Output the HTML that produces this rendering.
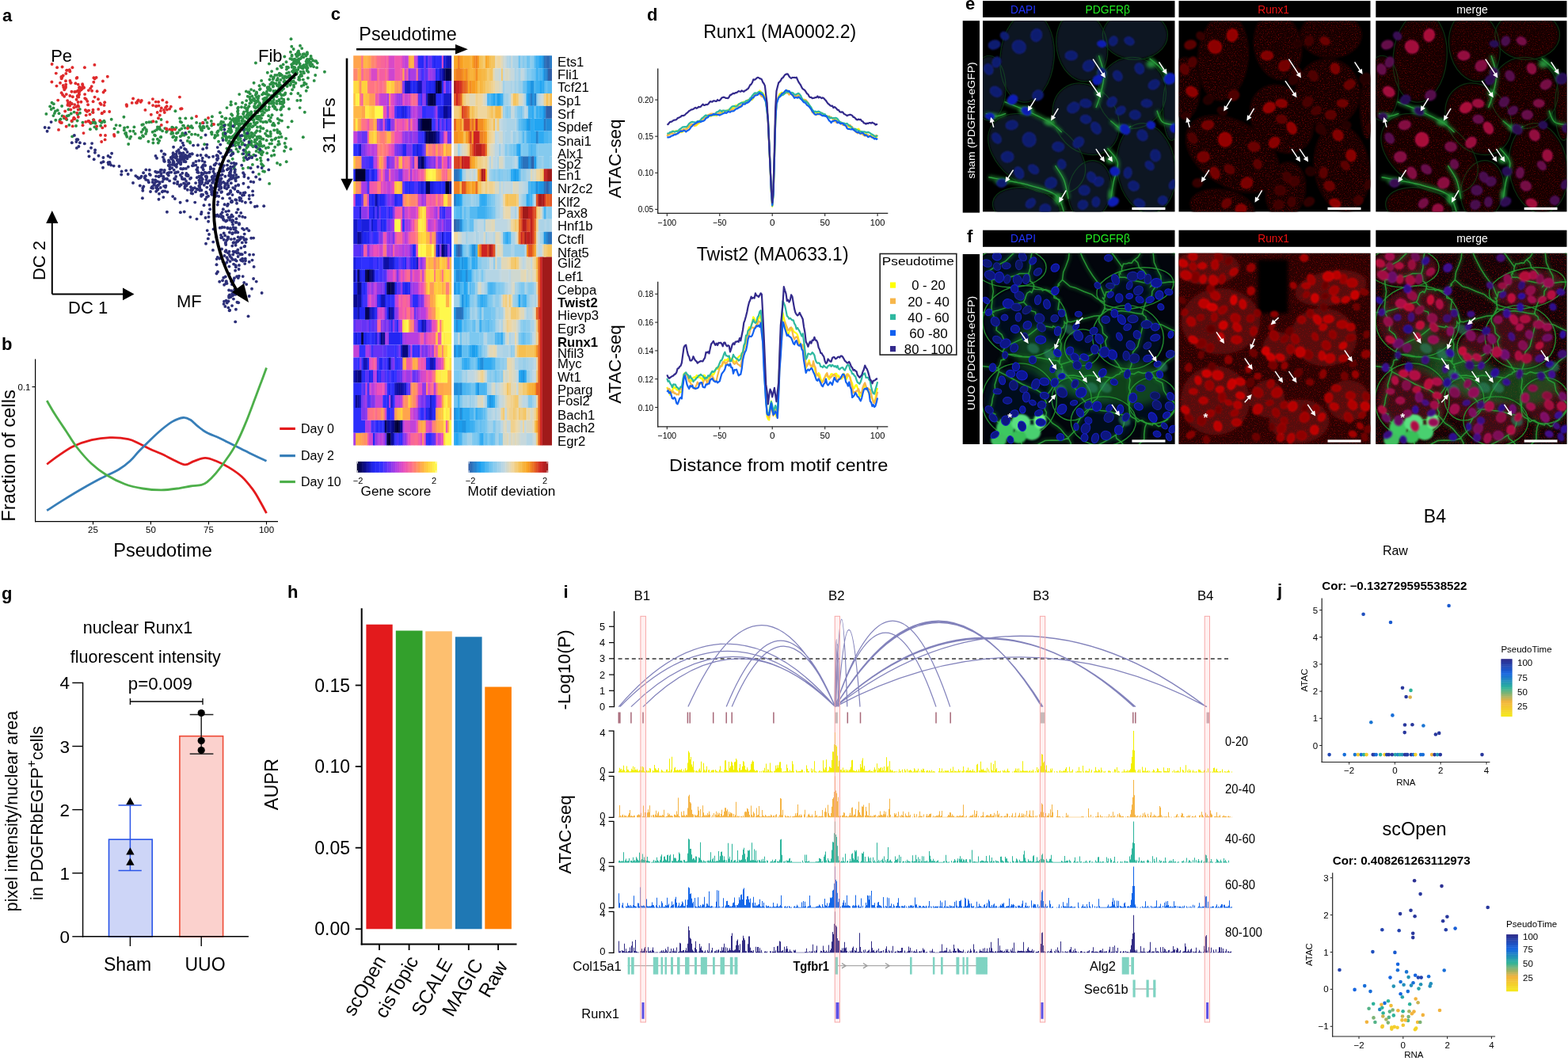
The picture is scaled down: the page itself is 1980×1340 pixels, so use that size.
<!DOCTYPE html>
<html><head><meta charset="utf-8"><title>Figure</title>
<style>html,body{margin:0;padding:0;background:#fff;overflow:hidden;}svg{display:block;font-family:"Liberation Sans",Arial,Helvetica,sans-serif;}</style>
</head><body>
<svg width="1980" height="1340" viewBox="0 0 1980 1340">
<rect width="1980" height="1340" fill="#fff"/>
<g fill="#2b8f45"><circle cx="328" cy="174.6" r="1.95"/><circle cx="332.1" cy="132" r="1.95"/><circle cx="284.9" cy="172.3" r="1.95"/><circle cx="313.2" cy="142.4" r="1.95"/><circle cx="333.9" cy="142.1" r="1.95"/><circle cx="281.8" cy="170" r="1.95"/><circle cx="369.1" cy="113.3" r="1.95"/><circle cx="339.8" cy="110" r="1.95"/><circle cx="324.1" cy="149.3" r="1.95"/><circle cx="315.3" cy="122.8" r="1.95"/><circle cx="371.1" cy="109.9" r="1.95"/><circle cx="392.6" cy="70.9" r="1.95"/><circle cx="320.3" cy="124.5" r="1.95"/><circle cx="302.8" cy="156.2" r="1.95"/><circle cx="304.5" cy="161.6" r="1.95"/><circle cx="297.7" cy="150.3" r="1.95"/><circle cx="370.9" cy="107.7" r="1.95"/><circle cx="296.4" cy="157.4" r="1.95"/><circle cx="306.4" cy="180.7" r="1.95"/><circle cx="345.6" cy="98.2" r="1.95"/><circle cx="301.2" cy="150.7" r="1.95"/><circle cx="370.5" cy="91.6" r="1.95"/><circle cx="386.7" cy="114.8" r="1.95"/><circle cx="331.2" cy="139.7" r="1.95"/><circle cx="378.5" cy="100.8" r="1.95"/><circle cx="364.6" cy="97.4" r="1.95"/><circle cx="357.9" cy="134.6" r="1.95"/><circle cx="377.5" cy="74.4" r="1.95"/><circle cx="380.8" cy="108.8" r="1.95"/><circle cx="315.8" cy="118.6" r="1.95"/><circle cx="346.9" cy="137" r="1.95"/><circle cx="345.7" cy="126.1" r="1.95"/><circle cx="374.4" cy="93.7" r="1.95"/><circle cx="375.1" cy="91.9" r="1.95"/><circle cx="339.3" cy="138.6" r="1.95"/><circle cx="353.7" cy="118.2" r="1.95"/><circle cx="387.8" cy="75.3" r="1.95"/><circle cx="288.1" cy="180.5" r="1.95"/><circle cx="321.4" cy="135.5" r="1.95"/><circle cx="301.4" cy="148.7" r="1.95"/><circle cx="345.5" cy="97.8" r="1.95"/><circle cx="334.2" cy="123.9" r="1.95"/><circle cx="285.7" cy="176.7" r="1.95"/><circle cx="310.3" cy="174.4" r="1.95"/><circle cx="363.1" cy="97.3" r="1.95"/><circle cx="327.1" cy="172.4" r="1.95"/><circle cx="300.6" cy="143.7" r="1.95"/><circle cx="298" cy="152.1" r="1.95"/><circle cx="389.4" cy="75.6" r="1.95"/><circle cx="369" cy="90.2" r="1.95"/><circle cx="383.3" cy="72.3" r="1.95"/><circle cx="325.9" cy="123.8" r="1.95"/><circle cx="297.5" cy="179.1" r="1.95"/><circle cx="284.1" cy="157.8" r="1.95"/><circle cx="345" cy="108.4" r="1.95"/><circle cx="372.8" cy="76.7" r="1.95"/><circle cx="333.3" cy="132.6" r="1.95"/><circle cx="311.2" cy="127.1" r="1.95"/><circle cx="353.4" cy="115.9" r="1.95"/><circle cx="332.1" cy="106.6" r="1.95"/><circle cx="267.2" cy="158.6" r="1.95"/><circle cx="361.9" cy="87.6" r="1.95"/><circle cx="352.8" cy="106.5" r="1.95"/><circle cx="282" cy="154.2" r="1.95"/><circle cx="396.1" cy="84.2" r="1.95"/><circle cx="310.9" cy="158" r="1.95"/><circle cx="298.5" cy="188.2" r="1.95"/><circle cx="377.3" cy="67.3" r="1.95"/><circle cx="280.2" cy="160.3" r="1.95"/><circle cx="323" cy="146.5" r="1.95"/><circle cx="300" cy="141.1" r="1.95"/><circle cx="383.7" cy="84.3" r="1.95"/><circle cx="372.8" cy="77.6" r="1.95"/><circle cx="337.4" cy="118.9" r="1.95"/><circle cx="371.2" cy="80" r="1.95"/><circle cx="306" cy="129.8" r="1.95"/><circle cx="370.1" cy="90" r="1.95"/><circle cx="382.7" cy="68.5" r="1.95"/><circle cx="294.7" cy="173.5" r="1.95"/><circle cx="295.7" cy="160.1" r="1.95"/><circle cx="347.2" cy="121.3" r="1.95"/><circle cx="366.9" cy="65.8" r="1.95"/><circle cx="331.9" cy="144.9" r="1.95"/><circle cx="352.1" cy="127.3" r="1.95"/><circle cx="327.5" cy="108.3" r="1.95"/><circle cx="321" cy="134.1" r="1.95"/><circle cx="381.2" cy="71.5" r="1.95"/><circle cx="320.1" cy="151.5" r="1.95"/><circle cx="300.4" cy="165.6" r="1.95"/><circle cx="367.7" cy="102.9" r="1.95"/><circle cx="360.4" cy="96.7" r="1.95"/><circle cx="304.8" cy="163.3" r="1.95"/><circle cx="335" cy="118.6" r="1.95"/><circle cx="354.5" cy="100.9" r="1.95"/><circle cx="289.7" cy="178.1" r="1.95"/><circle cx="375.9" cy="66.2" r="1.95"/><circle cx="377.2" cy="100.5" r="1.95"/><circle cx="342.4" cy="123" r="1.95"/><circle cx="364" cy="85.4" r="1.95"/><circle cx="322.9" cy="79.5" r="1.95"/><circle cx="294.7" cy="171.6" r="1.95"/><circle cx="386" cy="84.9" r="1.95"/><circle cx="368.3" cy="58.8" r="1.95"/><circle cx="320.7" cy="154.8" r="1.95"/><circle cx="367.5" cy="49.2" r="1.95"/><circle cx="308.2" cy="159.7" r="1.95"/><circle cx="387.9" cy="66.3" r="1.95"/><circle cx="308.3" cy="165.2" r="1.95"/><circle cx="346.3" cy="117.9" r="1.95"/><circle cx="292.2" cy="166.3" r="1.95"/><circle cx="366.4" cy="74.1" r="1.95"/><circle cx="371" cy="87.7" r="1.95"/><circle cx="384.3" cy="104.5" r="1.95"/><circle cx="373.6" cy="68.7" r="1.95"/><circle cx="332.9" cy="117.5" r="1.95"/><circle cx="359.5" cy="96.4" r="1.95"/><circle cx="305" cy="135.3" r="1.95"/><circle cx="310.1" cy="162.6" r="1.95"/><circle cx="387.8" cy="79.9" r="1.95"/><circle cx="325" cy="160.5" r="1.95"/><circle cx="378.6" cy="68.6" r="1.95"/><circle cx="313.6" cy="165.8" r="1.95"/><circle cx="285.4" cy="149.4" r="1.95"/><circle cx="320.6" cy="104.8" r="1.95"/><circle cx="339.2" cy="119.7" r="1.95"/><circle cx="299.3" cy="164.7" r="1.95"/><circle cx="297.6" cy="154.4" r="1.95"/><circle cx="348.5" cy="105.4" r="1.95"/><circle cx="321.3" cy="127.3" r="1.95"/><circle cx="400.7" cy="79.6" r="1.95"/><circle cx="338" cy="126.8" r="1.95"/><circle cx="382.5" cy="86.5" r="1.95"/><circle cx="314.7" cy="178.6" r="1.95"/><circle cx="359.7" cy="106.7" r="1.95"/><circle cx="319.7" cy="159.2" r="1.95"/><circle cx="370.7" cy="62" r="1.95"/><circle cx="354.2" cy="138.5" r="1.95"/><circle cx="347.5" cy="135.7" r="1.95"/><circle cx="391.8" cy="74.2" r="1.95"/><circle cx="287.6" cy="173.6" r="1.95"/><circle cx="375.7" cy="75.8" r="1.95"/><circle cx="364.3" cy="96.2" r="1.95"/><circle cx="383.6" cy="82.3" r="1.95"/><circle cx="316.7" cy="144.9" r="1.95"/><circle cx="326.3" cy="133.2" r="1.95"/><circle cx="343.5" cy="145.3" r="1.95"/><circle cx="382.9" cy="83" r="1.95"/><circle cx="299.5" cy="164.4" r="1.95"/><circle cx="381.4" cy="85.8" r="1.95"/><circle cx="346.1" cy="130.1" r="1.95"/><circle cx="379" cy="83.2" r="1.95"/><circle cx="341.2" cy="106.4" r="1.95"/><circle cx="291.2" cy="154.4" r="1.95"/><circle cx="388.9" cy="98.5" r="1.95"/><circle cx="380.7" cy="93.9" r="1.95"/><circle cx="295.8" cy="151.5" r="1.95"/><circle cx="350.2" cy="118.6" r="1.95"/><circle cx="310.6" cy="169.1" r="1.95"/><circle cx="292.7" cy="173" r="1.95"/><circle cx="312.2" cy="157.2" r="1.95"/><circle cx="350.8" cy="100.9" r="1.95"/><circle cx="330.1" cy="101.9" r="1.95"/><circle cx="296.1" cy="170.4" r="1.95"/><circle cx="303.2" cy="156.4" r="1.95"/><circle cx="339" cy="128.2" r="1.95"/><circle cx="283.6" cy="167.6" r="1.95"/><circle cx="349.4" cy="118.2" r="1.95"/><circle cx="331.2" cy="145.2" r="1.95"/><circle cx="376.7" cy="69.7" r="1.95"/><circle cx="347.4" cy="118.5" r="1.95"/><circle cx="377.1" cy="85.1" r="1.95"/><circle cx="284.9" cy="171.4" r="1.95"/><circle cx="344" cy="158" r="1.95"/><circle cx="292.2" cy="144.3" r="1.95"/><circle cx="400.1" cy="85.4" r="1.95"/><circle cx="324.6" cy="140.5" r="1.95"/><circle cx="350" cy="86.9" r="1.95"/><circle cx="323.4" cy="118.1" r="1.95"/><circle cx="370.6" cy="102.4" r="1.95"/><circle cx="355.5" cy="145.2" r="1.95"/><circle cx="352.8" cy="92.7" r="1.95"/><circle cx="361.9" cy="105.6" r="1.95"/><circle cx="331.9" cy="137.6" r="1.95"/><circle cx="296.4" cy="179.9" r="1.95"/><circle cx="342.7" cy="121" r="1.95"/><circle cx="332.3" cy="125.1" r="1.95"/><circle cx="374.4" cy="80.7" r="1.95"/><circle cx="366.4" cy="107.5" r="1.95"/><circle cx="362.1" cy="92.4" r="1.95"/><circle cx="398.2" cy="95" r="1.95"/><circle cx="331.4" cy="140.5" r="1.95"/><circle cx="334.3" cy="134.9" r="1.95"/><circle cx="320.6" cy="151.3" r="1.95"/><circle cx="353.9" cy="130.9" r="1.95"/><circle cx="345.3" cy="124.1" r="1.95"/><circle cx="358.5" cy="103.2" r="1.95"/><circle cx="331.1" cy="119.4" r="1.95"/><circle cx="352.1" cy="112.5" r="1.95"/><circle cx="354.9" cy="108.8" r="1.95"/><circle cx="299" cy="162.3" r="1.95"/><circle cx="328.6" cy="112.3" r="1.95"/><circle cx="354.4" cy="93.7" r="1.95"/><circle cx="309.9" cy="153.9" r="1.95"/><circle cx="359.3" cy="71.5" r="1.95"/><circle cx="337.9" cy="110.5" r="1.95"/><circle cx="392.4" cy="83.6" r="1.95"/><circle cx="307.4" cy="143.5" r="1.95"/><circle cx="377" cy="78.5" r="1.95"/><circle cx="291.7" cy="128.7" r="1.95"/><circle cx="379.6" cy="90.8" r="1.95"/><circle cx="312.9" cy="136.2" r="1.95"/><circle cx="316.8" cy="127.3" r="1.95"/><circle cx="349.4" cy="138.6" r="1.95"/><circle cx="313.6" cy="150.4" r="1.95"/><circle cx="355.5" cy="135.6" r="1.95"/><circle cx="312.9" cy="159.6" r="1.95"/><circle cx="396.7" cy="101.9" r="1.95"/><circle cx="284.3" cy="149.7" r="1.95"/><circle cx="328.9" cy="132.9" r="1.95"/><circle cx="327.9" cy="113.1" r="1.95"/><circle cx="349.9" cy="117.7" r="1.95"/><circle cx="300" cy="146.6" r="1.95"/><circle cx="359.7" cy="119.3" r="1.95"/><circle cx="356.8" cy="131.9" r="1.95"/><circle cx="357.1" cy="98.1" r="1.95"/><circle cx="358.1" cy="120" r="1.95"/><circle cx="360.4" cy="107.6" r="1.95"/><circle cx="301.9" cy="149.2" r="1.95"/><circle cx="352.6" cy="126" r="1.95"/><circle cx="373.9" cy="91.5" r="1.95"/><circle cx="325.9" cy="127.7" r="1.95"/><circle cx="313.5" cy="116.6" r="1.95"/><circle cx="347.3" cy="95" r="1.95"/><circle cx="290.4" cy="149.9" r="1.95"/><circle cx="388.4" cy="110.2" r="1.95"/><circle cx="345.3" cy="115" r="1.95"/><circle cx="387.6" cy="75.8" r="1.95"/><circle cx="350.7" cy="150" r="1.95"/><circle cx="308.9" cy="153.2" r="1.95"/><circle cx="324.1" cy="118" r="1.95"/><circle cx="336.8" cy="126" r="1.95"/><circle cx="324.8" cy="150.1" r="1.95"/><circle cx="323.2" cy="129.1" r="1.95"/><circle cx="342.3" cy="95.9" r="1.95"/><circle cx="339.9" cy="130.8" r="1.95"/><circle cx="387.5" cy="86.7" r="1.95"/><circle cx="325.8" cy="124.6" r="1.95"/><circle cx="314.5" cy="116.1" r="1.95"/><circle cx="355" cy="137.5" r="1.95"/><circle cx="365" cy="137.5" r="1.95"/><circle cx="375.3" cy="126.9" r="1.95"/><circle cx="333.2" cy="125.2" r="1.95"/><circle cx="362.7" cy="109.1" r="1.95"/><circle cx="282.6" cy="171" r="1.95"/><circle cx="389.3" cy="90.9" r="1.95"/><circle cx="302.1" cy="172.4" r="1.95"/><circle cx="300.7" cy="191.5" r="1.95"/><circle cx="301.3" cy="170.2" r="1.95"/><circle cx="358.6" cy="99" r="1.95"/><circle cx="342.8" cy="130.7" r="1.95"/><circle cx="372.7" cy="89.9" r="1.95"/><circle cx="330.9" cy="144.3" r="1.95"/><circle cx="290.5" cy="182.1" r="1.95"/><circle cx="315.4" cy="130.4" r="1.95"/><circle cx="305.4" cy="152.8" r="1.95"/><circle cx="359.5" cy="103.4" r="1.95"/><circle cx="360.1" cy="103.6" r="1.95"/><circle cx="312.7" cy="171.7" r="1.95"/><circle cx="377.5" cy="97.7" r="1.95"/><circle cx="345.1" cy="130" r="1.95"/><circle cx="325" cy="142" r="1.95"/><circle cx="324" cy="116.4" r="1.95"/><circle cx="348.2" cy="114.6" r="1.95"/><circle cx="371" cy="75.2" r="1.95"/><circle cx="368.6" cy="69.6" r="1.95"/><circle cx="376.3" cy="75.9" r="1.95"/><circle cx="294.8" cy="149.9" r="1.95"/><circle cx="325.3" cy="135.2" r="1.95"/><circle cx="393.5" cy="74.2" r="1.95"/><circle cx="315.5" cy="159.1" r="1.95"/><circle cx="342" cy="96.2" r="1.95"/><circle cx="374.3" cy="88.7" r="1.95"/><circle cx="291.4" cy="163.8" r="1.95"/><circle cx="335.1" cy="138.3" r="1.95"/><circle cx="343.2" cy="104.1" r="1.95"/><circle cx="377.4" cy="67.3" r="1.95"/><circle cx="296.5" cy="180.7" r="1.95"/><circle cx="349.7" cy="122.1" r="1.95"/><circle cx="391.7" cy="79.1" r="1.95"/><circle cx="287.9" cy="166" r="1.95"/><circle cx="301.7" cy="172.9" r="1.95"/><circle cx="308.5" cy="161.9" r="1.95"/><circle cx="278.3" cy="162.9" r="1.95"/><circle cx="332.9" cy="117.5" r="1.95"/><circle cx="352.3" cy="114.1" r="1.95"/><circle cx="313.8" cy="146.3" r="1.95"/><circle cx="291.1" cy="157.4" r="1.95"/><circle cx="338.5" cy="120.6" r="1.95"/><circle cx="379.6" cy="94.8" r="1.95"/><circle cx="344.8" cy="100" r="1.95"/><circle cx="339.9" cy="80.6" r="1.95"/><circle cx="324" cy="122.8" r="1.95"/><circle cx="343.8" cy="104.8" r="1.95"/><circle cx="344.8" cy="109.6" r="1.95"/><circle cx="301.9" cy="157.5" r="1.95"/><circle cx="354.2" cy="107.8" r="1.95"/><circle cx="356.1" cy="95.1" r="1.95"/><circle cx="354.3" cy="83.4" r="1.95"/><circle cx="352.7" cy="104.2" r="1.95"/><circle cx="376.3" cy="87.9" r="1.95"/><circle cx="366.8" cy="102.7" r="1.95"/><circle cx="296.2" cy="153.8" r="1.95"/><circle cx="295.9" cy="153.7" r="1.95"/><circle cx="301.6" cy="152.7" r="1.95"/><circle cx="308" cy="141.4" r="1.95"/><circle cx="346" cy="105.1" r="1.95"/><circle cx="291.8" cy="174.2" r="1.95"/><circle cx="336.7" cy="123.2" r="1.95"/><circle cx="368.7" cy="75" r="1.95"/><circle cx="317.6" cy="147.5" r="1.95"/><circle cx="310.9" cy="115.4" r="1.95"/><circle cx="352.3" cy="109.5" r="1.95"/><circle cx="357.6" cy="81.4" r="1.95"/><circle cx="291.3" cy="157" r="1.95"/><circle cx="326.8" cy="121.5" r="1.95"/><circle cx="361.9" cy="98.1" r="1.95"/><circle cx="330" cy="149.3" r="1.95"/><circle cx="334.4" cy="134.4" r="1.95"/><circle cx="374.9" cy="71.5" r="1.95"/><circle cx="368.6" cy="84.7" r="1.95"/><circle cx="327.1" cy="147.6" r="1.95"/><circle cx="387.8" cy="89.2" r="1.95"/><circle cx="341.5" cy="127.1" r="1.95"/><circle cx="353.5" cy="95.4" r="1.95"/><circle cx="364.8" cy="91.5" r="1.95"/><circle cx="379.9" cy="85.1" r="1.95"/><circle cx="355.6" cy="120.3" r="1.95"/><circle cx="292" cy="165.4" r="1.95"/><circle cx="317.3" cy="180.3" r="1.95"/><circle cx="378.2" cy="84.6" r="1.95"/><circle cx="317.2" cy="141.4" r="1.95"/><circle cx="326.2" cy="146.9" r="1.95"/><circle cx="314.4" cy="134.2" r="1.95"/><circle cx="317" cy="145.4" r="1.95"/><circle cx="337.8" cy="91.7" r="1.95"/><circle cx="323" cy="136.2" r="1.95"/><circle cx="290.5" cy="164.8" r="1.95"/><circle cx="314" cy="149.8" r="1.95"/><circle cx="390.1" cy="76.7" r="1.95"/><circle cx="372.3" cy="85.2" r="1.95"/><circle cx="344.4" cy="104.3" r="1.95"/><circle cx="392.3" cy="78.7" r="1.95"/><circle cx="361.5" cy="78.2" r="1.95"/><circle cx="314.4" cy="172.8" r="1.95"/><circle cx="370.5" cy="103.2" r="1.95"/><circle cx="348.6" cy="120.1" r="1.95"/><circle cx="399.1" cy="77.3" r="1.95"/><circle cx="301.6" cy="159" r="1.95"/><circle cx="394.3" cy="81.5" r="1.95"/><circle cx="302.7" cy="164.3" r="1.95"/><circle cx="367.5" cy="98" r="1.95"/><circle cx="378.6" cy="80.5" r="1.95"/><circle cx="299.8" cy="174.4" r="1.95"/><circle cx="300.5" cy="139.8" r="1.95"/><circle cx="343.1" cy="105.8" r="1.95"/><circle cx="308.7" cy="147.5" r="1.95"/><circle cx="388.5" cy="85.8" r="1.95"/><circle cx="308.2" cy="189.5" r="1.95"/><circle cx="309" cy="135.7" r="1.95"/><circle cx="307.2" cy="144" r="1.95"/><circle cx="354.1" cy="129.3" r="1.95"/><circle cx="389.1" cy="78.7" r="1.95"/><circle cx="345.8" cy="133.7" r="1.95"/><circle cx="282.6" cy="160.3" r="1.95"/><circle cx="376.9" cy="64.4" r="1.95"/><circle cx="314.5" cy="143.6" r="1.95"/><circle cx="339.8" cy="135.2" r="1.95"/><circle cx="295.2" cy="181.6" r="1.95"/><circle cx="373.4" cy="105" r="1.95"/><circle cx="391.1" cy="81.9" r="1.95"/><circle cx="363.6" cy="85" r="1.95"/><circle cx="350" cy="94.9" r="1.95"/><circle cx="310.2" cy="132.4" r="1.95"/><circle cx="366" cy="95.2" r="1.95"/><circle cx="334.1" cy="107.9" r="1.95"/><circle cx="296.1" cy="175.3" r="1.95"/><circle cx="291.6" cy="159.8" r="1.95"/><circle cx="383.9" cy="92.3" r="1.95"/><circle cx="307.7" cy="161" r="1.95"/><circle cx="333" cy="128.9" r="1.95"/><circle cx="325.9" cy="147.1" r="1.95"/><circle cx="342" cy="148.6" r="1.95"/><circle cx="299.6" cy="156.3" r="1.95"/><circle cx="381.7" cy="84.3" r="1.95"/><circle cx="362.1" cy="84.6" r="1.95"/><circle cx="386.6" cy="77.6" r="1.95"/><circle cx="311.4" cy="140.3" r="1.95"/><circle cx="338.3" cy="112.7" r="1.95"/><circle cx="336.9" cy="115.7" r="1.95"/><circle cx="351.5" cy="107.6" r="1.95"/><circle cx="388" cy="68.3" r="1.95"/><circle cx="285.8" cy="177.1" r="1.95"/><circle cx="318.8" cy="151" r="1.95"/><circle cx="290.9" cy="179.6" r="1.95"/><circle cx="341.3" cy="124.4" r="1.95"/><circle cx="341.6" cy="113" r="1.95"/><circle cx="381.2" cy="61.1" r="1.95"/><circle cx="301" cy="176.6" r="1.95"/><circle cx="301.4" cy="180.4" r="1.95"/><circle cx="322.2" cy="140.5" r="1.95"/><circle cx="370.8" cy="78.6" r="1.95"/><circle cx="386.5" cy="70.5" r="1.95"/><circle cx="376.4" cy="118" r="1.95"/><circle cx="382.8" cy="100.6" r="1.95"/><circle cx="305.4" cy="182.5" r="1.95"/><circle cx="370.5" cy="84.8" r="1.95"/><circle cx="328.3" cy="165.7" r="1.95"/><circle cx="350.7" cy="99" r="1.95"/><circle cx="343.1" cy="90.1" r="1.95"/><circle cx="360.3" cy="117.5" r="1.95"/><circle cx="305.6" cy="162.4" r="1.95"/><circle cx="355.7" cy="85.3" r="1.95"/><circle cx="322" cy="135" r="1.95"/><circle cx="309.4" cy="163.6" r="1.95"/><circle cx="308.7" cy="189.7" r="1.95"/><circle cx="344.1" cy="128.3" r="1.95"/><circle cx="359.9" cy="102.3" r="1.95"/><circle cx="318.4" cy="121.5" r="1.95"/><circle cx="368.2" cy="81.4" r="1.95"/><circle cx="341" cy="114.3" r="1.95"/><circle cx="388.4" cy="75" r="1.95"/><circle cx="340" cy="112.5" r="1.95"/><circle cx="379" cy="57.7" r="1.95"/><circle cx="292.8" cy="151.7" r="1.95"/><circle cx="358.3" cy="127.7" r="1.95"/><circle cx="367.1" cy="105.9" r="1.95"/><circle cx="355.6" cy="124.1" r="1.95"/><circle cx="367.5" cy="118.2" r="1.95"/><circle cx="298.9" cy="154.5" r="1.95"/><circle cx="291.6" cy="164" r="1.95"/><circle cx="338.5" cy="111.8" r="1.95"/><circle cx="335" cy="134.1" r="1.95"/><circle cx="378.3" cy="74.6" r="1.95"/><circle cx="379.4" cy="126.8" r="1.95"/><circle cx="289.2" cy="162.6" r="1.95"/><circle cx="277.9" cy="142.2" r="1.95"/><circle cx="329.2" cy="140.4" r="1.95"/><circle cx="293.3" cy="145.8" r="1.95"/><circle cx="322.1" cy="131.1" r="1.95"/><circle cx="379.2" cy="120.9" r="1.95"/><circle cx="349.7" cy="130.9" r="1.95"/><circle cx="325.1" cy="142.3" r="1.95"/><circle cx="289.8" cy="158.2" r="1.95"/><circle cx="384.2" cy="68.2" r="1.95"/><circle cx="332.2" cy="106.5" r="1.95"/><circle cx="387.3" cy="83.5" r="1.95"/><circle cx="336.8" cy="139.6" r="1.95"/><circle cx="358.2" cy="125.7" r="1.95"/><circle cx="351.7" cy="114.8" r="1.95"/><circle cx="372.2" cy="74.8" r="1.95"/><circle cx="317.1" cy="113.1" r="1.95"/><circle cx="375.8" cy="77.9" r="1.95"/><circle cx="386.8" cy="85.2" r="1.95"/><circle cx="335.3" cy="127.4" r="1.95"/><circle cx="322.8" cy="120" r="1.95"/><circle cx="371.5" cy="98.2" r="1.95"/><circle cx="338.9" cy="127.2" r="1.95"/><circle cx="321.4" cy="126" r="1.95"/><circle cx="379.9" cy="73.8" r="1.95"/><circle cx="337.9" cy="110.5" r="1.95"/><circle cx="323.7" cy="155.3" r="1.95"/><circle cx="291.4" cy="132.3" r="1.95"/><circle cx="297.6" cy="130.9" r="1.95"/><circle cx="377" cy="77" r="1.95"/><circle cx="381.1" cy="95.9" r="1.95"/><circle cx="302.9" cy="187.1" r="1.95"/><circle cx="383" cy="90.4" r="1.95"/><circle cx="303.1" cy="148" r="1.95"/><circle cx="349.9" cy="108" r="1.95"/><circle cx="395.3" cy="76.5" r="1.95"/><circle cx="363.2" cy="105.7" r="1.95"/><circle cx="332.3" cy="162.2" r="1.95"/><circle cx="317.5" cy="129.1" r="1.95"/><circle cx="316.3" cy="181.6" r="1.95"/><circle cx="306.2" cy="171.3" r="1.95"/><circle cx="374.2" cy="88.4" r="1.95"/><circle cx="318.1" cy="160.2" r="1.95"/><circle cx="317.2" cy="141.5" r="1.95"/><circle cx="356" cy="114.1" r="1.95"/><circle cx="300.2" cy="136.8" r="1.95"/><circle cx="391.7" cy="79" r="1.95"/><circle cx="318.7" cy="126.6" r="1.95"/><circle cx="299.8" cy="150.5" r="1.95"/><circle cx="368.5" cy="70.9" r="1.95"/><circle cx="370.5" cy="103.2" r="1.95"/><circle cx="386.7" cy="106.1" r="1.95"/><circle cx="324.5" cy="127.5" r="1.95"/><circle cx="375.8" cy="78.2" r="1.95"/><circle cx="305.8" cy="155.9" r="1.95"/><circle cx="378.8" cy="96.6" r="1.95"/><circle cx="320.8" cy="146.6" r="1.95"/><circle cx="340.5" cy="100.5" r="1.95"/><circle cx="320.7" cy="114.6" r="1.95"/><circle cx="310.8" cy="137.1" r="1.95"/><circle cx="409.9" cy="90.7" r="1.95"/><circle cx="349.5" cy="101.2" r="1.95"/><circle cx="290.4" cy="156.2" r="1.95"/><circle cx="301.1" cy="151.2" r="1.95"/><circle cx="303.2" cy="157.2" r="1.95"/><circle cx="326.9" cy="150.9" r="1.95"/><circle cx="369" cy="81.1" r="1.95"/><circle cx="315.2" cy="174.7" r="1.95"/><circle cx="315.9" cy="125.3" r="1.95"/><circle cx="386.7" cy="81" r="1.95"/><circle cx="291.1" cy="161.4" r="1.95"/><circle cx="323.9" cy="128.7" r="1.95"/><circle cx="352" cy="107.6" r="1.95"/><circle cx="349.4" cy="127.9" r="1.95"/><circle cx="358.1" cy="112.1" r="1.95"/><circle cx="398.1" cy="77.3" r="1.95"/><circle cx="324.5" cy="201.4" r="1.95"/><circle cx="327.2" cy="183.3" r="1.95"/><circle cx="329.7" cy="194.4" r="1.95"/><circle cx="341.5" cy="166.4" r="1.95"/><circle cx="328.7" cy="159.9" r="1.95"/><circle cx="312" cy="162.7" r="1.95"/><circle cx="340.1" cy="231.9" r="1.95"/><circle cx="318.9" cy="207.9" r="1.95"/><circle cx="329.1" cy="181.4" r="1.95"/><circle cx="289.1" cy="203.5" r="1.95"/><circle cx="292.1" cy="184.2" r="1.95"/><circle cx="306.5" cy="181.6" r="1.95"/><circle cx="367.1" cy="188.2" r="1.95"/><circle cx="289.5" cy="191.4" r="1.95"/><circle cx="309.8" cy="189.9" r="1.95"/><circle cx="280.9" cy="174.2" r="1.95"/><circle cx="313.9" cy="169.2" r="1.95"/><circle cx="337.1" cy="165.2" r="1.95"/><circle cx="321.3" cy="170.9" r="1.95"/><circle cx="345.4" cy="190.3" r="1.95"/><circle cx="316" cy="173" r="1.95"/><circle cx="332.4" cy="175.8" r="1.95"/><circle cx="338.7" cy="172" r="1.95"/><circle cx="330.4" cy="190.9" r="1.95"/><circle cx="297.2" cy="168.9" r="1.95"/><circle cx="327.8" cy="172.6" r="1.95"/><circle cx="338.9" cy="186.3" r="1.95"/><circle cx="322.7" cy="167.5" r="1.95"/><circle cx="327.9" cy="130.2" r="1.95"/><circle cx="298.2" cy="168.5" r="1.95"/><circle cx="351.7" cy="155.5" r="1.95"/><circle cx="323.6" cy="190.9" r="1.95"/><circle cx="351" cy="182.7" r="1.95"/><circle cx="322.2" cy="183.3" r="1.95"/><circle cx="306.2" cy="194.4" r="1.95"/><circle cx="298" cy="149.5" r="1.95"/><circle cx="324.5" cy="176" r="1.95"/><circle cx="340.5" cy="181.6" r="1.95"/><circle cx="321.9" cy="176.4" r="1.95"/><circle cx="350.7" cy="167.6" r="1.95"/><circle cx="342.9" cy="176.6" r="1.95"/><circle cx="352.9" cy="181.9" r="1.95"/><circle cx="307.9" cy="199.2" r="1.95"/><circle cx="360.5" cy="185.2" r="1.95"/><circle cx="331" cy="208" r="1.95"/><circle cx="342.9" cy="181.4" r="1.95"/><circle cx="314.6" cy="193" r="1.95"/><circle cx="312.6" cy="144.1" r="1.95"/><circle cx="300.9" cy="162.2" r="1.95"/><circle cx="293.7" cy="200.7" r="1.95"/><circle cx="336.9" cy="171.3" r="1.95"/><circle cx="285.7" cy="175" r="1.95"/><circle cx="335" cy="168.7" r="1.95"/><circle cx="324.7" cy="173" r="1.95"/><circle cx="319" cy="168.6" r="1.95"/><circle cx="298.7" cy="165.4" r="1.95"/><circle cx="322.4" cy="178.8" r="1.95"/><circle cx="361.7" cy="204.2" r="1.95"/><circle cx="300.9" cy="135.6" r="1.95"/><circle cx="313.5" cy="211.8" r="1.95"/><circle cx="328.9" cy="173" r="1.95"/><circle cx="311.1" cy="196.4" r="1.95"/><circle cx="337.2" cy="193.4" r="1.95"/><circle cx="359" cy="190.8" r="1.95"/><circle cx="329.1" cy="153" r="1.95"/><circle cx="322.3" cy="157.4" r="1.95"/><circle cx="303.7" cy="175.1" r="1.95"/><circle cx="295.2" cy="178.9" r="1.95"/><circle cx="346.2" cy="164.4" r="1.95"/><circle cx="350.6" cy="166.5" r="1.95"/><circle cx="286.5" cy="187.5" r="1.95"/><circle cx="359.6" cy="180.9" r="1.95"/><circle cx="317.4" cy="178.2" r="1.95"/><circle cx="347.2" cy="175.7" r="1.95"/><circle cx="328.9" cy="199.6" r="1.95"/><circle cx="314.4" cy="164.3" r="1.95"/><circle cx="279.6" cy="163.7" r="1.95"/><circle cx="363.8" cy="160.6" r="1.95"/><circle cx="352.7" cy="166.5" r="1.95"/><circle cx="326.3" cy="182.4" r="1.95"/><circle cx="315.1" cy="157.5" r="1.95"/><circle cx="330.6" cy="195.5" r="1.95"/><circle cx="355.9" cy="152.6" r="1.95"/><circle cx="335.8" cy="187" r="1.95"/><circle cx="352.2" cy="173.5" r="1.95"/><circle cx="332.5" cy="209.4" r="1.95"/><circle cx="328.6" cy="178.9" r="1.95"/><circle cx="358.4" cy="129.5" r="1.95"/><circle cx="313.1" cy="164.3" r="1.95"/><circle cx="340.1" cy="151.7" r="1.95"/><circle cx="329.3" cy="183.9" r="1.95"/><circle cx="316.9" cy="182.1" r="1.95"/><circle cx="310.1" cy="174" r="1.95"/><circle cx="310.2" cy="191.6" r="1.95"/><circle cx="308.9" cy="167.9" r="1.95"/><circle cx="334" cy="216.8" r="1.95"/><circle cx="297.2" cy="184" r="1.95"/><circle cx="313.1" cy="185" r="1.95"/><circle cx="329.5" cy="161.9" r="1.95"/><circle cx="331.5" cy="184.7" r="1.95"/><circle cx="345.2" cy="155.7" r="1.95"/><circle cx="316.9" cy="197.5" r="1.95"/><circle cx="316.8" cy="172" r="1.95"/><circle cx="329.6" cy="203" r="1.95"/><circle cx="293.9" cy="192.5" r="1.95"/><circle cx="354" cy="169" r="1.95"/><circle cx="304.3" cy="178.5" r="1.95"/><circle cx="343.5" cy="177.1" r="1.95"/><circle cx="310.5" cy="175.1" r="1.95"/><circle cx="289.4" cy="172.7" r="1.95"/><circle cx="333.2" cy="184.1" r="1.95"/><circle cx="320.4" cy="195.6" r="1.95"/><circle cx="314.4" cy="192.1" r="1.95"/><circle cx="295.5" cy="212.5" r="1.95"/><circle cx="361.1" cy="174.9" r="1.95"/><circle cx="325.9" cy="187.8" r="1.95"/><circle cx="324.5" cy="181.4" r="1.95"/><circle cx="326" cy="187.8" r="1.95"/><circle cx="316.4" cy="182.4" r="1.95"/><circle cx="320.8" cy="196.1" r="1.95"/><circle cx="351.8" cy="178.8" r="1.95"/><circle cx="342.9" cy="196.7" r="1.95"/><circle cx="327" cy="219.9" r="1.95"/><circle cx="295.8" cy="210" r="1.95"/><circle cx="328.2" cy="184.7" r="1.95"/><circle cx="306.8" cy="212.7" r="1.95"/><circle cx="327.9" cy="179.1" r="1.95"/><circle cx="341.7" cy="171.9" r="1.95"/><circle cx="332" cy="192.3" r="1.95"/><circle cx="324.4" cy="186.2" r="1.95"/><circle cx="311.1" cy="175.1" r="1.95"/><circle cx="317.7" cy="170.8" r="1.95"/><circle cx="324.7" cy="173.8" r="1.95"/><circle cx="312.2" cy="183.8" r="1.95"/><circle cx="308" cy="202.8" r="1.95"/><circle cx="312.3" cy="139" r="1.95"/><circle cx="319.2" cy="173.1" r="1.95"/><circle cx="350" cy="206" r="1.95"/><circle cx="313.9" cy="182.8" r="1.95"/><circle cx="311.4" cy="193.3" r="1.95"/><circle cx="336.6" cy="177.2" r="1.95"/><circle cx="315" cy="162.8" r="1.95"/><circle cx="313" cy="166.7" r="1.95"/><circle cx="330" cy="207" r="1.95"/><circle cx="317.3" cy="167.8" r="1.95"/><circle cx="291.1" cy="167.5" r="1.95"/><circle cx="332.2" cy="216.2" r="1.95"/><circle cx="316.3" cy="179.1" r="1.95"/><circle cx="301" cy="183.1" r="1.95"/><circle cx="347.2" cy="185.7" r="1.95"/><circle cx="312.1" cy="169.6" r="1.95"/><circle cx="353.8" cy="208" r="1.95"/><circle cx="382.8" cy="173.3" r="1.95"/><circle cx="329" cy="190.2" r="1.95"/><circle cx="309.4" cy="171.8" r="1.95"/><circle cx="311.5" cy="186.8" r="1.95"/><circle cx="346.4" cy="195.7" r="1.95"/><circle cx="348.4" cy="174.4" r="1.95"/><circle cx="298.2" cy="224.2" r="1.95"/><circle cx="324.3" cy="165.2" r="1.95"/><circle cx="336.8" cy="154.2" r="1.95"/><circle cx="317.8" cy="183.3" r="1.95"/><circle cx="321.4" cy="179.3" r="1.95"/><circle cx="276" cy="178.8" r="1.95"/><circle cx="327.1" cy="192.2" r="1.95"/><circle cx="311.4" cy="162.6" r="1.95"/><circle cx="291" cy="174.2" r="1.95"/><circle cx="332.2" cy="154.2" r="1.95"/><circle cx="324.9" cy="154.6" r="1.95"/><circle cx="299.5" cy="180.2" r="1.95"/><circle cx="238.2" cy="173.8" r="1.95"/><circle cx="200.3" cy="161.5" r="1.95"/><circle cx="279.2" cy="156.7" r="1.95"/><circle cx="229.3" cy="162.5" r="1.95"/><circle cx="229.1" cy="154.6" r="1.95"/><circle cx="201.2" cy="177.7" r="1.95"/><circle cx="236.8" cy="178" r="1.95"/><circle cx="234.3" cy="149.4" r="1.95"/><circle cx="202.3" cy="163.6" r="1.95"/><circle cx="195.1" cy="170.5" r="1.95"/><circle cx="248.1" cy="154.9" r="1.95"/><circle cx="271" cy="174" r="1.95"/><circle cx="179.3" cy="157.7" r="1.95"/><circle cx="219.4" cy="172.2" r="1.95"/><circle cx="188.3" cy="154.2" r="1.95"/><circle cx="192.7" cy="166.7" r="1.95"/><circle cx="216.3" cy="168.9" r="1.95"/><circle cx="266.8" cy="152.9" r="1.95"/><circle cx="185" cy="166.1" r="1.95"/><circle cx="221.3" cy="177.1" r="1.95"/><circle cx="226.7" cy="164.2" r="1.95"/><circle cx="230.3" cy="168.2" r="1.95"/><circle cx="191.3" cy="154" r="1.95"/><circle cx="252.8" cy="156.1" r="1.95"/><circle cx="202.8" cy="173.3" r="1.95"/><circle cx="217.3" cy="160.8" r="1.95"/><circle cx="177.5" cy="174.5" r="1.95"/><circle cx="197.9" cy="163.9" r="1.95"/><circle cx="195.4" cy="165.4" r="1.95"/><circle cx="257.5" cy="161.2" r="1.95"/><circle cx="203.3" cy="173" r="1.95"/><circle cx="271.6" cy="170.9" r="1.95"/><circle cx="274.2" cy="167.3" r="1.95"/><circle cx="197.3" cy="153.9" r="1.95"/><circle cx="246.5" cy="169.6" r="1.95"/><circle cx="218.3" cy="173.3" r="1.95"/><circle cx="217.4" cy="167.4" r="1.95"/><circle cx="256.8" cy="160" r="1.95"/><circle cx="250.1" cy="170.7" r="1.95"/><circle cx="267.9" cy="156.8" r="1.95"/><circle cx="242" cy="169.7" r="1.95"/><circle cx="281.9" cy="168.2" r="1.95"/><circle cx="258.2" cy="182.2" r="1.95"/><circle cx="217.6" cy="161.4" r="1.95"/><circle cx="182.7" cy="161.3" r="1.95"/><circle cx="261.5" cy="154.9" r="1.95"/><circle cx="232.6" cy="170.7" r="1.95"/><circle cx="278.7" cy="160.9" r="1.95"/><circle cx="243" cy="161.4" r="1.95"/><circle cx="227.2" cy="149.5" r="1.95"/><circle cx="223" cy="168.3" r="1.95"/><circle cx="229.9" cy="170.8" r="1.95"/><circle cx="231.1" cy="158.6" r="1.95"/><circle cx="234.2" cy="169.3" r="1.95"/><circle cx="259.4" cy="151.5" r="1.95"/><circle cx="222" cy="176.4" r="1.95"/><circle cx="238.9" cy="166.6" r="1.95"/><circle cx="263.5" cy="162.3" r="1.95"/><circle cx="200.1" cy="162.3" r="1.95"/><circle cx="184" cy="168.9" r="1.95"/><circle cx="184.9" cy="163.9" r="1.95"/><circle cx="261.5" cy="159.5" r="1.95"/><circle cx="253.2" cy="161.5" r="1.95"/><circle cx="256.6" cy="159.6" r="1.95"/><circle cx="254.5" cy="162.8" r="1.95"/><circle cx="221.4" cy="140.2" r="1.95"/><circle cx="267.9" cy="147.2" r="1.95"/><circle cx="275.6" cy="165.4" r="1.95"/><circle cx="235" cy="169.6" r="1.95"/><circle cx="176.1" cy="174.3" r="1.95"/><circle cx="205.1" cy="165.4" r="1.95"/><circle cx="211" cy="165" r="1.95"/><circle cx="240" cy="179.3" r="1.95"/><circle cx="233.6" cy="161.6" r="1.95"/><circle cx="210.1" cy="166.8" r="1.95"/><circle cx="275" cy="166.1" r="1.95"/><circle cx="203.5" cy="151" r="1.95"/><circle cx="198.9" cy="175.8" r="1.95"/><circle cx="218.2" cy="168.2" r="1.95"/><circle cx="227.7" cy="153.7" r="1.95"/><circle cx="217.1" cy="165.8" r="1.95"/><circle cx="267.5" cy="167.1" r="1.95"/><circle cx="240.1" cy="180.6" r="1.95"/><circle cx="180.6" cy="163.7" r="1.95"/><circle cx="222.7" cy="173.8" r="1.95"/><circle cx="239.8" cy="160.6" r="1.95"/><circle cx="266.9" cy="167.3" r="1.95"/><circle cx="208.3" cy="162.1" r="1.95"/><circle cx="242.1" cy="149.3" r="1.95"/><circle cx="227.8" cy="172.3" r="1.95"/><circle cx="275.7" cy="157.5" r="1.95"/><circle cx="180.9" cy="157.1" r="1.95"/><circle cx="181" cy="172.2" r="1.95"/><circle cx="274.9" cy="170.8" r="1.95"/><circle cx="196" cy="171.3" r="1.95"/><circle cx="280.2" cy="147.3" r="1.95"/><circle cx="231.9" cy="158.6" r="1.95"/><circle cx="252.3" cy="159.6" r="1.95"/><circle cx="198.9" cy="160.4" r="1.95"/><circle cx="272.2" cy="172.2" r="1.95"/><circle cx="199.8" cy="180.5" r="1.95"/><circle cx="187.4" cy="178.7" r="1.95"/><circle cx="284.9" cy="168.3" r="1.95"/><circle cx="222.5" cy="161.3" r="1.95"/><circle cx="278.8" cy="155.6" r="1.95"/><circle cx="254" cy="164" r="1.95"/><circle cx="255.2" cy="164.7" r="1.95"/><circle cx="180" cy="171.1" r="1.95"/><circle cx="201.4" cy="160.4" r="1.95"/><circle cx="241.6" cy="159.1" r="1.95"/><circle cx="193.4" cy="176.1" r="1.95"/><circle cx="279.4" cy="153.8" r="1.95"/><circle cx="193.4" cy="180.5" r="1.95"/><circle cx="267.5" cy="169.5" r="1.95"/><circle cx="178.7" cy="166.7" r="1.95"/><circle cx="218.4" cy="161.4" r="1.95"/><circle cx="237.5" cy="159.2" r="1.95"/><circle cx="184.9" cy="154.7" r="1.95"/><circle cx="224.6" cy="167.4" r="1.95"/><circle cx="253.9" cy="173.8" r="1.95"/><circle cx="70.3" cy="151.8" r="1.95"/><circle cx="162.2" cy="182" r="1.95"/><circle cx="119.7" cy="154.3" r="1.95"/><circle cx="93.6" cy="141.6" r="1.95"/><circle cx="113.9" cy="163.2" r="1.95"/><circle cx="165.2" cy="172.6" r="1.95"/><circle cx="158.1" cy="168.5" r="1.95"/><circle cx="128.6" cy="153.9" r="1.95"/><circle cx="74.5" cy="143.2" r="1.95"/><circle cx="87.3" cy="157.9" r="1.95"/><circle cx="86.5" cy="138.2" r="1.95"/><circle cx="164" cy="174.9" r="1.95"/><circle cx="170.7" cy="168.9" r="1.95"/><circle cx="96" cy="159" r="1.95"/><circle cx="64.7" cy="138" r="1.95"/><circle cx="98.1" cy="144.5" r="1.95"/><circle cx="144.5" cy="162.4" r="1.95"/><circle cx="78.6" cy="146.4" r="1.95"/><circle cx="67.5" cy="136.4" r="1.95"/><circle cx="121.7" cy="162.8" r="1.95"/><circle cx="149" cy="166.9" r="1.95"/><circle cx="128.1" cy="154.9" r="1.95"/><circle cx="118" cy="154.8" r="1.95"/><circle cx="69.9" cy="140.5" r="1.95"/><circle cx="126.3" cy="153.3" r="1.95"/><circle cx="101" cy="142.8" r="1.95"/><circle cx="75.5" cy="151.7" r="1.95"/><circle cx="76.5" cy="150.5" r="1.95"/><circle cx="157.1" cy="161.4" r="1.95"/><circle cx="161.1" cy="160.6" r="1.95"/><circle cx="68.9" cy="143.1" r="1.95"/><circle cx="159.4" cy="170.5" r="1.95"/><circle cx="119.4" cy="160.4" r="1.95"/><circle cx="72.7" cy="139.3" r="1.95"/><circle cx="120.5" cy="155.8" r="1.95"/><circle cx="118" cy="151.2" r="1.95"/><circle cx="104.4" cy="154.7" r="1.95"/><circle cx="81" cy="149.2" r="1.95"/><circle cx="159.1" cy="168" r="1.95"/><circle cx="116.5" cy="155" r="1.95"/><circle cx="168.5" cy="165.7" r="1.95"/><circle cx="114.6" cy="155.9" r="1.95"/><circle cx="140.7" cy="150.7" r="1.95"/><circle cx="84.8" cy="146.4" r="1.95"/><circle cx="89.8" cy="143.5" r="1.95"/><circle cx="63.2" cy="134.4" r="1.95"/><circle cx="90.9" cy="153.3" r="1.95"/><circle cx="160.3" cy="172.7" r="1.95"/><circle cx="84.3" cy="151.1" r="1.95"/><circle cx="127.1" cy="158.9" r="1.95"/><circle cx="67.8" cy="131.3" r="1.95"/><circle cx="90.5" cy="131.1" r="1.95"/><circle cx="65.5" cy="129.8" r="1.95"/><circle cx="131.4" cy="152.8" r="1.95"/><circle cx="100.8" cy="137.9" r="1.95"/><circle cx="156.4" cy="147.8" r="1.95"/><circle cx="58.4" cy="143.9" r="1.95"/><circle cx="169.4" cy="160.4" r="1.95"/><circle cx="67.4" cy="146.1" r="1.95"/><circle cx="86.9" cy="145.8" r="1.95"/><circle cx="78.1" cy="134" r="1.95"/><circle cx="97.6" cy="152.5" r="1.95"/><circle cx="82.9" cy="149.6" r="1.95"/><circle cx="91.2" cy="172.4" r="1.95"/><circle cx="151.5" cy="158.6" r="1.95"/><circle cx="117" cy="141.6" r="1.95"/><circle cx="164.2" cy="165.6" r="1.95"/><circle cx="146.6" cy="158.1" r="1.95"/><circle cx="132" cy="154.1" r="1.95"/><circle cx="156.8" cy="164.4" r="1.95"/><circle cx="320.6" cy="146.6" r="1.95"/><circle cx="310" cy="174.5" r="1.95"/><circle cx="378.7" cy="136.1" r="1.95"/><circle cx="297.8" cy="172.4" r="1.95"/><circle cx="361" cy="186" r="1.95"/><circle cx="311.6" cy="148.9" r="1.95"/><circle cx="288.4" cy="157.7" r="1.95"/><circle cx="302.2" cy="119.1" r="1.95"/><circle cx="346.2" cy="157.8" r="1.95"/><circle cx="286.5" cy="136.1" r="1.95"/><circle cx="383.4" cy="107.4" r="1.95"/><circle cx="319.5" cy="185.3" r="1.95"/><circle cx="368.5" cy="153.2" r="1.95"/><circle cx="313.7" cy="156.9" r="1.95"/><circle cx="316.4" cy="156.4" r="1.95"/><circle cx="353.1" cy="151.8" r="1.95"/><circle cx="355.5" cy="172.9" r="1.95"/><circle cx="311.7" cy="145.6" r="1.95"/><circle cx="308.7" cy="156.7" r="1.95"/><circle cx="291.8" cy="132.4" r="1.95"/><circle cx="282.1" cy="158.4" r="1.95"/><circle cx="310" cy="172.3" r="1.95"/><circle cx="346.6" cy="158.5" r="1.95"/><circle cx="312.8" cy="121.7" r="1.95"/><circle cx="306.5" cy="150.5" r="1.95"/><circle cx="328" cy="146.7" r="1.95"/><circle cx="330.3" cy="175.3" r="1.95"/><circle cx="355.8" cy="128.6" r="1.95"/><circle cx="344.7" cy="134.3" r="1.95"/><circle cx="335.2" cy="153.8" r="1.95"/><circle cx="350" cy="164" r="1.95"/><circle cx="304.7" cy="148" r="1.95"/><circle cx="339.1" cy="146.3" r="1.95"/><circle cx="363.9" cy="125.3" r="1.95"/><circle cx="341.5" cy="153.2" r="1.95"/><circle cx="319.6" cy="147.9" r="1.95"/><circle cx="324.2" cy="155.1" r="1.95"/><circle cx="317.4" cy="143.9" r="1.95"/><circle cx="384.8" cy="141.7" r="1.95"/><circle cx="341.9" cy="169" r="1.95"/></g><g fill="#2c2f78"><circle cx="223.9" cy="202.7" r="1.95"/><circle cx="222.4" cy="197.9" r="1.95"/><circle cx="216.7" cy="200.7" r="1.95"/><circle cx="235.3" cy="198" r="1.95"/><circle cx="234.3" cy="197.2" r="1.95"/><circle cx="228.7" cy="198.8" r="1.95"/><circle cx="212.7" cy="209" r="1.95"/><circle cx="230.3" cy="200.3" r="1.95"/><circle cx="207.1" cy="194.4" r="1.95"/><circle cx="216.5" cy="199.1" r="1.95"/><circle cx="227.5" cy="197.8" r="1.95"/><circle cx="228.1" cy="193.8" r="1.95"/><circle cx="228.4" cy="200.3" r="1.95"/><circle cx="222.9" cy="210.7" r="1.95"/><circle cx="232.2" cy="204" r="1.95"/><circle cx="218.2" cy="196.7" r="1.95"/><circle cx="221.9" cy="199.5" r="1.95"/><circle cx="230.9" cy="198.5" r="1.95"/><circle cx="219.3" cy="195" r="1.95"/><circle cx="223.1" cy="207.5" r="1.95"/><circle cx="218.7" cy="202.9" r="1.95"/><circle cx="225.6" cy="189.3" r="1.95"/><circle cx="228.1" cy="206.2" r="1.95"/><circle cx="207.3" cy="203.4" r="1.95"/><circle cx="222.4" cy="194.7" r="1.95"/><circle cx="229.1" cy="197.1" r="1.95"/><circle cx="214.3" cy="208.2" r="1.95"/><circle cx="232.6" cy="202.3" r="1.95"/><circle cx="237.9" cy="196.6" r="1.95"/><circle cx="223.3" cy="191.3" r="1.95"/><circle cx="228.9" cy="193.7" r="1.95"/><circle cx="218.6" cy="193.3" r="1.95"/><circle cx="215.7" cy="199" r="1.95"/><circle cx="231.7" cy="183.6" r="1.95"/><circle cx="213.2" cy="204.8" r="1.95"/><circle cx="238.4" cy="197.8" r="1.95"/><circle cx="203.8" cy="190.7" r="1.95"/><circle cx="226.5" cy="193.7" r="1.95"/><circle cx="217.5" cy="208" r="1.95"/><circle cx="234.6" cy="196.5" r="1.95"/><circle cx="228" cy="200.7" r="1.95"/><circle cx="239.8" cy="197.6" r="1.95"/><circle cx="230.5" cy="200.5" r="1.95"/><circle cx="214.4" cy="211.1" r="1.95"/><circle cx="234.2" cy="199" r="1.95"/><circle cx="207" cy="201.5" r="1.95"/><circle cx="228.4" cy="186.2" r="1.95"/><circle cx="225.5" cy="205.3" r="1.95"/><circle cx="217.2" cy="212.1" r="1.95"/><circle cx="229.4" cy="196.5" r="1.95"/><circle cx="229.1" cy="201.7" r="1.95"/><circle cx="228.4" cy="205.1" r="1.95"/><circle cx="218.6" cy="198.7" r="1.95"/><circle cx="233.9" cy="195.9" r="1.95"/><circle cx="219.5" cy="207" r="1.95"/><circle cx="236.5" cy="192" r="1.95"/><circle cx="213.1" cy="202.5" r="1.95"/><circle cx="223.1" cy="197.8" r="1.95"/><circle cx="234.8" cy="188.9" r="1.95"/><circle cx="233.1" cy="188" r="1.95"/><circle cx="219.6" cy="205" r="1.95"/><circle cx="236.3" cy="200.4" r="1.95"/><circle cx="228.2" cy="198.7" r="1.95"/><circle cx="227.5" cy="201.8" r="1.95"/><circle cx="224.1" cy="201.1" r="1.95"/><circle cx="229.8" cy="197.2" r="1.95"/><circle cx="232.6" cy="199.8" r="1.95"/><circle cx="242.7" cy="194.6" r="1.95"/><circle cx="220.6" cy="198.2" r="1.95"/><circle cx="226.8" cy="204.2" r="1.95"/><circle cx="195" cy="231.5" r="1.95"/><circle cx="214.5" cy="204.9" r="1.95"/><circle cx="187.9" cy="230.2" r="1.95"/><circle cx="201.6" cy="230.1" r="1.95"/><circle cx="194.1" cy="233.9" r="1.95"/><circle cx="200.5" cy="223.3" r="1.95"/><circle cx="219.9" cy="231.2" r="1.95"/><circle cx="193" cy="227.1" r="1.95"/><circle cx="196" cy="227.4" r="1.95"/><circle cx="173.4" cy="223.6" r="1.95"/><circle cx="207.1" cy="217.5" r="1.95"/><circle cx="197.4" cy="236.6" r="1.95"/><circle cx="205.7" cy="241.4" r="1.95"/><circle cx="182.7" cy="224.8" r="1.95"/><circle cx="194.9" cy="233.6" r="1.95"/><circle cx="207.8" cy="203.9" r="1.95"/><circle cx="207.8" cy="215" r="1.95"/><circle cx="204.1" cy="214.6" r="1.95"/><circle cx="199.6" cy="238.8" r="1.95"/><circle cx="196.7" cy="229.7" r="1.95"/><circle cx="205.2" cy="229.3" r="1.95"/><circle cx="197.2" cy="241.8" r="1.95"/><circle cx="207.4" cy="225.4" r="1.95"/><circle cx="222.7" cy="217.7" r="1.95"/><circle cx="206.2" cy="225.6" r="1.95"/><circle cx="199.2" cy="234.3" r="1.95"/><circle cx="200" cy="233.7" r="1.95"/><circle cx="184.3" cy="214.4" r="1.95"/><circle cx="203.5" cy="219.3" r="1.95"/><circle cx="188.8" cy="214.8" r="1.95"/><circle cx="209.4" cy="234.7" r="1.95"/><circle cx="211.3" cy="219.6" r="1.95"/><circle cx="198" cy="217.7" r="1.95"/><circle cx="204.9" cy="242.3" r="1.95"/><circle cx="190" cy="242" r="1.95"/><circle cx="206.9" cy="226.4" r="1.95"/><circle cx="180.3" cy="240.7" r="1.95"/><circle cx="197.1" cy="222.6" r="1.95"/><circle cx="201.6" cy="231.7" r="1.95"/><circle cx="211.5" cy="218.8" r="1.95"/><circle cx="208.2" cy="241.4" r="1.95"/><circle cx="211.1" cy="226.4" r="1.95"/><circle cx="191.3" cy="237.2" r="1.95"/><circle cx="199" cy="229.1" r="1.95"/><circle cx="210.8" cy="225.6" r="1.95"/><circle cx="177.3" cy="224.5" r="1.95"/><circle cx="181.3" cy="235.4" r="1.95"/><circle cx="200.9" cy="222.5" r="1.95"/><circle cx="197.9" cy="235.5" r="1.95"/><circle cx="198.7" cy="239.9" r="1.95"/><circle cx="197.4" cy="237.4" r="1.95"/><circle cx="211.4" cy="242.5" r="1.95"/><circle cx="192" cy="235.9" r="1.95"/><circle cx="181.1" cy="218.2" r="1.95"/><circle cx="180.3" cy="237.6" r="1.95"/><circle cx="186.9" cy="227.9" r="1.95"/><circle cx="196.3" cy="227.7" r="1.95"/><circle cx="192.7" cy="230.1" r="1.95"/><circle cx="214.1" cy="228.4" r="1.95"/><circle cx="202.8" cy="237" r="1.95"/><circle cx="196.2" cy="216.7" r="1.95"/><circle cx="193" cy="237.7" r="1.95"/><circle cx="183.2" cy="222.6" r="1.95"/><circle cx="207.1" cy="235.1" r="1.95"/><circle cx="198.1" cy="235.2" r="1.95"/><circle cx="199.5" cy="217.4" r="1.95"/><circle cx="183.9" cy="222.2" r="1.95"/><circle cx="206.3" cy="222.9" r="1.95"/><circle cx="189.9" cy="221.1" r="1.95"/><circle cx="184.2" cy="226.9" r="1.95"/><circle cx="221.2" cy="226.4" r="1.95"/><circle cx="188.8" cy="220" r="1.95"/><circle cx="244.1" cy="183.6" r="1.95"/><circle cx="275.9" cy="223.1" r="1.95"/><circle cx="196.5" cy="196.9" r="1.95"/><circle cx="264.6" cy="217.4" r="1.95"/><circle cx="273.9" cy="243.5" r="1.95"/><circle cx="272.2" cy="234.7" r="1.95"/><circle cx="289.5" cy="244.5" r="1.95"/><circle cx="274.7" cy="186.1" r="1.95"/><circle cx="275.2" cy="255.1" r="1.95"/><circle cx="248.4" cy="214.3" r="1.95"/><circle cx="314.6" cy="199.8" r="1.95"/><circle cx="259.5" cy="275" r="1.95"/><circle cx="227" cy="234.1" r="1.95"/><circle cx="307.4" cy="231.8" r="1.95"/><circle cx="267.3" cy="245.5" r="1.95"/><circle cx="230.3" cy="218.8" r="1.95"/><circle cx="260.2" cy="242.7" r="1.95"/><circle cx="254.7" cy="221" r="1.95"/><circle cx="228.2" cy="213" r="1.95"/><circle cx="279.2" cy="231.3" r="1.95"/><circle cx="234.4" cy="204.3" r="1.95"/><circle cx="324.6" cy="260.4" r="1.95"/><circle cx="281.6" cy="177" r="1.95"/><circle cx="270.5" cy="237.5" r="1.95"/><circle cx="300" cy="241.6" r="1.95"/><circle cx="251.3" cy="235" r="1.95"/><circle cx="197.8" cy="235.9" r="1.95"/><circle cx="266.4" cy="212.8" r="1.95"/><circle cx="285.3" cy="267.1" r="1.95"/><circle cx="218.6" cy="205.1" r="1.95"/><circle cx="262.4" cy="230" r="1.95"/><circle cx="247.4" cy="203.9" r="1.95"/><circle cx="309.9" cy="255.7" r="1.95"/><circle cx="226.7" cy="192.7" r="1.95"/><circle cx="298.5" cy="252.8" r="1.95"/><circle cx="302.4" cy="249.8" r="1.95"/><circle cx="230" cy="225.9" r="1.95"/><circle cx="198" cy="199.8" r="1.95"/><circle cx="251.6" cy="235" r="1.95"/><circle cx="235.4" cy="219" r="1.95"/><circle cx="266.3" cy="234.6" r="1.95"/><circle cx="271.9" cy="232.2" r="1.95"/><circle cx="243.3" cy="239" r="1.95"/><circle cx="259.2" cy="209" r="1.95"/><circle cx="237.7" cy="221.9" r="1.95"/><circle cx="251.4" cy="227.6" r="1.95"/><circle cx="254.4" cy="228.5" r="1.95"/><circle cx="255.7" cy="199.6" r="1.95"/><circle cx="263" cy="247.8" r="1.95"/><circle cx="267.6" cy="223.4" r="1.95"/><circle cx="270.7" cy="208.2" r="1.95"/><circle cx="202.5" cy="217" r="1.95"/><circle cx="226.8" cy="235" r="1.95"/><circle cx="234.2" cy="168" r="1.95"/><circle cx="220.9" cy="251" r="1.95"/><circle cx="249.2" cy="196.2" r="1.95"/><circle cx="232.1" cy="231.5" r="1.95"/><circle cx="268.1" cy="230.9" r="1.95"/><circle cx="293.5" cy="246.1" r="1.95"/><circle cx="252.3" cy="236.7" r="1.95"/><circle cx="297.3" cy="252.2" r="1.95"/><circle cx="287" cy="208.6" r="1.95"/><circle cx="248.4" cy="238.7" r="1.95"/><circle cx="243.1" cy="244.6" r="1.95"/><circle cx="268.3" cy="245.8" r="1.95"/><circle cx="240.3" cy="274.1" r="1.95"/><circle cx="289.9" cy="226.8" r="1.95"/><circle cx="248.5" cy="276.6" r="1.95"/><circle cx="242.5" cy="240.5" r="1.95"/><circle cx="282" cy="229.9" r="1.95"/><circle cx="222.2" cy="223" r="1.95"/><circle cx="261" cy="249" r="1.95"/><circle cx="276.5" cy="229.3" r="1.95"/><circle cx="276.7" cy="239.8" r="1.95"/><circle cx="260.5" cy="227.1" r="1.95"/><circle cx="245.9" cy="237.3" r="1.95"/><circle cx="228.1" cy="207.5" r="1.95"/><circle cx="260.2" cy="196.2" r="1.95"/><circle cx="250" cy="183.3" r="1.95"/><circle cx="234.2" cy="232.9" r="1.95"/><circle cx="270.8" cy="226.7" r="1.95"/><circle cx="253.5" cy="196" r="1.95"/><circle cx="303.6" cy="244" r="1.95"/><circle cx="288.2" cy="212.9" r="1.95"/><circle cx="256.2" cy="188.3" r="1.95"/><circle cx="273.3" cy="247.2" r="1.95"/><circle cx="202.9" cy="214.7" r="1.95"/><circle cx="278.5" cy="193.4" r="1.95"/><circle cx="208.4" cy="195.1" r="1.95"/><circle cx="242.5" cy="194.3" r="1.95"/><circle cx="255" cy="230.1" r="1.95"/><circle cx="270" cy="241.9" r="1.95"/><circle cx="292.4" cy="255.2" r="1.95"/><circle cx="220.6" cy="208.7" r="1.95"/><circle cx="229.5" cy="198.6" r="1.95"/><circle cx="252.7" cy="224.7" r="1.95"/><circle cx="274" cy="196.1" r="1.95"/><circle cx="221" cy="218.5" r="1.95"/><circle cx="250.6" cy="217.9" r="1.95"/><circle cx="255.9" cy="209.7" r="1.95"/><circle cx="273.1" cy="235.4" r="1.95"/><circle cx="254.9" cy="211.3" r="1.95"/><circle cx="259.6" cy="170.5" r="1.95"/><circle cx="227.8" cy="221" r="1.95"/><circle cx="212.8" cy="221.6" r="1.95"/><circle cx="263.8" cy="198.6" r="1.95"/><circle cx="249.2" cy="217.6" r="1.95"/><circle cx="265.6" cy="239.3" r="1.95"/><circle cx="257" cy="208.1" r="1.95"/><circle cx="251.2" cy="223" r="1.95"/><circle cx="274.2" cy="234.4" r="1.95"/><circle cx="239.8" cy="194.8" r="1.95"/><circle cx="247.3" cy="208.6" r="1.95"/><circle cx="224.7" cy="217.3" r="1.95"/><circle cx="241.1" cy="224.7" r="1.95"/><circle cx="270.9" cy="219.4" r="1.95"/><circle cx="320.2" cy="230" r="1.95"/><circle cx="285" cy="232.8" r="1.95"/><circle cx="294" cy="183.6" r="1.95"/><circle cx="233.4" cy="226.2" r="1.95"/><circle cx="263.5" cy="273.9" r="1.95"/><circle cx="259.4" cy="251.8" r="1.95"/><circle cx="272.8" cy="247.4" r="1.95"/><circle cx="269.6" cy="224.4" r="1.95"/><circle cx="272.8" cy="206.2" r="1.95"/><circle cx="291.1" cy="210.7" r="1.95"/><circle cx="254.5" cy="268" r="1.95"/><circle cx="248.8" cy="224.3" r="1.95"/><circle cx="287" cy="231.2" r="1.95"/><circle cx="231.8" cy="226.2" r="1.95"/><circle cx="268.6" cy="241.8" r="1.95"/><circle cx="227.6" cy="255.8" r="1.95"/><circle cx="300.9" cy="233.5" r="1.95"/><circle cx="263.9" cy="217.9" r="1.95"/><circle cx="296.4" cy="218" r="1.95"/><circle cx="275.3" cy="218.8" r="1.95"/><circle cx="233.4" cy="235.8" r="1.95"/><circle cx="291.8" cy="231.3" r="1.95"/><circle cx="233.5" cy="237.7" r="1.95"/><circle cx="252.6" cy="230.9" r="1.95"/><circle cx="293.1" cy="254.7" r="1.95"/><circle cx="232.7" cy="267.5" r="1.95"/><circle cx="252.4" cy="240.5" r="1.95"/><circle cx="237.3" cy="221" r="1.95"/><circle cx="200.5" cy="251.7" r="1.95"/><circle cx="296.9" cy="207.7" r="1.95"/><circle cx="219.1" cy="185.8" r="1.95"/><circle cx="289" cy="221.7" r="1.95"/><circle cx="254.4" cy="218.5" r="1.95"/><circle cx="255.4" cy="203" r="1.95"/><circle cx="260.7" cy="196.8" r="1.95"/><circle cx="252" cy="230.7" r="1.95"/><circle cx="268.7" cy="222.7" r="1.95"/><circle cx="229.5" cy="223.7" r="1.95"/><circle cx="236.2" cy="253.5" r="1.95"/><circle cx="276.6" cy="226.5" r="1.95"/><circle cx="244.4" cy="208.9" r="1.95"/><circle cx="230.4" cy="213.5" r="1.95"/><circle cx="261.3" cy="236.6" r="1.95"/><circle cx="263.4" cy="269.1" r="1.95"/><circle cx="235.5" cy="221.8" r="1.95"/><circle cx="338.5" cy="201.8" r="1.95"/><circle cx="240" cy="225.8" r="1.95"/><circle cx="257.8" cy="233.8" r="1.95"/><circle cx="247.1" cy="231.1" r="1.95"/><circle cx="253.8" cy="240.4" r="1.95"/><circle cx="205.9" cy="198.4" r="1.95"/><circle cx="258.5" cy="204.7" r="1.95"/><circle cx="224" cy="232.3" r="1.95"/><circle cx="234.9" cy="234.3" r="1.95"/><circle cx="274.5" cy="234.7" r="1.95"/><circle cx="269.4" cy="225.4" r="1.95"/><circle cx="216.2" cy="217.6" r="1.95"/><circle cx="269.4" cy="216.8" r="1.95"/><circle cx="249.7" cy="239.3" r="1.95"/><circle cx="228.6" cy="233.3" r="1.95"/><circle cx="308.3" cy="223.1" r="1.95"/><circle cx="259.6" cy="222.7" r="1.95"/><circle cx="296.4" cy="238.7" r="1.95"/><circle cx="282.2" cy="215.8" r="1.95"/><circle cx="254.6" cy="224.7" r="1.95"/><circle cx="201" cy="244.7" r="1.95"/><circle cx="285.9" cy="194.9" r="1.95"/><circle cx="276" cy="226" r="1.95"/><circle cx="266.1" cy="234.4" r="1.95"/><circle cx="214.4" cy="213.5" r="1.95"/><circle cx="298.2" cy="220.9" r="1.95"/><circle cx="231.5" cy="193.2" r="1.95"/><circle cx="220.2" cy="225.7" r="1.95"/><circle cx="300.2" cy="241.7" r="1.95"/><circle cx="254" cy="270.2" r="1.95"/><circle cx="243" cy="209.2" r="1.95"/><circle cx="267.7" cy="238.4" r="1.95"/><circle cx="231.1" cy="197" r="1.95"/><circle cx="262.2" cy="231.3" r="1.95"/><circle cx="219.7" cy="214.7" r="1.95"/><circle cx="238.4" cy="231.4" r="1.95"/><circle cx="252.1" cy="222.7" r="1.95"/><circle cx="241.6" cy="244" r="1.95"/><circle cx="294.6" cy="224.5" r="1.95"/><circle cx="281" cy="214.2" r="1.95"/><circle cx="254.4" cy="240.1" r="1.95"/><circle cx="298.1" cy="224.8" r="1.95"/><circle cx="252.3" cy="228.5" r="1.95"/><circle cx="213.6" cy="218" r="1.95"/><circle cx="235.1" cy="229" r="1.95"/><circle cx="230.7" cy="180.6" r="1.95"/><circle cx="255.2" cy="230.3" r="1.95"/><circle cx="236.8" cy="239.8" r="1.95"/><circle cx="249.6" cy="211.7" r="1.95"/><circle cx="273.6" cy="196.4" r="1.95"/><circle cx="236.4" cy="221.3" r="1.95"/><circle cx="279" cy="225.9" r="1.95"/><circle cx="265.8" cy="213.6" r="1.95"/><circle cx="257.5" cy="259.2" r="1.95"/><circle cx="227.9" cy="268.3" r="1.95"/><circle cx="237.2" cy="222.2" r="1.95"/><circle cx="256.2" cy="246" r="1.95"/><circle cx="228.2" cy="177.6" r="1.95"/><circle cx="268.9" cy="243.6" r="1.95"/><circle cx="263.1" cy="279.8" r="1.95"/><circle cx="259.8" cy="231" r="1.95"/><circle cx="279.3" cy="236.8" r="1.95"/><circle cx="305.2" cy="208.7" r="1.95"/><circle cx="256.6" cy="155.3" r="1.95"/><circle cx="278.7" cy="221.6" r="1.95"/><circle cx="273" cy="271.9" r="1.95"/><circle cx="255.7" cy="220" r="1.95"/><circle cx="244.1" cy="206.1" r="1.95"/><circle cx="235.4" cy="234.5" r="1.95"/><circle cx="255.8" cy="226.5" r="1.95"/><circle cx="247" cy="242.2" r="1.95"/><circle cx="269.1" cy="224.6" r="1.95"/><circle cx="273.9" cy="225.2" r="1.95"/><circle cx="218.2" cy="248.1" r="1.95"/><circle cx="271.2" cy="208.4" r="1.95"/><circle cx="283.6" cy="237" r="1.95"/><circle cx="206.3" cy="249.1" r="1.95"/><circle cx="261.1" cy="244.2" r="1.95"/><circle cx="261" cy="223" r="1.95"/><circle cx="208.9" cy="236.6" r="1.95"/><circle cx="256.8" cy="219.5" r="1.95"/><circle cx="264.4" cy="228.2" r="1.95"/><circle cx="274.9" cy="221" r="1.95"/><circle cx="261.4" cy="182.7" r="1.95"/><circle cx="241" cy="236.3" r="1.95"/><circle cx="293.1" cy="224.3" r="1.95"/><circle cx="246.2" cy="255.6" r="1.95"/><circle cx="243.5" cy="237.9" r="1.95"/><circle cx="301.1" cy="233.9" r="1.95"/><circle cx="291.3" cy="217" r="1.95"/><circle cx="261" cy="224.5" r="1.95"/><circle cx="254.2" cy="247.8" r="1.95"/><circle cx="323.2" cy="223.5" r="1.95"/><circle cx="237.4" cy="232" r="1.95"/><circle cx="224.2" cy="229.7" r="1.95"/><circle cx="271.7" cy="222.3" r="1.95"/><circle cx="275" cy="197.1" r="1.95"/><circle cx="281.3" cy="198.3" r="1.95"/><circle cx="237.7" cy="210.7" r="1.95"/><circle cx="241" cy="240" r="1.95"/><circle cx="258.6" cy="217.6" r="1.95"/><circle cx="264.5" cy="258.8" r="1.95"/><circle cx="253.9" cy="232.2" r="1.95"/><circle cx="288.3" cy="236.3" r="1.95"/><circle cx="210.9" cy="267.8" r="1.95"/><circle cx="322.8" cy="196.6" r="1.95"/><circle cx="252.5" cy="233" r="1.95"/><circle cx="279.3" cy="242.9" r="1.95"/><circle cx="251.2" cy="202.9" r="1.95"/><circle cx="254.2" cy="245.9" r="1.95"/><circle cx="228.5" cy="199.5" r="1.95"/><circle cx="261" cy="186.7" r="1.95"/><circle cx="249.3" cy="215.1" r="1.95"/><circle cx="269.9" cy="213.4" r="1.95"/><circle cx="232" cy="212.9" r="1.95"/><circle cx="255.9" cy="211.7" r="1.95"/><circle cx="252.7" cy="239.8" r="1.95"/><circle cx="281.8" cy="264.3" r="1.95"/><circle cx="234.9" cy="212.9" r="1.95"/><circle cx="179.9" cy="250.3" r="1.95"/><circle cx="235.1" cy="220.8" r="1.95"/><circle cx="274.1" cy="200.8" r="1.95"/><circle cx="267.9" cy="226.7" r="1.95"/><circle cx="203.6" cy="221.9" r="1.95"/><circle cx="294.4" cy="194" r="1.95"/><circle cx="276.5" cy="233" r="1.95"/><circle cx="266.6" cy="236" r="1.95"/><circle cx="308.1" cy="290.1" r="1.95"/><circle cx="302" cy="283.5" r="1.95"/><circle cx="298.7" cy="268.4" r="1.95"/><circle cx="296.3" cy="365.7" r="1.95"/><circle cx="297.2" cy="293.5" r="1.95"/><circle cx="274.6" cy="271.4" r="1.95"/><circle cx="297.6" cy="335.3" r="1.95"/><circle cx="299.3" cy="319.4" r="1.95"/><circle cx="295.9" cy="351.2" r="1.95"/><circle cx="285.1" cy="279.6" r="1.95"/><circle cx="303.7" cy="301.4" r="1.95"/><circle cx="286.5" cy="278.5" r="1.95"/><circle cx="290.7" cy="323.9" r="1.95"/><circle cx="292.6" cy="253.8" r="1.95"/><circle cx="298.1" cy="306.3" r="1.95"/><circle cx="281.6" cy="330.4" r="1.95"/><circle cx="287.3" cy="287.6" r="1.95"/><circle cx="306.7" cy="349.1" r="1.95"/><circle cx="284.5" cy="317.4" r="1.95"/><circle cx="288.3" cy="388.6" r="1.95"/><circle cx="289.6" cy="345.8" r="1.95"/><circle cx="286.3" cy="331.4" r="1.95"/><circle cx="312.3" cy="201.3" r="1.95"/><circle cx="288" cy="319.4" r="1.95"/><circle cx="288.6" cy="274.8" r="1.95"/><circle cx="320.1" cy="300.6" r="1.95"/><circle cx="273.5" cy="334.2" r="1.95"/><circle cx="273.5" cy="345.5" r="1.95"/><circle cx="285" cy="306.1" r="1.95"/><circle cx="308.7" cy="303" r="1.95"/><circle cx="268.4" cy="237.4" r="1.95"/><circle cx="309.8" cy="326.7" r="1.95"/><circle cx="284.3" cy="333.5" r="1.95"/><circle cx="300.6" cy="324" r="1.95"/><circle cx="261.7" cy="291.1" r="1.95"/><circle cx="306.1" cy="326.7" r="1.95"/><circle cx="295.3" cy="206" r="1.95"/><circle cx="295.8" cy="318.4" r="1.95"/><circle cx="321.9" cy="261" r="1.95"/><circle cx="287.9" cy="301.7" r="1.95"/><circle cx="302" cy="282.2" r="1.95"/><circle cx="304.2" cy="268.9" r="1.95"/><circle cx="293.7" cy="279.7" r="1.95"/><circle cx="291.8" cy="273.7" r="1.95"/><circle cx="274.9" cy="343.2" r="1.95"/><circle cx="294.1" cy="278.5" r="1.95"/><circle cx="297.9" cy="337.3" r="1.95"/><circle cx="279" cy="296.9" r="1.95"/><circle cx="300.7" cy="319.3" r="1.95"/><circle cx="280.7" cy="220.6" r="1.95"/><circle cx="309.2" cy="311" r="1.95"/><circle cx="291.2" cy="289.4" r="1.95"/><circle cx="294" cy="283.6" r="1.95"/><circle cx="276.3" cy="273.2" r="1.95"/><circle cx="282.2" cy="277.5" r="1.95"/><circle cx="279.1" cy="325.4" r="1.95"/><circle cx="277.2" cy="326.5" r="1.95"/><circle cx="280" cy="314.5" r="1.95"/><circle cx="310.5" cy="306.1" r="1.95"/><circle cx="282.7" cy="302.7" r="1.95"/><circle cx="288.2" cy="234.2" r="1.95"/><circle cx="284.7" cy="306.9" r="1.95"/><circle cx="286.2" cy="303.5" r="1.95"/><circle cx="304" cy="328.2" r="1.95"/><circle cx="305.7" cy="321.3" r="1.95"/><circle cx="288.2" cy="299.6" r="1.95"/><circle cx="287.5" cy="288.4" r="1.95"/><circle cx="284" cy="234.9" r="1.95"/><circle cx="287.6" cy="299.5" r="1.95"/><circle cx="279.3" cy="300.2" r="1.95"/><circle cx="298.1" cy="293.2" r="1.95"/><circle cx="310.3" cy="199" r="1.95"/><circle cx="283.3" cy="231.1" r="1.95"/><circle cx="313.5" cy="399.4" r="1.95"/><circle cx="260" cy="307.7" r="1.95"/><circle cx="297.7" cy="288" r="1.95"/><circle cx="291.7" cy="214.5" r="1.95"/><circle cx="304.3" cy="313.1" r="1.95"/><circle cx="290.3" cy="277.7" r="1.95"/><circle cx="298.7" cy="280.9" r="1.95"/><circle cx="293.2" cy="280.4" r="1.95"/><circle cx="262.8" cy="301.4" r="1.95"/><circle cx="297.1" cy="328.3" r="1.95"/><circle cx="280.5" cy="299.7" r="1.95"/><circle cx="300.5" cy="304.8" r="1.95"/><circle cx="314.7" cy="374" r="1.95"/><circle cx="273.9" cy="228.3" r="1.95"/><circle cx="308.2" cy="356.9" r="1.95"/><circle cx="306.6" cy="329.8" r="1.95"/><circle cx="281.6" cy="273.7" r="1.95"/><circle cx="300.5" cy="264.5" r="1.95"/><circle cx="265.2" cy="264.3" r="1.95"/><circle cx="330.6" cy="370" r="1.95"/><circle cx="280.7" cy="273.2" r="1.95"/><circle cx="292.5" cy="271.4" r="1.95"/><circle cx="308.7" cy="295.6" r="1.95"/><circle cx="282.3" cy="350.8" r="1.95"/><circle cx="285.2" cy="309" r="1.95"/><circle cx="290.8" cy="288.1" r="1.95"/><circle cx="293.9" cy="273.4" r="1.95"/><circle cx="260.8" cy="218.5" r="1.95"/><circle cx="273.1" cy="272.7" r="1.95"/><circle cx="291.9" cy="302.1" r="1.95"/><circle cx="299.6" cy="303.9" r="1.95"/><circle cx="279.4" cy="274.1" r="1.95"/><circle cx="264" cy="296" r="1.95"/><circle cx="300" cy="319.5" r="1.95"/><circle cx="289.9" cy="293.5" r="1.95"/><circle cx="304.2" cy="299.5" r="1.95"/><circle cx="303.5" cy="321.2" r="1.95"/><circle cx="299.1" cy="349.2" r="1.95"/><circle cx="283.4" cy="287.1" r="1.95"/><circle cx="278.9" cy="270.7" r="1.95"/><circle cx="318" cy="364.8" r="1.95"/><circle cx="294.2" cy="321.5" r="1.95"/><circle cx="309.9" cy="329.2" r="1.95"/><circle cx="303.4" cy="250.8" r="1.95"/><circle cx="285.2" cy="317.9" r="1.95"/><circle cx="310.9" cy="302.3" r="1.95"/><circle cx="279.7" cy="287.6" r="1.95"/><circle cx="280.6" cy="268.3" r="1.95"/><circle cx="309.4" cy="274.6" r="1.95"/><circle cx="299.4" cy="381.8" r="1.95"/><circle cx="308.5" cy="311.4" r="1.95"/><circle cx="285.4" cy="316.2" r="1.95"/><circle cx="315.1" cy="321.7" r="1.95"/><circle cx="308.7" cy="302.3" r="1.95"/><circle cx="298" cy="291.8" r="1.95"/><circle cx="301.8" cy="348.7" r="1.95"/><circle cx="273.3" cy="299.3" r="1.95"/><circle cx="293.2" cy="278.1" r="1.95"/><circle cx="290.6" cy="330.1" r="1.95"/><circle cx="320" cy="321.6" r="1.95"/><circle cx="291.1" cy="240.9" r="1.95"/><circle cx="317.2" cy="300.7" r="1.95"/><circle cx="287.9" cy="257.7" r="1.95"/><circle cx="287.6" cy="258.6" r="1.95"/><circle cx="294.5" cy="317.6" r="1.95"/><circle cx="293.3" cy="310.6" r="1.95"/><circle cx="285.7" cy="355.1" r="1.95"/><circle cx="277.5" cy="231.9" r="1.95"/><circle cx="287" cy="271.3" r="1.95"/><circle cx="277.7" cy="287.7" r="1.95"/><circle cx="291.9" cy="254.9" r="1.95"/><circle cx="294.9" cy="354.2" r="1.95"/><circle cx="300.3" cy="293.5" r="1.95"/><circle cx="293.3" cy="295.3" r="1.95"/><circle cx="293.8" cy="327.8" r="1.95"/><circle cx="282.8" cy="209.1" r="1.95"/><circle cx="288.8" cy="266.4" r="1.95"/><circle cx="298.4" cy="276.2" r="1.95"/><circle cx="301.1" cy="382.3" r="1.95"/><circle cx="274.7" cy="258.6" r="1.95"/><circle cx="265.8" cy="210.9" r="1.95"/><circle cx="268.9" cy="315.9" r="1.95"/><circle cx="277.5" cy="230" r="1.95"/><circle cx="274.8" cy="325" r="1.95"/><circle cx="280.7" cy="287" r="1.95"/><circle cx="300.8" cy="351" r="1.95"/><circle cx="320.6" cy="336.9" r="1.95"/><circle cx="294.5" cy="306.8" r="1.95"/><circle cx="320.1" cy="352" r="1.95"/><circle cx="289.5" cy="317.7" r="1.95"/><circle cx="295.9" cy="301.7" r="1.95"/><circle cx="281.1" cy="250.4" r="1.95"/><circle cx="280" cy="242.2" r="1.95"/><circle cx="309.6" cy="318.9" r="1.95"/><circle cx="281" cy="354.2" r="1.95"/><circle cx="297.2" cy="226.7" r="1.95"/><circle cx="318.5" cy="328.6" r="1.95"/><circle cx="314.7" cy="251.1" r="1.95"/><circle cx="300.3" cy="315.4" r="1.95"/><circle cx="295.2" cy="306.3" r="1.95"/><circle cx="300.7" cy="242.2" r="1.95"/><circle cx="271.3" cy="248.6" r="1.95"/><circle cx="282.8" cy="277.7" r="1.95"/><circle cx="297.6" cy="309.7" r="1.95"/><circle cx="290.2" cy="274.4" r="1.95"/><circle cx="289.4" cy="336.6" r="1.95"/><circle cx="302.2" cy="303" r="1.95"/><circle cx="293" cy="359.2" r="1.95"/><circle cx="286.5" cy="325.2" r="1.95"/><circle cx="306.1" cy="288.6" r="1.95"/><circle cx="299" cy="256.8" r="1.95"/><circle cx="305.8" cy="306.4" r="1.95"/><circle cx="273.7" cy="327.1" r="1.95"/><circle cx="284.7" cy="349.5" r="1.95"/><circle cx="282.7" cy="294.5" r="1.95"/><circle cx="294.6" cy="287.1" r="1.95"/><circle cx="293.5" cy="278.8" r="1.95"/><circle cx="300.7" cy="299.4" r="1.95"/><circle cx="285.6" cy="195.6" r="1.95"/><circle cx="307.1" cy="299.9" r="1.95"/><circle cx="269.2" cy="305.6" r="1.95"/><circle cx="301.6" cy="340" r="1.95"/><circle cx="283.1" cy="359.8" r="1.95"/><circle cx="297.9" cy="390.8" r="1.95"/><circle cx="292.4" cy="325.9" r="1.95"/><circle cx="283.6" cy="258.2" r="1.95"/><circle cx="309.2" cy="333.1" r="1.95"/><circle cx="314.8" cy="330.7" r="1.95"/><circle cx="279.1" cy="237.7" r="1.95"/><circle cx="281.3" cy="275.2" r="1.95"/><circle cx="283.4" cy="323" r="1.95"/><circle cx="295.4" cy="289.4" r="1.95"/><circle cx="293.8" cy="294.3" r="1.95"/><circle cx="297.2" cy="328.2" r="1.95"/><circle cx="302.2" cy="272.9" r="1.95"/><circle cx="277.2" cy="355.7" r="1.95"/><circle cx="297.1" cy="341.7" r="1.95"/><circle cx="269.6" cy="289.4" r="1.95"/><circle cx="287.6" cy="245.4" r="1.95"/><circle cx="287.7" cy="328" r="1.95"/><circle cx="311.2" cy="359.1" r="1.95"/><circle cx="276.2" cy="247.9" r="1.95"/><circle cx="301.9" cy="335" r="1.95"/><circle cx="290.2" cy="250.5" r="1.95"/><circle cx="304.8" cy="329.1" r="1.95"/><circle cx="297.6" cy="280.9" r="1.95"/><circle cx="298.6" cy="329.6" r="1.95"/><circle cx="278.7" cy="230.8" r="1.95"/><circle cx="297.8" cy="317.8" r="1.95"/><circle cx="295.1" cy="333.6" r="1.95"/><circle cx="284.1" cy="297.5" r="1.95"/><circle cx="289.9" cy="322" r="1.95"/><circle cx="311.8" cy="288.7" r="1.95"/><circle cx="323.7" cy="355.6" r="1.95"/><circle cx="304.2" cy="321.3" r="1.95"/><circle cx="314.3" cy="291.2" r="1.95"/><circle cx="287" cy="259.9" r="1.95"/><circle cx="307.6" cy="243.6" r="1.95"/><circle cx="308.5" cy="220.6" r="1.95"/><circle cx="296.8" cy="214.2" r="1.95"/><circle cx="277.2" cy="236.2" r="1.95"/><circle cx="293.4" cy="182.4" r="1.95"/><circle cx="288" cy="189.4" r="1.95"/><circle cx="313.7" cy="236.5" r="1.95"/><circle cx="278.3" cy="233.2" r="1.95"/><circle cx="314.2" cy="195.5" r="1.95"/><circle cx="276.2" cy="191.4" r="1.95"/><circle cx="289.9" cy="218.6" r="1.95"/><circle cx="294.3" cy="159.3" r="1.95"/><circle cx="303.7" cy="171.6" r="1.95"/><circle cx="314.5" cy="179.8" r="1.95"/><circle cx="288.9" cy="188.6" r="1.95"/><circle cx="291.3" cy="242.5" r="1.95"/><circle cx="313.6" cy="225" r="1.95"/><circle cx="305.1" cy="171.3" r="1.95"/><circle cx="291.7" cy="196.2" r="1.95"/><circle cx="284.4" cy="222.7" r="1.95"/><circle cx="288.1" cy="192.3" r="1.95"/><circle cx="283.3" cy="158.6" r="1.95"/><circle cx="309.5" cy="243.3" r="1.95"/><circle cx="302.8" cy="185.6" r="1.95"/><circle cx="256.7" cy="214.3" r="1.95"/><circle cx="319.5" cy="217.4" r="1.95"/><circle cx="314.8" cy="247" r="1.95"/><circle cx="318" cy="199" r="1.95"/><circle cx="316.8" cy="229.4" r="1.95"/><circle cx="275.4" cy="199.9" r="1.95"/><circle cx="277.2" cy="207.3" r="1.95"/><circle cx="309.3" cy="183.3" r="1.95"/><circle cx="267.1" cy="242.5" r="1.95"/><circle cx="306" cy="246.8" r="1.95"/><circle cx="278.8" cy="236.5" r="1.95"/><circle cx="333.2" cy="260.2" r="1.95"/><circle cx="296.6" cy="216.7" r="1.95"/><circle cx="297.5" cy="235" r="1.95"/><circle cx="316.6" cy="212.2" r="1.95"/><circle cx="278.3" cy="228.5" r="1.95"/><circle cx="292.5" cy="225.7" r="1.95"/><circle cx="304.2" cy="250.6" r="1.95"/><circle cx="318.2" cy="198.7" r="1.95"/><circle cx="305.6" cy="254.1" r="1.95"/><circle cx="291.4" cy="220.8" r="1.95"/><circle cx="319.1" cy="241.4" r="1.95"/><circle cx="308.3" cy="177" r="1.95"/><circle cx="279.8" cy="216.2" r="1.95"/><circle cx="306.2" cy="273.7" r="1.95"/><circle cx="286.2" cy="238.4" r="1.95"/><circle cx="312.3" cy="168.2" r="1.95"/><circle cx="286.9" cy="214.2" r="1.95"/><circle cx="292.1" cy="206.1" r="1.95"/><circle cx="307.5" cy="189.8" r="1.95"/><circle cx="307.5" cy="194.1" r="1.95"/><circle cx="291.3" cy="223.4" r="1.95"/><circle cx="290.8" cy="217.2" r="1.95"/><circle cx="325.6" cy="210.7" r="1.95"/><circle cx="297.7" cy="228.4" r="1.95"/><circle cx="294.2" cy="237.1" r="1.95"/><circle cx="279.5" cy="225.5" r="1.95"/><circle cx="291.8" cy="190" r="1.95"/><circle cx="328.3" cy="188.7" r="1.95"/><circle cx="328.1" cy="226.5" r="1.95"/><circle cx="323.2" cy="185.6" r="1.95"/><circle cx="319.2" cy="246.4" r="1.95"/><circle cx="298.1" cy="206.8" r="1.95"/><circle cx="339.3" cy="214.4" r="1.95"/><circle cx="293.2" cy="194.3" r="1.95"/><circle cx="307.1" cy="218.3" r="1.95"/><circle cx="302.8" cy="253" r="1.95"/><circle cx="294.8" cy="221.8" r="1.95"/><circle cx="323.3" cy="184.9" r="1.95"/><circle cx="316.6" cy="255.8" r="1.95"/><circle cx="278.3" cy="182.6" r="1.95"/><circle cx="283.4" cy="163.8" r="1.95"/><circle cx="307.2" cy="163.6" r="1.95"/><circle cx="308" cy="246.3" r="1.95"/><circle cx="274.2" cy="202.1" r="1.95"/><circle cx="269.3" cy="229.5" r="1.95"/><circle cx="288.2" cy="203.4" r="1.95"/><circle cx="300.9" cy="223.6" r="1.95"/><circle cx="294.5" cy="210.4" r="1.95"/><circle cx="291.3" cy="212.9" r="1.95"/><circle cx="281.2" cy="211.6" r="1.95"/><circle cx="269.1" cy="197.7" r="1.95"/><circle cx="330.6" cy="212" r="1.95"/><circle cx="279.8" cy="216.4" r="1.95"/><circle cx="284.4" cy="168.7" r="1.95"/><circle cx="288.2" cy="228.4" r="1.95"/><circle cx="176.8" cy="234.5" r="1.95"/><circle cx="137.1" cy="207.5" r="1.95"/><circle cx="64.6" cy="154.1" r="1.95"/><circle cx="178.7" cy="222.7" r="1.95"/><circle cx="96.9" cy="186.9" r="1.95"/><circle cx="119.9" cy="192.8" r="1.95"/><circle cx="168" cy="231" r="1.95"/><circle cx="136.6" cy="205.3" r="1.95"/><circle cx="99.4" cy="185" r="1.95"/><circle cx="120.1" cy="189.5" r="1.95"/><circle cx="124.5" cy="196.8" r="1.95"/><circle cx="115" cy="186.7" r="1.95"/><circle cx="116.1" cy="181.1" r="1.95"/><circle cx="96.8" cy="176.3" r="1.95"/><circle cx="165.6" cy="214.9" r="1.95"/><circle cx="90.8" cy="180.3" r="1.95"/><circle cx="118.7" cy="201.2" r="1.95"/><circle cx="159.2" cy="215.4" r="1.95"/><circle cx="100.9" cy="180.3" r="1.95"/><circle cx="130.5" cy="204.3" r="1.95"/><circle cx="138.5" cy="204.9" r="1.95"/><circle cx="150.5" cy="210" r="1.95"/><circle cx="171.3" cy="222.1" r="1.95"/><circle cx="96.4" cy="179.1" r="1.95"/><circle cx="56.7" cy="161" r="1.95"/><circle cx="130" cy="211.7" r="1.95"/><circle cx="140.2" cy="208.6" r="1.95"/><circle cx="141.1" cy="193.7" r="1.95"/><circle cx="139.1" cy="198.6" r="1.95"/><circle cx="136.5" cy="197" r="1.95"/><circle cx="143.6" cy="209.6" r="1.95"/><circle cx="112.5" cy="197.5" r="1.95"/><circle cx="153.6" cy="216.4" r="1.95"/><circle cx="61.7" cy="161.4" r="1.95"/><circle cx="153.2" cy="220.5" r="1.95"/><circle cx="106.8" cy="181.4" r="1.95"/><circle cx="161.7" cy="220" r="1.95"/><circle cx="93.9" cy="171" r="1.95"/><circle cx="98.3" cy="176.3" r="1.95"/><circle cx="111.6" cy="191.1" r="1.95"/><circle cx="138.7" cy="206.5" r="1.95"/><circle cx="130.4" cy="199" r="1.95"/><circle cx="59.6" cy="165.7" r="1.95"/><circle cx="127.9" cy="205.5" r="1.95"/><circle cx="175.1" cy="225.2" r="1.95"/><circle cx="292.3" cy="355.8" r="1.95"/><circle cx="297.2" cy="406.4" r="1.95"/><circle cx="285.6" cy="355.7" r="1.95"/><circle cx="293" cy="386.1" r="1.95"/><circle cx="297.2" cy="371.9" r="1.95"/><circle cx="295.3" cy="371.4" r="1.95"/><circle cx="292.1" cy="367.1" r="1.95"/><circle cx="289.2" cy="375.9" r="1.95"/><circle cx="291.5" cy="375" r="1.95"/><circle cx="289.7" cy="392.2" r="1.95"/><circle cx="293.1" cy="371.1" r="1.95"/><circle cx="301.7" cy="371.7" r="1.95"/><circle cx="293.8" cy="373.3" r="1.95"/><circle cx="282.6" cy="383.9" r="1.95"/><circle cx="284.3" cy="387" r="1.95"/><circle cx="296.3" cy="366.1" r="1.95"/><circle cx="285.6" cy="379.8" r="1.95"/><circle cx="290.1" cy="391.7" r="1.95"/><circle cx="289.9" cy="372.4" r="1.95"/><circle cx="292.1" cy="354.9" r="1.95"/><circle cx="283" cy="380.6" r="1.95"/><circle cx="294.5" cy="368.9" r="1.95"/><circle cx="288.4" cy="380.4" r="1.95"/><circle cx="286.7" cy="382.5" r="1.95"/><circle cx="294.1" cy="356.6" r="1.95"/><circle cx="289.1" cy="366.5" r="1.95"/><circle cx="289" cy="373.9" r="1.95"/><circle cx="286.5" cy="357.9" r="1.95"/><circle cx="285.3" cy="358" r="1.95"/><circle cx="294.9" cy="377.6" r="1.95"/></g><g fill="#df2a2c"><circle cx="86" cy="130" r="1.95"/><circle cx="106.9" cy="85.2" r="1.95"/><circle cx="119.4" cy="81.9" r="1.95"/><circle cx="98.4" cy="133.1" r="1.95"/><circle cx="128.7" cy="143.2" r="1.95"/><circle cx="117.5" cy="138.8" r="1.95"/><circle cx="98.7" cy="138.6" r="1.95"/><circle cx="96.6" cy="125.7" r="1.95"/><circle cx="94.1" cy="116" r="1.95"/><circle cx="119.6" cy="99.6" r="1.95"/><circle cx="98.6" cy="106.6" r="1.95"/><circle cx="92.9" cy="150.4" r="1.95"/><circle cx="90.4" cy="115.8" r="1.95"/><circle cx="102.5" cy="111.1" r="1.95"/><circle cx="87.1" cy="132.5" r="1.95"/><circle cx="103.9" cy="112" r="1.95"/><circle cx="89.3" cy="104.8" r="1.95"/><circle cx="122.6" cy="115.3" r="1.95"/><circle cx="77.7" cy="99.2" r="1.95"/><circle cx="102.4" cy="128.8" r="1.95"/><circle cx="99.2" cy="134.6" r="1.95"/><circle cx="88.4" cy="102" r="1.95"/><circle cx="97.8" cy="122" r="1.95"/><circle cx="71.5" cy="108.6" r="1.95"/><circle cx="73.2" cy="126.6" r="1.95"/><circle cx="98.8" cy="147.8" r="1.95"/><circle cx="131.7" cy="141" r="1.95"/><circle cx="104.1" cy="106.2" r="1.95"/><circle cx="88.1" cy="133.5" r="1.95"/><circle cx="108.7" cy="125.3" r="1.95"/><circle cx="82.8" cy="111.1" r="1.95"/><circle cx="132.2" cy="129.2" r="1.95"/><circle cx="135.8" cy="96.8" r="1.95"/><circle cx="130.6" cy="116.5" r="1.95"/><circle cx="83" cy="109.4" r="1.95"/><circle cx="82.2" cy="140.5" r="1.95"/><circle cx="99.7" cy="117.8" r="1.95"/><circle cx="88.5" cy="129.3" r="1.95"/><circle cx="117.6" cy="142" r="1.95"/><circle cx="80.4" cy="110.4" r="1.95"/><circle cx="121.6" cy="97.9" r="1.95"/><circle cx="96.3" cy="134.9" r="1.95"/><circle cx="124.2" cy="137.9" r="1.95"/><circle cx="112.1" cy="139.6" r="1.95"/><circle cx="118.4" cy="98.3" r="1.95"/><circle cx="128.8" cy="143" r="1.95"/><circle cx="106.1" cy="110.8" r="1.95"/><circle cx="138.2" cy="141" r="1.95"/><circle cx="119.6" cy="122.6" r="1.95"/><circle cx="107.2" cy="124.1" r="1.95"/><circle cx="129.9" cy="102.5" r="1.95"/><circle cx="131.5" cy="132.9" r="1.95"/><circle cx="110" cy="140.9" r="1.95"/><circle cx="90.7" cy="131" r="1.95"/><circle cx="83.8" cy="119.1" r="1.95"/><circle cx="85.4" cy="132.7" r="1.95"/><circle cx="132.4" cy="114.3" r="1.95"/><circle cx="111.9" cy="114.1" r="1.95"/><circle cx="81.3" cy="113.3" r="1.95"/><circle cx="113.5" cy="144.5" r="1.95"/><circle cx="96" cy="115.7" r="1.95"/><circle cx="126.4" cy="130.5" r="1.95"/><circle cx="122.1" cy="159.5" r="1.95"/><circle cx="116.1" cy="114.8" r="1.95"/><circle cx="94.2" cy="132.1" r="1.95"/><circle cx="99.3" cy="122.5" r="1.95"/><circle cx="118.3" cy="103.7" r="1.95"/><circle cx="98.3" cy="114.7" r="1.95"/><circle cx="88.3" cy="121" r="1.95"/><circle cx="99.3" cy="114.3" r="1.95"/><circle cx="118.4" cy="151.4" r="1.95"/><circle cx="102.5" cy="113.6" r="1.95"/><circle cx="87.8" cy="88.2" r="1.95"/><circle cx="127.6" cy="131.9" r="1.95"/><circle cx="96.7" cy="98.8" r="1.95"/><circle cx="124" cy="125.3" r="1.95"/><circle cx="107.9" cy="139" r="1.95"/><circle cx="97.4" cy="98" r="1.95"/><circle cx="98.6" cy="129" r="1.95"/><circle cx="100" cy="119.4" r="1.95"/><circle cx="114.2" cy="111.6" r="1.95"/><circle cx="109.2" cy="140.1" r="1.95"/><circle cx="89.6" cy="104.4" r="1.95"/><circle cx="100" cy="111.1" r="1.95"/><circle cx="93.2" cy="135.9" r="1.95"/><circle cx="79.1" cy="119.8" r="1.95"/><circle cx="100.3" cy="110" r="1.95"/><circle cx="91.4" cy="85.3" r="1.95"/><circle cx="97.1" cy="142.7" r="1.95"/><circle cx="85.2" cy="127.1" r="1.95"/><circle cx="81.2" cy="121.8" r="1.95"/><circle cx="100.4" cy="115.6" r="1.95"/><circle cx="83.2" cy="106.7" r="1.95"/><circle cx="89.3" cy="138.5" r="1.95"/><circle cx="111.1" cy="132.3" r="1.95"/><circle cx="91.8" cy="122.2" r="1.95"/><circle cx="108.7" cy="145.6" r="1.95"/><circle cx="108.2" cy="153.9" r="1.95"/><circle cx="104.5" cy="108.5" r="1.95"/><circle cx="114.3" cy="155.2" r="1.95"/><circle cx="117.6" cy="128.3" r="1.95"/><circle cx="107.1" cy="119.1" r="1.95"/><circle cx="97.9" cy="120.9" r="1.95"/><circle cx="115.7" cy="109.1" r="1.95"/><circle cx="110.3" cy="127.9" r="1.95"/><circle cx="78.4" cy="97.3" r="1.95"/><circle cx="77.4" cy="97.3" r="1.95"/><circle cx="88.3" cy="90.2" r="1.95"/><circle cx="84.5" cy="88.6" r="1.95"/><circle cx="78.2" cy="96.8" r="1.95"/><circle cx="76" cy="104.7" r="1.95"/><circle cx="70.8" cy="92.6" r="1.95"/><circle cx="79.7" cy="95.4" r="1.95"/><circle cx="78.6" cy="84.5" r="1.95"/><circle cx="79.8" cy="108" r="1.95"/><circle cx="83.3" cy="92.9" r="1.95"/><circle cx="72.1" cy="85.3" r="1.95"/><circle cx="84.2" cy="88.9" r="1.95"/><circle cx="77.7" cy="117.2" r="1.95"/><circle cx="65.4" cy="103.5" r="1.95"/><circle cx="65.6" cy="81" r="1.95"/><circle cx="95.4" cy="105.3" r="1.95"/><circle cx="83" cy="102.3" r="1.95"/><circle cx="207" cy="139" r="1.95"/><circle cx="210.5" cy="129.3" r="1.95"/><circle cx="173" cy="129.8" r="1.95"/><circle cx="188.3" cy="130" r="1.95"/><circle cx="210.9" cy="138.6" r="1.95"/><circle cx="196.8" cy="128.6" r="1.95"/><circle cx="209" cy="135.9" r="1.95"/><circle cx="173.9" cy="127.6" r="1.95"/><circle cx="207.8" cy="142" r="1.95"/><circle cx="228.1" cy="137.5" r="1.95"/><circle cx="226.9" cy="122.6" r="1.95"/><circle cx="210.6" cy="134.3" r="1.95"/><circle cx="174.8" cy="126.4" r="1.95"/><circle cx="159.8" cy="132.3" r="1.95"/><circle cx="205.3" cy="126.4" r="1.95"/><circle cx="178.8" cy="127" r="1.95"/><circle cx="203.8" cy="136.4" r="1.95"/><circle cx="229.5" cy="137.3" r="1.95"/><circle cx="172" cy="129.8" r="1.95"/><circle cx="183.4" cy="138.9" r="1.95"/><circle cx="192.9" cy="125.1" r="1.95"/><circle cx="166.7" cy="129.9" r="1.95"/><circle cx="214.1" cy="137.5" r="1.95"/><circle cx="190.8" cy="144.7" r="1.95"/><circle cx="215.8" cy="134.8" r="1.95"/><circle cx="193.1" cy="133.1" r="1.95"/><circle cx="168.1" cy="124.5" r="1.95"/><circle cx="200.1" cy="128.7" r="1.95"/><circle cx="177.7" cy="128.8" r="1.95"/><circle cx="160.1" cy="134.1" r="1.95"/><circle cx="217.6" cy="164" r="1.95"/><circle cx="221" cy="163.5" r="1.95"/><circle cx="200" cy="149.3" r="1.95"/><circle cx="210" cy="162.5" r="1.95"/><circle cx="197.2" cy="134.3" r="1.95"/><circle cx="202.9" cy="139.9" r="1.95"/><circle cx="197.3" cy="134" r="1.95"/><circle cx="210.5" cy="163" r="1.95"/><circle cx="200.5" cy="133.6" r="1.95"/><circle cx="214.4" cy="163.4" r="1.95"/><circle cx="201.8" cy="145.5" r="1.95"/><circle cx="203.8" cy="157.9" r="1.95"/><circle cx="211" cy="154.1" r="1.95"/><circle cx="198.7" cy="142" r="1.95"/><circle cx="193.4" cy="153.3" r="1.95"/><circle cx="83.5" cy="149.8" r="1.95"/><circle cx="90.5" cy="152.8" r="1.95"/><circle cx="111.3" cy="153" r="1.95"/><circle cx="129.3" cy="161.4" r="1.95"/><circle cx="105.5" cy="168.1" r="1.95"/><circle cx="77.9" cy="155" r="1.95"/><circle cx="112.3" cy="153.4" r="1.95"/><circle cx="127" cy="170.8" r="1.95"/><circle cx="94.5" cy="150.1" r="1.95"/><circle cx="112.5" cy="153.2" r="1.95"/><circle cx="83.7" cy="159.7" r="1.95"/><circle cx="80.9" cy="147.2" r="1.95"/><circle cx="91.7" cy="159.4" r="1.95"/><circle cx="104.5" cy="158.3" r="1.95"/><circle cx="133" cy="171" r="1.95"/><circle cx="132.8" cy="159" r="1.95"/><circle cx="74" cy="163.9" r="1.95"/><circle cx="132.6" cy="176.4" r="1.95"/><circle cx="76.7" cy="154.9" r="1.95"/><circle cx="144.4" cy="171.8" r="1.95"/><circle cx="93.3" cy="148.6" r="1.95"/><circle cx="126.3" cy="152.3" r="1.95"/><circle cx="144" cy="170" r="1.95"/><circle cx="75.4" cy="153.7" r="1.95"/><circle cx="128.2" cy="179" r="1.95"/><circle cx="248" cy="147" r="1.95"/><circle cx="256" cy="155" r="1.95"/><circle cx="263" cy="149" r="1.95"/><circle cx="270" cy="157" r="1.95"/><circle cx="237" cy="162" r="1.95"/></g><path d="M374.5 92.4C366.8 100 340.4 124.9 328 137.7C315.6 150.5 307.5 159.1 300 169.4C292.5 179.7 287.6 189.7 283.2 199.3C278.8 209 276 218 273.8 227.3C271.6 236.6 270.4 244.4 270.1 255.3C269.8 266.2 270.2 280.5 272 292.6C273.8 304.7 277.3 317.1 281 328C284.7 338.9 290.3 350.7 294 358C297.7 365.3 301.5 369.7 303 372" fill="none" stroke="#000" stroke-width="3.8"/><path d="M314 382L293 369L308 358Z" fill="#000"/><line x1="65.8" y1="371.4" x2="65.8" y2="280" stroke="#000" stroke-width="2"/><path d="M58.2 282L65.8 266L73.4 282Z" fill="#000"/><line x1="65.8" y1="371.4" x2="156" y2="371.4" stroke="#000" stroke-width="2"/><path d="M155 363.6L169.5 371.4L155 379.2Z" fill="#000"/><text x="64.2" y="78.3" font-size="22">Pe</text><text x="326" y="78.3" font-size="22">Fib</text><text x="223" y="387.6" font-size="22">MF</text><text x="86" y="395.5" font-size="22">DC 1</text><text x="57" y="329" font-size="22" text-anchor="middle" transform="rotate(-90 57 329)">DC 2</text><line x1="44.6" y1="453.5" x2="44.6" y2="659.2" stroke="#000" stroke-width="1.2"/><line x1="44" y1="658.7" x2="351" y2="658.7" stroke="#000" stroke-width="1.2"/><line x1="117.5" y1="658.7" x2="117.5" y2="662.5" stroke="#000" stroke-width="1.1"/><text x="117.5" y="672.8" font-size="11.5" text-anchor="middle">25</text><line x1="190.4" y1="658.7" x2="190.4" y2="662.5" stroke="#000" stroke-width="1.1"/><text x="190.4" y="672.8" font-size="11.5" text-anchor="middle">50</text><line x1="263.5" y1="658.7" x2="263.5" y2="662.5" stroke="#000" stroke-width="1.1"/><text x="263.5" y="672.8" font-size="11.5" text-anchor="middle">75</text><line x1="336.5" y1="658.7" x2="336.5" y2="662.5" stroke="#000" stroke-width="1.1"/><text x="336.5" y="672.8" font-size="11.5" text-anchor="middle">100</text><line x1="40.5" y1="488.6" x2="44.6" y2="488.6" stroke="#000" stroke-width="1.1"/><text x="38.5" y="492.5" font-size="11.5" text-anchor="end">0.1</text><path d="M59.2 586.3C61.7 584.4 68.5 579.1 74 575.4C79.6 571.6 85.6 567.1 92.5 563.8C99.5 560.5 107.9 557.6 115.7 555.7C123.4 553.9 131.1 552.9 138.8 552.7C146.5 552.5 155.7 553.3 161.9 554.6C168.1 555.8 171.2 558.2 175.8 560.3C180.4 562.5 185 565.2 189.7 567.3C194.3 569.4 198.5 570.8 203.5 573.1C208.6 575.4 214.7 578.8 219.7 581.2C224.7 583.5 229.4 586.8 233.6 586.9C237.9 587.1 240.9 583.7 245.2 582.3C249.4 580.9 254.4 578.4 259.1 578.4C263.7 578.4 267.9 580.3 272.9 582.3C277.9 584.3 283.7 587.1 289.1 590.4C294.5 593.7 300.3 597.4 305.3 602C310.3 606.6 315.3 613 319.2 618.2C323 623.4 325.6 628.2 328.4 633.2C331.3 638.2 335.2 645.7 336.5 648.2" fill="none" stroke="#e41a1c" stroke-width="2.8"/><path d="M59.2 644.8C62.8 642.5 73.5 635.5 81 630.9C88.4 626.3 96.4 621.4 104.1 617C111.8 612.6 119.5 608.3 127.2 604.3C134.9 600.2 144.2 596.4 150.3 592.7C156.5 589.1 160 586.2 164.2 582.3C168.5 578.5 171.5 574 175.8 569.6C180 565.2 185 560.2 189.7 555.7C194.3 551.3 198.9 546.9 203.5 543C208.2 539.1 212.8 535.2 217.4 532.6C222 530 227.4 527.9 231.3 527.5C235.2 527.1 237.5 528.5 240.6 530.3C243.6 532.1 246.3 535.7 249.8 538.4C253.3 541.1 256.7 544 261.4 546.5C266 549 271.8 550.7 277.6 553.4C283.3 556.1 289.9 559.6 296.1 562.7C302.2 565.7 307.8 568.6 314.6 571.9C321.3 575.2 332.9 580.6 336.5 582.3" fill="none" stroke="#377eb8" stroke-width="2.8"/><path d="M59.2 506C60.9 508.9 65.4 517 69.4 523.3C73.4 529.7 78.6 537.2 83.3 544.2C87.9 551.1 91.7 558 97.1 565C102.5 571.9 109.5 580 115.7 585.8C121.8 591.6 127.2 595.4 134.2 599.7C141.1 603.9 149.6 608.3 157.3 611.2C165 614.1 172.7 615.7 180.4 617C188.1 618.3 195.8 618.9 203.5 618.9C211.3 618.8 220.5 617.4 226.7 616.6C232.8 615.7 235.9 614.7 240.6 614C245.2 613.3 251 613.2 254.4 612.4C257.9 611.5 258.3 611.4 261.4 608.9C264.5 606.4 268.7 602.4 272.9 597.4C277.2 592.3 282.6 585 286.8 578.8C291.1 572.7 294.5 567.7 298.4 560.3C302.2 553 306.1 544.2 309.9 534.9C313.8 525.7 318.4 512.9 321.5 504.8C324.6 496.7 325.9 493.1 328.4 486.3C331 479.6 335.2 468 336.5 464.4" fill="none" stroke="#4daf4a" stroke-width="2.8"/><line x1="353.2" y1="541.4" x2="372.9" y2="541.4" stroke="#e41a1c" stroke-width="3.2"/><text x="380" y="547.2" font-size="16">Day 0</text><line x1="353.2" y1="575.6" x2="372.9" y2="575.6" stroke="#377eb8" stroke-width="3.2"/><text x="380" y="581.4" font-size="16">Day 2</text><line x1="353.2" y1="608.5" x2="372.9" y2="608.5" stroke="#4daf4a" stroke-width="3.2"/><text x="380" y="614.3" font-size="16">Day 10</text><text x="18.5" y="575.5" font-size="23.8" text-anchor="middle" transform="rotate(-90 18.5 575.5)">Fraction of cells</text><text x="205.5" y="703.3" font-size="23.6" text-anchor="middle">Pseudotime</text><g stroke-width="2.82"><path stroke="#ffa44c" d="M447.64 70.3v15.88M450.11 70.3v15.88M452.58 70.3v15.88M455.05 70.3v15.88M467.41 70.3v15.88M516.85 70.3v15.88M455.05 86.18v15.88M509.44 86.18v15.88M457.52 133.82v15.88M460 133.82v15.88M455.05 149.7v15.88M474.83 149.7v15.88M563.82 181.46v15.88M556.4 213.23v15.88M514.38 244.99v15.88M546.52 292.63v15.88M553.93 324.39v15.88M544.04 372.03v15.88M546.52 372.03v15.88M509.44 451.44v15.88M526.74 451.44v15.88M553.93 483.2v15.88M556.4 483.2v15.88M558.88 483.2v15.88M519.32 499.08v15.88M558.88 499.08v15.88M509.44 514.96v15.88M511.91 514.96v15.88M514.38 514.96v15.88M516.85 514.96v15.88M531.68 530.84v15.88M536.63 530.84v15.88M551.46 530.84v15.88M455.05 546.72v15.88"/><path stroke="#ff7484" d="M457.52 70.3v15.88M477.3 86.18v15.88M467.41 102.06v15.88M469.88 102.06v15.88M472.36 102.06v15.88M477.3 102.06v15.88M484.72 102.06v15.88M457.52 149.7v15.88M460 149.7v15.88M514.38 149.7v15.88M519.32 149.7v15.88M494.6 165.58v15.88M497.08 165.58v15.88M477.3 181.46v15.88M487.19 181.46v15.88M546.52 181.46v15.88M553.93 181.46v15.88M511.91 197.35v15.88M514.38 197.35v15.88M558.88 213.23v15.88M509.44 244.99v15.88M558.88 244.99v15.88M524.27 292.63v15.88M484.72 308.51v15.88M487.19 308.51v15.88M558.88 340.27v15.88M536.63 356.15v15.88M541.57 372.03v15.88M514.38 387.91v15.88M516.85 387.91v15.88M541.57 387.91v15.88M556.4 403.79v15.88M548.99 435.55v15.88M546.52 483.2v15.88M551.46 483.2v15.88M467.41 514.96v15.88M469.88 514.96v15.88"/><path stroke="#ffb646" d="M460 70.3v15.88M462.47 70.3v15.88M519.32 70.3v15.88M521.8 70.3v15.88M447.64 133.82v15.88M450.11 133.82v15.88M452.58 133.82v15.88M455.05 133.82v15.88M489.66 165.58v15.88M492.13 165.58v15.88M506.96 197.35v15.88M551.46 213.23v15.88M539.1 292.63v15.88M541.57 292.63v15.88M544.04 324.39v15.88M546.52 324.39v15.88M563.82 324.39v15.88M568.76 324.39v15.88M539.1 356.15v15.88M548.99 372.03v15.88M563.82 372.03v15.88M516.85 403.79v15.88M553.93 435.55v15.88M561.35 451.44v15.88M502.02 514.96v15.88M553.93 514.96v15.88M556.4 530.84v15.88M558.88 530.84v15.88"/><path stroke="#ffad49" d="M464.94 70.3v15.88M452.58 86.18v15.88M447.64 149.7v15.88M452.58 149.7v15.88M472.36 149.7v15.88M566.29 181.46v15.88M568.76 181.46v15.88M479.77 197.35v15.88M504.49 197.35v15.88M553.93 213.23v15.88M506.96 229.11v15.88M529.21 260.87v15.88M541.57 324.39v15.88M551.46 324.39v15.88M556.4 340.27v15.88M558.88 356.15v15.88M566.29 372.03v15.88M511.91 451.44v15.88M521.8 451.44v15.88M524.27 451.44v15.88M566.29 467.32v15.88M568.76 467.32v15.88M561.35 483.2v15.88M563.82 483.2v15.88M566.29 483.2v15.88M568.76 483.2v15.88M568.76 514.96v15.88M534.16 530.84v15.88M553.93 530.84v15.88M566.29 530.84v15.88M450.11 546.72v15.88M452.58 546.72v15.88"/><path stroke="#ff876e" d="M469.88 70.3v15.88M472.36 70.3v15.88M447.64 86.18v15.88M450.11 86.18v15.88M460 86.18v15.88M487.19 102.06v15.88M492.13 117.94v15.88M467.41 149.7v15.88M469.88 149.7v15.88M479.77 165.58v15.88M482.24 181.46v15.88M544.04 181.46v15.88M558.88 181.46v15.88M536.63 213.23v15.88M460 244.99v15.88M462.47 244.99v15.88M519.32 244.99v15.88M521.8 244.99v15.88M524.27 244.99v15.88M551.46 244.99v15.88M526.74 276.75v15.88M548.99 324.39v15.88M536.63 340.27v15.88M519.32 403.79v15.88M558.88 435.55v15.88M519.32 483.2v15.88M539.1 483.2v15.88M524.27 499.08v15.88M484.72 514.96v15.88M548.99 530.84v15.88M534.16 546.72v15.88"/><path stroke="#ff7e79" d="M474.83 70.3v15.88M462.47 86.18v15.88M464.94 86.18v15.88M464.94 102.06v15.88M474.83 102.06v15.88M506.96 102.06v15.88M455.05 117.94v15.88M482.24 165.58v15.88M484.72 165.58v15.88M479.77 181.46v15.88M484.72 181.46v15.88M541.57 181.46v15.88M556.4 181.46v15.88M482.24 213.23v15.88M455.05 229.11v15.88M477.3 229.11v15.88M479.77 229.11v15.88M526.74 244.99v15.88M524.27 276.75v15.88M526.74 292.63v15.88M531.68 340.27v15.88M548.99 340.27v15.88M563.82 356.15v15.88M566.29 356.15v15.88M544.04 387.91v15.88M521.8 403.79v15.88M548.99 467.32v15.88M526.74 483.2v15.88M509.44 499.08v15.88M472.36 514.96v15.88M477.3 514.96v15.88M479.77 514.96v15.88M546.52 530.84v15.88"/><path stroke="#fb6d8e" d="M477.3 70.3v15.88M479.77 70.3v15.88M487.19 86.18v15.88M526.74 86.18v15.88M479.77 102.06v15.88M482.24 102.06v15.88M521.8 117.94v15.88M524.27 117.94v15.88M462.47 149.7v15.88M499.55 149.7v15.88M489.66 181.46v15.88M548.99 181.46v15.88M484.72 197.35v15.88M499.55 197.35v15.88M524.27 197.35v15.88M558.88 197.35v15.88M561.35 213.23v15.88M556.4 244.99v15.88M539.1 276.75v15.88M519.32 292.63v15.88M521.8 292.63v15.88M544.04 292.63v15.88M514.38 340.27v15.88M516.85 340.27v15.88M551.46 403.79v15.88M519.32 451.44v15.88M546.52 467.32v15.88M474.83 514.96v15.88M524.27 546.72v15.88M526.74 546.72v15.88"/><path stroke="#f76699" d="M482.24 70.3v15.88M484.72 70.3v15.88M489.66 70.3v15.88M457.52 86.18v15.88M467.41 86.18v15.88M519.32 117.94v15.88M477.3 197.35v15.88M516.85 197.35v15.88M492.13 213.23v15.88M516.85 213.23v15.88M563.82 213.23v15.88M539.1 244.99v15.88M541.57 244.99v15.88M502.02 292.63v15.88M504.49 292.63v15.88M506.96 292.63v15.88M566.29 324.39v15.88M504.49 372.03v15.88M509.44 372.03v15.88M511.91 372.03v15.88M539.1 372.03v15.88M509.44 387.91v15.88M477.3 403.79v15.88M479.77 403.79v15.88M546.52 419.67v15.88M548.99 419.67v15.88M472.36 451.44v15.88M544.04 483.2v15.88M464.94 514.96v15.88M519.32 546.72v15.88M521.8 546.72v15.88"/><path stroke="#f45ea3" d="M487.19 70.3v15.88M479.77 86.18v15.88M482.24 86.18v15.88M484.72 86.18v15.88M489.66 86.18v15.88M506.96 86.18v15.88M514.38 86.18v15.88M457.52 117.94v15.88M477.3 117.94v15.88M526.74 117.94v15.88M492.13 133.82v15.88M511.91 149.7v15.88M464.94 165.58v15.88M563.82 165.58v15.88M509.44 197.35v15.88M526.74 197.35v15.88M531.68 213.23v15.88M534.16 213.23v15.88M472.36 229.11v15.88M474.83 229.11v15.88M546.52 244.99v15.88M548.99 244.99v15.88M553.93 244.99v15.88M506.96 260.87v15.88M539.1 260.87v15.88M516.85 292.63v15.88M460 308.51v15.88M462.47 308.51v15.88M497.08 308.51v15.88M511.91 340.27v15.88M514.38 372.03v15.88M531.68 419.67v15.88M534.16 419.67v15.88M544.04 419.67v15.88M556.4 419.67v15.88M551.46 435.55v15.88M514.38 451.44v15.88M516.85 451.44v15.88M529.21 451.44v15.88M539.1 467.32v15.88M526.74 499.08v15.88M529.21 546.72v15.88"/><path stroke="#d749c8" d="M492.13 70.3v15.88M494.6 70.3v15.88M497.08 70.3v15.88M558.88 70.3v15.88M469.88 86.18v15.88M472.36 86.18v15.88M474.83 86.18v15.88M511.91 86.18v15.88M497.08 117.94v15.88M516.85 117.94v15.88M521.8 149.7v15.88M506.96 165.58v15.88M497.08 181.46v15.88M511.91 213.23v15.88M514.38 213.23v15.88M526.74 213.23v15.88M484.72 229.11v15.88M487.19 229.11v15.88M494.6 229.11v15.88M447.64 244.99v15.88M464.94 244.99v15.88M544.04 260.87v15.88M546.52 260.87v15.88M519.32 276.75v15.88M509.44 292.63v15.88M499.55 340.27v15.88M509.44 340.27v15.88M524.27 340.27v15.88M526.74 340.27v15.88M529.21 356.15v15.88M479.77 387.91v15.88M482.24 387.91v15.88M556.4 451.44v15.88M534.16 467.32v15.88M536.63 467.32v15.88M467.41 483.2v15.88M474.83 483.2v15.88M487.19 514.96v15.88M519.32 514.96v15.88M511.91 530.84v15.88M514.38 530.84v15.88M516.85 530.84v15.88M541.57 530.84v15.88M556.4 546.72v15.88"/><path stroke="#f057ae" d="M499.55 70.3v15.88M502.02 70.3v15.88M504.49 70.3v15.88M499.55 86.18v15.88M502.02 86.18v15.88M504.49 86.18v15.88M474.83 117.94v15.88M484.72 133.82v15.88M464.94 149.7v15.88M504.49 149.7v15.88M506.96 149.7v15.88M492.13 181.46v15.88M529.21 213.23v15.88M467.41 229.11v15.88M469.88 229.11v15.88M544.04 244.99v15.88M502.02 260.87v15.88M504.49 260.87v15.88M484.72 292.63v15.88M506.96 340.27v15.88M521.8 340.27v15.88M534.16 356.15v15.88M506.96 372.03v15.88M516.85 372.03v15.88M536.63 372.03v15.88M504.49 387.91v15.88M506.96 387.91v15.88M511.91 387.91v15.88M541.57 419.67v15.88M553.93 419.67v15.88M469.88 451.44v15.88M474.83 451.44v15.88M531.68 451.44v15.88M534.16 451.44v15.88M558.88 451.44v15.88M484.72 483.2v15.88M556.4 499.08v15.88M563.82 530.84v15.88M464.94 546.72v15.88M551.46 546.72v15.88"/><path stroke="#ec50b8" d="M506.96 70.3v15.88M509.44 117.94v15.88M487.19 133.82v15.88M494.6 133.82v15.88M484.72 149.7v15.88M502.02 149.7v15.88M499.55 165.58v15.88M502.02 165.58v15.88M561.35 165.58v15.88M487.19 197.35v15.88M561.35 197.35v15.88M563.82 197.35v15.88M479.77 213.23v15.88M497.08 229.11v15.88M499.55 260.87v15.88M526.74 260.87v15.88M541.57 260.87v15.88M521.8 276.75v15.88M548.99 276.75v15.88M487.19 292.63v15.88M499.55 292.63v15.88M472.36 308.51v15.88M474.83 308.51v15.88M497.08 340.27v15.88M531.68 356.15v15.88M467.41 372.03v15.88M521.8 387.91v15.88M548.99 403.79v15.88M541.57 467.32v15.88M544.04 467.32v15.88M477.3 483.2v15.88M479.77 483.2v15.88M482.24 483.2v15.88M526.74 530.84v15.88M536.63 546.72v15.88M558.88 546.72v15.88"/><path stroke="#cd45d0" d="M509.44 70.3v15.88M524.27 70.3v15.88M492.13 86.18v15.88M494.6 86.18v15.88M497.08 86.18v15.88M479.77 117.94v15.88M511.91 117.94v15.88M514.38 117.94v15.88M524.27 149.7v15.88M568.76 197.35v15.88M509.44 213.23v15.88M524.27 213.23v15.88M529.21 244.99v15.88M511.91 260.87v15.88M514.38 260.87v15.88M519.32 260.87v15.88M521.8 260.87v15.88M524.27 260.87v15.88M546.52 276.75v15.88M514.38 292.63v15.88M469.88 308.51v15.88M479.77 308.51v15.88M482.24 308.51v15.88M499.55 308.51v15.88M502.02 308.51v15.88M504.49 340.27v15.88M534.16 340.27v15.88M502.02 372.03v15.88M484.72 387.91v15.88M529.21 419.67v15.88M553.93 451.44v15.88M531.68 467.32v15.88M462.47 483.2v15.88M521.8 514.96v15.88M544.04 530.84v15.88M467.41 546.72v15.88M469.88 546.72v15.88"/><path stroke="#c242d8" d="M511.91 70.3v15.88M514.38 70.3v15.88M482.24 117.94v15.88M484.72 117.94v15.88M487.19 117.94v15.88M524.27 133.82v15.88M516.85 149.7v15.88M447.64 165.58v15.88M450.11 165.58v15.88M467.41 181.46v15.88M474.83 181.46v15.88M494.6 213.23v15.88M497.08 213.23v15.88M489.66 229.11v15.88M492.13 229.11v15.88M531.68 244.99v15.88M544.04 276.75v15.88M551.46 276.75v15.88M467.41 308.51v15.88M504.49 308.51v15.88M506.96 308.51v15.88M511.91 308.51v15.88M529.21 324.39v15.88M536.63 324.39v15.88M492.13 340.27v15.88M494.6 340.27v15.88M474.83 356.15v15.88M464.94 372.03v15.88M469.88 372.03v15.88M472.36 372.03v15.88M499.55 372.03v15.88M477.3 387.91v15.88M506.96 403.79v15.88M447.64 435.55v15.88M450.11 435.55v15.88M452.58 435.55v15.88M519.32 435.55v15.88M544.04 435.55v15.88M519.32 467.32v15.88M472.36 483.2v15.88M474.83 499.08v15.88M477.3 499.08v15.88M479.77 499.08v15.88M482.24 499.08v15.88M506.96 499.08v15.88M519.32 530.84v15.88M521.8 530.84v15.88M524.27 530.84v15.88M482.24 546.72v15.88M514.38 546.72v15.88M553.93 546.72v15.88"/><path stroke="#b83ee0" d="M526.74 70.3v15.88M499.55 117.94v15.88M521.8 133.82v15.88M526.74 133.82v15.88M526.74 149.7v15.88M464.94 181.46v15.88M469.88 181.46v15.88M472.36 181.46v15.88M474.83 197.35v15.88M519.32 197.35v15.88M477.3 213.23v15.88M464.94 260.87v15.88M548.99 260.87v15.88M541.57 276.75v15.88M511.91 292.63v15.88M492.13 308.51v15.88M514.38 308.51v15.88M489.66 340.27v15.88M519.32 340.27v15.88M467.41 356.15v15.88M472.36 356.15v15.88M531.68 387.91v15.88M534.16 387.91v15.88M536.63 387.91v15.88M514.38 419.67v15.88M516.85 419.67v15.88M519.32 419.67v15.88M521.8 419.67v15.88M524.27 419.67v15.88M526.74 419.67v15.88M536.63 419.67v15.88M474.83 467.32v15.88M511.91 467.32v15.88M469.88 483.2v15.88M548.99 483.2v15.88M492.13 499.08v15.88M502.02 499.08v15.88M551.46 499.08v15.88M524.27 514.96v15.88M467.41 530.84v15.88M509.44 530.84v15.88M479.77 546.72v15.88"/><path stroke="#292bf9" d="M529.21 70.3v15.88M531.68 70.3v15.88M546.52 70.3v15.88M556.4 70.3v15.88M553.93 86.18v15.88M551.46 117.94v15.88M553.93 117.94v15.88M556.4 117.94v15.88M502.02 133.82v15.88M504.49 133.82v15.88M492.13 149.7v15.88M553.93 149.7v15.88M563.82 149.7v15.88M514.38 229.11v15.88M551.46 229.11v15.88M553.93 229.11v15.88M558.88 229.11v15.88M467.41 260.87v15.88M469.88 260.87v15.88M492.13 260.87v15.88M561.35 260.87v15.88M563.82 292.63v15.88M566.29 292.63v15.88M568.76 292.63v15.88M524.27 308.51v15.88M568.76 308.51v15.88M450.11 324.39v15.88M452.58 324.39v15.88M455.05 324.39v15.88M467.41 324.39v15.88M469.88 324.39v15.88M487.19 356.15v15.88M489.66 372.03v15.88M492.13 372.03v15.88M524.27 372.03v15.88M526.74 372.03v15.88M474.83 387.91v15.88M502.02 403.79v15.88M529.21 403.79v15.88M464.94 419.67v15.88M469.88 419.67v15.88M472.36 419.67v15.88M506.96 419.67v15.88M497.08 467.32v15.88M447.64 483.2v15.88M450.11 483.2v15.88M452.58 483.2v15.88M548.99 499.08v15.88M492.13 514.96v15.88"/><path stroke="#2529f6" d="M534.16 70.3v15.88M539.1 70.3v15.88M539.1 102.06v15.88M558.88 102.06v15.88M452.58 181.46v15.88M521.8 181.46v15.88M524.27 181.46v15.88M516.85 229.11v15.88M536.63 229.11v15.88M467.41 244.99v15.88M472.36 244.99v15.88M521.8 308.51v15.88M477.3 324.39v15.88M511.91 324.39v15.88M519.32 324.39v15.88M457.52 356.15v15.88M516.85 356.15v15.88M457.52 372.03v15.88M477.3 372.03v15.88M494.6 403.79v15.88M447.64 419.67v15.88M482.24 451.44v15.88M539.1 451.44v15.88M460 467.32v15.88M492.13 483.2v15.88M447.64 499.08v15.88M489.66 514.96v15.88M477.3 530.84v15.88M484.72 530.84v15.88M541.57 546.72v15.88"/><path stroke="#6633f5" d="M536.63 70.3v15.88M541.57 70.3v15.88M544.04 70.3v15.88M536.63 86.18v15.88M548.99 133.82v15.88M487.19 149.7v15.88M561.35 149.7v15.88M457.52 165.58v15.88M460 165.58v15.88M462.47 165.58v15.88M566.29 165.58v15.88M568.76 165.58v15.88M504.49 181.46v15.88M541.57 197.35v15.88M509.44 229.11v15.88M497.08 244.99v15.88M479.77 260.87v15.88M563.82 276.75v15.88M566.29 276.75v15.88M568.76 276.75v15.88M457.52 308.51v15.88M519.32 308.51v15.88M516.85 324.39v15.88M529.21 372.03v15.88M524.27 387.91v15.88M457.52 403.79v15.88M460 403.79v15.88M462.47 403.79v15.88M474.83 403.79v15.88M539.1 403.79v15.88M472.36 435.55v15.88M474.83 435.55v15.88M477.3 435.55v15.88M479.77 435.55v15.88M482.24 435.55v15.88M477.3 451.44v15.88M494.6 451.44v15.88M482.24 467.32v15.88M484.72 467.32v15.88M506.96 467.32v15.88M521.8 467.32v15.88M524.27 467.32v15.88M457.52 483.2v15.88M516.85 483.2v15.88M529.21 514.96v15.88M536.63 514.96v15.88M487.19 546.72v15.88M548.99 546.72v15.88"/><path stroke="#2226f3" d="M548.99 70.3v15.88M521.8 102.06v15.88M524.27 102.06v15.88M541.57 102.06v15.88M544.04 102.06v15.88M506.96 133.82v15.88M509.44 181.46v15.88M511.91 181.46v15.88M529.21 181.46v15.88M531.68 181.46v15.88M447.64 213.23v15.88M548.99 229.11v15.88M556.4 229.11v15.88M561.35 229.11v15.88M482.24 244.99v15.88M484.72 244.99v15.88M452.58 276.75v15.88M455.05 276.75v15.88M484.72 276.75v15.88M464.94 292.63v15.88M551.46 308.51v15.88M521.8 324.39v15.88M524.27 324.39v15.88M457.52 340.27v15.88M460 356.15v15.88M509.44 356.15v15.88M487.19 372.03v15.88M455.05 387.91v15.88M457.52 387.91v15.88M460 387.91v15.88M531.68 403.79v15.88M455.05 419.67v15.88M492.13 419.67v15.88M494.6 419.67v15.88M497.08 419.67v15.88M499.55 419.67v15.88M502.02 419.67v15.88M504.49 419.67v15.88M464.94 451.44v15.88M479.77 451.44v15.88M489.66 451.44v15.88M457.52 467.32v15.88M469.88 467.32v15.88M477.3 467.32v15.88M489.66 499.08v15.88M546.52 514.96v15.88M472.36 546.72v15.88"/><path stroke="#2c2efc" d="M551.46 70.3v15.88M553.93 70.3v15.88M534.16 133.82v15.88M536.63 133.82v15.88M489.66 149.7v15.88M447.64 181.46v15.88M450.11 181.46v15.88M519.32 229.11v15.88M521.8 229.11v15.88M450.11 244.99v15.88M452.58 244.99v15.88M502.02 244.99v15.88M494.6 260.87v15.88M487.19 276.75v15.88M472.36 292.63v15.88M474.83 292.63v15.88M499.55 324.39v15.88M509.44 324.39v15.88M450.11 340.27v15.88M462.47 356.15v15.88M494.6 372.03v15.88M521.8 372.03v15.88M499.55 435.55v15.88M529.21 435.55v15.88M457.52 451.44v15.88M499.55 451.44v15.88M479.77 467.32v15.88M494.6 467.32v15.88M455.05 483.2v15.88M489.66 483.2v15.88M497.08 483.2v15.88M447.64 514.96v15.88M450.11 514.96v15.88M452.58 514.96v15.88M455.05 514.96v15.88M534.16 514.96v15.88M548.99 514.96v15.88M447.64 530.84v15.88M450.11 530.84v15.88M452.58 530.84v15.88M455.05 530.84v15.88M457.52 530.84v15.88M460 530.84v15.88M474.83 530.84v15.88M479.77 530.84v15.88M482.24 530.84v15.88M504.49 546.72v15.88M539.1 546.72v15.88"/><path stroke="#1a1fdd" d="M561.35 70.3v15.88M526.74 102.06v15.88M548.99 102.06v15.88M509.44 133.82v15.88M556.4 133.82v15.88M558.88 133.82v15.88M526.74 181.46v15.88M462.47 213.23v15.88M464.94 213.23v15.88M531.68 229.11v15.88M534.16 229.11v15.88M544.04 229.11v15.88M546.52 229.11v15.88M477.3 244.99v15.88M472.36 260.87v15.88M477.3 260.87v15.88M457.52 276.75v15.88M460 276.75v15.88M462.47 276.75v15.88M464.94 276.75v15.88M457.52 292.63v15.88M447.64 324.39v15.88M497.08 324.39v15.88M455.05 340.27v15.88M447.64 356.15v15.88M450.11 356.15v15.88M447.64 387.91v15.88M450.11 387.91v15.88M472.36 387.91v15.88M450.11 419.67v15.88M474.83 419.67v15.88M479.77 419.67v15.88M548.99 451.44v15.88M541.57 514.96v15.88"/><path stroke="#161aca" d="M563.82 70.3v15.88M556.4 86.18v15.88M511.91 102.06v15.88M539.1 117.94v15.88M561.35 117.94v15.88M563.82 117.94v15.88M566.29 117.94v15.88M568.76 117.94v15.88M455.05 181.46v15.88M536.63 197.35v15.88M455.05 260.87v15.88M447.64 276.75v15.88M450.11 276.75v15.88M469.88 276.75v15.88M447.64 292.63v15.88M450.11 292.63v15.88M558.88 292.63v15.88M492.13 324.39v15.88M494.6 324.39v15.88M526.74 324.39v15.88M469.88 387.91v15.88M497.08 387.91v15.88M536.63 403.79v15.88M506.96 435.55v15.88M511.91 483.2v15.88M455.05 499.08v15.88M494.6 499.08v15.88M544.04 499.08v15.88M544.04 514.96v15.88"/><path stroke="#1214b6" d="M566.29 70.3v15.88M568.76 70.3v15.88M558.88 86.18v15.88M514.38 102.06v15.88M516.85 102.06v15.88M529.21 102.06v15.88M531.68 102.06v15.88M566.29 133.82v15.88M568.76 133.82v15.88M536.63 165.58v15.88M553.93 165.58v15.88M553.93 308.51v15.88M563.82 308.51v15.88M484.72 324.39v15.88M472.36 340.27v15.88M482.24 372.03v15.88M484.72 372.03v15.88M452.58 387.91v15.88M467.41 387.91v15.88M534.16 403.79v15.88M460 451.44v15.88M462.47 451.44v15.88M544.04 451.44v15.88M546.52 451.44v15.88M447.64 467.32v15.88M499.55 483.2v15.88M509.44 483.2v15.88M497.08 546.72v15.88"/><path stroke="#8f38eb" d="M516.85 86.18v15.88M546.52 86.18v15.88M504.49 117.94v15.88M534.16 117.94v15.88M489.66 133.82v15.88M529.21 133.82v15.88M531.68 133.82v15.88M494.6 149.7v15.88M511.91 165.58v15.88M514.38 165.58v15.88M524.27 165.58v15.88M526.74 165.58v15.88M494.6 197.35v15.88M546.52 197.35v15.88M566.29 197.35v15.88M457.52 260.87v15.88M460 260.87v15.88M462.47 260.87v15.88M494.6 276.75v15.88M553.93 276.75v15.88M492.13 292.63v15.88M469.88 356.15v15.88M477.3 356.15v15.88M479.77 356.15v15.88M506.96 356.15v15.88M519.32 356.15v15.88M526.74 387.91v15.88M482.24 403.79v15.88M497.08 403.79v15.88M526.74 403.79v15.88M544.04 403.79v15.88M467.41 435.55v15.88M534.16 483.2v15.88M536.63 483.2v15.88M460 499.08v15.88M462.47 514.96v15.88M474.83 546.72v15.88M511.91 546.72v15.88"/><path stroke="#aa3ce4" d="M519.32 86.18v15.88M521.8 86.18v15.88M524.27 86.18v15.88M541.57 86.18v15.88M489.66 117.94v15.88M519.32 133.82v15.88M472.36 197.35v15.88M499.55 213.23v15.88M502.02 213.23v15.88M457.52 229.11v15.88M460 229.11v15.88M536.63 244.99v15.88M497.08 276.75v15.88M511.91 276.75v15.88M516.85 276.75v15.88M558.88 276.75v15.88M489.66 308.51v15.88M494.6 308.51v15.88M509.44 308.51v15.88M516.85 308.51v15.88M534.16 324.39v15.88M524.27 356.15v15.88M526.74 356.15v15.88M474.83 372.03v15.88M529.21 387.91v15.88M524.27 403.79v15.88M487.19 419.67v15.88M511.91 419.67v15.88M462.47 435.55v15.88M464.94 435.55v15.88M531.68 435.55v15.88M551.46 451.44v15.88M472.36 467.32v15.88M509.44 467.32v15.88M487.19 483.2v15.88M499.55 499.08v15.88M504.49 499.08v15.88M526.74 514.96v15.88M462.47 530.84v15.88M464.94 530.84v15.88M447.64 546.72v15.88M477.3 546.72v15.88M484.72 546.72v15.88"/><path stroke="#7434f2" d="M529.21 86.18v15.88M482.24 149.7v15.88M556.4 149.7v15.88M558.88 165.58v15.88M457.52 181.46v15.88M502.02 181.46v15.88M514.38 181.46v15.88M516.85 181.46v15.88M519.32 181.46v15.88M536.63 181.46v15.88M504.49 213.23v15.88M506.96 213.23v15.88M457.52 244.99v15.88M489.66 244.99v15.88M494.6 244.99v15.88M563.82 260.87v15.88M566.29 260.87v15.88M568.76 260.87v15.88M489.66 276.75v15.88M492.13 276.75v15.88M561.35 276.75v15.88M497.08 292.63v15.88M551.46 292.63v15.88M566.29 308.51v15.88M514.38 324.39v15.88M484.72 356.15v15.88M519.32 372.03v15.88M531.68 372.03v15.88M487.19 387.91v15.88M450.11 403.79v15.88M452.58 403.79v15.88M455.05 403.79v15.88M464.94 403.79v15.88M487.19 403.79v15.88M541.57 403.79v15.88M504.49 435.55v15.88M534.16 435.55v15.88M539.1 435.55v15.88M526.74 467.32v15.88M457.52 499.08v15.88M534.16 499.08v15.88"/><path stroke="#5932f7" d="M531.68 86.18v15.88M539.1 86.18v15.88M534.16 102.06v15.88M536.63 102.06v15.88M568.76 102.06v15.88M529.21 117.94v15.88M556.4 165.58v15.88M506.96 181.46v15.88M457.52 197.35v15.88M460 197.35v15.88M489.66 197.35v15.88M477.3 276.75v15.88M479.77 276.75v15.88M447.64 308.51v15.88M450.11 308.51v15.88M452.58 308.51v15.88M504.49 324.39v15.88M487.19 340.27v15.88M502.02 356.15v15.88M504.49 356.15v15.88M447.64 403.79v15.88M469.88 403.79v15.88M472.36 403.79v15.88M492.13 403.79v15.88M477.3 419.67v15.88M484.72 435.55v15.88M487.19 435.55v15.88M506.96 451.44v15.88M462.47 467.32v15.88M464.94 467.32v15.88M502.02 467.32v15.88M504.49 467.32v15.88M467.41 499.08v15.88M497.08 514.96v15.88"/><path stroke="#3e31fc" d="M534.16 86.18v15.88M563.82 102.06v15.88M566.29 102.06v15.88M531.68 117.94v15.88M514.38 133.82v15.88M539.1 133.82v15.88M541.57 133.82v15.88M544.04 133.82v15.88M546.52 133.82v15.88M548.99 149.7v15.88M558.88 149.7v15.88M529.21 165.58v15.88M531.68 165.58v15.88M467.41 213.23v15.88M447.64 260.87v15.88M450.11 260.87v15.88M452.58 260.87v15.88M558.88 260.87v15.88M467.41 276.75v15.88M467.41 292.63v15.88M477.3 292.63v15.88M556.4 292.63v15.88M472.36 324.39v15.88M474.83 324.39v15.88M479.77 324.39v15.88M482.24 324.39v15.88M479.77 340.27v15.88M482.24 340.27v15.88M460 372.03v15.88M462.47 372.03v15.88M469.88 435.55v15.88M489.66 435.55v15.88M492.13 435.55v15.88M494.6 435.55v15.88M497.08 435.55v15.88M524.27 435.55v15.88M526.74 435.55v15.88M447.64 451.44v15.88M450.11 451.44v15.88M487.19 451.44v15.88M504.49 451.44v15.88M464.94 483.2v15.88M469.88 530.84v15.88"/><path stroke="#9d3ae7" d="M544.04 86.18v15.88M561.35 102.06v15.88M502.02 117.94v15.88M506.96 117.94v15.88M551.46 133.82v15.88M477.3 149.7v15.88M497.08 149.7v15.88M509.44 165.58v15.88M516.85 165.58v15.88M521.8 165.58v15.88M462.47 181.46v15.88M497.08 197.35v15.88M553.93 197.35v15.88M556.4 197.35v15.88M487.19 213.23v15.88M489.66 213.23v15.88M519.32 213.23v15.88M462.47 229.11v15.88M534.16 244.99v15.88M551.46 260.87v15.88M514.38 276.75v15.88M489.66 292.63v15.88M494.6 292.63v15.88M464.94 356.15v15.88M521.8 356.15v15.88M502.02 387.91v15.88M504.49 403.79v15.88M489.66 419.67v15.88M509.44 419.67v15.88M541.57 435.55v15.88M546.52 435.55v15.88M514.38 467.32v15.88M516.85 467.32v15.88M529.21 467.32v15.88M462.47 499.08v15.88M529.21 499.08v15.88"/><path stroke="#8236ee" d="M548.99 86.18v15.88M509.44 102.06v15.88M536.63 117.94v15.88M479.77 149.7v15.88M551.46 149.7v15.88M452.58 165.58v15.88M455.05 165.58v15.88M519.32 165.58v15.88M460 181.46v15.88M499.55 181.46v15.88M492.13 197.35v15.88M521.8 197.35v15.88M544.04 197.35v15.88M548.99 197.35v15.88M492.13 244.99v15.88M497.08 260.87v15.88M509.44 260.87v15.88M556.4 276.75v15.88M479.77 292.63v15.88M482.24 292.63v15.88M464.94 308.51v15.88M556.4 308.51v15.88M531.68 324.39v15.88M502.02 340.27v15.88M482.24 356.15v15.88M534.16 372.03v15.88M499.55 387.91v15.88M484.72 403.79v15.88M489.66 403.79v15.88M536.63 435.55v15.88M455.05 451.44v15.88M497.08 451.44v15.88M469.88 499.08v15.88M472.36 499.08v15.88M531.68 499.08v15.88M536.63 499.08v15.88M457.52 514.96v15.88M460 514.96v15.88M509.44 546.72v15.88"/><path stroke="#1e24f0" d="M551.46 86.18v15.88M519.32 102.06v15.88M546.52 102.06v15.88M511.91 133.82v15.88M553.93 133.82v15.88M469.88 213.23v15.88M472.36 213.23v15.88M529.21 229.11v15.88M469.88 244.99v15.88M479.77 244.99v15.88M499.55 244.99v15.88M472.36 276.75v15.88M474.83 276.75v15.88M482.24 276.75v15.88M460 292.63v15.88M462.47 292.63v15.88M460 340.27v15.88M499.55 356.15v15.88M511.91 356.15v15.88M514.38 356.15v15.88M479.77 372.03v15.88M489.66 387.91v15.88M452.58 419.67v15.88M460 419.67v15.88M462.47 419.67v15.88M541.57 451.44v15.88M467.41 467.32v15.88M546.52 499.08v15.88M539.1 514.96v15.88"/><path stroke="#08087d" d="M561.35 86.18v15.88M531.68 197.35v15.88M469.88 340.27v15.88M452.58 356.15v15.88M482.24 419.67v15.88M509.44 435.55v15.88M511.91 435.55v15.88M514.38 435.55v15.88M452.58 467.32v15.88M455.05 467.32v15.88M497.08 530.84v15.88"/><path stroke="#020243" d="M563.82 86.18v15.88M566.29 86.18v15.88M568.76 86.18v15.88M544.04 117.94v15.88M546.52 117.94v15.88M544.04 149.7v15.88M541.57 165.58v15.88M492.13 356.15v15.88M457.52 419.67v15.88M499.55 530.84v15.88M489.66 546.72v15.88"/><path stroke="#ffda3f" d="M447.64 102.06v15.88M450.11 102.06v15.88M492.13 102.06v15.88M467.41 133.82v15.88M472.36 165.58v15.88M561.35 244.99v15.88M536.63 260.87v15.88M536.63 276.75v15.88M534.16 292.63v15.88M536.63 292.63v15.88M544.04 340.27v15.88M546.52 340.27v15.88M563.82 340.27v15.88M566.29 340.27v15.88M509.44 403.79v15.88M558.88 403.79v15.88M563.82 435.55v15.88M551.46 467.32v15.88"/><path stroke="#ffd23c" d="M452.58 102.06v15.88M457.52 102.06v15.88M460 102.06v15.88M462.47 102.06v15.88M489.66 102.06v15.88M469.88 133.82v15.88M472.36 133.82v15.88M474.83 165.58v15.88M502.02 229.11v15.88M531.68 260.87v15.88M531.68 292.63v15.88M539.1 308.51v15.88M541.57 308.51v15.88M544.04 308.51v15.88M556.4 324.39v15.88M539.1 340.27v15.88M541.57 340.27v15.88M541.57 356.15v15.88M551.46 356.15v15.88M561.35 435.55v15.88M506.96 514.96v15.88M561.35 546.72v15.88"/><path stroke="#ff9162" d="M455.05 102.06v15.88M502.02 102.06v15.88M477.3 165.58v15.88M487.19 165.58v15.88M455.05 197.35v15.88M450.11 229.11v15.88M452.58 229.11v15.88M511.91 244.99v15.88M548.99 292.63v15.88M546.52 387.91v15.88M524.27 483.2v15.88M511.91 499.08v15.88M514.38 499.08v15.88M521.8 499.08v15.88M529.21 530.84v15.88M460 546.72v15.88M462.47 546.72v15.88"/><path stroke="#ffc93f" d="M494.6 102.06v15.88M497.08 102.06v15.88M460 117.94v15.88M469.88 165.58v15.88M561.35 181.46v15.88M447.64 197.35v15.88M447.64 229.11v15.88M504.49 229.11v15.88M529.21 292.63v15.88M558.88 324.39v15.88M551.46 340.27v15.88M553.93 340.27v15.88M561.35 340.27v15.88M548.99 356.15v15.88M553.93 356.15v15.88M556.4 356.15v15.88M568.76 356.15v15.88M516.85 499.08v15.88M566.29 499.08v15.88M568.76 499.08v15.88M558.88 514.96v15.88"/><path stroke="#ff9a57" d="M499.55 102.06v15.88M504.49 102.06v15.88M467.41 117.94v15.88M469.88 117.94v15.88M472.36 117.94v15.88M539.1 181.46v15.88M551.46 181.46v15.88M450.11 197.35v15.88M452.58 197.35v15.88M482.24 197.35v15.88M566.29 213.23v15.88M568.76 213.23v15.88M516.85 244.99v15.88M566.29 244.99v15.88M568.76 244.99v15.88M548.99 308.51v15.88M544.04 356.15v15.88M546.52 356.15v15.88M548.99 387.91v15.88M521.8 483.2v15.88M482.24 514.96v15.88M499.55 514.96v15.88M551.46 514.96v15.88M457.52 546.72v15.88"/><path stroke="#040456" d="M551.46 102.06v15.88M556.4 102.06v15.88M541.57 117.94v15.88M548.99 117.94v15.88M539.1 165.58v15.88M544.04 165.58v15.88M546.52 165.58v15.88M534.16 197.35v15.88M539.1 229.11v15.88M541.57 229.11v15.88M462.47 340.27v15.88M489.66 356.15v15.88M494.6 356.15v15.88M462.47 387.91v15.88M464.94 387.91v15.88M487.19 530.84v15.88M504.49 530.84v15.88"/><path stroke="#000030" d="M553.93 102.06v15.88M534.16 149.7v15.88M536.63 149.7v15.88M539.1 149.7v15.88M541.57 149.7v15.88M450.11 213.23v15.88M452.58 213.23v15.88M455.05 213.23v15.88M457.52 213.23v15.88M460 213.23v15.88M563.82 229.11v15.88M566.29 229.11v15.88M464.94 340.27v15.88M502.02 530.84v15.88M492.13 546.72v15.88"/><path stroke="#ffc042" d="M447.64 117.94v15.88M462.47 117.94v15.88M464.94 117.94v15.88M467.41 165.58v15.88M499.55 229.11v15.88M539.1 324.39v15.88M561.35 324.39v15.88M568.76 340.27v15.88M561.35 356.15v15.88M551.46 419.67v15.88M556.4 435.55v15.88M504.49 514.96v15.88M556.4 514.96v15.88"/><path stroke="#fff049" d="M450.11 117.94v15.88M452.58 117.94v15.88M541.57 213.23v15.88M546.52 213.23v15.88M548.99 213.23v15.88M499.55 276.75v15.88M531.68 276.75v15.88M531.68 308.51v15.88M568.76 372.03v15.88M511.91 403.79v15.88M563.82 419.67v15.88M566.29 419.67v15.88M568.76 419.67v15.88M563.82 451.44v15.88M558.88 467.32v15.88M561.35 467.32v15.88M563.82 467.32v15.88M563.82 499.08v15.88M566.29 514.96v15.88"/><path stroke="#e24cc0" d="M494.6 117.94v15.88M497.08 133.82v15.88M509.44 149.7v15.88M504.49 165.58v15.88M494.6 181.46v15.88M502.02 197.35v15.88M551.46 197.35v15.88M484.72 213.23v15.88M521.8 213.23v15.88M482.24 229.11v15.88M516.85 260.87v15.88M553.93 260.87v15.88M506.96 276.75v15.88M477.3 308.51v15.88M526.74 308.51v15.88M529.21 340.27v15.88M519.32 387.91v15.88M539.1 387.91v15.88M546.52 403.79v15.88M539.1 419.67v15.88M467.41 451.44v15.88M536.63 451.44v15.88M529.21 483.2v15.88M531.68 483.2v15.88M541.57 483.2v15.88M553.93 499.08v15.88M539.1 530.84v15.88M516.85 546.72v15.88M531.68 546.72v15.88"/><path stroke="#3030ff" d="M558.88 117.94v15.88M546.52 149.7v15.88M534.16 165.58v15.88M467.41 197.35v15.88M469.88 197.35v15.88M474.83 213.23v15.88M511.91 229.11v15.88M455.05 244.99v15.88M504.49 244.99v15.88M506.96 244.99v15.88M482.24 260.87v15.88M484.72 260.87v15.88M487.19 260.87v15.88M509.44 276.75v15.88M561.35 292.63v15.88M457.52 324.39v15.88M460 324.39v15.88M462.47 324.39v15.88M464.94 324.39v15.88M502.02 324.39v15.88M474.83 340.27v15.88M477.3 340.27v15.88M497.08 372.03v15.88M467.41 419.67v15.88M455.05 435.55v15.88M457.52 435.55v15.88M460 435.55v15.88M521.8 435.55v15.88M452.58 451.44v15.88M502.02 451.44v15.88M489.66 467.32v15.88M499.55 467.32v15.88M494.6 483.2v15.88M484.72 499.08v15.88M487.19 499.08v15.88M497.08 499.08v15.88M494.6 514.96v15.88M531.68 514.96v15.88M499.55 546.72v15.88M506.96 546.72v15.88M544.04 546.72v15.88"/><path stroke="#ffe946" d="M462.47 133.82v15.88M464.94 133.82v15.88M450.11 149.7v15.88M534.16 260.87v15.88M529.21 276.75v15.88M534.16 276.75v15.88M551.46 372.03v15.88M553.93 387.91v15.88M561.35 419.67v15.88M553.93 467.32v15.88M556.4 467.32v15.88M563.82 514.96v15.88"/><path stroke="#fff84c" d="M474.83 133.82v15.88M477.3 133.82v15.88M479.77 133.82v15.88M482.24 133.82v15.88M544.04 213.23v15.88M502.02 276.75v15.88M504.49 276.75v15.88M529.21 308.51v15.88M534.16 308.51v15.88M536.63 308.51v15.88M546.52 308.51v15.88M553.93 372.03v15.88M556.4 372.03v15.88M558.88 372.03v15.88M561.35 372.03v15.88M556.4 387.91v15.88M558.88 387.91v15.88M561.35 387.91v15.88M563.82 387.91v15.88M566.29 387.91v15.88M568.76 387.91v15.88M514.38 403.79v15.88M561.35 403.79v15.88M563.82 403.79v15.88M566.29 403.79v15.88M568.76 403.79v15.88M558.88 419.67v15.88M566.29 435.55v15.88M568.76 435.55v15.88M566.29 451.44v15.88M561.35 514.96v15.88M568.76 530.84v15.88M563.82 546.72v15.88M566.29 546.72v15.88M568.76 546.72v15.88"/><path stroke="#4b32fa" d="M499.55 133.82v15.88M516.85 133.82v15.88M566.29 149.7v15.88M568.76 149.7v15.88M534.16 181.46v15.88M462.47 197.35v15.88M464.94 197.35v15.88M539.1 197.35v15.88M464.94 229.11v15.88M524.27 229.11v15.88M526.74 229.11v15.88M487.19 244.99v15.88M474.83 260.87v15.88M489.66 260.87v15.88M556.4 260.87v15.88M469.88 292.63v15.88M553.93 292.63v15.88M455.05 308.51v15.88M506.96 324.39v15.88M484.72 340.27v15.88M467.41 403.79v15.88M499.55 403.79v15.88M502.02 435.55v15.88M516.85 435.55v15.88M484.72 451.44v15.88M487.19 467.32v15.88M492.13 467.32v15.88M460 483.2v15.88M514.38 483.2v15.88M464.94 499.08v15.88M539.1 499.08v15.88M541.57 499.08v15.88M472.36 530.84v15.88M502.02 546.72v15.88M546.52 546.72v15.88"/><path stroke="#0a0a90" d="M561.35 133.82v15.88M563.82 133.82v15.88M529.21 197.35v15.88M568.76 229.11v15.88M452.58 292.63v15.88M455.05 356.15v15.88M447.64 372.03v15.88M450.11 372.03v15.88M492.13 387.91v15.88M484.72 419.67v15.88M450.11 467.32v15.88M504.49 483.2v15.88M450.11 499.08v15.88M489.66 530.84v15.88M494.6 530.84v15.88M506.96 530.84v15.88M494.6 546.72v15.88"/><path stroke="#0e0fa3" d="M529.21 149.7v15.88M551.46 165.58v15.88M474.83 244.99v15.88M455.05 292.63v15.88M561.35 308.51v15.88M487.19 324.39v15.88M489.66 324.39v15.88M447.64 340.27v15.88M452.58 372.03v15.88M455.05 372.03v15.88M494.6 387.91v15.88M492.13 451.44v15.88M502.02 483.2v15.88M506.96 483.2v15.88M452.58 499.08v15.88M492.13 530.84v15.88"/><path stroke="#06066a" d="M531.68 149.7v15.88M548.99 165.58v15.88M558.88 308.51v15.88M452.58 340.27v15.88M467.41 340.27v15.88M497.08 356.15v15.88"/><path stroke="#ffe142" d="M539.1 213.23v15.88M563.82 244.99v15.88M551.46 387.91v15.88M553.93 403.79v15.88M568.76 451.44v15.88M561.35 499.08v15.88M561.35 530.84v15.88"/></g><g stroke-width="2.82"><path stroke="#f9a626" d="M574.53 70.3v15.88M577 70.3v15.88M584.41 70.3v15.88M596.76 70.3v15.88M614.05 70.3v15.88M591.82 102.06v15.88M601.7 102.06v15.88M611.58 149.7v15.88M584.41 165.58v15.88M596.76 197.35v15.88M604.17 213.23v15.88M614.05 213.23v15.88M599.24 229.11v15.88M675.8 308.51v15.88"/><path stroke="#ee7e22" d="M579.48 70.3v15.88M601.7 70.3v15.88M577 86.18v15.88M579.48 86.18v15.88M581.94 86.18v15.88M591.82 133.82v15.88M591.82 165.58v15.88M606.64 165.58v15.88M609.12 165.58v15.88M606.64 213.23v15.88M574.53 229.11v15.88M577 229.11v15.88M579.48 229.11v15.88M656.04 260.87v15.88M675.8 292.63v15.88M673.33 308.51v15.88"/><path stroke="#f79c21" d="M581.94 70.3v15.88M604.17 70.3v15.88M586.88 86.18v15.88M596.76 102.06v15.88M599.24 102.06v15.88M577 149.7v15.88M579.48 149.7v15.88M599.24 149.7v15.88M579.48 165.58v15.88M581.94 165.58v15.88M589.36 165.58v15.88M596.76 165.58v15.88M614.05 165.58v15.88M591.82 229.11v15.88M596.76 229.11v15.88M675.8 483.2v15.88M678.27 530.84v15.88"/><path stroke="#f8ac31" d="M586.88 70.3v15.88M589.36 70.3v15.88M591.82 70.3v15.88M616.52 70.3v15.88M591.82 86.18v15.88M599.24 86.18v15.88M599.24 197.35v15.88M594.29 229.11v15.88M604.17 308.51v15.88M673.33 483.2v15.88"/><path stroke="#f8b33c" d="M594.29 70.3v15.88M594.29 86.18v15.88M596.76 86.18v15.88M604.17 86.18v15.88M606.64 86.18v15.88M606.64 102.06v15.88M614.05 149.7v15.88M678.27 324.39v15.88M668.39 483.2v15.88M670.87 483.2v15.88"/><path stroke="#f38d21" d="M599.24 70.3v15.88M574.53 86.18v15.88M584.41 86.18v15.88M589.36 86.18v15.88M601.7 86.18v15.88M594.29 102.06v15.88M581.94 149.7v15.88M594.29 149.7v15.88M604.17 149.7v15.88M606.64 149.7v15.88M609.12 149.7v15.88M574.53 165.58v15.88M577 165.58v15.88M611.58 165.58v15.88M594.29 197.35v15.88M589.36 229.11v15.88M665.92 308.51v15.88M678.27 435.55v15.88"/><path stroke="#f6bf51" d="M606.64 70.3v15.88M619 70.3v15.88M614.05 86.18v15.88M604.17 102.06v15.88M611.58 102.06v15.88M584.41 117.94v15.88M690.62 117.94v15.88M596.76 133.82v15.88M621.47 133.82v15.88M623.93 149.7v15.88M586.88 165.58v15.88M601.7 197.35v15.88M604.17 229.11v15.88M641.23 244.99v15.88M678.27 340.27v15.88M656.04 435.55v15.88M658.51 435.55v15.88M660.99 435.55v15.88M663.45 435.55v15.88M665.92 483.2v15.88M675.8 530.84v15.88"/><path stroke="#f5c45e" d="M609.12 70.3v15.88M621.47 70.3v15.88M623.93 70.3v15.88M619 86.18v15.88M621.47 86.18v15.88M648.63 117.94v15.88M651.11 117.94v15.88M594.29 133.82v15.88M616.52 149.7v15.88M685.68 213.23v15.88M606.64 229.11v15.88M638.75 244.99v15.88M643.69 244.99v15.88M646.16 244.99v15.88M648.63 244.99v15.88M651.11 244.99v15.88M693.09 308.51v15.88M695.56 308.51v15.88M651.11 324.39v15.88M665.92 435.55v15.88M668.39 435.55v15.88M670.87 435.55v15.88M673.33 435.55v15.88M641.23 483.2v15.88M663.45 514.96v15.88"/><path stroke="#f4c96e" d="M611.58 70.3v15.88M616.52 86.18v15.88M633.81 86.18v15.88M614.05 102.06v15.88M616.52 102.06v15.88M653.57 117.94v15.88M579.48 133.82v15.88M599.24 133.82v15.88M619 133.82v15.88M616.52 165.58v15.88M678.27 260.87v15.88M651.11 276.75v15.88M690.62 308.51v15.88M646.16 324.39v15.88M648.63 324.39v15.88M643.69 372.03v15.88M646.16 387.91v15.88M648.63 387.91v15.88M651.11 387.91v15.88M678.27 403.79v15.88M653.57 435.55v15.88M678.27 467.32v15.88M660.99 483.2v15.88M663.45 483.2v15.88M651.11 499.08v15.88M653.57 499.08v15.88M636.28 514.96v15.88M648.63 514.96v15.88M656.04 514.96v15.88M660.99 514.96v15.88M678.27 546.72v15.88"/><path stroke="#ead8ac" d="M626.4 70.3v15.88M609.12 117.94v15.88M646.16 117.94v15.88M623.93 165.58v15.88M589.36 181.46v15.88M638.75 260.87v15.88M641.23 260.87v15.88M643.69 260.87v15.88M653.57 292.63v15.88M628.88 308.51v15.88M641.23 324.39v15.88M673.33 324.39v15.88M663.45 340.27v15.88M675.8 340.27v15.88M641.23 372.03v15.88M646.16 372.03v15.88M643.69 387.91v15.88M675.8 387.91v15.88M646.16 403.79v15.88M651.11 419.67v15.88M623.93 435.55v15.88M641.23 451.44v15.88M643.69 451.44v15.88M643.69 467.32v15.88M636.28 483.2v15.88M651.11 483.2v15.88M665.92 514.96v15.88M653.57 530.84v15.88M673.33 530.84v15.88"/><path stroke="#efd69e" d="M628.88 70.3v15.88M631.34 70.3v15.88M623.93 102.06v15.88M589.36 117.94v15.88M591.82 117.94v15.88M604.17 117.94v15.88M606.64 117.94v15.88M604.17 133.82v15.88M606.64 133.82v15.88M609.12 133.82v15.88M611.58 133.82v15.88M614.05 133.82v15.88M633.81 133.82v15.88M621.47 165.58v15.88M611.58 197.35v15.88M678.27 213.23v15.88M680.75 213.23v15.88M611.58 229.11v15.88M616.52 229.11v15.88M623.93 229.11v15.88M636.28 244.99v15.88M646.16 276.75v15.88M574.53 292.63v15.88M577 292.63v15.88M643.69 324.39v15.88M678.27 356.15v15.88M638.75 387.91v15.88M641.23 387.91v15.88M656.04 387.91v15.88M643.69 403.79v15.88M678.27 451.44v15.88M606.64 467.32v15.88M638.75 483.2v15.88M641.23 499.08v15.88M643.69 499.08v15.88M678.27 499.08v15.88M641.23 514.96v15.88M653.57 514.96v15.88M668.39 514.96v15.88M651.11 530.84v15.88M660.99 530.84v15.88"/><path stroke="#e1d8b8" d="M633.81 70.3v15.88M623.93 86.18v15.88M626.4 102.06v15.88M628.88 102.06v15.88M594.29 117.94v15.88M596.76 117.94v15.88M599.24 117.94v15.88M656.04 117.94v15.88M586.88 181.46v15.88M619 181.46v15.88M670.87 213.23v15.88M648.63 229.11v15.88M636.28 260.87v15.88M621.47 276.75v15.88M623.93 276.75v15.88M626.4 292.63v15.88M628.88 292.63v15.88M678.27 292.63v15.88M631.34 308.51v15.88M685.68 308.51v15.88M626.4 324.39v15.88M633.81 324.39v15.88M636.28 324.39v15.88M638.75 324.39v15.88M656.04 324.39v15.88M658.51 340.27v15.88M660.99 340.27v15.88M673.33 340.27v15.88M658.51 387.91v15.88M660.99 387.91v15.88M638.75 403.79v15.88M648.63 403.79v15.88M651.11 403.79v15.88M619 435.55v15.88M621.47 435.55v15.88M626.4 435.55v15.88M651.11 435.55v15.88M646.16 451.44v15.88M604.17 467.32v15.88M611.58 467.32v15.88M636.28 467.32v15.88M646.16 467.32v15.88M646.16 483.2v15.88M648.63 483.2v15.88M609.12 499.08v15.88M638.75 499.08v15.88M673.33 514.96v15.88M638.75 530.84v15.88M656.04 530.84v15.88M641.23 546.72v15.88M646.16 546.72v15.88M651.11 546.72v15.88"/><path stroke="#cfd8d0" d="M636.28 70.3v15.88M626.4 86.18v15.88M628.88 86.18v15.88M643.69 86.18v15.88M633.81 102.06v15.88M685.68 117.94v15.88M631.34 165.58v15.88M633.81 165.58v15.88M623.93 181.46v15.88M589.36 213.23v15.88M591.82 213.23v15.88M596.76 213.23v15.88M673.33 213.23v15.88M633.81 229.11v15.88M653.57 260.87v15.88M643.69 276.75v15.88M581.94 292.63v15.88M626.4 308.51v15.88M658.51 324.39v15.88M646.16 340.27v15.88M648.63 340.27v15.88M651.11 340.27v15.88M653.57 340.27v15.88M656.04 340.27v15.88M665.92 340.27v15.88M670.87 340.27v15.88M604.17 356.15v15.88M646.16 356.15v15.88M633.81 372.03v15.88M678.27 372.03v15.88M673.33 387.91v15.88M653.57 403.79v15.88M675.8 403.79v15.88M653.57 419.67v15.88M675.8 419.67v15.88M616.52 435.55v15.88M601.7 467.32v15.88M638.75 467.32v15.88M651.11 467.32v15.88M621.47 483.2v15.88M631.34 483.2v15.88M636.28 499.08v15.88M658.51 499.08v15.88M658.51 530.84v15.88M643.69 546.72v15.88M656.04 546.72v15.88M675.8 546.72v15.88"/><path stroke="#c6d8dc" d="M638.75 70.3v15.88M646.16 70.3v15.88M631.34 86.18v15.88M636.28 86.18v15.88M646.16 86.18v15.88M648.63 86.18v15.88M658.51 86.18v15.88M614.05 117.94v15.88M660.99 117.94v15.88M683.22 117.94v15.88M646.16 133.82v15.88M648.63 133.82v15.88M631.34 149.7v15.88M628.88 165.58v15.88M581.94 181.46v15.88M636.28 197.35v15.88M594.29 213.23v15.88M638.75 229.11v15.88M641.23 229.11v15.88M643.69 229.11v15.88M656.04 229.11v15.88M658.51 229.11v15.88M633.81 244.99v15.88M641.23 276.75v15.88M619 292.63v15.88M621.47 292.63v15.88M651.11 292.63v15.88M619 324.39v15.88M663.45 324.39v15.88M670.87 324.39v15.88M633.81 340.27v15.88M636.28 340.27v15.88M638.75 340.27v15.88M641.23 340.27v15.88M636.28 387.91v15.88M663.45 387.91v15.88M579.48 419.67v15.88M638.75 419.67v15.88M599.24 467.32v15.88M614.05 467.32v15.88M675.8 467.32v15.88M628.88 483.2v15.88M653.57 483.2v15.88M611.58 499.08v15.88M633.81 499.08v15.88M631.34 514.96v15.88M638.75 514.96v15.88M641.23 530.84v15.88M643.69 530.84v15.88M663.45 530.84v15.88M658.51 546.72v15.88M660.99 546.72v15.88M663.45 546.72v15.88M673.33 546.72v15.88"/><path stroke="#b4d5e5" d="M641.23 70.3v15.88M653.57 86.18v15.88M638.75 102.06v15.88M641.23 102.06v15.88M643.69 102.06v15.88M648.63 102.06v15.88M643.69 117.94v15.88M680.75 117.94v15.88M636.28 149.7v15.88M638.75 149.7v15.88M651.11 149.7v15.88M636.28 165.58v15.88M636.28 181.46v15.88M619 197.35v15.88M631.34 229.11v15.88M663.45 229.11v15.88M631.34 244.99v15.88M631.34 260.87v15.88M680.75 276.75v15.88M688.15 276.75v15.88M695.56 276.75v15.88M591.82 292.63v15.88M594.29 292.63v15.88M596.76 292.63v15.88M604.17 292.63v15.88M623.93 292.63v15.88M663.45 308.51v15.88M614.05 340.27v15.88M616.52 340.27v15.88M619 340.27v15.88M621.47 340.27v15.88M623.93 340.27v15.88M626.4 340.27v15.88M628.88 340.27v15.88M611.58 356.15v15.88M641.23 356.15v15.88M673.33 372.03v15.88M668.39 387.91v15.88M670.87 387.91v15.88M656.04 403.79v15.88M611.58 419.67v15.88M614.05 419.67v15.88M628.88 435.55v15.88M631.34 435.55v15.88M633.81 435.55v15.88M643.69 435.55v15.88M651.11 451.44v15.88M653.57 451.44v15.88M673.33 451.44v15.88M626.4 483.2v15.88M601.7 499.08v15.88M665.92 499.08v15.88M675.8 499.08v15.88M621.47 514.96v15.88M665.92 546.72v15.88M668.39 546.72v15.88M670.87 546.72v15.88"/><path stroke="#abd3e7" d="M643.69 70.3v15.88M648.63 70.3v15.88M651.11 70.3v15.88M653.57 70.3v15.88M651.11 86.18v15.88M646.16 102.06v15.88M653.57 102.06v15.88M663.45 117.94v15.88M665.92 133.82v15.88M641.23 149.7v15.88M643.69 149.7v15.88M646.16 149.7v15.88M648.63 149.7v15.88M638.75 165.58v15.88M641.23 165.58v15.88M643.69 165.58v15.88M653.57 165.58v15.88M628.88 197.35v15.88M648.63 197.35v15.88M586.88 213.23v15.88M665.92 213.23v15.88M668.39 213.23v15.88M665.92 229.11v15.88M628.88 244.99v15.88M658.51 244.99v15.88M628.88 260.87v15.88M651.11 260.87v15.88M599.24 276.75v15.88M601.7 276.75v15.88M683.22 276.75v15.88M685.68 276.75v15.88M690.62 276.75v15.88M693.09 276.75v15.88M601.7 292.63v15.88M614.05 292.63v15.88M648.63 292.63v15.88M646.16 308.51v15.88M648.63 308.51v15.88M628.88 324.39v15.88M631.34 324.39v15.88M638.75 356.15v15.88M651.11 356.15v15.88M663.45 356.15v15.88M675.8 356.15v15.88M670.87 372.03v15.88M675.8 372.03v15.88M601.7 387.91v15.88M665.92 387.91v15.88M628.88 403.79v15.88M633.81 403.79v15.88M670.87 403.79v15.88M673.33 403.79v15.88M643.69 419.67v15.88M636.28 435.55v15.88M638.75 435.55v15.88M641.23 435.55v15.88M668.39 451.44v15.88M670.87 451.44v15.88M586.88 467.32v15.88M670.87 467.32v15.88M619 483.2v15.88M591.82 499.08v15.88M599.24 499.08v15.88M614.05 499.08v15.88M616.52 514.96v15.88M619 514.96v15.88M626.4 514.96v15.88"/><path stroke="#6fc3f0" d="M656.04 70.3v15.88M665.92 70.3v15.88M668.39 70.3v15.88M673.33 86.18v15.88M660.99 102.06v15.88M658.51 133.82v15.88M648.63 181.46v15.88M651.11 181.46v15.88M584.41 244.99v15.88M619 244.99v15.88M621.47 260.87v15.88M589.36 276.75v15.88M594.29 324.39v15.88M596.76 340.27v15.88M599.24 356.15v15.88M626.4 356.15v15.88M616.52 372.03v15.88M611.58 387.91v15.88M614.05 387.91v15.88M616.52 387.91v15.88M619 387.91v15.88M591.82 403.79v15.88M596.76 403.79v15.88M609.12 403.79v15.88M611.58 403.79v15.88M619 403.79v15.88M621.47 403.79v15.88M581.94 419.67v15.88M658.51 419.67v15.88M663.45 419.67v15.88M596.76 451.44v15.88M626.4 467.32v15.88M596.76 483.2v15.88M599.24 483.2v15.88M574.53 499.08v15.88M577 499.08v15.88M599.24 514.96v15.88M604.17 530.84v15.88M609.12 530.84v15.88M611.58 530.84v15.88M604.17 546.72v15.88M611.58 546.72v15.88M619 546.72v15.88M623.93 546.72v15.88"/><path stroke="#98ceea" d="M658.51 70.3v15.88M656.04 102.06v15.88M658.51 102.06v15.88M660.99 133.82v15.88M648.63 165.58v15.88M631.34 181.46v15.88M641.23 181.46v15.88M685.68 197.35v15.88M584.41 213.23v15.88M658.51 213.23v15.88M663.45 213.23v15.88M594.29 244.99v15.88M599.24 244.99v15.88M660.99 244.99v15.88M685.68 260.87v15.88M636.28 308.51v15.88M638.75 308.51v15.88M641.23 308.51v15.88M643.69 308.51v15.88M609.12 324.39v15.88M611.58 324.39v15.88M614.05 324.39v15.88M604.17 340.27v15.88M601.7 356.15v15.88M665.92 356.15v15.88M579.48 372.03v15.88M599.24 372.03v15.88M651.11 372.03v15.88M668.39 372.03v15.88M596.76 387.91v15.88M626.4 387.91v15.88M631.34 387.91v15.88M601.7 403.79v15.88M589.36 419.67v15.88M670.87 419.67v15.88M648.63 435.55v15.88M638.75 451.44v15.88M660.99 451.44v15.88M663.45 451.44v15.88M668.39 467.32v15.88M584.41 499.08v15.88M594.29 499.08v15.88M616.52 530.84v15.88M626.4 530.84v15.88M626.4 546.72v15.88"/><path stroke="#85caee" d="M660.99 70.3v15.88M673.33 70.3v15.88M665.92 86.18v15.88M668.39 86.18v15.88M641.23 133.82v15.88M653.57 133.82v15.88M658.51 165.58v15.88M638.75 181.46v15.88M643.69 181.46v15.88M658.51 181.46v15.88M680.75 181.46v15.88M683.22 181.46v15.88M685.68 181.46v15.88M688.15 181.46v15.88M690.62 181.46v15.88M693.09 181.46v15.88M695.56 181.46v15.88M688.15 197.35v15.88M690.62 197.35v15.88M693.09 197.35v15.88M623.93 213.23v15.88M628.88 213.23v15.88M633.81 213.23v15.88M641.23 213.23v15.88M586.88 244.99v15.88M623.93 244.99v15.88M584.41 260.87v15.88M693.09 260.87v15.88M695.56 260.87v15.88M591.82 308.51v15.88M604.17 324.39v15.88M606.64 324.39v15.88M601.7 340.27v15.88M591.82 356.15v15.88M633.81 356.15v15.88M668.39 356.15v15.88M670.87 356.15v15.88M596.76 372.03v15.88M621.47 372.03v15.88M653.57 372.03v15.88M665.92 372.03v15.88M604.17 387.91v15.88M660.99 403.79v15.88M663.45 403.79v15.88M574.53 419.67v15.88M606.64 419.67v15.88M609.12 419.67v15.88M621.47 419.67v15.88M656.04 419.67v15.88M609.12 435.55v15.88M574.53 451.44v15.88M577 451.44v15.88M579.48 451.44v15.88M631.34 451.44v15.88M581.94 467.32v15.88M619 467.32v15.88M623.93 467.32v15.88M628.88 467.32v15.88M633.81 467.32v15.88M668.39 499.08v15.88M670.87 499.08v15.88M586.88 546.72v15.88M596.76 546.72v15.88M633.81 546.72v15.88"/><path stroke="#8fccec" d="M663.45 70.3v15.88M670.87 70.3v15.88M636.28 117.94v15.88M678.27 117.94v15.88M638.75 133.82v15.88M643.69 133.82v15.88M653.57 149.7v15.88M656.04 165.58v15.88M680.75 197.35v15.88M683.22 197.35v15.88M695.56 197.35v15.88M621.47 213.23v15.88M626.4 213.23v15.88M636.28 213.23v15.88M638.75 213.23v15.88M660.99 213.23v15.88M589.36 244.99v15.88M591.82 244.99v15.88M601.7 244.99v15.88M604.17 244.99v15.88M663.45 244.99v15.88M673.33 244.99v15.88M690.62 260.87v15.88M685.68 292.63v15.88M589.36 308.51v15.88M651.11 308.51v15.88M653.57 308.51v15.88M656.04 308.51v15.88M658.51 308.51v15.88M660.99 308.51v15.88M623.93 324.39v15.88M599.24 340.27v15.88M636.28 356.15v15.88M656.04 356.15v15.88M673.33 356.15v15.88M601.7 372.03v15.88M626.4 372.03v15.88M628.88 372.03v15.88M604.17 403.79v15.88M658.51 403.79v15.88M665.92 403.79v15.88M668.39 403.79v15.88M577 419.67v15.88M616.52 419.67v15.88M619 419.67v15.88M623.93 419.67v15.88M611.58 435.55v15.88M646.16 435.55v15.88M633.81 451.44v15.88M636.28 451.44v15.88M616.52 467.32v15.88M621.47 467.32v15.88M631.34 467.32v15.88M665.92 467.32v15.88M589.36 546.72v15.88"/><path stroke="#55b9f1" d="M675.8 70.3v15.88M680.75 86.18v15.88M688.15 102.06v15.88M693.09 102.06v15.88M695.56 102.06v15.88M619 117.94v15.88M658.51 149.7v15.88M660.99 165.58v15.88M693.09 165.58v15.88M695.56 165.58v15.88M668.39 181.46v15.88M673.33 181.46v15.88M675.8 181.46v15.88M656.04 213.23v15.88M577 260.87v15.88M579.48 260.87v15.88M594.29 260.87v15.88M596.76 260.87v15.88M599.24 260.87v15.88M601.7 260.87v15.88M616.52 260.87v15.88M636.28 292.63v15.88M584.41 308.51v15.88M594.29 308.51v15.88M591.82 324.39v15.88M584.41 356.15v15.88M594.29 356.15v15.88M616.52 356.15v15.88M623.93 356.15v15.88M581.94 372.03v15.88M604.17 372.03v15.88M589.36 387.91v15.88M586.88 403.79v15.88M616.52 403.79v15.88M626.4 419.67v15.88M631.34 419.67v15.88M591.82 435.55v15.88M604.17 435.55v15.88M589.36 483.2v15.88M591.82 483.2v15.88M614.05 483.2v15.88M609.12 514.96v15.88"/><path stroke="#3baff1" d="M678.27 70.3v15.88M678.27 86.18v15.88M665.92 102.06v15.88M678.27 102.06v15.88M680.75 102.06v15.88M621.47 117.94v15.88M633.81 117.94v15.88M668.39 133.82v15.88M670.87 133.82v15.88M680.75 133.82v15.88M663.45 149.7v15.88M668.39 165.58v15.88M670.87 229.11v15.88M673.33 229.11v15.88M606.64 244.99v15.88M614.05 244.99v15.88M668.39 244.99v15.88M604.17 260.87v15.88M606.64 260.87v15.88M609.12 260.87v15.88M611.58 260.87v15.88M638.75 292.63v15.88M601.7 308.51v15.88M601.7 324.39v15.88M574.53 340.27v15.88M586.88 372.03v15.88M591.82 372.03v15.88M606.64 372.03v15.88M611.58 372.03v15.88M663.45 372.03v15.88M606.64 403.79v15.88M584.41 451.44v15.88M591.82 451.44v15.88M621.47 451.44v15.88M579.48 499.08v15.88M594.29 530.84v15.88M596.76 530.84v15.88M579.48 546.72v15.88M606.64 546.72v15.88"/><path stroke="#2eaaf2" d="M680.75 70.3v15.88M685.68 86.18v15.88M668.39 102.06v15.88M685.68 102.06v15.88M673.33 133.82v15.88M678.27 133.82v15.88M683.22 133.82v15.88M670.87 149.7v15.88M673.33 149.7v15.88M670.87 165.58v15.88M673.33 165.58v15.88M675.8 165.58v15.88M680.75 165.58v15.88M683.22 165.58v15.88M685.68 165.58v15.88M653.57 181.46v15.88M646.16 213.23v15.88M675.8 229.11v15.88M609.12 244.99v15.88M611.58 244.99v15.88M665.92 244.99v15.88M641.23 292.63v15.88M581.94 324.39v15.88M596.76 324.39v15.88M599.24 324.39v15.88M591.82 340.27v15.88M594.29 340.27v15.88M577 356.15v15.88M589.36 356.15v15.88M609.12 372.03v15.88M574.53 403.79v15.88M633.81 419.67v15.88M594.29 435.55v15.88M586.88 451.44v15.88M589.36 451.44v15.88M611.58 451.44v15.88M614.05 451.44v15.88M616.52 451.44v15.88M619 451.44v15.88M656.04 467.32v15.88M663.45 467.32v15.88M601.7 483.2v15.88M616.52 499.08v15.88M623.93 499.08v15.88M586.88 514.96v15.88M589.36 514.96v15.88M591.82 514.96v15.88M601.7 514.96v15.88M589.36 530.84v15.88M591.82 530.84v15.88M574.53 546.72v15.88M609.12 546.72v15.88"/><path stroke="#21a5f2" d="M683.22 70.3v15.88M683.22 102.06v15.88M623.93 117.94v15.88M631.34 117.94v15.88M665.92 117.94v15.88M685.68 133.82v15.88M675.8 149.7v15.88M678.27 149.7v15.88M680.75 149.7v15.88M683.22 149.7v15.88M685.68 149.7v15.88M656.04 181.46v15.88M648.63 213.23v15.88M653.57 213.23v15.88M581.94 244.99v15.88M574.53 308.51v15.88M584.41 340.27v15.88M586.88 340.27v15.88M586.88 356.15v15.88M589.36 372.03v15.88M656.04 372.03v15.88M581.94 403.79v15.88M577 435.55v15.88M601.7 435.55v15.88M604.17 451.44v15.88M579.48 514.96v15.88M584.41 514.96v15.88M577 546.72v15.88"/><path stroke="#1e95e3" d="M685.68 70.3v15.88M670.87 102.06v15.88M673.33 102.06v15.88M668.39 117.94v15.88M673.33 117.94v15.88M668.39 149.7v15.88M683.22 229.11v15.88M685.68 229.11v15.88M577 244.99v15.88M579.48 244.99v15.88M688.15 292.63v15.88M596.76 308.51v15.88M574.53 324.39v15.88M577 324.39v15.88M579.48 324.39v15.88M584.41 324.39v15.88M581.94 340.27v15.88M574.53 356.15v15.88M584.41 372.03v15.88M574.53 387.91v15.88M579.48 435.55v15.88M581.94 435.55v15.88M606.64 451.44v15.88M660.99 467.32v15.88M579.48 483.2v15.88M604.17 483.2v15.88M619 499.08v15.88M574.53 530.84v15.88M577 530.84v15.88M584.41 530.84v15.88M586.88 530.84v15.88"/><path stroke="#2a72bc" d="M688.15 70.3v15.88M660.99 197.35v15.88M663.45 197.35v15.88M665.92 197.35v15.88M670.87 197.35v15.88M574.53 213.23v15.88M577 213.23v15.88M688.15 229.11v15.88M693.09 229.11v15.88M577 276.75v15.88M579.48 276.75v15.88M693.09 292.63v15.88M695.56 292.63v15.88M577 308.51v15.88M577 387.91v15.88M579.48 387.91v15.88M581.94 387.91v15.88"/><path stroke="#2d69b2" d="M690.62 70.3v15.88M693.09 70.3v15.88"/><path stroke="#277ac6" d="M695.56 70.3v15.88M670.87 117.94v15.88M688.15 149.7v15.88M579.48 213.23v15.88M574.53 244.99v15.88M581.94 308.51v15.88M584.41 387.91v15.88"/><path stroke="#f7b946" d="M609.12 86.18v15.88M611.58 86.18v15.88M609.12 102.06v15.88M695.56 117.94v15.88M581.94 133.82v15.88M626.4 133.82v15.88M628.88 133.82v15.88M631.34 133.82v15.88M584.41 149.7v15.88M581.94 229.11v15.88M675.8 435.55v15.88M678.27 514.96v15.88"/><path stroke="#d8d8c4" d="M638.75 86.18v15.88M641.23 86.18v15.88M631.34 102.06v15.88M611.58 117.94v15.88M658.51 117.94v15.88M626.4 149.7v15.88M574.53 181.46v15.88M577 181.46v15.88M584.41 181.46v15.88M621.47 181.46v15.88M616.52 197.35v15.88M621.47 197.35v15.88M631.34 197.35v15.88M633.81 197.35v15.88M601.7 213.23v15.88M616.52 213.23v15.88M675.8 213.23v15.88M626.4 229.11v15.88M628.88 229.11v15.88M651.11 229.11v15.88M653.57 229.11v15.88M683.22 260.87v15.88M614.05 276.75v15.88M616.52 276.75v15.88M619 276.75v15.88M579.48 292.63v15.88M611.58 292.63v15.88M631.34 292.63v15.88M633.81 308.51v15.88M678.27 308.51v15.88M665.92 324.39v15.88M668.39 324.39v15.88M668.39 340.27v15.88M606.64 356.15v15.88M648.63 356.15v15.88M636.28 403.79v15.88M641.23 419.67v15.88M648.63 451.44v15.88M641.23 467.32v15.88M648.63 467.32v15.88M623.93 483.2v15.88M633.81 483.2v15.88M604.17 499.08v15.88M606.64 499.08v15.88M656.04 499.08v15.88M670.87 514.96v15.88M636.28 530.84v15.88M665.92 530.84v15.88M668.39 530.84v15.88M670.87 530.84v15.88M636.28 546.72v15.88M638.75 546.72v15.88M648.63 546.72v15.88M653.57 546.72v15.88"/><path stroke="#a1d1e9" d="M656.04 86.18v15.88M663.45 86.18v15.88M636.28 102.06v15.88M651.11 102.06v15.88M638.75 117.94v15.88M641.23 117.94v15.88M636.28 133.82v15.88M651.11 133.82v15.88M651.11 165.58v15.88M579.48 181.46v15.88M638.75 197.35v15.88M641.23 197.35v15.88M643.69 197.35v15.88M646.16 197.35v15.88M653.57 197.35v15.88M619 213.23v15.88M596.76 244.99v15.88M626.4 244.99v15.88M626.4 260.87v15.88M611.58 276.75v15.88M589.36 292.63v15.88M646.16 292.63v15.88M683.22 292.63v15.88M616.52 324.39v15.88M606.64 340.27v15.88M611.58 340.27v15.88M614.05 356.15v15.88M653.57 356.15v15.88M574.53 372.03v15.88M577 372.03v15.88M623.93 372.03v15.88M631.34 372.03v15.88M648.63 372.03v15.88M594.29 387.91v15.88M599.24 387.91v15.88M609.12 387.91v15.88M628.88 387.91v15.88M633.81 387.91v15.88M626.4 403.79v15.88M584.41 419.67v15.88M586.88 419.67v15.88M591.82 419.67v15.88M614.05 435.55v15.88M656.04 451.44v15.88M658.51 451.44v15.88M665.92 451.44v15.88M584.41 467.32v15.88M589.36 467.32v15.88M616.52 483.2v15.88M586.88 499.08v15.88M589.36 499.08v15.88M596.76 499.08v15.88M628.88 499.08v15.88M673.33 499.08v15.88M619 530.84v15.88M621.47 530.84v15.88M628.88 530.84v15.88M631.34 530.84v15.88M591.82 546.72v15.88M594.29 546.72v15.88M628.88 546.72v15.88"/><path stroke="#bdd7e3" d="M660.99 86.18v15.88M663.45 133.82v15.88M633.81 149.7v15.88M626.4 165.58v15.88M646.16 165.58v15.88M626.4 181.46v15.88M628.88 181.46v15.88M633.81 181.46v15.88M623.93 197.35v15.88M626.4 197.35v15.88M651.11 197.35v15.88M599.24 213.23v15.88M636.28 229.11v15.88M646.16 229.11v15.88M660.99 229.11v15.88M656.04 244.99v15.88M675.8 244.99v15.88M633.81 260.87v15.88M646.16 260.87v15.88M648.63 260.87v15.88M604.17 276.75v15.88M606.64 276.75v15.88M609.12 276.75v15.88M626.4 276.75v15.88M628.88 276.75v15.88M631.34 276.75v15.88M633.81 276.75v15.88M636.28 276.75v15.88M638.75 276.75v15.88M584.41 292.63v15.88M586.88 292.63v15.88M599.24 292.63v15.88M606.64 292.63v15.88M609.12 292.63v15.88M616.52 292.63v15.88M633.81 292.63v15.88M680.75 292.63v15.88M680.75 308.51v15.88M683.22 308.51v15.88M621.47 324.39v15.88M660.99 324.39v15.88M631.34 340.27v15.88M643.69 340.27v15.88M609.12 356.15v15.88M643.69 356.15v15.88M631.34 403.79v15.88M646.16 419.67v15.88M648.63 419.67v15.88M673.33 419.67v15.88M675.8 451.44v15.88M591.82 467.32v15.88M594.29 467.32v15.88M596.76 467.32v15.88M653.57 467.32v15.88M673.33 467.32v15.88M631.34 499.08v15.88M660.99 499.08v15.88M663.45 499.08v15.88M623.93 514.96v15.88M628.88 514.96v15.88M633.81 530.84v15.88"/><path stroke="#7cc8f0" d="M670.87 86.18v15.88M656.04 133.82v15.88M663.45 165.58v15.88M646.16 181.46v15.88M660.99 181.46v15.88M663.45 181.46v15.88M665.92 181.46v15.88M678.27 181.46v15.88M678.27 197.35v15.88M631.34 213.23v15.88M643.69 213.23v15.88M621.47 244.99v15.88M589.36 260.87v15.88M591.82 260.87v15.88M623.93 260.87v15.88M591.82 276.75v15.88M586.88 308.51v15.88M609.12 340.27v15.88M628.88 356.15v15.88M631.34 356.15v15.88M658.51 356.15v15.88M660.99 356.15v15.88M594.29 372.03v15.88M619 372.03v15.88M621.47 387.91v15.88M623.93 387.91v15.88M594.29 403.79v15.88M623.93 403.79v15.88M594.29 419.67v15.88M596.76 419.67v15.88M599.24 419.67v15.88M601.7 419.67v15.88M604.17 419.67v15.88M636.28 419.67v15.88M665.92 419.67v15.88M668.39 419.67v15.88M581.94 451.44v15.88M599.24 451.44v15.88M626.4 451.44v15.88M628.88 451.44v15.88M574.53 467.32v15.88M577 467.32v15.88M579.48 467.32v15.88M581.94 499.08v15.88M626.4 499.08v15.88M614.05 514.96v15.88M614.05 530.84v15.88M623.93 530.84v15.88M584.41 546.72v15.88M599.24 546.72v15.88M601.7 546.72v15.88M616.52 546.72v15.88M631.34 546.72v15.88"/><path stroke="#62bef1" d="M675.8 86.18v15.88M663.45 102.06v15.88M690.62 102.06v15.88M675.8 133.82v15.88M656.04 149.7v15.88M616.52 244.99v15.88M574.53 260.87v15.88M586.88 260.87v15.88M619 260.87v15.88M586.88 276.75v15.88M594.29 276.75v15.88M596.76 276.75v15.88M596.76 356.15v15.88M658.51 372.03v15.88M591.82 387.91v15.88M606.64 387.91v15.88M584.41 403.79v15.88M589.36 403.79v15.88M599.24 403.79v15.88M614.05 403.79v15.88M660.99 419.67v15.88M584.41 435.55v15.88M586.88 435.55v15.88M589.36 435.55v15.88M606.64 435.55v15.88M594.29 451.44v15.88M601.7 451.44v15.88M594.29 483.2v15.88M611.58 514.96v15.88M601.7 530.84v15.88M606.64 530.84v15.88M614.05 546.72v15.88M621.47 546.72v15.88"/><path stroke="#48b4f1" d="M683.22 86.18v15.88M675.8 102.06v15.88M616.52 117.94v15.88M626.4 117.94v15.88M660.99 149.7v15.88M665.92 165.58v15.88M688.15 165.58v15.88M690.62 165.58v15.88M670.87 181.46v15.88M668.39 229.11v15.88M670.87 244.99v15.88M581.94 260.87v15.88M614.05 260.87v15.88M688.15 260.87v15.88M584.41 276.75v15.88M643.69 292.63v15.88M581.94 356.15v15.88M619 356.15v15.88M621.47 356.15v15.88M614.05 372.03v15.88M660.99 372.03v15.88M586.88 387.91v15.88M628.88 419.67v15.88M623.93 451.44v15.88M584.41 483.2v15.88M586.88 483.2v15.88M606.64 483.2v15.88M609.12 483.2v15.88M611.58 483.2v15.88M594.29 514.96v15.88M596.76 514.96v15.88M604.17 514.96v15.88M606.64 514.96v15.88M599.24 530.84v15.88M581.94 546.72v15.88"/><path stroke="#218cd9" d="M688.15 86.18v15.88M688.15 133.82v15.88M690.62 149.7v15.88M693.09 149.7v15.88M695.56 149.7v15.88M668.39 197.35v15.88M678.27 229.11v15.88M581.94 276.75v15.88M599.24 308.51v15.88M577 340.27v15.88M579.48 340.27v15.88M589.36 340.27v15.88M577 403.79v15.88M574.53 435.55v15.88M609.12 451.44v15.88M574.53 483.2v15.88M577 483.2v15.88M581.94 483.2v15.88M574.53 514.96v15.88M581.94 514.96v15.88"/><path stroke="#2483cf" d="M690.62 86.18v15.88M675.8 117.94v15.88M678.27 165.58v15.88M658.51 197.35v15.88M695.56 229.11v15.88M690.62 292.63v15.88"/><path stroke="#3060a8" d="M693.09 86.18v15.88M695.56 86.18v15.88M690.62 133.82v15.88M693.09 133.82v15.88M695.56 133.82v15.88M673.33 197.35v15.88M690.62 229.11v15.88M574.53 276.75v15.88M579.48 308.51v15.88"/><path stroke="#a01a1a" d="M574.53 102.06v15.88M693.09 213.23v15.88M695.56 213.23v15.88M683.22 244.99v15.88M660.99 260.87v15.88M663.45 260.87v15.88M665.92 260.87v15.88M663.45 292.63v15.88M685.68 324.39v15.88M688.15 324.39v15.88M690.62 324.39v15.88M693.09 324.39v15.88M695.56 324.39v15.88M685.68 340.27v15.88M688.15 340.27v15.88M690.62 340.27v15.88M693.09 340.27v15.88M695.56 340.27v15.88M685.68 356.15v15.88M688.15 356.15v15.88M690.62 356.15v15.88M693.09 356.15v15.88M695.56 356.15v15.88M685.68 372.03v15.88M688.15 372.03v15.88M690.62 372.03v15.88M693.09 372.03v15.88M695.56 372.03v15.88M685.68 387.91v15.88M688.15 387.91v15.88M690.62 387.91v15.88M693.09 387.91v15.88M695.56 387.91v15.88M685.68 403.79v15.88M688.15 403.79v15.88M690.62 403.79v15.88M693.09 403.79v15.88M695.56 403.79v15.88M685.68 419.67v15.88M688.15 419.67v15.88M690.62 419.67v15.88M693.09 419.67v15.88M695.56 419.67v15.88M685.68 435.55v15.88M688.15 435.55v15.88M690.62 435.55v15.88M693.09 435.55v15.88M695.56 435.55v15.88M685.68 451.44v15.88M688.15 451.44v15.88M690.62 451.44v15.88M693.09 451.44v15.88M695.56 451.44v15.88M685.68 467.32v15.88M688.15 467.32v15.88M690.62 467.32v15.88M693.09 467.32v15.88M695.56 467.32v15.88M685.68 483.2v15.88M688.15 483.2v15.88M690.62 483.2v15.88M693.09 483.2v15.88M695.56 483.2v15.88M685.68 499.08v15.88M688.15 499.08v15.88M690.62 499.08v15.88M693.09 499.08v15.88M695.56 499.08v15.88M685.68 514.96v15.88M688.15 514.96v15.88M690.62 514.96v15.88M693.09 514.96v15.88M695.56 514.96v15.88M685.68 530.84v15.88M688.15 530.84v15.88M690.62 530.84v15.88M693.09 530.84v15.88M695.56 530.84v15.88M685.68 546.72v15.88M688.15 546.72v15.88M690.62 546.72v15.88M693.09 546.72v15.88M695.56 546.72v15.88"/><path stroke="#cc2222" d="M577 102.06v15.88M579.48 102.06v15.88M577 117.94v15.88M599.24 165.58v15.88M601.7 165.58v15.88M604.17 165.58v15.88M599.24 181.46v15.88M586.88 197.35v15.88M589.36 197.35v15.88M591.82 197.35v15.88M658.51 292.63v15.88M609.12 308.51v15.88M611.58 308.51v15.88M614.05 308.51v15.88M621.47 308.51v15.88M683.22 324.39v15.88M683.22 340.27v15.88M683.22 356.15v15.88M683.22 372.03v15.88M683.22 387.91v15.88M683.22 403.79v15.88M683.22 419.67v15.88M683.22 435.55v15.88M683.22 451.44v15.88M683.22 467.32v15.88M683.22 483.2v15.88M683.22 499.08v15.88M683.22 514.96v15.88M683.22 530.84v15.88M683.22 546.72v15.88"/><path stroke="#d33222" d="M581.94 102.06v15.88M601.7 149.7v15.88M609.12 181.46v15.88M611.58 181.46v15.88M579.48 197.35v15.88M688.15 244.99v15.88M680.75 387.91v15.88"/><path stroke="#e15222" d="M584.41 102.06v15.88M574.53 117.94v15.88M586.88 133.82v15.88M596.76 181.46v15.88M584.41 229.11v15.88M586.88 229.11v15.88M678.27 244.99v15.88M695.56 244.99v15.88M675.8 260.87v15.88M658.51 276.75v15.88M668.39 276.75v15.88M623.93 308.51v15.88M668.39 308.51v15.88M670.87 308.51v15.88"/><path stroke="#e66122" d="M586.88 102.06v15.88M581.94 117.94v15.88M589.36 133.82v15.88M574.53 149.7v15.88M581.94 197.35v15.88M690.62 244.99v15.88M693.09 244.99v15.88M680.75 324.39v15.88M680.75 340.27v15.88M680.75 356.15v15.88M680.75 372.03v15.88M678.27 387.91v15.88M680.75 403.79v15.88M680.75 419.67v15.88M680.75 435.55v15.88M680.75 451.44v15.88M680.75 467.32v15.88M678.27 483.2v15.88M680.75 483.2v15.88M680.75 499.08v15.88M680.75 514.96v15.88M680.75 530.84v15.88M680.75 546.72v15.88"/><path stroke="#ea7022" d="M589.36 102.06v15.88M596.76 149.7v15.88M594.29 181.46v15.88M614.05 181.46v15.88M601.7 229.11v15.88M656.04 276.75v15.88M675.8 276.75v15.88M656.04 292.63v15.88M606.64 308.51v15.88"/><path stroke="#f2cd7e" d="M619 102.06v15.88M586.88 117.94v15.88M693.09 117.94v15.88M574.53 133.82v15.88M577 133.82v15.88M601.7 133.82v15.88M616.52 133.82v15.88M623.93 133.82v15.88M619 149.7v15.88M628.88 149.7v15.88M591.82 181.46v15.88M604.17 197.35v15.88M606.64 197.35v15.88M683.22 213.23v15.88M614.05 229.11v15.88M653.57 244.99v15.88M653.57 276.75v15.88M688.15 308.51v15.88M653.57 324.39v15.88M638.75 372.03v15.88M653.57 387.91v15.88M643.69 483.2v15.88M648.63 499.08v15.88M651.11 514.96v15.88M658.51 514.96v15.88"/><path stroke="#f0d18e" d="M621.47 102.06v15.88M601.7 117.94v15.88M688.15 117.94v15.88M621.47 149.7v15.88M619 165.58v15.88M616.52 181.46v15.88M609.12 197.35v15.88M614.05 197.35v15.88M609.12 229.11v15.88M619 229.11v15.88M621.47 229.11v15.88M680.75 260.87v15.88M648.63 276.75v15.88M678.27 276.75v15.88M675.8 324.39v15.88M636.28 372.03v15.88M641.23 403.79v15.88M678.27 419.67v15.88M609.12 467.32v15.88M656.04 483.2v15.88M658.51 483.2v15.88M646.16 499.08v15.88M633.81 514.96v15.88M643.69 514.96v15.88M646.16 514.96v15.88M675.8 514.96v15.88M646.16 530.84v15.88M648.63 530.84v15.88"/><path stroke="#da4222" d="M579.48 117.94v15.88M584.41 133.82v15.88M586.88 149.7v15.88M589.36 149.7v15.88M591.82 149.7v15.88M594.29 165.58v15.88M574.53 197.35v15.88M577 197.35v15.88M658.51 260.87v15.88M673.33 260.87v15.88M665.92 276.75v15.88M673.33 276.75v15.88M660.99 292.63v15.88M673.33 292.63v15.88M616.52 308.51v15.88"/><path stroke="#1b9eed" d="M628.88 117.94v15.88M665.92 149.7v15.88M656.04 197.35v15.88M675.8 197.35v15.88M581.94 213.23v15.88M651.11 213.23v15.88M680.75 229.11v15.88M586.88 324.39v15.88M589.36 324.39v15.88M579.48 356.15v15.88M579.48 403.79v15.88M596.76 435.55v15.88M599.24 435.55v15.88M658.51 467.32v15.88M621.47 499.08v15.88M577 514.96v15.88M579.48 530.84v15.88M581.94 530.84v15.88"/><path stroke="#b61e1e" d="M601.7 181.46v15.88M604.17 181.46v15.88M606.64 181.46v15.88M690.62 213.23v15.88M660.99 276.75v15.88M663.45 276.75v15.88M668.39 292.63v15.88"/><path stroke="#c12020" d="M584.41 197.35v15.88M611.58 213.23v15.88M688.15 213.23v15.88M668.39 260.87v15.88M670.87 260.87v15.88M670.87 276.75v15.88M665.92 292.63v15.88M670.87 292.63v15.88"/><path stroke="#ab1c1c" d="M609.12 213.23v15.88M680.75 244.99v15.88M685.68 244.99v15.88M619 308.51v15.88"/></g><text x="704" y="83.7" font-size="16.7">Ets1</text><text x="704" y="99.7" font-size="16.7">Fli1</text><text x="704" y="116.2" font-size="16.7">Tcf21</text><text x="704" y="133.2" font-size="16.7">Sp1</text><text x="704" y="149.7" font-size="16.7">Srf</text><text x="704" y="166.2" font-size="16.7">Spdef</text><text x="704" y="183.9" font-size="16.7">Snai1</text><text x="704" y="200.4" font-size="16.7">Alx1</text><text x="704" y="213.1" font-size="16.7">Sp2</text><text x="704" y="226.6" font-size="16.7">En1</text><text x="704" y="244" font-size="16.7">Nr2c2</text><text x="704" y="261.3" font-size="16.7">Klf2</text><text x="704" y="274.5" font-size="16.7">Pax8</text><text x="704" y="290.5" font-size="16.7">Hnf1b</text><text x="704" y="307.5" font-size="16.7">Ctcfl</text><text x="704" y="324.7" font-size="16.7">Nfat5</text><text x="704" y="338" font-size="16.7">Gli2</text><text x="704" y="354.5" font-size="16.7">Lef1</text><text x="704" y="371.5" font-size="16.7">Cebpa</text><text x="704" y="387.5" font-size="16.7" font-weight="bold">Twist2</text><text x="704" y="404" font-size="16.7">Hievp3</text><text x="704" y="421.3" font-size="16.7">Egr3</text><text x="704" y="438.3" font-size="16.7" font-weight="bold">Runx1</text><text x="704" y="451.5" font-size="16.7">Nfil3</text><text x="704" y="465.4" font-size="16.7">Myc</text><text x="704" y="481.9" font-size="16.7">Wt1</text><text x="704" y="497.9" font-size="16.7">Pparg</text><text x="704" y="511.8" font-size="16.7">Fosl2</text><text x="704" y="529.6" font-size="16.7">Bach1</text><text x="704" y="546.1" font-size="16.7">Bach2</text><text x="704" y="562.6" font-size="16.7">Egr2</text><line x1="450" y1="62.2" x2="577" y2="62.2" stroke="#000" stroke-width="2.6"/><path d="M575 55.9L590.8 62.2L575 68.5Z" fill="#000"/><line x1="438" y1="73.6" x2="438" y2="227" stroke="#000" stroke-width="2.6"/><path d="M430.4 225.8L438 241L445.6 225.8Z" fill="#000"/><text x="453.3" y="50.7" font-size="23.4" textLength="123.5" lengthAdjust="spacingAndGlyphs">Pseudotime</text><text x="423.3" y="158.5" font-size="22.8" text-anchor="middle" transform="rotate(-90 423.3 158.5)">31 TFs</text><rect x="450.7" y="582.9" width="2.08" height="13.9" fill="#000030"/><rect x="452.38" y="582.9" width="2.08" height="13.9" fill="#020240"/><rect x="454.06" y="582.9" width="2.08" height="13.9" fill="#030351"/><rect x="455.74" y="582.9" width="2.08" height="13.9" fill="#050561"/><rect x="457.42" y="582.9" width="2.08" height="13.9" fill="#070771"/><rect x="459.1" y="582.9" width="2.08" height="13.9" fill="#080881"/><rect x="460.78" y="582.9" width="2.08" height="13.9" fill="#0a0a92"/><rect x="462.46" y="582.9" width="2.08" height="13.9" fill="#0e0fa2"/><rect x="464.14" y="582.9" width="2.08" height="13.9" fill="#1113b2"/><rect x="465.82" y="582.9" width="2.08" height="13.9" fill="#1518c2"/><rect x="467.5" y="582.9" width="2.08" height="13.9" fill="#181cd3"/><rect x="469.18" y="582.9" width="2.08" height="13.9" fill="#1b20e3"/><rect x="470.86" y="582.9" width="2.08" height="13.9" fill="#1f24f1"/><rect x="472.54" y="582.9" width="2.08" height="13.9" fill="#2226f3"/><rect x="474.22" y="582.9" width="2.08" height="13.9" fill="#2528f6"/><rect x="475.9" y="582.9" width="2.08" height="13.9" fill="#282bf8"/><rect x="477.58" y="582.9" width="2.08" height="13.9" fill="#2b2dfb"/><rect x="479.26" y="582.9" width="2.08" height="13.9" fill="#2e2ffd"/><rect x="480.94" y="582.9" width="2.08" height="13.9" fill="#3330fe"/><rect x="482.62" y="582.9" width="2.08" height="13.9" fill="#3f31fc"/><rect x="484.3" y="582.9" width="2.08" height="13.9" fill="#4b32fa"/><rect x="485.98" y="582.9" width="2.08" height="13.9" fill="#5632f8"/><rect x="487.66" y="582.9" width="2.08" height="13.9" fill="#6233f6"/><rect x="489.34" y="582.9" width="2.08" height="13.9" fill="#6d34f3"/><rect x="491.02" y="582.9" width="2.08" height="13.9" fill="#7935f1"/><rect x="492.7" y="582.9" width="2.08" height="13.9" fill="#8436ee"/><rect x="494.38" y="582.9" width="2.08" height="13.9" fill="#9038eb"/><rect x="496.06" y="582.9" width="2.08" height="13.9" fill="#9b3ae8"/><rect x="497.74" y="582.9" width="2.08" height="13.9" fill="#a73be5"/><rect x="499.42" y="582.9" width="2.08" height="13.9" fill="#b23de2"/><rect x="501.1" y="582.9" width="2.08" height="13.9" fill="#bc40dd"/><rect x="502.78" y="582.9" width="2.08" height="13.9" fill="#c543d6"/><rect x="504.46" y="582.9" width="2.08" height="13.9" fill="#ce46cf"/><rect x="506.14" y="582.9" width="2.08" height="13.9" fill="#d749c8"/><rect x="507.82" y="582.9" width="2.08" height="13.9" fill="#e04cc1"/><rect x="509.5" y="582.9" width="2.08" height="13.9" fill="#e84fbb"/><rect x="511.18" y="582.9" width="2.08" height="13.9" fill="#ee54b3"/><rect x="512.86" y="582.9" width="2.08" height="13.9" fill="#f15aaa"/><rect x="514.54" y="582.9" width="2.08" height="13.9" fill="#f460a1"/><rect x="516.22" y="582.9" width="2.08" height="13.9" fill="#f86698"/><rect x="517.9" y="582.9" width="2.08" height="13.9" fill="#fb6c8f"/><rect x="519.58" y="582.9" width="2.08" height="13.9" fill="#fe7287"/><rect x="521.26" y="582.9" width="2.08" height="13.9" fill="#ff7a7d"/><rect x="522.94" y="582.9" width="2.08" height="13.9" fill="#ff8274"/><rect x="524.62" y="582.9" width="2.08" height="13.9" fill="#ff8a6a"/><rect x="526.3" y="582.9" width="2.08" height="13.9" fill="#ff9261"/><rect x="527.98" y="582.9" width="2.08" height="13.9" fill="#ff9a57"/><rect x="529.66" y="582.9" width="2.08" height="13.9" fill="#ffa24e"/><rect x="531.34" y="582.9" width="2.08" height="13.9" fill="#ffaa4a"/><rect x="533.02" y="582.9" width="2.08" height="13.9" fill="#ffb247"/><rect x="534.7" y="582.9" width="2.08" height="13.9" fill="#ffba44"/><rect x="536.38" y="582.9" width="2.08" height="13.9" fill="#ffc242"/><rect x="538.06" y="582.9" width="2.08" height="13.9" fill="#ffc93f"/><rect x="539.74" y="582.9" width="2.08" height="13.9" fill="#ffd13c"/><rect x="541.42" y="582.9" width="2.08" height="13.9" fill="#ffd83e"/><rect x="543.1" y="582.9" width="2.08" height="13.9" fill="#ffde41"/><rect x="544.78" y="582.9" width="2.08" height="13.9" fill="#ffe544"/><rect x="546.46" y="582.9" width="2.08" height="13.9" fill="#ffeb47"/><rect x="548.14" y="582.9" width="2.08" height="13.9" fill="#fff249"/><rect x="549.82" y="582.9" width="2.08" height="13.9" fill="#fff84c"/><rect x="591.5" y="582.9" width="2.07" height="13.9" fill="#3060a8"/><rect x="593.17" y="582.9" width="2.07" height="13.9" fill="#2e67b0"/><rect x="594.84" y="582.9" width="2.07" height="13.9" fill="#2b6fb9"/><rect x="596.51" y="582.9" width="2.07" height="13.9" fill="#2976c1"/><rect x="598.19" y="582.9" width="2.07" height="13.9" fill="#267ec9"/><rect x="599.86" y="582.9" width="2.07" height="13.9" fill="#2485d2"/><rect x="601.53" y="582.9" width="2.07" height="13.9" fill="#218dda"/><rect x="603.2" y="582.9" width="2.07" height="13.9" fill="#1f94e3"/><rect x="604.87" y="582.9" width="2.07" height="13.9" fill="#1c9ceb"/><rect x="606.54" y="582.9" width="2.07" height="13.9" fill="#1ca3f2"/><rect x="608.22" y="582.9" width="2.07" height="13.9" fill="#27a7f2"/><rect x="609.89" y="582.9" width="2.07" height="13.9" fill="#32abf2"/><rect x="611.56" y="582.9" width="2.07" height="13.9" fill="#3db0f1"/><rect x="613.23" y="582.9" width="2.07" height="13.9" fill="#48b4f1"/><rect x="614.9" y="582.9" width="2.07" height="13.9" fill="#53b8f1"/><rect x="616.58" y="582.9" width="2.07" height="13.9" fill="#5ebcf1"/><rect x="618.25" y="582.9" width="2.07" height="13.9" fill="#69c1f0"/><rect x="619.92" y="582.9" width="2.07" height="13.9" fill="#74c5f0"/><rect x="621.59" y="582.9" width="2.07" height="13.9" fill="#7ec9f0"/><rect x="623.26" y="582.9" width="2.07" height="13.9" fill="#86caee"/><rect x="624.93" y="582.9" width="2.07" height="13.9" fill="#8eccec"/><rect x="626.61" y="582.9" width="2.07" height="13.9" fill="#96ceeb"/><rect x="628.28" y="582.9" width="2.07" height="13.9" fill="#9ed0e9"/><rect x="629.95" y="582.9" width="2.07" height="13.9" fill="#a6d2e8"/><rect x="631.62" y="582.9" width="2.07" height="13.9" fill="#aed3e6"/><rect x="633.29" y="582.9" width="2.07" height="13.9" fill="#b6d5e4"/><rect x="634.96" y="582.9" width="2.07" height="13.9" fill="#bed7e3"/><rect x="636.63" y="582.9" width="2.07" height="13.9" fill="#c5d8dd"/><rect x="638.31" y="582.9" width="2.07" height="13.9" fill="#cdd8d3"/><rect x="639.98" y="582.9" width="2.07" height="13.9" fill="#d4d8c9"/><rect x="641.65" y="582.9" width="2.07" height="13.9" fill="#dcd8bf"/><rect x="643.32" y="582.9" width="2.07" height="13.9" fill="#e3d8b5"/><rect x="644.99" y="582.9" width="2.07" height="13.9" fill="#ebd8ab"/><rect x="646.66" y="582.9" width="2.07" height="13.9" fill="#efd69f"/><rect x="648.34" y="582.9" width="2.07" height="13.9" fill="#f0d291"/><rect x="650.01" y="582.9" width="2.07" height="13.9" fill="#f1ce83"/><rect x="651.68" y="582.9" width="2.07" height="13.9" fill="#f3cb76"/><rect x="653.35" y="582.9" width="2.07" height="13.9" fill="#f4c768"/><rect x="655.02" y="582.9" width="2.07" height="13.9" fill="#f6c35b"/><rect x="656.69" y="582.9" width="2.07" height="13.9" fill="#f6bf50"/><rect x="658.37" y="582.9" width="2.07" height="13.9" fill="#f7b947"/><rect x="660.04" y="582.9" width="2.07" height="13.9" fill="#f7b43e"/><rect x="661.71" y="582.9" width="2.07" height="13.9" fill="#f8af35"/><rect x="663.38" y="582.9" width="2.07" height="13.9" fill="#f8aa2c"/><rect x="665.05" y="582.9" width="2.07" height="13.9" fill="#f9a423"/><rect x="666.72" y="582.9" width="2.07" height="13.9" fill="#f69a21"/><rect x="668.4" y="582.9" width="2.07" height="13.9" fill="#f38d21"/><rect x="670.07" y="582.9" width="2.07" height="13.9" fill="#ef8121"/><rect x="671.74" y="582.9" width="2.07" height="13.9" fill="#ec7522"/><rect x="673.41" y="582.9" width="2.07" height="13.9" fill="#e86822"/><rect x="675.08" y="582.9" width="2.07" height="13.9" fill="#e55c22"/><rect x="676.75" y="582.9" width="2.07" height="13.9" fill="#df4e22"/><rect x="678.43" y="582.9" width="2.07" height="13.9" fill="#d94122"/><rect x="680.1" y="582.9" width="2.07" height="13.9" fill="#d33322"/><rect x="681.77" y="582.9" width="2.07" height="13.9" fill="#ce2622"/><rect x="683.44" y="582.9" width="2.07" height="13.9" fill="#c52121"/><rect x="685.11" y="582.9" width="2.07" height="13.9" fill="#bc1f1f"/><rect x="686.78" y="582.9" width="2.07" height="13.9" fill="#b31d1d"/><rect x="688.46" y="582.9" width="2.07" height="13.9" fill="#a91c1c"/><rect x="690.13" y="582.9" width="2.07" height="13.9" fill="#a01a1a"/><line x1="451.5" y1="582.9" x2="451.5" y2="585.5" stroke="#fff" stroke-width="0.8"/><line x1="451.5" y1="594.2" x2="451.5" y2="596.8" stroke="#fff" stroke-width="0.8"/><line x1="550.7" y1="582.9" x2="550.7" y2="585.5" stroke="#fff" stroke-width="0.8"/><line x1="550.7" y1="594.2" x2="550.7" y2="596.8" stroke="#fff" stroke-width="0.8"/><line x1="592.3" y1="582.9" x2="592.3" y2="585.5" stroke="#fff" stroke-width="0.8"/><line x1="592.3" y1="594.2" x2="592.3" y2="596.8" stroke="#fff" stroke-width="0.8"/><line x1="691" y1="582.9" x2="691" y2="585.5" stroke="#fff" stroke-width="0.8"/><line x1="691" y1="594.2" x2="691" y2="596.8" stroke="#fff" stroke-width="0.8"/><text x="452" y="611" font-size="11" text-anchor="middle">−2</text><text x="548" y="611" font-size="11" text-anchor="middle">2</text><text x="594" y="611" font-size="11" text-anchor="middle">−2</text><text x="688" y="611" font-size="11" text-anchor="middle">2</text><text x="500" y="625.5" font-size="17.2" text-anchor="middle">Gene score</text><text x="646" y="625.5" font-size="17.2" text-anchor="middle">Motif deviation</text><text x="984.7" y="47.8" font-size="23" text-anchor="middle">Runx1 (MA0002.2)</text><line x1="830.7" y1="86.4" x2="830.7" y2="270" stroke="#222" stroke-width="1.3"/><line x1="830.1" y1="269.4" x2="1121.3" y2="269.4" stroke="#222" stroke-width="1.3"/><line x1="827.2" y1="264.4" x2="830.7" y2="264.4" stroke="#222" stroke-width="1.1"/><text x="825.2" y="268.4" font-size="11.5" text-anchor="end" textLength="19.5" lengthAdjust="spacingAndGlyphs">0.05</text><line x1="827.2" y1="218.3" x2="830.7" y2="218.3" stroke="#222" stroke-width="1.1"/><text x="825.2" y="222.3" font-size="11.5" text-anchor="end" textLength="19.5" lengthAdjust="spacingAndGlyphs">0.10</text><line x1="827.2" y1="172.2" x2="830.7" y2="172.2" stroke="#222" stroke-width="1.1"/><text x="825.2" y="176.2" font-size="11.5" text-anchor="end" textLength="19.5" lengthAdjust="spacingAndGlyphs">0.15</text><line x1="827.2" y1="126.1" x2="830.7" y2="126.1" stroke="#222" stroke-width="1.1"/><text x="825.2" y="130.1" font-size="11.5" text-anchor="end" textLength="19.5" lengthAdjust="spacingAndGlyphs">0.20</text><line x1="842.3" y1="269.4" x2="842.3" y2="272.9" stroke="#222" stroke-width="1.1"/><text x="842.3" y="285.4" font-size="11.5" text-anchor="middle" textLength="23.5" lengthAdjust="spacingAndGlyphs">−100</text><line x1="908.8" y1="269.4" x2="908.8" y2="272.9" stroke="#222" stroke-width="1.1"/><text x="908.8" y="285.4" font-size="11.5" text-anchor="middle" textLength="17" lengthAdjust="spacingAndGlyphs">−50</text><line x1="975.2" y1="269.4" x2="975.2" y2="272.9" stroke="#222" stroke-width="1.1"/><text x="975.2" y="285.4" font-size="11.5" text-anchor="middle" textLength="6.5" lengthAdjust="spacingAndGlyphs">0</text><line x1="1041.7" y1="269.4" x2="1041.7" y2="272.9" stroke="#222" stroke-width="1.1"/><text x="1041.7" y="285.4" font-size="11.5" text-anchor="middle" textLength="12.5" lengthAdjust="spacingAndGlyphs">50</text><line x1="1108.1" y1="269.4" x2="1108.1" y2="272.9" stroke="#222" stroke-width="1.1"/><text x="1108.1" y="285.4" font-size="11.5" text-anchor="middle" textLength="18.5" lengthAdjust="spacingAndGlyphs">100</text><polyline fill="none" stroke="#ffff00" stroke-width="2.2" points="842.3,170.6 843.6,170.2 845,169.3 846.3,168.1 847.6,168.1 848.9,167 850.3,165.6 851.6,166.2 852.9,165.4 854.3,165.4 855.6,165.5 856.9,165.9 858.2,166.2 859.6,166.9 860.9,166.8 862.2,166.2 863.6,165.4 864.9,164.3 866.2,162.7 867.6,162 868.9,161.4 870.2,160.4 871.5,159 872.9,158.8 874.2,157.5 875.5,157.9 876.9,157.7 878.2,158.7 879.5,158.4 880.8,156.7 882.2,156.1 883.5,154.5 884.8,152.2 886.2,150.8 887.5,150.5 888.8,148 890.1,147.1 891.5,146.8 892.8,146.2 894.1,146.1 895.5,146.3 896.8,146.6 898.1,146.6 899.4,145.2 900.8,145.6 902.1,145.3 903.4,145.5 904.8,145.9 906.1,145.1 907.4,145 908.8,144.1 910.1,143.5 911.4,140.8 912.7,142.9 914.1,140.3 915.4,140.2 916.7,139.7 918.1,140.7 919.4,138.7 920.7,139.7 922,139 923.4,138 924.7,135.7 926,136.9 927.4,134.6 928.7,133.3 930,133.1 931.3,133.4 932.7,131.5 934,130.8 935.3,130.6 936.7,129.7 938,129.4 939.3,128.5 940.6,129 942,129 943.3,126.7 944.6,126.8 946,128 947.3,127 948.6,125.6 949.9,125.8 951.3,123.8 952.6,120.7 953.9,119.5 955.3,117.9 956.6,117.5 957.9,116.7 959.3,114.5 960.6,115.6 961.9,118 963.2,117.5 964.6,119.6 965.9,123.9 967.2,128.6 968.6,139.9 969.9,152.4 971.2,181.5 972.5,210.3 973.9,242.4 975.2,260.6 976.5,246.6 977.9,200.7 979.2,152.1 980.5,130.7 981.8,126.7 983.2,121.6 984.5,118.6 985.8,117.9 987.2,116.8 988.5,117.4 989.8,117.2 991.1,115.7 992.5,114.9 993.8,114.5 995.1,114.5 996.5,115.9 997.8,117.7 999.1,118.6 1000.5,119.5 1001.8,120.1 1003.1,121.1 1004.4,120.9 1005.8,121.1 1007.1,121.8 1008.4,123.4 1009.8,123.4 1011.1,123.8 1012.4,125.2 1013.7,125.8 1015.1,125.6 1016.4,126.1 1017.7,128.3 1019.1,129.2 1020.4,131.1 1021.7,132.2 1023,134.6 1024.4,136.1 1025.7,139.7 1027,140.4 1028.4,141.7 1029.7,141.9 1031,142.1 1032.3,142.2 1033.7,142 1035,141.8 1036.3,142.8 1037.7,143.8 1039,144.1 1040.3,144.4 1041.7,145.2 1043,146.3 1044.3,146.3 1045.6,146.9 1047,148.4 1048.3,148.6 1049.6,148 1051,149.3 1052.3,149.5 1053.6,149.3 1054.9,151 1056.3,152.2 1057.6,152.1 1058.9,153.9 1060.3,154.7 1061.6,154.6 1062.9,154.9 1064.2,156.8 1065.6,156.2 1066.9,157.6 1068.2,158.4 1069.6,159 1070.9,158.8 1072.2,160.1 1073.5,160.7 1074.9,161.2 1076.2,162.8 1077.5,163.3 1078.9,163.2 1080.2,163.7 1081.5,163.4 1082.8,163.3 1084.2,162.7 1085.5,164.6 1086.8,166.3 1088.2,167.6 1089.5,167.6 1090.8,169.6 1092.2,168.8 1093.5,169 1094.8,170.4 1096.1,171.8 1097.5,172.2 1098.8,172 1100.1,171.2 1101.5,171 1102.8,171.2 1104.1,171.8 1105.4,172.7 1106.8,173.3 1108.1,173.1" stroke-linejoin="round"/><polyline fill="none" stroke="#f7b64a" stroke-width="2.2" points="842.3,172 843.6,169.9 845,170.4 846.3,169 847.6,168.7 848.9,168 850.3,169.1 851.6,169.9 852.9,168.8 854.3,169.2 855.6,168.6 856.9,167.4 858.2,164.4 859.6,165.7 860.9,164.5 862.2,163.9 863.6,162.9 864.9,164.7 866.2,163.4 867.6,162.4 868.9,160.7 870.2,159.3 871.5,158 872.9,156.9 874.2,156.8 875.5,157.9 876.9,159 878.2,157.3 879.5,156.4 880.8,155.7 882.2,153.4 883.5,152.4 884.8,151.8 886.2,151.2 887.5,150.4 888.8,150.1 890.1,148.6 891.5,148.1 892.8,147.2 894.1,145.2 895.5,144.9 896.8,144.1 898.1,143.5 899.4,143.5 900.8,143.8 902.1,143.8 903.4,143.3 904.8,143.8 906.1,143.6 907.4,143.5 908.8,142.1 910.1,141.9 911.4,140.4 912.7,139.9 914.1,140.3 915.4,140.1 916.7,140.1 918.1,140.9 919.4,139.8 920.7,138.7 922,139.3 923.4,138.5 924.7,138.1 926,138.5 927.4,137.7 928.7,137.4 930,137 931.3,136.3 932.7,134.7 934,134.7 935.3,132.9 936.7,133.2 938,131.9 939.3,131.1 940.6,129.7 942,130.3 943.3,127.9 944.6,126.2 946,126.1 947.3,124.5 948.6,123.1 949.9,122.8 951.3,121.8 952.6,119.8 953.9,119 955.3,118.1 956.6,118.2 957.9,117.7 959.3,118.5 960.6,120.6 961.9,122 963.2,121.4 964.6,123.9 965.9,125.5 967.2,128.2 968.6,139.6 969.9,151.6 971.2,180.3 972.5,209 973.9,241.1 975.2,259.7 976.5,245.2 977.9,199.1 979.2,150.8 980.5,129.3 981.8,125.3 983.2,122.1 984.5,120.3 985.8,120.2 987.2,119.7 988.5,118.8 989.8,117.1 991.1,118.1 992.5,117.3 993.8,117.1 995.1,117.5 996.5,119.5 997.8,118.8 999.1,119 1000.5,120.3 1001.8,121.2 1003.1,120.3 1004.4,120.9 1005.8,121.6 1007.1,120.2 1008.4,120.2 1009.8,121.8 1011.1,123.5 1012.4,124 1013.7,126.1 1015.1,126.5 1016.4,126.2 1017.7,126.3 1019.1,128.2 1020.4,129.9 1021.7,132.4 1023,135.4 1024.4,138.2 1025.7,141.8 1027,142.5 1028.4,143.7 1029.7,144.8 1031,144.8 1032.3,144.1 1033.7,144.5 1035,143.6 1036.3,142.6 1037.7,142.6 1039,143.8 1040.3,145.1 1041.7,146.1 1043,147.1 1044.3,147.8 1045.6,147.7 1047,146.6 1048.3,147.7 1049.6,148 1051,149.5 1052.3,151.8 1053.6,153.4 1054.9,152.8 1056.3,155 1057.6,154.5 1058.9,154.2 1060.3,154.8 1061.6,156.4 1062.9,155.9 1064.2,157.9 1065.6,158.1 1066.9,158.2 1068.2,158.4 1069.6,159.7 1070.9,158.9 1072.2,158.4 1073.5,157.9 1074.9,160 1076.2,160.1 1077.5,162.9 1078.9,164.5 1080.2,166.3 1081.5,166.9 1082.8,168.4 1084.2,167.6 1085.5,167.8 1086.8,169.1 1088.2,168.9 1089.5,169.9 1090.8,170.9 1092.2,171.6 1093.5,171.5 1094.8,170.7 1096.1,170.3 1097.5,171.7 1098.8,171.9 1100.1,172.8 1101.5,174 1102.8,173.2 1104.1,171.9 1105.4,171.7 1106.8,170.9 1108.1,172.5" stroke-linejoin="round"/><polyline fill="none" stroke="#2eb8a0" stroke-width="2.2" points="842.3,168.8 843.6,168.5 845,168.2 846.3,166.8 847.6,167 848.9,165.8 850.3,165.8 851.6,166.7 852.9,166.2 854.3,165.5 855.6,166.2 856.9,164.5 858.2,163.3 859.6,162.5 860.9,161.4 862.2,160.4 863.6,160.4 864.9,160.1 866.2,160.5 867.6,159.6 868.9,157.9 870.2,156.1 871.5,155 872.9,154.3 874.2,153.9 875.5,154.3 876.9,154.3 878.2,154.8 879.5,154.2 880.8,153.1 882.2,152.8 883.5,153.1 884.8,151.5 886.2,149.4 887.5,148.7 888.8,147.5 890.1,146.2 891.5,145.4 892.8,146.3 894.1,146.4 895.5,145.6 896.8,145.9 898.1,145.8 899.4,145 900.8,145.2 902.1,145.4 903.4,143.5 904.8,141.6 906.1,141.3 907.4,140.6 908.8,139.2 910.1,139.6 911.4,140.9 912.7,139.5 914.1,139.5 915.4,139.9 916.7,139.8 918.1,139.5 919.4,140.1 920.7,138.7 922,137 923.4,135.5 924.7,134.3 926,134.2 927.4,133.9 928.7,134.7 930,134.5 931.3,133.3 932.7,131.7 934,131.1 935.3,130.3 936.7,129.6 938,129.5 939.3,129.5 940.6,129 942,127.3 943.3,127.4 944.6,126.8 946,126 947.3,123.9 948.6,123.1 949.9,120.8 951.3,119.4 952.6,117.6 953.9,117.4 955.3,117.9 956.6,117.1 957.9,116.1 959.3,116.2 960.6,117.1 961.9,116.9 963.2,119.3 964.6,122.7 965.9,124.8 967.2,130.2 968.6,141.1 969.9,152.6 971.2,181.1 972.5,209.5 973.9,241.4 975.2,259.9 976.5,245.8 977.9,199.4 979.2,152.2 980.5,130.9 981.8,126.8 983.2,123.6 984.5,121.2 985.8,119.9 987.2,120.5 988.5,120 989.8,119.1 991.1,117.8 992.5,116.7 993.8,115.7 995.1,116.6 996.5,115.5 997.8,116.5 999.1,116.8 1000.5,117.1 1001.8,117.7 1003.1,119.4 1004.4,119.6 1005.8,119.1 1007.1,118.2 1008.4,117.9 1009.8,119.1 1011.1,120.8 1012.4,123.9 1013.7,126.2 1015.1,127 1016.4,127.7 1017.7,127.9 1019.1,129.3 1020.4,130.1 1021.7,132.2 1023,133.9 1024.4,135.9 1025.7,138.5 1027,139.9 1028.4,141.2 1029.7,140.6 1031,141.5 1032.3,141 1033.7,140.6 1035,141.3 1036.3,142.1 1037.7,142.9 1039,143.2 1040.3,144.8 1041.7,144.2 1043,147 1044.3,146.7 1045.6,147.7 1047,147.6 1048.3,149.4 1049.6,148.5 1051,149.3 1052.3,149 1053.6,149.4 1054.9,148.9 1056.3,149.1 1057.6,150.1 1058.9,151.9 1060.3,153.6 1061.6,154.3 1062.9,155.8 1064.2,155.6 1065.6,155.5 1066.9,156.1 1068.2,156.6 1069.6,155.9 1070.9,157.3 1072.2,158.6 1073.5,159.2 1074.9,159.9 1076.2,162.2 1077.5,163 1078.9,162.7 1080.2,162.8 1081.5,164 1082.8,164.4 1084.2,165 1085.5,165.7 1086.8,166 1088.2,166.1 1089.5,166.5 1090.8,166.3 1092.2,166.6 1093.5,167 1094.8,167.4 1096.1,166.9 1097.5,167.4 1098.8,168.1 1100.1,169.2 1101.5,169.7 1102.8,170.8 1104.1,171.6 1105.4,172.5 1106.8,172 1108.1,171" stroke-linejoin="round"/><polyline fill="none" stroke="#1060f0" stroke-width="2.2" points="842.3,173.3 843.6,173.4 845,173.3 846.3,172.9 847.6,171.8 848.9,171.4 850.3,170.9 851.6,169.8 852.9,170.1 854.3,169.2 855.6,168.8 856.9,167.7 858.2,166.9 859.6,165.3 860.9,166 862.2,165.4 863.6,164.6 864.9,165.2 866.2,166.5 867.6,165.2 868.9,164.5 870.2,163.7 871.5,162.3 872.9,160 874.2,159.1 875.5,157.4 876.9,156.7 878.2,155.6 879.5,155.2 880.8,153.9 882.2,154.2 883.5,153.3 884.8,154.2 886.2,153 887.5,153.1 888.8,152.5 890.1,151.4 891.5,149.1 892.8,148.6 894.1,148.2 895.5,146 896.8,145.9 898.1,145.4 899.4,145.4 900.8,143.9 902.1,144.4 903.4,144.6 904.8,144.7 906.1,144.9 907.4,144.9 908.8,145.6 910.1,144.5 911.4,144.4 912.7,143.4 914.1,143.2 915.4,142 916.7,142.9 918.1,142.3 919.4,141.1 920.7,141.2 922,141.7 923.4,140.5 924.7,140.4 926,140.4 927.4,139.6 928.7,138.1 930,137.4 931.3,137.2 932.7,135.9 934,135.4 935.3,134.9 936.7,134 938,131.2 939.3,131.5 940.6,131.7 942,130.3 943.3,129.9 944.6,129.4 946,128.3 947.3,126.7 948.6,125.7 949.9,123.7 951.3,123.4 952.6,121.5 953.9,120.4 955.3,120.3 956.6,120 957.9,118.6 959.3,117.5 960.6,118.7 961.9,119.4 963.2,120 964.6,122.8 965.9,126.1 967.2,127.6 968.6,139.7 969.9,150.7 971.2,179.6 972.5,207.7 973.9,240.5 975.2,258.7 976.5,246.1 977.9,200.4 979.2,153.1 980.5,131.5 981.8,127.5 983.2,123.2 984.5,122.6 985.8,121.2 987.2,118.3 988.5,117.6 989.8,116.9 991.1,115.2 992.5,113.8 993.8,114.5 995.1,115 996.5,114.8 997.8,117.2 999.1,118.9 1000.5,119.7 1001.8,121.6 1003.1,123.8 1004.4,122.9 1005.8,123.1 1007.1,123.6 1008.4,122.4 1009.8,123.6 1011.1,125 1012.4,126 1013.7,127.7 1015.1,129.3 1016.4,129.5 1017.7,130.8 1019.1,132.8 1020.4,133.6 1021.7,134.7 1023,136.3 1024.4,138.1 1025.7,140.4 1027,142 1028.4,143.9 1029.7,144.7 1031,144.6 1032.3,143.9 1033.7,144 1035,144.1 1036.3,144.6 1037.7,145.7 1039,146.4 1040.3,146 1041.7,146.7 1043,146.1 1044.3,148 1045.6,150 1047,152.4 1048.3,153.2 1049.6,155.2 1051,153.2 1052.3,153.1 1053.6,152 1054.9,152.2 1056.3,152.6 1057.6,155.2 1058.9,154.1 1060.3,155.5 1061.6,156.3 1062.9,155.7 1064.2,155.6 1065.6,157.5 1066.9,158.2 1068.2,159.1 1069.6,162 1070.9,162.9 1072.2,162.9 1073.5,163.2 1074.9,163.5 1076.2,162.7 1077.5,163.8 1078.9,164.7 1080.2,165.6 1081.5,166.7 1082.8,167.4 1084.2,166.9 1085.5,168.4 1086.8,168.6 1088.2,168 1089.5,167.9 1090.8,169.2 1092.2,171 1093.5,170.3 1094.8,171.5 1096.1,173 1097.5,172.6 1098.8,171.7 1100.1,172.7 1101.5,173.7 1102.8,174 1104.1,175.5 1105.4,174.7 1106.8,175.9 1108.1,174.9" stroke-linejoin="round"/><polyline fill="none" stroke="#332a8c" stroke-width="2.2" points="842.3,157 843.6,157.2 845,155.2 846.3,153.8 847.6,153.8 848.9,153.2 850.3,152 851.6,151.6 852.9,151.4 854.3,151 855.6,149.1 856.9,148.9 858.2,148.1 859.6,147.5 860.9,146 862.2,146.2 863.6,145.9 864.9,145.1 866.2,143.6 867.6,142.6 868.9,141.5 870.2,140 871.5,139.5 872.9,138.4 874.2,138.3 875.5,137.8 876.9,136.7 878.2,135.8 879.5,136.8 880.8,136.3 882.2,134.9 883.5,135.3 884.8,134.8 886.2,133.1 887.5,131.6 888.8,132.9 890.1,132.8 891.5,132.1 892.8,132.2 894.1,131.6 895.5,129.8 896.8,128.1 898.1,128.4 899.4,128.6 900.8,127.4 902.1,127.4 903.4,127.8 904.8,127.8 906.1,126 907.4,127 908.8,126.8 910.1,125.3 911.4,123.5 912.7,123 914.1,122.6 915.4,123.3 916.7,123.9 918.1,123.9 919.4,124.2 920.7,122.5 922,120.1 923.4,119.6 924.7,118.6 926,117.8 927.4,118.1 928.7,117.2 930,117.1 931.3,116.3 932.7,115 934,115.5 935.3,115.8 936.7,114.4 938,115.3 939.3,115.8 940.6,114.5 942,113.9 943.3,112.8 944.6,112.1 946,109.7 947.3,107.3 948.6,106.5 949.9,104.3 951.3,100.4 952.6,100.8 953.9,100.2 955.3,98.8 956.6,97.8 957.9,98 959.3,99.1 960.6,99.3 961.9,100.4 963.2,103.7 964.6,105.5 965.9,108.4 967.2,119.6 968.6,129.9 969.9,155.5 971.2,181.4 972.5,209.7 973.9,237.3 975.2,255.8 976.5,240 977.9,189.4 979.2,135.8 980.5,115.1 981.8,109.8 983.2,104.4 984.5,103.3 985.8,101.7 987.2,98.9 988.5,98.3 989.8,96.5 991.1,94.6 992.5,93.7 993.8,93.4 995.1,93.9 996.5,96.6 997.8,98 999.1,99 1000.5,97.9 1001.8,98 1003.1,97.9 1004.4,98.2 1005.8,97.7 1007.1,100.8 1008.4,103.6 1009.8,105.7 1011.1,107.5 1012.4,110.4 1013.7,112.3 1015.1,113.1 1016.4,114.1 1017.7,116.1 1019.1,118.3 1020.4,119.1 1021.7,121.7 1023,123 1024.4,122.9 1025.7,124.2 1027,123.8 1028.4,123.7 1029.7,123.1 1031,123.1 1032.3,121.5 1033.7,123.4 1035,122.3 1036.3,123.2 1037.7,124.1 1039,123.3 1040.3,124.2 1041.7,125.8 1043,127.1 1044.3,129.1 1045.6,130.8 1047,131.9 1048.3,133.2 1049.6,133.9 1051,133.6 1052.3,136.1 1053.6,135.1 1054.9,135.7 1056.3,137.2 1057.6,138.8 1058.9,138.8 1060.3,141.1 1061.6,141.7 1062.9,141.4 1064.2,141.6 1065.6,143.7 1066.9,144.4 1068.2,145.1 1069.6,146.2 1070.9,145.4 1072.2,145.1 1073.5,144.7 1074.9,145.2 1076.2,145.9 1077.5,147.9 1078.9,148.2 1080.2,149.6 1081.5,150.9 1082.8,151.4 1084.2,150.5 1085.5,151.2 1086.8,150.8 1088.2,153 1089.5,153.3 1090.8,155.4 1092.2,155.7 1093.5,156.6 1094.8,155.6 1096.1,156 1097.5,155.2 1098.8,155.1 1100.1,155.6 1101.5,154.7 1102.8,155.4 1104.1,156 1105.4,157.6 1106.8,157.1 1108.1,156.8" stroke-linejoin="round"/><text x="975.7" y="329.4" font-size="23" text-anchor="middle">Twist2 (MA0633.1)</text><line x1="830.7" y1="355.7" x2="830.7" y2="539.4" stroke="#222" stroke-width="1.3"/><line x1="830.1" y1="538.8" x2="1121.3" y2="538.8" stroke="#222" stroke-width="1.3"/><line x1="827.2" y1="514.5" x2="830.7" y2="514.5" stroke="#222" stroke-width="1.1"/><text x="825.2" y="518.5" font-size="11.5" text-anchor="end" textLength="19.5" lengthAdjust="spacingAndGlyphs">0.10</text><line x1="827.2" y1="478.7" x2="830.7" y2="478.7" stroke="#222" stroke-width="1.1"/><text x="825.2" y="482.7" font-size="11.5" text-anchor="end" textLength="19.5" lengthAdjust="spacingAndGlyphs">0.12</text><line x1="827.2" y1="442.9" x2="830.7" y2="442.9" stroke="#222" stroke-width="1.1"/><text x="825.2" y="446.9" font-size="11.5" text-anchor="end" textLength="19.5" lengthAdjust="spacingAndGlyphs">0.14</text><line x1="827.2" y1="407.1" x2="830.7" y2="407.1" stroke="#222" stroke-width="1.1"/><text x="825.2" y="411.1" font-size="11.5" text-anchor="end" textLength="19.5" lengthAdjust="spacingAndGlyphs">0.16</text><line x1="827.2" y1="371.3" x2="830.7" y2="371.3" stroke="#222" stroke-width="1.1"/><text x="825.2" y="375.3" font-size="11.5" text-anchor="end" textLength="19.5" lengthAdjust="spacingAndGlyphs">0.18</text><line x1="842.3" y1="538.8" x2="842.3" y2="542.3" stroke="#222" stroke-width="1.1"/><text x="842.3" y="553.9" font-size="11.5" text-anchor="middle" textLength="23.5" lengthAdjust="spacingAndGlyphs">−100</text><line x1="908.8" y1="538.8" x2="908.8" y2="542.3" stroke="#222" stroke-width="1.1"/><text x="908.8" y="553.9" font-size="11.5" text-anchor="middle" textLength="17" lengthAdjust="spacingAndGlyphs">−50</text><line x1="975.2" y1="538.8" x2="975.2" y2="542.3" stroke="#222" stroke-width="1.1"/><text x="975.2" y="553.9" font-size="11.5" text-anchor="middle" textLength="6.5" lengthAdjust="spacingAndGlyphs">0</text><line x1="1041.7" y1="538.8" x2="1041.7" y2="542.3" stroke="#222" stroke-width="1.1"/><text x="1041.7" y="553.9" font-size="11.5" text-anchor="middle" textLength="12.5" lengthAdjust="spacingAndGlyphs">50</text><line x1="1108.1" y1="538.8" x2="1108.1" y2="542.3" stroke="#222" stroke-width="1.1"/><text x="1108.1" y="553.9" font-size="11.5" text-anchor="middle" textLength="18.5" lengthAdjust="spacingAndGlyphs">100</text><polyline fill="none" stroke="#ffff00" stroke-width="2.2" points="842.3,488.9 843.6,492.4 845,492 846.3,498.9 847.6,494 848.9,494.8 850.3,487.7 851.6,490.3 852.9,489.6 854.3,492.3 855.6,492.4 856.9,493.3 858.2,495.6 859.6,495.3 860.9,494.7 862.2,482.4 863.6,472.7 864.9,470.8 866.2,471.7 867.6,472.9 868.9,477.6 870.2,479.4 871.5,479.7 872.9,481.4 874.2,477.4 875.5,477.3 876.9,476 878.2,478.2 879.5,474.1 880.8,474.5 882.2,476.5 883.5,475.7 884.8,478 886.2,477.5 887.5,480.9 888.8,473.9 890.1,474.3 891.5,479.3 892.8,481.6 894.1,480.1 895.5,475.6 896.8,475.6 898.1,473.9 899.4,472.2 900.8,473.5 902.1,471.2 903.4,467.1 904.8,464.5 906.1,465.9 907.4,465.6 908.8,463 910.1,462.3 911.4,462.7 912.7,459.8 914.1,456.3 915.4,454.3 916.7,455.1 918.1,454.3 919.4,453 920.7,456.2 922,452.2 923.4,453.2 924.7,452.7 926,455.6 927.4,456.8 928.7,456.6 930,456.1 931.3,452.1 932.7,450.8 934,449.4 935.3,449.2 936.7,446.2 938,444.1 939.3,440.7 940.6,437.6 942,432.6 943.3,427.2 944.6,417.6 946,413.1 947.3,416.2 948.6,410.9 949.9,408.1 951.3,400.3 952.6,402.4 953.9,405.3 955.3,408 956.6,409.9 957.9,402.5 959.3,400.8 960.6,398.4 961.9,414.9 963.2,424.9 964.6,450.3 965.9,476.2 967.2,499.3 968.6,525.8 969.9,529.5 971.2,530.3 972.5,514.1 973.9,506.5 975.2,515.3 976.5,524 977.9,523.1 979.2,520.4 980.5,526.6 981.8,526.7 983.2,489.6 984.5,455 985.8,432.5 987.2,415 988.5,395.1 989.8,401.6 991.1,406.2 992.5,414.8 993.8,419.8 995.1,423.4 996.5,419.1 997.8,417.4 999.1,414.7 1000.5,414.7 1001.8,417.9 1003.1,419.4 1004.4,420 1005.8,421.2 1007.1,422.9 1008.4,428.7 1009.8,432.6 1011.1,435.2 1012.4,437.4 1013.7,435.1 1015.1,445.1 1016.4,451.9 1017.7,465 1019.1,460.3 1020.4,458.4 1021.7,455 1023,460.6 1024.4,463.1 1025.7,463 1027,462.3 1028.4,463.4 1029.7,470.1 1031,474.8 1032.3,474.1 1033.7,471.1 1035,472.9 1036.3,478 1037.7,482.3 1039,481.7 1040.3,478.2 1041.7,476.3 1043,472.7 1044.3,474.9 1045.6,476.6 1047,479.2 1048.3,474.5 1049.6,472.4 1051,472.4 1052.3,474.8 1053.6,473.5 1054.9,471.9 1056.3,471.8 1057.6,475.7 1058.9,474.2 1060.3,478.2 1061.6,476.8 1062.9,478.5 1064.2,473.6 1065.6,471.9 1066.9,474.5 1068.2,479.5 1069.6,477.1 1070.9,472.4 1072.2,475 1073.5,476 1074.9,481.3 1076.2,484.2 1077.5,490.9 1078.9,490.2 1080.2,486.6 1081.5,486.2 1082.8,489.7 1084.2,494.7 1085.5,500.4 1086.8,500.6 1088.2,497.1 1089.5,490.2 1090.8,488.9 1092.2,485.2 1093.5,489.1 1094.8,490.8 1096.1,493.9 1097.5,497.7 1098.8,501.3 1100.1,501.5 1101.5,502.9 1102.8,505.9 1104.1,508.7 1105.4,503.6 1106.8,493.5 1108.1,490.1" stroke-linejoin="round"/><polyline fill="none" stroke="#f7b64a" stroke-width="2.2" points="842.3,490.9 843.6,491 845,490.8 846.3,492.9 847.6,494.2 848.9,495.8 850.3,494.5 851.6,497 852.9,496.4 854.3,498.4 855.6,497.9 856.9,498.5 858.2,493 859.6,489.9 860.9,490.7 862.2,485.2 863.6,475.4 864.9,473.6 866.2,471.9 867.6,475 868.9,478.2 870.2,481.8 871.5,482.7 872.9,485.4 874.2,486 875.5,490.3 876.9,490.6 878.2,488.9 879.5,486.2 880.8,482.6 882.2,485.5 883.5,484.4 884.8,484.7 886.2,484.2 887.5,484.9 888.8,480.9 890.1,479.5 891.5,478.8 892.8,483.9 894.1,481.8 895.5,479.8 896.8,476.5 898.1,474.7 899.4,475 900.8,477.2 902.1,481 903.4,481.3 904.8,480.3 906.1,474.4 907.4,469.5 908.8,464.8 910.1,462.6 911.4,461.4 912.7,457.1 914.1,458.1 915.4,457.2 916.7,461.3 918.1,457.4 919.4,455.8 920.7,455.6 922,456.3 923.4,455.3 924.7,455.5 926,458.3 927.4,459.8 928.7,459.1 930,456.5 931.3,459.7 932.7,460.6 934,461.4 935.3,463 936.7,455.3 938,449.8 939.3,441.1 940.6,434.6 942,430 943.3,426.3 944.6,426.2 946,422.6 947.3,416.8 948.6,413.9 949.9,413.7 951.3,413.8 952.6,413.9 953.9,412.9 955.3,410.2 956.6,408.3 957.9,405.6 959.3,406.5 960.6,406.6 961.9,419.6 963.2,431.2 964.6,454.3 965.9,480 967.2,498.6 968.6,520.6 969.9,524.9 971.2,527.5 972.5,519 973.9,512.5 975.2,519.3 976.5,525.1 977.9,519 979.2,513.3 980.5,518.4 981.8,522.7 983.2,493.5 984.5,463.1 985.8,443.9 987.2,428.1 988.5,406.1 989.8,408.5 991.1,406.8 992.5,410.1 993.8,413.3 995.1,417.3 996.5,416.5 997.8,414 999.1,413.4 1000.5,418.8 1001.8,425.2 1003.1,428.7 1004.4,426.2 1005.8,425.3 1007.1,426.9 1008.4,434.2 1009.8,435.6 1011.1,437.6 1012.4,436.2 1013.7,436 1015.1,441.2 1016.4,449.9 1017.7,460.9 1019.1,462.5 1020.4,459.4 1021.7,458 1023,461.1 1024.4,461.6 1025.7,463.6 1027,456.2 1028.4,461.8 1029.7,464.2 1031,473.2 1032.3,472.6 1033.7,474.6 1035,477.9 1036.3,483.4 1037.7,483.6 1039,482.1 1040.3,479.9 1041.7,476 1043,473.9 1044.3,471.1 1045.6,475.4 1047,475.6 1048.3,477.3 1049.6,476.1 1051,474.5 1052.3,473.3 1053.6,472.7 1054.9,474.2 1056.3,478.4 1057.6,480.8 1058.9,479.6 1060.3,476.8 1061.6,476.2 1062.9,475.5 1064.2,475.9 1065.6,476.4 1066.9,476.1 1068.2,475.8 1069.6,472.5 1070.9,473.9 1072.2,474.4 1073.5,477.6 1074.9,485.4 1076.2,489.7 1077.5,496.1 1078.9,494.7 1080.2,496.5 1081.5,493.5 1082.8,493.6 1084.2,491.2 1085.5,495.5 1086.8,496.4 1088.2,495.7 1089.5,489.4 1090.8,485.8 1092.2,483.5 1093.5,487.7 1094.8,492.1 1096.1,490.3 1097.5,491.9 1098.8,492 1100.1,497.4 1101.5,503.6 1102.8,507.8 1104.1,509.5 1105.4,505.1 1106.8,501 1108.1,494.8" stroke-linejoin="round"/><polyline fill="none" stroke="#2eb8a0" stroke-width="2.2" points="842.3,477.8 843.6,481.8 845,481.1 846.3,484.4 847.6,486 848.9,489.2 850.3,485.3 851.6,485.6 852.9,485.7 854.3,489 855.6,489.4 856.9,491.5 858.2,490.8 859.6,488.4 860.9,488.9 862.2,480.4 863.6,472.9 864.9,471.9 866.2,470.3 867.6,472.8 868.9,473.7 870.2,477.6 871.5,474.6 872.9,477.8 874.2,478.7 875.5,482.1 876.9,480 878.2,479.5 879.5,477.4 880.8,476.7 882.2,474.3 883.5,474.2 884.8,472.8 886.2,474.3 887.5,474.8 888.8,476.5 890.1,478.3 891.5,476.9 892.8,477.5 894.1,474.3 895.5,475.2 896.8,473.2 898.1,470.9 899.4,468.8 900.8,469.9 902.1,468.8 903.4,467.2 904.8,464.8 906.1,464.4 907.4,461.9 908.8,458.5 910.1,455.4 911.4,454.9 912.7,451.8 914.1,447.2 915.4,444.7 916.7,449.1 918.1,449.3 919.4,450.5 920.7,449.4 922,456.3 923.4,455.9 924.7,452.7 926,447.9 927.4,450.8 928.7,451.6 930,453.2 931.3,453.3 932.7,455.5 934,454.6 935.3,453 936.7,446.4 938,444.9 939.3,436.2 940.6,433.5 942,423.7 943.3,423.6 944.6,417.8 946,416.5 947.3,415.1 948.6,411.8 949.9,407.4 951.3,403.7 952.6,407 953.9,408 955.3,406.2 956.6,400.7 957.9,398.9 959.3,393.8 960.6,392.2 961.9,405.2 963.2,420.4 964.6,453.8 965.9,484.4 967.2,506.1 968.6,520.6 969.9,521.9 971.2,523.4 972.5,513.4 973.9,507.2 975.2,511.5 976.5,520.6 977.9,515.8 979.2,512.2 980.5,516 981.8,519.2 983.2,488.6 984.5,454.8 985.8,425.8 987.2,404.2 988.5,380.4 989.8,382.6 991.1,385.8 992.5,392.2 993.8,398.9 995.1,400.3 996.5,402.7 997.8,401.8 999.1,403.1 1000.5,404.4 1001.8,404.3 1003.1,408.6 1004.4,410.6 1005.8,415.7 1007.1,414 1008.4,416.3 1009.8,418.6 1011.1,421.6 1012.4,424.6 1013.7,421.3 1015.1,431 1016.4,442.2 1017.7,453.7 1019.1,451.2 1020.4,446.5 1021.7,446.9 1023,447.6 1024.4,447.2 1025.7,445.1 1027,446.4 1028.4,448.6 1029.7,454.5 1031,457.5 1032.3,458.7 1033.7,458.3 1035,459.1 1036.3,462.9 1037.7,463 1039,464.1 1040.3,461.6 1041.7,463.2 1043,464.1 1044.3,464.6 1045.6,462.3 1047,461.6 1048.3,460.8 1049.6,462.9 1051,460.8 1052.3,461.8 1053.6,463.1 1054.9,462.1 1056.3,464.1 1057.6,461.9 1058.9,465.8 1060.3,466.6 1061.6,464.9 1062.9,464.3 1064.2,464.2 1065.6,466.6 1066.9,467.5 1068.2,464.8 1069.6,461.7 1070.9,460.3 1072.2,462 1073.5,467 1074.9,468.5 1076.2,472.1 1077.5,472.1 1078.9,474.5 1080.2,475.4 1081.5,479.8 1082.8,482.9 1084.2,483.8 1085.5,484.8 1086.8,482.2 1088.2,477.9 1089.5,471.5 1090.8,472.7 1092.2,471.4 1093.5,476.9 1094.8,476.8 1096.1,476.8 1097.5,479.7 1098.8,481.4 1100.1,488.8 1101.5,494 1102.8,497 1104.1,497.5 1105.4,492.1 1106.8,487.4 1108.1,482.3" stroke-linejoin="round"/><polyline fill="none" stroke="#1060f0" stroke-width="2.2" points="842.3,494.9 843.6,493.2 845,496.6 846.3,495 847.6,498.7 848.9,503.1 850.3,503.7 851.6,501.8 852.9,503.9 854.3,509.2 855.6,510.3 856.9,507.2 858.2,503.3 859.6,502 860.9,503.5 862.2,488.3 863.6,477.5 864.9,474.3 866.2,479.5 867.6,485.9 868.9,488.7 870.2,491 871.5,487.1 872.9,488.4 874.2,486.9 875.5,490 876.9,490.1 878.2,491 879.5,490.4 880.8,490.2 882.2,488.7 883.5,483.8 884.8,483.4 886.2,483 887.5,488.6 888.8,489.1 890.1,489.3 891.5,485.4 892.8,485.7 894.1,484.5 895.5,484.6 896.8,479.9 898.1,479 899.4,477.9 900.8,480.6 902.1,481.5 903.4,482.3 904.8,481.3 906.1,483.4 907.4,482.4 908.8,481.4 910.1,476.5 911.4,472.1 912.7,470.4 914.1,468.6 915.4,466.3 916.7,461.4 918.1,460.7 919.4,460.3 920.7,462 922,459.4 923.4,464.1 924.7,464.4 926,471.8 927.4,467.2 928.7,467.4 930,466.6 931.3,470.4 932.7,474.3 934,473.3 935.3,472.8 936.7,465.8 938,454.7 939.3,449 940.6,444.9 942,442.5 943.3,436.3 944.6,428.3 946,424.4 947.3,425 948.6,425.1 949.9,423.5 951.3,419.5 952.6,415.3 953.9,414.2 955.3,411.5 956.6,412.2 957.9,410.9 959.3,412.9 960.6,407.8 961.9,421.4 963.2,432.5 964.6,466.5 965.9,486.2 967.2,507.1 968.6,522.9 969.9,524.2 971.2,524.1 972.5,517.4 973.9,509.3 975.2,517.3 976.5,523.8 977.9,522.4 979.2,519.4 980.5,522.1 981.8,528 983.2,499.1 984.5,466.3 985.8,449.6 987.2,426.1 988.5,406.8 989.8,409.9 991.1,415 992.5,419.5 993.8,424 995.1,422.6 996.5,424.8 997.8,425.4 999.1,426.8 1000.5,430.1 1001.8,433.7 1003.1,435.1 1004.4,431.3 1005.8,430.2 1007.1,434.6 1008.4,436.5 1009.8,436.6 1011.1,434.3 1012.4,440.8 1013.7,442.9 1015.1,455.6 1016.4,463.2 1017.7,470.9 1019.1,467.7 1020.4,466.5 1021.7,468 1023,466.8 1024.4,464.8 1025.7,466.3 1027,469.7 1028.4,472.5 1029.7,476.4 1031,480 1032.3,480.8 1033.7,478.4 1035,480.8 1036.3,483.8 1037.7,487.1 1039,488 1040.3,484.9 1041.7,483.4 1043,478.6 1044.3,484.9 1045.6,486.5 1047,484.9 1048.3,482.7 1049.6,483.9 1051,486.1 1052.3,481 1053.6,476.8 1054.9,479.4 1056.3,481.6 1057.6,482.4 1058.9,479.4 1060.3,479 1061.6,477.5 1062.9,475.1 1064.2,472.6 1065.6,472.9 1066.9,476 1068.2,482.6 1069.6,484.3 1070.9,487.5 1072.2,482.6 1073.5,488.4 1074.9,491.7 1076.2,502 1077.5,500.9 1078.9,498.8 1080.2,496 1081.5,498 1082.8,500.9 1084.2,501.5 1085.5,504.2 1086.8,506.4 1088.2,502.6 1089.5,496.8 1090.8,492.2 1092.2,490.7 1093.5,491.6 1094.8,490 1096.1,493.3 1097.5,496.7 1098.8,506.7 1100.1,508.2 1101.5,513.1 1102.8,511.2 1104.1,513.9 1105.4,512.8 1106.8,508 1108.1,502.5" stroke-linejoin="round"/><polyline fill="none" stroke="#332a8c" stroke-width="2.2" points="842.3,473.4 843.6,476.2 845,477.9 846.3,476.9 847.6,475.9 848.9,475.1 850.3,474.5 851.6,472.9 852.9,472.4 854.3,470.3 855.6,465.5 856.9,465.1 858.2,463.1 859.6,462 860.9,458.1 862.2,448.3 863.6,438.6 864.9,436.4 866.2,435.6 867.6,442.9 868.9,448.4 870.2,450.7 871.5,455.5 872.9,455.4 874.2,454 875.5,450.2 876.9,453.3 878.2,455.3 879.5,456.4 880.8,458.6 882.2,457.4 883.5,456.7 884.8,456 886.2,456.2 887.5,456.3 888.8,453.8 890.1,451.9 891.5,444.9 892.8,445.4 894.1,444.2 895.5,446.4 896.8,440.1 898.1,434.5 899.4,433 900.8,430.8 902.1,433.9 903.4,435.9 904.8,433.6 906.1,436.1 907.4,432.9 908.8,433.1 910.1,432.7 911.4,434.3 912.7,437.3 914.1,432.9 915.4,432.5 916.7,435.7 918.1,437.3 919.4,436.2 920.7,437 922,444.3 923.4,440.3 924.7,435.4 926,433.3 927.4,435.1 928.7,431.5 930,431.7 931.3,430.9 932.7,431.8 934,427.1 935.3,430.4 936.7,423.3 938,417 939.3,407.6 940.6,404.3 942,399.2 943.3,394 944.6,387.2 946,381.8 947.3,379 948.6,374.7 949.9,376.9 951.3,375.8 952.6,376.7 953.9,370.4 955.3,373.5 956.6,373.5 957.9,375.1 959.3,372.9 960.6,370.3 961.9,371.7 963.2,396.4 964.6,424 965.9,453.9 967.2,485.4 968.6,494.7 969.9,510.4 971.2,498.8 972.5,491.7 973.9,494.7 975.2,501.3 976.5,495.9 977.9,489.9 979.2,499.4 980.5,507.2 981.8,495.1 983.2,482.7 984.5,444.2 985.8,411.2 987.2,397.2 988.5,383.7 989.8,362.2 991.1,366.6 992.5,370.9 993.8,380 995.1,378.6 996.5,381.6 997.8,378.9 999.1,372.4 1000.5,374.8 1001.8,382.4 1003.1,389.9 1004.4,394.8 1005.8,397.2 1007.1,398.5 1008.4,397.4 1009.8,394.9 1011.1,397.9 1012.4,400.2 1013.7,403 1015.1,413 1016.4,419.8 1017.7,431.4 1019.1,434.3 1020.4,437.8 1021.7,433.8 1023,431.3 1024.4,433.6 1025.7,429.7 1027,430 1028.4,425.8 1029.7,429.6 1031,429.9 1032.3,432.5 1033.7,439.1 1035,441.5 1036.3,445.9 1037.7,446.2 1039,448.7 1040.3,450.4 1041.7,456.3 1043,459.1 1044.3,457.7 1045.6,453.4 1047,455 1048.3,456.4 1049.6,456.8 1051,452.1 1052.3,451.1 1053.6,451 1054.9,453.2 1056.3,452.7 1057.6,451.2 1058.9,450.6 1060.3,451.6 1061.6,449.5 1062.9,449.6 1064.2,450.9 1065.6,453.2 1066.9,455.8 1068.2,456.7 1069.6,458.4 1070.9,458.2 1072.2,456.9 1073.5,459.3 1074.9,462.9 1076.2,464.5 1077.5,467.7 1078.9,467 1080.2,468.5 1081.5,469 1082.8,473.6 1084.2,475.3 1085.5,476.9 1086.8,475.3 1088.2,473.8 1089.5,469.5 1090.8,466.8 1092.2,461.6 1093.5,464.3 1094.8,466.1 1096.1,469.6 1097.5,474.6 1098.8,479.5 1100.1,480.6 1101.5,484.3 1102.8,480.9 1104.1,480.7 1105.4,479.8 1106.8,478.4 1108.1,478.6" stroke-linejoin="round"/><rect x="1111.2" y="320.5" width="96.6" height="127.6" fill="#fff" stroke="#222" stroke-width="1.6"/><text x="1113.8" y="335.4" font-size="15.5" textLength="91" lengthAdjust="spacingAndGlyphs">Pseudotime</text><rect x="1124" y="356.5" width="7" height="7.2" fill="#ffff00"/><text x="1172.5" y="366.4" font-size="16.5" text-anchor="middle" textLength="42.6" lengthAdjust="spacingAndGlyphs">0 - 20</text><rect x="1124" y="376.62" width="7" height="7.2" fill="#f7b64a"/><text x="1172.5" y="386.5" font-size="16.5" text-anchor="middle" textLength="52.7" lengthAdjust="spacingAndGlyphs">20 - 40</text><rect x="1124" y="396.74" width="7" height="7.2" fill="#2eb8a0"/><text x="1172.5" y="406.6" font-size="16.5" text-anchor="middle" textLength="52.4" lengthAdjust="spacingAndGlyphs">40 - 60</text><rect x="1124" y="416.86" width="7" height="7.2" fill="#1060f0"/><text x="1172.5" y="426.8" font-size="16.5" text-anchor="middle" textLength="48.5" lengthAdjust="spacingAndGlyphs">60 -80</text><rect x="1124" y="436.98" width="7" height="7.2" fill="#332a8c"/><text x="1172.5" y="446.9" font-size="16.5" text-anchor="middle" textLength="61.3" lengthAdjust="spacingAndGlyphs">80 - 100</text><text x="775.8" y="200.4" font-size="22.3" text-anchor="middle" transform="rotate(-90 775.8 200.4)" dy="8">ATAC-seq</text><text x="775.8" y="460" font-size="22.3" text-anchor="middle" transform="rotate(-90 775.8 460)" dy="8">ATAC-seq</text><text x="983.2" y="594.5" font-size="22.5" text-anchor="middle" textLength="276.3" lengthAdjust="spacingAndGlyphs">Distance from motif centre</text><defs><filter id="bl1" x="-30%" y="-30%" width="160%" height="160%"><feGaussianBlur stdDeviation="1.1"/></filter><filter id="bl2" x="-20%" y="-20%" width="140%" height="140%"><feGaussianBlur stdDeviation="2.2"/></filter><filter id="bl3" x="-30%" y="-30%" width="160%" height="160%"><feGaussianBlur stdDeviation="5"/></filter><filter id="bl0"><feGaussianBlur stdDeviation="0.5"/></filter><filter id="spk" x="0" y="0" width="100%" height="100%" color-interpolation-filters="sRGB"><feTurbulence type="fractalNoise" baseFrequency="0.7" numOctaves="2" seed="7" result="n"/><feColorMatrix in="n" type="matrix" values="0 0 0 0 0.6  0 0 0 0 0.02  0 0 0 0 0.02  3.5 0 0 0 -1.85" result="r"/><feComposite in="r" in2="SourceAlpha" operator="in"/></filter></defs><rect x="1241" y="1.1" width="242.5" height="20.8" fill="#000"/><rect x="1241" y="26.2" width="242.5" height="241.2" fill="#000"/><svg x="1241" y="26.2" width="242.5" height="241.2" viewBox="0 0 242 241" preserveAspectRatio="none" overflow="hidden"><g filter="url(#bl1)"><ellipse cx="56" cy="46" rx="33" ry="56" transform="rotate(5 56 46)" fill="#0a1721"/><ellipse cx="125" cy="32" rx="31" ry="44" transform="rotate(-10 125 32)" fill="#0a1721"/><ellipse cx="192" cy="18" rx="40" ry="30" transform="rotate(0 192 18)" fill="#0a1721"/><ellipse cx="188" cy="91" rx="42" ry="44" transform="rotate(0 188 91)" fill="#0a1721"/><ellipse cx="130" cy="124" rx="38" ry="47" transform="rotate(-35 130 124)" fill="#0a1721"/><ellipse cx="68" cy="168" rx="66" ry="42" transform="rotate(32 68 168)" fill="#0a1721"/><ellipse cx="8" cy="85" rx="20" ry="40" transform="rotate(0 8 85)" fill="#0a1721"/><ellipse cx="206" cy="186" rx="36" ry="56" transform="rotate(-8 206 186)" fill="#0a1721"/><ellipse cx="135" cy="214" rx="26" ry="37" transform="rotate(10 135 214)" fill="#0a1721"/><ellipse cx="55" cy="236" rx="42" ry="24" transform="rotate(10 55 236)" fill="#0a1721"/><ellipse cx="238" cy="110" rx="10" ry="40" transform="rotate(0 238 110)" fill="#0a1721"/></g><path d="M27.4 102.4C32 104.2 45.4 109.1 54.8 113.3C64.3 117.6 76.6 123.4 84.1 128C91.6 132.5 97 138.6 99.6 140.8M146.2 43.9C147.3 48.1 152.5 60.6 152.6 69.5C152.8 78.3 148.8 90.2 147.2 96.9C145.5 103.6 143.3 107.5 142.6 109.7M157.2 160.9C159.3 163.9 168.8 171.8 170 179.1C171.2 186.5 166 196.5 164.5 204.7C163 213 161.5 224.5 160.9 228.5M7.3 197.4C15.2 198.9 40.8 202.9 54.8 206.6C68.9 210.2 83.5 213.6 91.4 219.4C99.3 225.1 100.5 237.6 102.4 241.3M160.9 126.1C163.3 128 171.2 135.9 175.5 137.1C179.8 138.3 184.6 134.1 186.5 133.4M210.2 47.5C212.7 49.7 220.3 55.4 224.8 60.3C229.4 65.2 235.5 74 237.6 76.8M3.7 117C5.8 117.6 12.2 120.6 16.5 120.6C20.7 120.6 27.1 117.6 29.2 117M91.4 182.8C93.2 185.8 99.6 194.1 102.4 201.1C105.1 208.1 106.9 220.9 107.9 224.8M219.4 113.3C220.6 115.8 222.7 124.9 226.7 128C230.6 131 240.4 131 243.1 131.6" fill="none" stroke="#249034" stroke-width="5" opacity="0.7" filter="url(#bl2)"/><path d="M27.4 102.4C32 104.2 45.4 109.1 54.8 113.3C64.3 117.6 76.6 123.4 84.1 128C91.6 132.5 97 138.6 99.6 140.8M146.2 43.9C147.3 48.1 152.5 60.6 152.6 69.5C152.8 78.3 148.8 90.2 147.2 96.9C145.5 103.6 143.3 107.5 142.6 109.7M157.2 160.9C159.3 163.9 168.8 171.8 170 179.1C171.2 186.5 166 196.5 164.5 204.7C163 213 161.5 224.5 160.9 228.5M7.3 197.4C15.2 198.9 40.8 202.9 54.8 206.6C68.9 210.2 83.5 213.6 91.4 219.4C99.3 225.1 100.5 237.6 102.4 241.3M160.9 126.1C163.3 128 171.2 135.9 175.5 137.1C179.8 138.3 184.6 134.1 186.5 133.4M210.2 47.5C212.7 49.7 220.3 55.4 224.8 60.3C229.4 65.2 235.5 74 237.6 76.8M3.7 117C5.8 117.6 12.2 120.6 16.5 120.6C20.7 120.6 27.1 117.6 29.2 117M91.4 182.8C93.2 185.8 99.6 194.1 102.4 201.1C105.1 208.1 106.9 220.9 107.9 224.8M219.4 113.3C220.6 115.8 222.7 124.9 226.7 128C230.6 131 240.4 131 243.1 131.6" fill="none" stroke="#34b848" stroke-width="1.3" opacity="0.8" filter="url(#bl0)"/><g fill="none" stroke="#1c7a2a" stroke-width="1.2" opacity="0.4" filter="url(#bl0)"><ellipse cx="56" cy="46" rx="34" ry="57" transform="rotate(5 56 46)" fill="none"/><ellipse cx="125" cy="32" rx="32" ry="45" transform="rotate(-10 125 32)" fill="none"/><ellipse cx="192" cy="18" rx="41" ry="31" transform="rotate(0 192 18)" fill="none"/><ellipse cx="188" cy="91" rx="43" ry="45" transform="rotate(0 188 91)" fill="none"/><ellipse cx="130" cy="124" rx="39" ry="48" transform="rotate(-35 130 124)" fill="none"/><ellipse cx="68" cy="168" rx="67" ry="43" transform="rotate(32 68 168)" fill="none"/><ellipse cx="8" cy="85" rx="21" ry="41" transform="rotate(0 8 85)" fill="none"/><ellipse cx="206" cy="186" rx="37" ry="57" transform="rotate(-8 206 186)" fill="none"/><ellipse cx="135" cy="214" rx="27" ry="38" transform="rotate(10 135 214)" fill="none"/><ellipse cx="55" cy="236" rx="43" ry="25" transform="rotate(10 55 236)" fill="none"/><ellipse cx="238" cy="110" rx="11" ry="41" transform="rotate(0 238 110)" fill="none"/></g><g filter="url(#bl2)" opacity="0.9"><ellipse cx="54.8" cy="113.3" rx="9.5" ry="5.2" transform="rotate(0 54.8 113.3)" fill="#2c9c40"/><ellipse cx="84.1" cy="128" rx="7.1" ry="4.3" transform="rotate(0 84.1 128)" fill="#2c9c40"/><ellipse cx="149.9" cy="65.8" rx="5.2" ry="3.3" transform="rotate(0 149.9 65.8)" fill="#2c9c40"/><ellipse cx="146.2" cy="91.4" rx="4.8" ry="3.8" transform="rotate(0 146.2 91.4)" fill="#2c9c40"/><ellipse cx="173.7" cy="135.3" rx="5.9" ry="3.8" transform="rotate(0 173.7 135.3)" fill="#2c9c40"/><ellipse cx="160.9" cy="175.5" rx="5.9" ry="4.8" transform="rotate(0 160.9 175.5)" fill="#2c9c40"/><ellipse cx="95.1" cy="224.8" rx="5.2" ry="7.1" transform="rotate(0 95.1 224.8)" fill="#2c9c40"/><ellipse cx="23.8" cy="202.9" rx="9.5" ry="2.9" transform="rotate(0 23.8 202.9)" fill="#2c9c40"/><ellipse cx="12.8" cy="120.6" rx="4.8" ry="3.3" transform="rotate(0 12.8 120.6)" fill="#2c9c40"/><ellipse cx="232.2" cy="73.1" rx="4.3" ry="3.3" transform="rotate(0 232.2 73.1)" fill="#2c9c40"/><ellipse cx="160.9" cy="219.4" rx="2.4" ry="7.1" transform="rotate(0 160.9 219.4)" fill="#2c9c40"/><ellipse cx="212" cy="54.8" rx="5.9" ry="4.8" transform="rotate(0 212 54.8)" fill="#2c9c40"/></g><g filter="url(#bl1)" stroke-width="1.1"><ellipse cx="14.6" cy="30.2" rx="7.27" ry="5.29" transform="rotate(165 14.6 30.2)" fill="#101a6e" stroke="#182496"/><ellipse cx="45.7" cy="32.9" rx="8.62" ry="7.85" transform="rotate(36 45.7 32.9)" fill="#101a6e" stroke="#182496"/><ellipse cx="67.6" cy="18.3" rx="7.67" ry="6.62" transform="rotate(106 67.6 18.3)" fill="#101a6e" stroke="#182496"/><ellipse cx="27.4" cy="19.2" rx="5.38" ry="4.36" transform="rotate(45 27.4 19.2)" fill="#101a6e" stroke="#182496"/><ellipse cx="17.4" cy="52.1" rx="6.46" ry="5.04" transform="rotate(109 17.4 52.1)" fill="#101a6e" stroke="#182496"/><ellipse cx="7.3" cy="61.2" rx="6.73" ry="5.21" transform="rotate(68 7.3 61.2)" fill="#101a6e" stroke="#182496"/><ellipse cx="16.5" cy="89.6" rx="7.54" ry="5.71" transform="rotate(31 16.5 89.6)" fill="#101a6e" stroke="#182496"/><ellipse cx="36.6" cy="131.6" rx="7.41" ry="5.47" transform="rotate(168 36.6 131.6)" fill="#101a6e" stroke="#182496"/><ellipse cx="58.5" cy="149.9" rx="9.03" ry="8.25" transform="rotate(88 58.5 149.9)" fill="#101a6e" stroke="#182496"/><ellipse cx="17.4" cy="148.1" rx="7" ry="4.83" transform="rotate(56 17.4 148.1)" fill="#101a6e" stroke="#182496"/><ellipse cx="31.1" cy="171.8" rx="7.54" ry="6.59" transform="rotate(178 31.1 171.8)" fill="#101a6e" stroke="#182496"/><ellipse cx="45.7" cy="191.9" rx="7.54" ry="5.29" transform="rotate(63 45.7 191.9)" fill="#101a6e" stroke="#182496"/><ellipse cx="64" cy="187.4" rx="7" ry="4.8" transform="rotate(38 64 187.4)" fill="#101a6e" stroke="#182496"/><ellipse cx="85.9" cy="204.7" rx="7.41" ry="6.44" transform="rotate(153 85.9 204.7)" fill="#101a6e" stroke="#182496"/><ellipse cx="95.1" cy="159" rx="7.27" ry="5.79" transform="rotate(5 95.1 159)" fill="#101a6e" stroke="#182496"/><ellipse cx="69.5" cy="94.1" rx="6.73" ry="6.03" transform="rotate(149 69.5 94.1)" fill="#101a6e" stroke="#182496"/><ellipse cx="37.5" cy="99.6" rx="6.46" ry="5.35" transform="rotate(145 37.5 99.6)" fill="#101ab4" stroke="#1824d2"/><ellipse cx="9.1" cy="120.6" rx="5.38" ry="3.83" transform="rotate(6 9.1 120.6)" fill="#101ab4" stroke="#1824d2"/><ellipse cx="54.8" cy="114.2" rx="6.33" ry="4.42" transform="rotate(31 54.8 114.2)" fill="#101ab4" stroke="#1824d2"/><ellipse cx="111.5" cy="43.9" rx="7.41" ry="5.46" transform="rotate(0 111.5 43.9)" fill="#101a6e" stroke="#182496"/><ellipse cx="133.4" cy="56.7" rx="7.41" ry="6.36" transform="rotate(146 133.4 56.7)" fill="#101a6e" stroke="#182496"/><ellipse cx="149.9" cy="65.8" rx="6.33" ry="4.98" transform="rotate(75 149.9 65.8)" fill="#101a6e" stroke="#182496"/><ellipse cx="144.4" cy="74.9" rx="5.92" ry="5.25" transform="rotate(129 144.4 74.9)" fill="#101ab4" stroke="#1824d2"/><ellipse cx="149.9" cy="29.2" rx="5.38" ry="3.92" transform="rotate(7 149.9 29.2)" fill="#101ab4" stroke="#1824d2"/><ellipse cx="114.2" cy="109.7" rx="7.81" ry="6.13" transform="rotate(151 114.2 109.7)" fill="#101a6e" stroke="#182496"/><ellipse cx="129.8" cy="104.2" rx="7" ry="5" transform="rotate(8 129.8 104.2)" fill="#101a6e" stroke="#182496"/><ellipse cx="129.8" cy="124.3" rx="6.46" ry="5.09" transform="rotate(9 129.8 124.3)" fill="#101a6e" stroke="#182496"/><ellipse cx="142.6" cy="135.3" rx="7.81" ry="5.4" transform="rotate(61 142.6 135.3)" fill="#101a6e" stroke="#182496"/><ellipse cx="120.6" cy="153.6" rx="7.41" ry="5.66" transform="rotate(135 120.6 153.6)" fill="#101a6e" stroke="#182496"/><ellipse cx="170" cy="69.5" rx="6.73" ry="5.07" transform="rotate(57 170 69.5)" fill="#101a6e" stroke="#182496"/><ellipse cx="197.4" cy="60.3" rx="6.73" ry="5.41" transform="rotate(70 197.4 60.3)" fill="#101a6e" stroke="#182496"/><ellipse cx="215.7" cy="80.4" rx="7.27" ry="5.3" transform="rotate(148 215.7 80.4)" fill="#101a6e" stroke="#182496"/><ellipse cx="206.6" cy="104.2" rx="6.73" ry="4.78" transform="rotate(3 206.6 104.2)" fill="#101a6e" stroke="#182496"/><ellipse cx="191.9" cy="118.8" rx="6.73" ry="5.47" transform="rotate(2 191.9 118.8)" fill="#101a6e" stroke="#182496"/><ellipse cx="162.7" cy="102.4" rx="6.73" ry="5.17" transform="rotate(134 162.7 102.4)" fill="#101a6e" stroke="#182496"/><ellipse cx="173.7" cy="113.3" rx="6.46" ry="4.56" transform="rotate(144 173.7 113.3)" fill="#101a6e" stroke="#182496"/><ellipse cx="235.8" cy="73.1" rx="7.27" ry="6.41" transform="rotate(149 235.8 73.1)" fill="#101ab4" stroke="#1824d2"/><ellipse cx="179.1" cy="137.1" rx="6.73" ry="5.41" transform="rotate(44 179.1 137.1)" fill="#101ab4" stroke="#1824d2"/><ellipse cx="201.1" cy="144.4" rx="7" ry="5.94" transform="rotate(53 201.1 144.4)" fill="#101a6e" stroke="#182496"/><ellipse cx="217.5" cy="170" rx="7.41" ry="5.99" transform="rotate(82 217.5 170)" fill="#101a6e" stroke="#182496"/><ellipse cx="182.8" cy="191.9" rx="6.73" ry="4.67" transform="rotate(96 182.8 191.9)" fill="#101a6e" stroke="#182496"/><ellipse cx="190.1" cy="208.4" rx="6.73" ry="5.77" transform="rotate(22 190.1 208.4)" fill="#101a6e" stroke="#182496"/><ellipse cx="197.4" cy="230.3" rx="7" ry="4.96" transform="rotate(23 197.4 230.3)" fill="#101a6e" stroke="#182496"/><ellipse cx="137.1" cy="197.4" rx="6.73" ry="5.1" transform="rotate(60 137.1 197.4)" fill="#101a6e" stroke="#182496"/><ellipse cx="146.2" cy="202.9" rx="6.19" ry="5.39" transform="rotate(147 146.2 202.9)" fill="#101a6e" stroke="#182496"/><ellipse cx="128" cy="213.9" rx="6.73" ry="5.97" transform="rotate(0 128 213.9)" fill="#101a6e" stroke="#182496"/><ellipse cx="166.3" cy="190.1" rx="5.92" ry="5.26" transform="rotate(12 166.3 190.1)" fill="#101ab4" stroke="#1824d2"/><ellipse cx="164.5" cy="228.5" rx="6.73" ry="5.07" transform="rotate(151 164.5 228.5)" fill="#101ab4" stroke="#1824d2"/><ellipse cx="142.6" cy="228.5" rx="6.19" ry="4.56" transform="rotate(95 142.6 228.5)" fill="#101a6e" stroke="#182496"/><ellipse cx="126.1" cy="232.2" rx="6.19" ry="5.37" transform="rotate(152 126.1 232.2)" fill="#101a6e" stroke="#182496"/><ellipse cx="60.3" cy="230.3" rx="6.73" ry="4.78" transform="rotate(136 60.3 230.3)" fill="#101a6e" stroke="#182496"/><ellipse cx="78.6" cy="237.6" rx="6.73" ry="6.08" transform="rotate(158 78.6 237.6)" fill="#101a6e" stroke="#182496"/><ellipse cx="23.8" cy="204.7" rx="6.19" ry="5.09" transform="rotate(170 23.8 204.7)" fill="#101a6e" stroke="#182496"/><ellipse cx="239.5" cy="206.6" rx="5.92" ry="3.95" transform="rotate(118 239.5 206.6)" fill="#101a6e" stroke="#182496"/><ellipse cx="241.3" cy="135.3" rx="5.38" ry="4.73" transform="rotate(101 241.3 135.3)" fill="#101ab4" stroke="#1824d2"/><ellipse cx="212" cy="131.6" rx="5.11" ry="4.59" transform="rotate(14 212 131.6)" fill="#101ab4" stroke="#1824d2"/><ellipse cx="164.5" cy="25.6" rx="5.92" ry="4.82" transform="rotate(117 164.5 25.6)" fill="#101a6e" stroke="#182496"/><ellipse cx="184.6" cy="25.6" rx="6.19" ry="4.55" transform="rotate(28 184.6 25.6)" fill="#101a6e" stroke="#182496"/><ellipse cx="226.7" cy="226.7" rx="5.65" ry="5.19" transform="rotate(166 226.7 226.7)" fill="#101a6e" stroke="#182496"/><ellipse cx="99.6" cy="181" rx="5.92" ry="4.8" transform="rotate(68 99.6 181)" fill="#101a6e" stroke="#182496"/><ellipse cx="210.2" cy="182.8" rx="6.19" ry="4.33" transform="rotate(45 210.2 182.8)" fill="#101a6e" stroke="#182496"/></g><line x1="138.9" y1="48.4" x2="151.5" y2="67.6" stroke="#fff" stroke-width="1.5"/><path d="M154.5 72.2L148.2 68.5L153.6 65Z" fill="#fff"/><line x1="134.4" y1="75.9" x2="145.8" y2="92.4" stroke="#fff" stroke-width="1.5"/><path d="M149 96.9L142.6 93.4L147.9 89.7Z" fill="#fff"/><line x1="222.1" y1="52.1" x2="229.2" y2="63" stroke="#fff" stroke-width="1.5"/><path d="M232.2 67.6L225.9 63.9L231.3 60.4Z" fill="#fff"/><line x1="66.7" y1="97.8" x2="59.5" y2="109.6" stroke="#fff" stroke-width="1.5"/><path d="M56.7 114.2L57.3 107L62.8 110.4Z" fill="#fff"/><line x1="95.1" y1="110.6" x2="88.7" y2="121.4" stroke="#fff" stroke-width="1.5"/><path d="M85.9 126.1L86.5 118.9L92 122.2Z" fill="#fff"/><line x1="13.7" y1="134.4" x2="11.6" y2="126.9" stroke="#fff" stroke-width="1.5"/><path d="M10.1 121.6L14.9 126.9L8.8 128.7Z" fill="#fff"/><line x1="142.6" y1="161.8" x2="150.5" y2="173.7" stroke="#fff" stroke-width="1.5"/><path d="M153.6 178.2L147.3 174.6L152.6 171Z" fill="#fff"/><line x1="152.6" y1="161.8" x2="160.6" y2="173.7" stroke="#fff" stroke-width="1.5"/><path d="M163.6 178.2L157.3 174.6L162.7 171Z" fill="#fff"/><line x1="38.4" y1="188.3" x2="31.3" y2="199.2" stroke="#fff" stroke-width="1.5"/><path d="M28.3 203.8L29.2 196.6L34.6 200.1Z" fill="#fff"/><line x1="105.1" y1="213.9" x2="98.8" y2="224.7" stroke="#fff" stroke-width="1.5"/><path d="M96 229.4L96.5 222.2L102 225.4Z" fill="#fff"/><rect x="188" y="235.5" width="42" height="3.2" fill="#fff"/></svg><rect x="1488.5" y="1.1" width="242" height="20.8" fill="#000"/><rect x="1488.5" y="26.2" width="242" height="241.2" fill="#000"/><svg x="1488.5" y="26.2" width="242" height="241.2" viewBox="0 0 242 241" preserveAspectRatio="none" overflow="hidden"><g filter="url(#bl1)"><ellipse cx="56" cy="46" rx="33" ry="56" transform="rotate(5 56 46)" fill="#140202"/><ellipse cx="125" cy="32" rx="31" ry="44" transform="rotate(-10 125 32)" fill="#140202"/><ellipse cx="192" cy="18" rx="40" ry="30" transform="rotate(0 192 18)" fill="#140202"/><ellipse cx="188" cy="91" rx="42" ry="44" transform="rotate(0 188 91)" fill="#140202"/><ellipse cx="130" cy="124" rx="38" ry="47" transform="rotate(-35 130 124)" fill="#140202"/><ellipse cx="68" cy="168" rx="66" ry="42" transform="rotate(32 68 168)" fill="#140202"/><ellipse cx="8" cy="85" rx="20" ry="40" transform="rotate(0 8 85)" fill="#140202"/><ellipse cx="206" cy="186" rx="36" ry="56" transform="rotate(-8 206 186)" fill="#140202"/><ellipse cx="135" cy="214" rx="26" ry="37" transform="rotate(10 135 214)" fill="#140202"/><ellipse cx="55" cy="236" rx="42" ry="24" transform="rotate(10 55 236)" fill="#140202"/><ellipse cx="238" cy="110" rx="10" ry="40" transform="rotate(0 238 110)" fill="#140202"/></g><g filter="url(#spk)" opacity="0.7"><ellipse cx="56" cy="46" rx="31" ry="54" transform="rotate(5 56 46)" fill="#000"/><ellipse cx="125" cy="32" rx="29" ry="42" transform="rotate(-10 125 32)" fill="#000"/><ellipse cx="192" cy="18" rx="38" ry="28" transform="rotate(0 192 18)" fill="#000"/><ellipse cx="188" cy="91" rx="40" ry="42" transform="rotate(0 188 91)" fill="#000"/><ellipse cx="130" cy="124" rx="36" ry="45" transform="rotate(-35 130 124)" fill="#000"/><ellipse cx="68" cy="168" rx="64" ry="40" transform="rotate(32 68 168)" fill="#000"/><ellipse cx="8" cy="85" rx="18" ry="38" transform="rotate(0 8 85)" fill="#000"/><ellipse cx="206" cy="186" rx="34" ry="54" transform="rotate(-8 206 186)" fill="#000"/><ellipse cx="135" cy="214" rx="24" ry="35" transform="rotate(10 135 214)" fill="#000"/><ellipse cx="55" cy="236" rx="40" ry="22" transform="rotate(10 55 236)" fill="#000"/><ellipse cx="238" cy="110" rx="8" ry="38" transform="rotate(0 238 110)" fill="#000"/></g><g filter="url(#bl1)" stroke-width="1.1"><ellipse cx="14.6" cy="30.2" rx="7.27" ry="5.29" transform="rotate(165 14.6 30.2)" fill="#5a0404" stroke="#780606"/><ellipse cx="45.7" cy="32.9" rx="8.62" ry="7.85" transform="rotate(36 45.7 32.9)" fill="#8c0404" stroke="#b80606"/><ellipse cx="67.6" cy="18.3" rx="7.67" ry="6.62" transform="rotate(106 67.6 18.3)" fill="#920404" stroke="#c00606"/><ellipse cx="27.4" cy="19.2" rx="5.38" ry="4.36" transform="rotate(45 27.4 19.2)" fill="#350404" stroke="#480606"/><ellipse cx="17.4" cy="52.1" rx="6.46" ry="5.04" transform="rotate(109 17.4 52.1)" fill="#4e0404" stroke="#680606"/><ellipse cx="7.3" cy="61.2" rx="6.73" ry="5.21" transform="rotate(68 7.3 61.2)" fill="#5a0404" stroke="#780606"/><ellipse cx="16.5" cy="89.6" rx="7.54" ry="5.71" transform="rotate(31 16.5 89.6)" fill="#8c0404" stroke="#b80606"/><ellipse cx="36.6" cy="131.6" rx="7.41" ry="5.47" transform="rotate(168 36.6 131.6)" fill="#730404" stroke="#980606"/><ellipse cx="58.5" cy="149.9" rx="9.03" ry="8.25" transform="rotate(88 58.5 149.9)" fill="#920404" stroke="#c00606"/><ellipse cx="17.4" cy="148.1" rx="7" ry="4.83" transform="rotate(56 17.4 148.1)" fill="#4e0404" stroke="#680606"/><ellipse cx="31.1" cy="171.8" rx="7.54" ry="6.59" transform="rotate(178 31.1 171.8)" fill="#730404" stroke="#980606"/><ellipse cx="45.7" cy="191.9" rx="7.54" ry="5.29" transform="rotate(63 45.7 191.9)" fill="#730404" stroke="#980606"/><ellipse cx="64" cy="187.4" rx="7" ry="4.8" transform="rotate(38 64 187.4)" fill="#5a0404" stroke="#780606"/><ellipse cx="85.9" cy="204.7" rx="7.41" ry="6.44" transform="rotate(153 85.9 204.7)" fill="#790404" stroke="#a00606"/><ellipse cx="95.1" cy="159" rx="7.27" ry="5.79" transform="rotate(5 95.1 159)" fill="#670404" stroke="#880606"/><ellipse cx="69.5" cy="94.1" rx="6.73" ry="6.03" transform="rotate(149 69.5 94.1)" fill="#4e0404" stroke="#680606"/><ellipse cx="37.5" cy="99.6" rx="6.46" ry="5.35" transform="rotate(145 37.5 99.6)" fill="#240303" stroke="#380606"/><ellipse cx="9.1" cy="120.6" rx="5.38" ry="3.83" transform="rotate(6 9.1 120.6)" fill="#2e0404" stroke="#400606"/><ellipse cx="54.8" cy="114.2" rx="6.33" ry="4.42" transform="rotate(31 54.8 114.2)" fill="#240303" stroke="#380606"/><ellipse cx="111.5" cy="43.9" rx="7.41" ry="5.46" transform="rotate(0 111.5 43.9)" fill="#800404" stroke="#a80606"/><ellipse cx="133.4" cy="56.7" rx="7.41" ry="6.36" transform="rotate(146 133.4 56.7)" fill="#730404" stroke="#980606"/><ellipse cx="149.9" cy="65.8" rx="6.33" ry="4.98" transform="rotate(75 149.9 65.8)" fill="#350404" stroke="#480606"/><ellipse cx="144.4" cy="74.9" rx="5.92" ry="5.25" transform="rotate(129 144.4 74.9)" fill="#2e0404" stroke="#400606"/><ellipse cx="149.9" cy="29.2" rx="5.38" ry="3.92" transform="rotate(7 149.9 29.2)" fill="#240303" stroke="#380606"/><ellipse cx="114.2" cy="109.7" rx="7.81" ry="6.13" transform="rotate(151 114.2 109.7)" fill="#920404" stroke="#c00606"/><ellipse cx="129.8" cy="104.2" rx="7" ry="5" transform="rotate(8 129.8 104.2)" fill="#860404" stroke="#b00606"/><ellipse cx="129.8" cy="124.3" rx="6.46" ry="5.09" transform="rotate(9 129.8 124.3)" fill="#5a0404" stroke="#780606"/><ellipse cx="142.6" cy="135.3" rx="7.81" ry="5.4" transform="rotate(61 142.6 135.3)" fill="#8c0404" stroke="#b80606"/><ellipse cx="120.6" cy="153.6" rx="7.41" ry="5.66" transform="rotate(135 120.6 153.6)" fill="#860404" stroke="#b00606"/><ellipse cx="170" cy="69.5" rx="6.73" ry="5.07" transform="rotate(57 170 69.5)" fill="#4e0404" stroke="#680606"/><ellipse cx="197.4" cy="60.3" rx="6.73" ry="5.41" transform="rotate(70 197.4 60.3)" fill="#790404" stroke="#a00606"/><ellipse cx="215.7" cy="80.4" rx="7.27" ry="5.3" transform="rotate(148 215.7 80.4)" fill="#670404" stroke="#880606"/><ellipse cx="206.6" cy="104.2" rx="6.73" ry="4.78" transform="rotate(3 206.6 104.2)" fill="#6d0404" stroke="#900606"/><ellipse cx="191.9" cy="118.8" rx="6.73" ry="5.47" transform="rotate(2 191.9 118.8)" fill="#5a0404" stroke="#780606"/><ellipse cx="162.7" cy="102.4" rx="6.73" ry="5.17" transform="rotate(134 162.7 102.4)" fill="#470404" stroke="#600606"/><ellipse cx="173.7" cy="113.3" rx="6.46" ry="4.56" transform="rotate(144 173.7 113.3)" fill="#470404" stroke="#600606"/><ellipse cx="235.8" cy="73.1" rx="7.27" ry="6.41" transform="rotate(149 235.8 73.1)" fill="#240303" stroke="#380606"/><ellipse cx="179.1" cy="137.1" rx="6.73" ry="5.41" transform="rotate(44 179.1 137.1)" fill="#2e0404" stroke="#400606"/><ellipse cx="201.1" cy="144.4" rx="7" ry="5.94" transform="rotate(53 201.1 144.4)" fill="#800404" stroke="#a80606"/><ellipse cx="217.5" cy="170" rx="7.41" ry="5.99" transform="rotate(82 217.5 170)" fill="#860404" stroke="#b00606"/><ellipse cx="182.8" cy="191.9" rx="6.73" ry="4.67" transform="rotate(96 182.8 191.9)" fill="#5a0404" stroke="#780606"/><ellipse cx="190.1" cy="208.4" rx="6.73" ry="5.77" transform="rotate(22 190.1 208.4)" fill="#670404" stroke="#880606"/><ellipse cx="197.4" cy="230.3" rx="7" ry="4.96" transform="rotate(23 197.4 230.3)" fill="#8c0404" stroke="#b80606"/><ellipse cx="137.1" cy="197.4" rx="6.73" ry="5.1" transform="rotate(60 137.1 197.4)" fill="#410404" stroke="#580606"/><ellipse cx="146.2" cy="202.9" rx="6.19" ry="5.39" transform="rotate(147 146.2 202.9)" fill="#410404" stroke="#580606"/><ellipse cx="128" cy="213.9" rx="6.73" ry="5.97" transform="rotate(0 128 213.9)" fill="#410404" stroke="#580606"/><ellipse cx="166.3" cy="190.1" rx="5.92" ry="5.26" transform="rotate(12 166.3 190.1)" fill="#240303" stroke="#380606"/><ellipse cx="164.5" cy="228.5" rx="6.73" ry="5.07" transform="rotate(151 164.5 228.5)" fill="#2e0404" stroke="#400606"/><ellipse cx="142.6" cy="228.5" rx="6.19" ry="4.56" transform="rotate(95 142.6 228.5)" fill="#410404" stroke="#580606"/><ellipse cx="126.1" cy="232.2" rx="6.19" ry="5.37" transform="rotate(152 126.1 232.2)" fill="#410404" stroke="#580606"/><ellipse cx="60.3" cy="230.3" rx="6.73" ry="4.78" transform="rotate(136 60.3 230.3)" fill="#670404" stroke="#880606"/><ellipse cx="78.6" cy="237.6" rx="6.73" ry="6.08" transform="rotate(158 78.6 237.6)" fill="#800404" stroke="#a80606"/><ellipse cx="23.8" cy="204.7" rx="6.19" ry="5.09" transform="rotate(170 23.8 204.7)" fill="#350404" stroke="#480606"/><ellipse cx="239.5" cy="206.6" rx="5.92" ry="3.95" transform="rotate(118 239.5 206.6)" fill="#350404" stroke="#480606"/><ellipse cx="241.3" cy="135.3" rx="5.38" ry="4.73" transform="rotate(101 241.3 135.3)" fill="#2e0404" stroke="#400606"/><ellipse cx="212" cy="131.6" rx="5.11" ry="4.59" transform="rotate(14 212 131.6)" fill="#240303" stroke="#380606"/><ellipse cx="164.5" cy="25.6" rx="5.92" ry="4.82" transform="rotate(117 164.5 25.6)" fill="#410404" stroke="#580606"/><ellipse cx="184.6" cy="25.6" rx="6.19" ry="4.55" transform="rotate(28 184.6 25.6)" fill="#670404" stroke="#880606"/><ellipse cx="226.7" cy="226.7" rx="5.65" ry="5.19" transform="rotate(166 226.7 226.7)" fill="#410404" stroke="#580606"/><ellipse cx="99.6" cy="181" rx="5.92" ry="4.8" transform="rotate(68 99.6 181)" fill="#5a0404" stroke="#780606"/><ellipse cx="210.2" cy="182.8" rx="6.19" ry="4.33" transform="rotate(45 210.2 182.8)" fill="#5a0404" stroke="#780606"/></g><line x1="138.9" y1="48.4" x2="151.5" y2="67.6" stroke="#fff" stroke-width="1.5"/><path d="M154.5 72.2L148.2 68.5L153.6 65Z" fill="#fff"/><line x1="134.4" y1="75.9" x2="145.8" y2="92.4" stroke="#fff" stroke-width="1.5"/><path d="M149 96.9L142.6 93.4L147.9 89.7Z" fill="#fff"/><line x1="222.1" y1="52.1" x2="229.2" y2="63" stroke="#fff" stroke-width="1.5"/><path d="M232.2 67.6L225.9 63.9L231.3 60.4Z" fill="#fff"/><line x1="66.7" y1="97.8" x2="59.5" y2="109.6" stroke="#fff" stroke-width="1.5"/><path d="M56.7 114.2L57.3 107L62.8 110.4Z" fill="#fff"/><line x1="95.1" y1="110.6" x2="88.7" y2="121.4" stroke="#fff" stroke-width="1.5"/><path d="M85.9 126.1L86.5 118.9L92 122.2Z" fill="#fff"/><line x1="13.7" y1="134.4" x2="11.6" y2="126.9" stroke="#fff" stroke-width="1.5"/><path d="M10.1 121.6L14.9 126.9L8.8 128.7Z" fill="#fff"/><line x1="142.6" y1="161.8" x2="150.5" y2="173.7" stroke="#fff" stroke-width="1.5"/><path d="M153.6 178.2L147.3 174.6L152.6 171Z" fill="#fff"/><line x1="152.6" y1="161.8" x2="160.6" y2="173.7" stroke="#fff" stroke-width="1.5"/><path d="M163.6 178.2L157.3 174.6L162.7 171Z" fill="#fff"/><line x1="38.4" y1="188.3" x2="31.3" y2="199.2" stroke="#fff" stroke-width="1.5"/><path d="M28.3 203.8L29.2 196.6L34.6 200.1Z" fill="#fff"/><line x1="105.1" y1="213.9" x2="98.8" y2="224.7" stroke="#fff" stroke-width="1.5"/><path d="M96 229.4L96.5 222.2L102 225.4Z" fill="#fff"/><rect x="188" y="235.5" width="42" height="3.2" fill="#fff"/></svg><rect x="1737.3" y="1.1" width="241.2" height="20.8" fill="#000"/><rect x="1737.3" y="26.2" width="241.2" height="241.2" fill="#000"/><svg x="1737.3" y="26.2" width="241.2" height="241.2" viewBox="0 0 242 241" preserveAspectRatio="none" overflow="hidden"><g filter="url(#bl1)"><ellipse cx="56" cy="46" rx="33" ry="56" transform="rotate(5 56 46)" fill="#160406"/><ellipse cx="125" cy="32" rx="31" ry="44" transform="rotate(-10 125 32)" fill="#160406"/><ellipse cx="192" cy="18" rx="40" ry="30" transform="rotate(0 192 18)" fill="#160406"/><ellipse cx="188" cy="91" rx="42" ry="44" transform="rotate(0 188 91)" fill="#160406"/><ellipse cx="130" cy="124" rx="38" ry="47" transform="rotate(-35 130 124)" fill="#160406"/><ellipse cx="68" cy="168" rx="66" ry="42" transform="rotate(32 68 168)" fill="#160406"/><ellipse cx="8" cy="85" rx="20" ry="40" transform="rotate(0 8 85)" fill="#160406"/><ellipse cx="206" cy="186" rx="36" ry="56" transform="rotate(-8 206 186)" fill="#160406"/><ellipse cx="135" cy="214" rx="26" ry="37" transform="rotate(10 135 214)" fill="#160406"/><ellipse cx="55" cy="236" rx="42" ry="24" transform="rotate(10 55 236)" fill="#160406"/><ellipse cx="238" cy="110" rx="10" ry="40" transform="rotate(0 238 110)" fill="#160406"/></g><g filter="url(#spk)" opacity="0.6"><ellipse cx="56" cy="46" rx="31" ry="54" transform="rotate(5 56 46)" fill="#000"/><ellipse cx="125" cy="32" rx="29" ry="42" transform="rotate(-10 125 32)" fill="#000"/><ellipse cx="192" cy="18" rx="38" ry="28" transform="rotate(0 192 18)" fill="#000"/><ellipse cx="188" cy="91" rx="40" ry="42" transform="rotate(0 188 91)" fill="#000"/><ellipse cx="130" cy="124" rx="36" ry="45" transform="rotate(-35 130 124)" fill="#000"/><ellipse cx="68" cy="168" rx="64" ry="40" transform="rotate(32 68 168)" fill="#000"/><ellipse cx="8" cy="85" rx="18" ry="38" transform="rotate(0 8 85)" fill="#000"/><ellipse cx="206" cy="186" rx="34" ry="54" transform="rotate(-8 206 186)" fill="#000"/><ellipse cx="135" cy="214" rx="24" ry="35" transform="rotate(10 135 214)" fill="#000"/><ellipse cx="55" cy="236" rx="40" ry="22" transform="rotate(10 55 236)" fill="#000"/><ellipse cx="238" cy="110" rx="8" ry="38" transform="rotate(0 238 110)" fill="#000"/></g><path d="M27.4 102.4C32 104.2 45.4 109.1 54.8 113.3C64.3 117.6 76.6 123.4 84.1 128C91.6 132.5 97 138.6 99.6 140.8M146.2 43.9C147.3 48.1 152.5 60.6 152.6 69.5C152.8 78.3 148.8 90.2 147.2 96.9C145.5 103.6 143.3 107.5 142.6 109.7M157.2 160.9C159.3 163.9 168.8 171.8 170 179.1C171.2 186.5 166 196.5 164.5 204.7C163 213 161.5 224.5 160.9 228.5M7.3 197.4C15.2 198.9 40.8 202.9 54.8 206.6C68.9 210.2 83.5 213.6 91.4 219.4C99.3 225.1 100.5 237.6 102.4 241.3M160.9 126.1C163.3 128 171.2 135.9 175.5 137.1C179.8 138.3 184.6 134.1 186.5 133.4M210.2 47.5C212.7 49.7 220.3 55.4 224.8 60.3C229.4 65.2 235.5 74 237.6 76.8M3.7 117C5.8 117.6 12.2 120.6 16.5 120.6C20.7 120.6 27.1 117.6 29.2 117M91.4 182.8C93.2 185.8 99.6 194.1 102.4 201.1C105.1 208.1 106.9 220.9 107.9 224.8M219.4 113.3C220.6 115.8 222.7 124.9 226.7 128C230.6 131 240.4 131 243.1 131.6" fill="none" stroke="#249034" stroke-width="5" opacity="0.7" filter="url(#bl2)"/><path d="M27.4 102.4C32 104.2 45.4 109.1 54.8 113.3C64.3 117.6 76.6 123.4 84.1 128C91.6 132.5 97 138.6 99.6 140.8M146.2 43.9C147.3 48.1 152.5 60.6 152.6 69.5C152.8 78.3 148.8 90.2 147.2 96.9C145.5 103.6 143.3 107.5 142.6 109.7M157.2 160.9C159.3 163.9 168.8 171.8 170 179.1C171.2 186.5 166 196.5 164.5 204.7C163 213 161.5 224.5 160.9 228.5M7.3 197.4C15.2 198.9 40.8 202.9 54.8 206.6C68.9 210.2 83.5 213.6 91.4 219.4C99.3 225.1 100.5 237.6 102.4 241.3M160.9 126.1C163.3 128 171.2 135.9 175.5 137.1C179.8 138.3 184.6 134.1 186.5 133.4M210.2 47.5C212.7 49.7 220.3 55.4 224.8 60.3C229.4 65.2 235.5 74 237.6 76.8M3.7 117C5.8 117.6 12.2 120.6 16.5 120.6C20.7 120.6 27.1 117.6 29.2 117M91.4 182.8C93.2 185.8 99.6 194.1 102.4 201.1C105.1 208.1 106.9 220.9 107.9 224.8M219.4 113.3C220.6 115.8 222.7 124.9 226.7 128C230.6 131 240.4 131 243.1 131.6" fill="none" stroke="#34b848" stroke-width="1.3" opacity="0.8" filter="url(#bl0)"/><g fill="none" stroke="#1c7a2a" stroke-width="1.2" opacity="0.4" filter="url(#bl0)"><ellipse cx="56" cy="46" rx="34" ry="57" transform="rotate(5 56 46)" fill="none"/><ellipse cx="125" cy="32" rx="32" ry="45" transform="rotate(-10 125 32)" fill="none"/><ellipse cx="192" cy="18" rx="41" ry="31" transform="rotate(0 192 18)" fill="none"/><ellipse cx="188" cy="91" rx="43" ry="45" transform="rotate(0 188 91)" fill="none"/><ellipse cx="130" cy="124" rx="39" ry="48" transform="rotate(-35 130 124)" fill="none"/><ellipse cx="68" cy="168" rx="67" ry="43" transform="rotate(32 68 168)" fill="none"/><ellipse cx="8" cy="85" rx="21" ry="41" transform="rotate(0 8 85)" fill="none"/><ellipse cx="206" cy="186" rx="37" ry="57" transform="rotate(-8 206 186)" fill="none"/><ellipse cx="135" cy="214" rx="27" ry="38" transform="rotate(10 135 214)" fill="none"/><ellipse cx="55" cy="236" rx="43" ry="25" transform="rotate(10 55 236)" fill="none"/><ellipse cx="238" cy="110" rx="11" ry="41" transform="rotate(0 238 110)" fill="none"/></g><g filter="url(#bl2)" opacity="0.9"><ellipse cx="54.8" cy="113.3" rx="9.5" ry="5.2" transform="rotate(0 54.8 113.3)" fill="#2c9c40"/><ellipse cx="84.1" cy="128" rx="7.1" ry="4.3" transform="rotate(0 84.1 128)" fill="#2c9c40"/><ellipse cx="149.9" cy="65.8" rx="5.2" ry="3.3" transform="rotate(0 149.9 65.8)" fill="#2c9c40"/><ellipse cx="146.2" cy="91.4" rx="4.8" ry="3.8" transform="rotate(0 146.2 91.4)" fill="#2c9c40"/><ellipse cx="173.7" cy="135.3" rx="5.9" ry="3.8" transform="rotate(0 173.7 135.3)" fill="#2c9c40"/><ellipse cx="160.9" cy="175.5" rx="5.9" ry="4.8" transform="rotate(0 160.9 175.5)" fill="#2c9c40"/><ellipse cx="95.1" cy="224.8" rx="5.2" ry="7.1" transform="rotate(0 95.1 224.8)" fill="#2c9c40"/><ellipse cx="23.8" cy="202.9" rx="9.5" ry="2.9" transform="rotate(0 23.8 202.9)" fill="#2c9c40"/><ellipse cx="12.8" cy="120.6" rx="4.8" ry="3.3" transform="rotate(0 12.8 120.6)" fill="#2c9c40"/><ellipse cx="232.2" cy="73.1" rx="4.3" ry="3.3" transform="rotate(0 232.2 73.1)" fill="#2c9c40"/><ellipse cx="160.9" cy="219.4" rx="2.4" ry="7.1" transform="rotate(0 160.9 219.4)" fill="#2c9c40"/><ellipse cx="212" cy="54.8" rx="5.9" ry="4.8" transform="rotate(0 212 54.8)" fill="#2c9c40"/></g><g filter="url(#bl1)" stroke-width="1.1"><ellipse cx="14.6" cy="30.2" rx="7.27" ry="5.29" transform="rotate(165 14.6 30.2)" fill="#640846" stroke="#7d0c64"/><ellipse cx="45.7" cy="32.9" rx="8.62" ry="7.85" transform="rotate(36 45.7 32.9)" fill="#a0083a" stroke="#c50c54"/><ellipse cx="67.6" cy="18.3" rx="7.67" ry="6.62" transform="rotate(106 67.6 18.3)" fill="#a70838" stroke="#ce0c52"/><ellipse cx="27.4" cy="19.2" rx="5.38" ry="4.36" transform="rotate(45 27.4 19.2)" fill="#37084f" stroke="#470c70"/><ellipse cx="17.4" cy="52.1" rx="6.46" ry="5.04" transform="rotate(109 17.4 52.1)" fill="#550849" stroke="#6b0c68"/><ellipse cx="7.3" cy="61.2" rx="6.73" ry="5.21" transform="rotate(68 7.3 61.2)" fill="#640846" stroke="#7d0c64"/><ellipse cx="16.5" cy="89.6" rx="7.54" ry="5.71" transform="rotate(31 16.5 89.6)" fill="#a0083a" stroke="#c50c54"/><ellipse cx="36.6" cy="131.6" rx="7.41" ry="5.47" transform="rotate(168 36.6 131.6)" fill="#820840" stroke="#a10c5c"/><ellipse cx="58.5" cy="149.9" rx="9.03" ry="8.25" transform="rotate(88 58.5 149.9)" fill="#a70838" stroke="#ce0c52"/><ellipse cx="17.4" cy="148.1" rx="7" ry="4.83" transform="rotate(56 17.4 148.1)" fill="#550849" stroke="#6b0c68"/><ellipse cx="31.1" cy="171.8" rx="7.54" ry="6.59" transform="rotate(178 31.1 171.8)" fill="#820840" stroke="#a10c5c"/><ellipse cx="45.7" cy="191.9" rx="7.54" ry="5.29" transform="rotate(63 45.7 191.9)" fill="#820840" stroke="#a10c5c"/><ellipse cx="64" cy="187.4" rx="7" ry="4.8" transform="rotate(38 64 187.4)" fill="#640846" stroke="#7d0c64"/><ellipse cx="85.9" cy="204.7" rx="7.41" ry="6.44" transform="rotate(153 85.9 204.7)" fill="#89083e" stroke="#aa0c5a"/><ellipse cx="95.1" cy="159" rx="7.27" ry="5.79" transform="rotate(5 95.1 159)" fill="#730843" stroke="#8f0c60"/><ellipse cx="69.5" cy="94.1" rx="6.73" ry="6.03" transform="rotate(149 69.5 94.1)" fill="#550849" stroke="#6b0c68"/><ellipse cx="37.5" cy="99.6" rx="6.46" ry="5.35" transform="rotate(145 37.5 99.6)" fill="#280852" stroke="#350c74"/><ellipse cx="9.1" cy="120.6" rx="5.38" ry="3.83" transform="rotate(6 9.1 120.6)" fill="#2f0850" stroke="#3e0c72"/><ellipse cx="54.8" cy="114.2" rx="6.33" ry="4.42" transform="rotate(31 54.8 114.2)" fill="#280852" stroke="#350c74"/><ellipse cx="111.5" cy="43.9" rx="7.41" ry="5.46" transform="rotate(0 111.5 43.9)" fill="#91083d" stroke="#b30c58"/><ellipse cx="133.4" cy="56.7" rx="7.41" ry="6.36" transform="rotate(146 133.4 56.7)" fill="#820840" stroke="#a10c5c"/><ellipse cx="149.9" cy="65.8" rx="6.33" ry="4.98" transform="rotate(75 149.9 65.8)" fill="#37084f" stroke="#470c70"/><ellipse cx="144.4" cy="74.9" rx="5.92" ry="5.25" transform="rotate(129 144.4 74.9)" fill="#2f0850" stroke="#3e0c72"/><ellipse cx="149.9" cy="29.2" rx="5.38" ry="3.92" transform="rotate(7 149.9 29.2)" fill="#280852" stroke="#350c74"/><ellipse cx="114.2" cy="109.7" rx="7.81" ry="6.13" transform="rotate(151 114.2 109.7)" fill="#a70838" stroke="#ce0c52"/><ellipse cx="129.8" cy="104.2" rx="7" ry="5" transform="rotate(8 129.8 104.2)" fill="#98083b" stroke="#bc0c56"/><ellipse cx="129.8" cy="124.3" rx="6.46" ry="5.09" transform="rotate(9 129.8 124.3)" fill="#640846" stroke="#7d0c64"/><ellipse cx="142.6" cy="135.3" rx="7.81" ry="5.4" transform="rotate(61 142.6 135.3)" fill="#a0083a" stroke="#c50c54"/><ellipse cx="120.6" cy="153.6" rx="7.41" ry="5.66" transform="rotate(135 120.6 153.6)" fill="#98083b" stroke="#bc0c56"/><ellipse cx="170" cy="69.5" rx="6.73" ry="5.07" transform="rotate(57 170 69.5)" fill="#550849" stroke="#6b0c68"/><ellipse cx="197.4" cy="60.3" rx="6.73" ry="5.41" transform="rotate(70 197.4 60.3)" fill="#89083e" stroke="#aa0c5a"/><ellipse cx="215.7" cy="80.4" rx="7.27" ry="5.3" transform="rotate(148 215.7 80.4)" fill="#730843" stroke="#8f0c60"/><ellipse cx="206.6" cy="104.2" rx="6.73" ry="4.78" transform="rotate(3 206.6 104.2)" fill="#7a0841" stroke="#980c5e"/><ellipse cx="191.9" cy="118.8" rx="6.73" ry="5.47" transform="rotate(2 191.9 118.8)" fill="#640846" stroke="#7d0c64"/><ellipse cx="162.7" cy="102.4" rx="6.73" ry="5.17" transform="rotate(134 162.7 102.4)" fill="#4d084a" stroke="#620c6a"/><ellipse cx="173.7" cy="113.3" rx="6.46" ry="4.56" transform="rotate(144 173.7 113.3)" fill="#4d084a" stroke="#620c6a"/><ellipse cx="235.8" cy="73.1" rx="7.27" ry="6.41" transform="rotate(149 235.8 73.1)" fill="#280852" stroke="#350c74"/><ellipse cx="179.1" cy="137.1" rx="6.73" ry="5.41" transform="rotate(44 179.1 137.1)" fill="#2f0850" stroke="#3e0c72"/><ellipse cx="201.1" cy="144.4" rx="7" ry="5.94" transform="rotate(53 201.1 144.4)" fill="#91083d" stroke="#b30c58"/><ellipse cx="217.5" cy="170" rx="7.41" ry="5.99" transform="rotate(82 217.5 170)" fill="#98083b" stroke="#bc0c56"/><ellipse cx="182.8" cy="191.9" rx="6.73" ry="4.67" transform="rotate(96 182.8 191.9)" fill="#640846" stroke="#7d0c64"/><ellipse cx="190.1" cy="208.4" rx="6.73" ry="5.77" transform="rotate(22 190.1 208.4)" fill="#730843" stroke="#8f0c60"/><ellipse cx="197.4" cy="230.3" rx="7" ry="4.96" transform="rotate(23 197.4 230.3)" fill="#a0083a" stroke="#c50c54"/><ellipse cx="137.1" cy="197.4" rx="6.73" ry="5.1" transform="rotate(60 137.1 197.4)" fill="#46084c" stroke="#590c6c"/><ellipse cx="146.2" cy="202.9" rx="6.19" ry="5.39" transform="rotate(147 146.2 202.9)" fill="#46084c" stroke="#590c6c"/><ellipse cx="128" cy="213.9" rx="6.73" ry="5.97" transform="rotate(0 128 213.9)" fill="#46084c" stroke="#590c6c"/><ellipse cx="166.3" cy="190.1" rx="5.92" ry="5.26" transform="rotate(12 166.3 190.1)" fill="#280852" stroke="#350c74"/><ellipse cx="164.5" cy="228.5" rx="6.73" ry="5.07" transform="rotate(151 164.5 228.5)" fill="#2f0850" stroke="#3e0c72"/><ellipse cx="142.6" cy="228.5" rx="6.19" ry="4.56" transform="rotate(95 142.6 228.5)" fill="#46084c" stroke="#590c6c"/><ellipse cx="126.1" cy="232.2" rx="6.19" ry="5.37" transform="rotate(152 126.1 232.2)" fill="#46084c" stroke="#590c6c"/><ellipse cx="60.3" cy="230.3" rx="6.73" ry="4.78" transform="rotate(136 60.3 230.3)" fill="#730843" stroke="#8f0c60"/><ellipse cx="78.6" cy="237.6" rx="6.73" ry="6.08" transform="rotate(158 78.6 237.6)" fill="#91083d" stroke="#b30c58"/><ellipse cx="23.8" cy="204.7" rx="6.19" ry="5.09" transform="rotate(170 23.8 204.7)" fill="#37084f" stroke="#470c70"/><ellipse cx="239.5" cy="206.6" rx="5.92" ry="3.95" transform="rotate(118 239.5 206.6)" fill="#37084f" stroke="#470c70"/><ellipse cx="241.3" cy="135.3" rx="5.38" ry="4.73" transform="rotate(101 241.3 135.3)" fill="#2f0850" stroke="#3e0c72"/><ellipse cx="212" cy="131.6" rx="5.11" ry="4.59" transform="rotate(14 212 131.6)" fill="#280852" stroke="#350c74"/><ellipse cx="164.5" cy="25.6" rx="5.92" ry="4.82" transform="rotate(117 164.5 25.6)" fill="#46084c" stroke="#590c6c"/><ellipse cx="184.6" cy="25.6" rx="6.19" ry="4.55" transform="rotate(28 184.6 25.6)" fill="#730843" stroke="#8f0c60"/><ellipse cx="226.7" cy="226.7" rx="5.65" ry="5.19" transform="rotate(166 226.7 226.7)" fill="#46084c" stroke="#590c6c"/><ellipse cx="99.6" cy="181" rx="5.92" ry="4.8" transform="rotate(68 99.6 181)" fill="#640846" stroke="#7d0c64"/><ellipse cx="210.2" cy="182.8" rx="6.19" ry="4.33" transform="rotate(45 210.2 182.8)" fill="#640846" stroke="#7d0c64"/></g><line x1="138.9" y1="48.4" x2="151.5" y2="67.6" stroke="#fff" stroke-width="1.5"/><path d="M154.5 72.2L148.2 68.5L153.6 65Z" fill="#fff"/><line x1="134.4" y1="75.9" x2="145.8" y2="92.4" stroke="#fff" stroke-width="1.5"/><path d="M149 96.9L142.6 93.4L147.9 89.7Z" fill="#fff"/><line x1="222.1" y1="52.1" x2="229.2" y2="63" stroke="#fff" stroke-width="1.5"/><path d="M232.2 67.6L225.9 63.9L231.3 60.4Z" fill="#fff"/><line x1="66.7" y1="97.8" x2="59.5" y2="109.6" stroke="#fff" stroke-width="1.5"/><path d="M56.7 114.2L57.3 107L62.8 110.4Z" fill="#fff"/><line x1="95.1" y1="110.6" x2="88.7" y2="121.4" stroke="#fff" stroke-width="1.5"/><path d="M85.9 126.1L86.5 118.9L92 122.2Z" fill="#fff"/><line x1="13.7" y1="134.4" x2="11.6" y2="126.9" stroke="#fff" stroke-width="1.5"/><path d="M10.1 121.6L14.9 126.9L8.8 128.7Z" fill="#fff"/><line x1="142.6" y1="161.8" x2="150.5" y2="173.7" stroke="#fff" stroke-width="1.5"/><path d="M153.6 178.2L147.3 174.6L152.6 171Z" fill="#fff"/><line x1="152.6" y1="161.8" x2="160.6" y2="173.7" stroke="#fff" stroke-width="1.5"/><path d="M163.6 178.2L157.3 174.6L162.7 171Z" fill="#fff"/><line x1="38.4" y1="188.3" x2="31.3" y2="199.2" stroke="#fff" stroke-width="1.5"/><path d="M28.3 203.8L29.2 196.6L34.6 200.1Z" fill="#fff"/><line x1="105.1" y1="213.9" x2="98.8" y2="224.7" stroke="#fff" stroke-width="1.5"/><path d="M96 229.4L96.5 222.2L102 225.4Z" fill="#fff"/><rect x="188" y="235.5" width="42" height="3.2" fill="#fff"/></svg><text x="1276" y="16.8" font-size="14" fill="#2233ff" textLength="32" lengthAdjust="spacingAndGlyphs">DAPI</text><text x="1370.5" y="16.8" font-size="14" fill="#22ee22" textLength="56.5" lengthAdjust="spacingAndGlyphs">PDGFRβ</text><text x="1588.3" y="16.8" font-size="14" fill="#ee1111" textLength="39.7" lengthAdjust="spacingAndGlyphs">Runx1</text><text x="1859" y="16.8" font-size="14" text-anchor="middle" fill="#fff">merge</text><rect x="1215.7" y="26.2" width="21.3" height="242.4" fill="#000"/><text x="1231" y="152" font-size="13" text-anchor="middle" fill="#fff" transform="rotate(-90 1231 152)" textLength="147.7" lengthAdjust="spacingAndGlyphs">sham (PDGFRß-eGFP)</text><rect x="1241" y="290.7" width="242.5" height="21.1" fill="#000"/><rect x="1241" y="319.8" width="242.5" height="241.1" fill="#000"/><svg x="1241" y="319.8" width="242.5" height="241.1" viewBox="0 0 242 241" preserveAspectRatio="none" overflow="hidden"><rect x="0" y="0" width="242" height="241" fill="#02050c"/><g filter="url(#bl2)"><ellipse cx="53" cy="86" rx="50" ry="42" transform="rotate(0 53 86)" fill="#060c1c"/><ellipse cx="126" cy="119" rx="20" ry="20" transform="rotate(0 126 119)" fill="#060c1c"/><ellipse cx="183" cy="106" rx="42" ry="37" transform="rotate(10 183 106)" fill="#060c1c"/><ellipse cx="192" cy="44" rx="46" ry="22" transform="rotate(-10 192 44)" fill="#060c1c"/><ellipse cx="46" cy="186" rx="44" ry="44" transform="rotate(0 46 186)" fill="#060c1c"/><ellipse cx="35" cy="18" rx="42" ry="22" transform="rotate(0 35 18)" fill="#060c1c"/><ellipse cx="152" cy="212" rx="38" ry="28" transform="rotate(0 152 212)" fill="#060c1c"/><ellipse cx="214" cy="186" rx="28" ry="26" transform="rotate(0 214 186)" fill="#060c1c"/><ellipse cx="112" cy="184" rx="22" ry="24" transform="rotate(0 112 184)" fill="#060c1c"/></g><g filter="url(#bl3)" opacity="0.6"><ellipse cx="110" cy="150" rx="70" ry="26" transform="rotate(28 110 150)" fill="#1e7a30"/><ellipse cx="190" cy="165" rx="40" ry="28" transform="rotate(0 190 165)" fill="#1a6a28"/><ellipse cx="60" cy="120" rx="20" ry="30" transform="rotate(0 60 120)" fill="#145a20"/></g><path d="M268.4 109L259 113.4L252 123.1L239.3 131L231.6 136.7L223.2 146.6L212.6 150.5M212.6 150.5L218.7 160L226.3 164L228.2 173.7L232.1 179.7L241.5 188.8L245.3 194.9M268.4 109L258.7 102.2L250.6 101.1L238.1 96.7L224.5 89.8L214.7 89.9L205.9 83.1M205.9 83.1L201.1 94.2L198.1 106.7L195.3 117.8L189.3 124.8L187.4 140.7L183.4 151.8M212.6 150.5L209.3 150.6L202.1 151.5L196 149.8L191.8 151.8L191 152.6L183.4 151.8M50 246.1L61.1 244.3L69.6 241.3L78.5 236.6L86.9 236L99.2 236.4L107.8 233.4M107.8 233.4L111 239.5L110.8 242.9L115.5 245.6L116.1 249.5L114.3 253.9L118.1 257.8M245.3 194.9L240.7 198.8L237.7 203L232 209.1L233 209.8L226.6 214.1L224.3 217.9M294.4 40.3L283.7 40.4L271.8 36.8L258.2 40.7L248.4 36.5L235.3 36.1L224.9 37.6M294.4 40.3L279.8 30.9L267.6 19.8L254.8 5.4L240.5 -0.5L227 -15.9L214.8 -25.4M224.9 37.6L224.3 28.9L220.5 21.9L216 11.7L214.8 0.4L213 -5L211.9 -15.3M214.8 -25.4L214.1 -26.2L212.3 -20L214.7 -21.8L216.1 -19.2L210.8 -17.2L211.9 -15.3M205.9 83.1L206.2 84.2L205.5 80.4L202.5 78.1L202.3 78.2L201.8 76.2L200.6 76.9M200.6 76.9L202.8 69.8L204.9 63.6L208 57.7L213.1 53.5L213.5 48.2L218.2 41.6M218.2 41.6L219.7 42.9L220.2 40L220.6 39.8L223.3 39.2L223.4 39L224.9 37.6M133.1 193.6L128.8 187.5L123.1 180.9L118.6 173.1L115.8 170.5L112.6 161.2L106.9 154.7M133.1 193.6L137.5 188.8L144.2 183.1L146.7 175.6L151.2 168.9L155.1 162.9L160.9 157.1M160.9 157.1L149 155.1L143.4 155.1L134.6 154.2L124.4 156.1L114.5 154.2L106.9 154.7M156.5 121.3L163.2 125.1L162.3 130L166.6 135.4L171.2 141.3L172.8 144.4L176.6 149.6M156.5 121.3L145 122.5L136.2 128.6L127.7 131.9L119.1 133.8L111 136.5L98.6 140.4M176.6 149.6L173.2 150.3L172.9 152L167.8 154L167.6 154.5L163.2 157.3L160.9 157.1M98.6 140.4L100.1 143.5L98 144.4L99.7 143.4L101 147.8L99.2 152.4L99.9 151.2M99.9 151.2L101.2 150.9L102.1 153.2L104.4 152.9L103.4 152.7L104.6 152.8L106.9 154.7M11.3 74.2L-51.4 77.6L-114 81.2L-177.9 86.1L-239.9 91.8L-303.4 94.6L-364.9 98.3M11.3 74.2L14.1 79.9L18 89.2L17 97.2L23.9 102.7L27.7 111.4L28.3 118.6M28.3 118.6L26.7 120.8L27.7 119.8L25.2 123.5L27 125.5L28.4 125.5L27.8 127.7M27.8 127.7L25.7 132.9L27.2 134.4L23 135L21.6 141.3L21.2 141.6L19.2 144.9M19.2 144.9L-46.5 137.3L-110 129.4L-171.9 123L-236.7 113.4L-300.6 108.5L-364.9 98.3M206.3 214.9L204.3 220L203.3 229L203.4 234.9L196.2 242L194.3 248.5L191.3 256.1M206.3 214.9L200.9 210.8L199.2 211L195.2 212.8L193.5 209.8L188.4 207.1L185.6 205.1M185.6 205.1L185.3 204.8L186.5 205.9L185.9 205.3L183.6 204.1L186 204.6L185.5 205.1M185.5 205.1L181.5 209.7L178.3 212.4L177.6 216.8L175.4 222L171.5 226.9L167.5 229.5M167.5 229.5L168.6 233.8L173.7 237.7L179.3 244.4L183.3 249.4L186.7 251.6L191.3 256.1M224.3 217.9L221.4 218.7L218.2 216.1L214.8 214.6L213.9 216.9L209.8 215.8L206.3 214.9M183.4 151.8L182.6 151.3L184.5 150.8L182.4 153.9L185.4 152.2L184.1 152.1L183.3 151.9M183.3 151.9L185.6 160.2L184.2 170.2L186.4 178.1L185.1 186.7L184.3 195.4L185.6 205.1M183.3 151.9L182.3 152.7L180.2 150.3L179.5 151.2L179.8 148.7L178.2 148.7L176.6 149.6M132.7 196.9L142.5 197.1L148.9 198.7L159 199.7L168.2 202.6L176.8 204.1L185.5 205.1M132.7 196.9L133.9 195.4L132.9 195.8L130.2 195.8L132 193.8L132.4 194.3L133.1 193.6M107.8 233.4L108.2 234L106.8 234.1L108.2 232.6L107.6 234.1L108.2 233.8L107.6 232.8M107.6 232.8L111.9 228.3L118.9 221.5L118.1 217.1L123.6 207.1L125.5 203.5L132.7 196.9M118.1 257.8L127.7 254.4L134 250.3L142.7 242.9L151.1 239.2L159.3 234.7L167.5 229.5M66 -18.6L61.8 -9.2L62.5 -3.1L60.9 3.7L60.3 8.7L59.7 19L57.8 25.5M66 -18.6L54.6 -14.4L45.3 -5.8L36.4 2.3L28.5 10.2L16.2 16.5L6.6 23.3M57.8 25.5L46.3 25.7L41.1 28.2L35 30L28.1 30.2L19.5 32.3L11.3 33.9M6.6 23.3L7.4 25.5L7.8 27.1L8.9 29.9L9.6 30.8L13.9 33L11.3 33.9M98.7 -88.7L93.9 -75.7L86.5 -64.5L83.3 -53.1L78.1 -41L73 -31.2L66 -18.6M11.3 74.2L11.9 73.5L13 74.3L9.8 74.2L10.2 75.2L11.1 71.1L11.6 73.8M11.6 73.8L11 68.5L11.9 59.7L12.3 54.6L13.3 48.4L11.9 39.5L11.3 33.9M11.6 73.8L18.6 72.2L24.9 70.3L30 68.5L38.2 66.1L44.7 63.3L51.5 61.6M57.8 25.5L59.2 29.7L59.5 32.3L59.9 35.6L62 36.5L64.5 40.2L64 44.5M51.5 61.6L53.7 57.1L53.4 56.8L55.9 50.4L59.6 48.2L61.7 49.7L64 44.5M28.3 118.6L35.9 114.6L45.3 110L52.5 107.1L60.7 101.2L69.1 94.6L77.1 91.8M51.5 61.6L56.2 66.7L60.8 72.6L66.3 74.3L67.8 81.1L71.7 87.3L77.1 91.8M96.3 135.8L84.8 134.7L71.4 131.9L62 131.2L49.9 130.3L38.9 127.7L27.8 127.7M96.3 135.8L98.9 128.1L98 122.9L98.9 114.5L96.8 108.9L98.9 98.5L99 94.6M99 94.6L92 93.5L91.2 93.3L88.6 92L87.8 93.9L82.4 92.6L77.1 91.8M210.9 37.9L201.9 36.9L197.5 35.9L191.7 34.9L184.4 32.2L179.2 30.4L172.8 30.1M210.9 37.9L207.1 33.7L206.8 27.7L202.1 21.5L197.2 18.5L195.3 11.8L191.2 8.1M191.2 8.1L189.4 9.8L187.7 12.4L184.1 12.2L181.2 13.2L177.2 13.5L175.7 17.4M172.8 30.1L171.6 26.3L173.7 26L172.5 23.6L175.2 22.8L175.1 19.8L175.7 17.4M218.2 41.6L216.5 42.2L213.8 40.7L211.6 42L214.5 36.4L211.5 36.7L210.9 37.9M211.9 -15.3L206.2 -12L203.9 -6.2L200.9 -5L198 0.8L195.7 4.8L191.2 8.1M98.7 -88.7L97.6 -87.2L100.1 -84.6L102.1 -81.4L101.9 -78.8L102.8 -77.6L103.6 -73.1M103.6 -73.1L118.3 -58.7L126.7 -45.2L139.5 -29.6L152 -11.2L164.4 1.7L175.7 17.4M111.9 -19L120.5 -6.9L125.8 5.8L132.3 18.6L138.4 28.2L148.5 41.8L154 55.2M111.9 -19L110 -27.6L108.5 -38.6L107.5 -47.3L107 -55.6L104.6 -63.1L103.6 -73.1M154 55.2L155.2 49.1L161.2 48.4L163.5 41.7L168.1 39.1L171 31.9L172.8 30.1M20.3 149.5L18.2 156.2L15.1 166.3L15.5 173.1L12.3 183.5L11.5 189.7L8.8 197.9M20.3 149.5L30.7 154.7L38.2 158.9L49.9 165.4L57.8 168.7L68.3 172.9L78.8 179.9M39.7 214.9L37.3 214.9L33.8 211L27.3 215.6L22.7 210.4L21 214.2L17 211.7M39.7 214.9L47.2 212L53.7 212.1L60 210.4L67.3 209.8L74.7 208L79.6 205M17 211.7L15.4 207L14.9 205.2L15.8 203.3L9.1 200.1L10.6 200.6L8.8 197.9M79.6 205L80.3 201.1L78.3 197.6L78.3 190.5L80.2 188.9L77.8 183.7L78.8 179.9M19.2 144.9L20.7 146.8L18.2 147.8L16.4 147.3L20.4 147.8L20.3 146.6L20.3 149.5M98.6 140.4L98 140.2L96.6 139L97.2 135.2L96.2 138.1L94.7 136.6L96.3 135.8M99.9 151.2L96.8 154.4L92.5 161.9L90.3 164.3L87.1 170.8L82.5 177L78.8 179.9M50 246.1L49.2 241.3L47.8 236.5L46.5 230.3L40.8 227.3L42.5 220.8L39.7 214.9M107.6 232.8L103 228.1L98.4 222.3L94.6 219L87.7 214.6L83.8 209.6L79.6 205M100.3 33.6L109.8 41.8L116.6 43.6L127.6 48.4L137.5 52.1L143.9 57.4L153.2 62.2M100.3 33.6L96.7 37.5L95 39.3L96.3 40L92.6 43.3L93.2 46.4L89.2 48.6M89.2 48.6L89.9 56.3L96.6 58.6L94.8 70.9L101.4 71.1L105.7 82L107.4 86.5M107.4 86.5L110.9 86.8L121.4 83.8L126.2 83.1L132.6 81.5L139.9 79.4L146.8 78.7M146.8 78.7L148.6 78.5L150.2 76.4L152.4 72.8L151.5 73.2L154.1 68.6L153.7 70.1M153.7 70.1L153 68.4L153.8 70.4L153.7 66L153.9 66.1L153 65.6L153.2 62.2M111.9 -19L108.4 -8.6L108.9 -0.2L108.1 7L104.7 16.4L101.5 23.8L100.3 33.6M154 55.2L152.9 57.4L150.8 55.8L153.7 60.3L153.3 61.5L153.2 60.3L153.2 62.2M64 44.5L66.2 45.4L74.6 46L75.2 47.3L79 45.7L86.4 48.4L89.2 48.6M99 94.6L101.7 93.6L101.7 92.1L102.8 91.9L102.9 86.7L104.9 89L107.4 86.5M156.5 121.3L154.2 111.2L156.9 105.9L151.4 100.7L150.5 92.7L146.4 86.5L146.8 78.7M200.6 76.9L191.5 75.5L185.9 74.1L174.8 72.7L170.1 73.3L159.8 71.3L153.7 70.1" fill="none" stroke="#1e7a2c" stroke-width="4.5" opacity="0.45" filter="url(#bl2)"/><path d="M268.4 109L259 113.4L252 123.1L239.3 131L231.6 136.7L223.2 146.6L212.6 150.5M212.6 150.5L218.7 160L226.3 164L228.2 173.7L232.1 179.7L241.5 188.8L245.3 194.9M268.4 109L258.7 102.2L250.6 101.1L238.1 96.7L224.5 89.8L214.7 89.9L205.9 83.1M205.9 83.1L201.1 94.2L198.1 106.7L195.3 117.8L189.3 124.8L187.4 140.7L183.4 151.8M212.6 150.5L209.3 150.6L202.1 151.5L196 149.8L191.8 151.8L191 152.6L183.4 151.8M50 246.1L61.1 244.3L69.6 241.3L78.5 236.6L86.9 236L99.2 236.4L107.8 233.4M107.8 233.4L111 239.5L110.8 242.9L115.5 245.6L116.1 249.5L114.3 253.9L118.1 257.8M245.3 194.9L240.7 198.8L237.7 203L232 209.1L233 209.8L226.6 214.1L224.3 217.9M294.4 40.3L283.7 40.4L271.8 36.8L258.2 40.7L248.4 36.5L235.3 36.1L224.9 37.6M294.4 40.3L279.8 30.9L267.6 19.8L254.8 5.4L240.5 -0.5L227 -15.9L214.8 -25.4M224.9 37.6L224.3 28.9L220.5 21.9L216 11.7L214.8 0.4L213 -5L211.9 -15.3M214.8 -25.4L214.1 -26.2L212.3 -20L214.7 -21.8L216.1 -19.2L210.8 -17.2L211.9 -15.3M205.9 83.1L206.2 84.2L205.5 80.4L202.5 78.1L202.3 78.2L201.8 76.2L200.6 76.9M200.6 76.9L202.8 69.8L204.9 63.6L208 57.7L213.1 53.5L213.5 48.2L218.2 41.6M218.2 41.6L219.7 42.9L220.2 40L220.6 39.8L223.3 39.2L223.4 39L224.9 37.6M133.1 193.6L128.8 187.5L123.1 180.9L118.6 173.1L115.8 170.5L112.6 161.2L106.9 154.7M133.1 193.6L137.5 188.8L144.2 183.1L146.7 175.6L151.2 168.9L155.1 162.9L160.9 157.1M160.9 157.1L149 155.1L143.4 155.1L134.6 154.2L124.4 156.1L114.5 154.2L106.9 154.7M156.5 121.3L163.2 125.1L162.3 130L166.6 135.4L171.2 141.3L172.8 144.4L176.6 149.6M156.5 121.3L145 122.5L136.2 128.6L127.7 131.9L119.1 133.8L111 136.5L98.6 140.4M176.6 149.6L173.2 150.3L172.9 152L167.8 154L167.6 154.5L163.2 157.3L160.9 157.1M98.6 140.4L100.1 143.5L98 144.4L99.7 143.4L101 147.8L99.2 152.4L99.9 151.2M99.9 151.2L101.2 150.9L102.1 153.2L104.4 152.9L103.4 152.7L104.6 152.8L106.9 154.7M11.3 74.2L-51.4 77.6L-114 81.2L-177.9 86.1L-239.9 91.8L-303.4 94.6L-364.9 98.3M11.3 74.2L14.1 79.9L18 89.2L17 97.2L23.9 102.7L27.7 111.4L28.3 118.6M28.3 118.6L26.7 120.8L27.7 119.8L25.2 123.5L27 125.5L28.4 125.5L27.8 127.7M27.8 127.7L25.7 132.9L27.2 134.4L23 135L21.6 141.3L21.2 141.6L19.2 144.9M19.2 144.9L-46.5 137.3L-110 129.4L-171.9 123L-236.7 113.4L-300.6 108.5L-364.9 98.3M206.3 214.9L204.3 220L203.3 229L203.4 234.9L196.2 242L194.3 248.5L191.3 256.1M206.3 214.9L200.9 210.8L199.2 211L195.2 212.8L193.5 209.8L188.4 207.1L185.6 205.1M185.6 205.1L185.3 204.8L186.5 205.9L185.9 205.3L183.6 204.1L186 204.6L185.5 205.1M185.5 205.1L181.5 209.7L178.3 212.4L177.6 216.8L175.4 222L171.5 226.9L167.5 229.5M167.5 229.5L168.6 233.8L173.7 237.7L179.3 244.4L183.3 249.4L186.7 251.6L191.3 256.1M224.3 217.9L221.4 218.7L218.2 216.1L214.8 214.6L213.9 216.9L209.8 215.8L206.3 214.9M183.4 151.8L182.6 151.3L184.5 150.8L182.4 153.9L185.4 152.2L184.1 152.1L183.3 151.9M183.3 151.9L185.6 160.2L184.2 170.2L186.4 178.1L185.1 186.7L184.3 195.4L185.6 205.1M183.3 151.9L182.3 152.7L180.2 150.3L179.5 151.2L179.8 148.7L178.2 148.7L176.6 149.6M132.7 196.9L142.5 197.1L148.9 198.7L159 199.7L168.2 202.6L176.8 204.1L185.5 205.1M132.7 196.9L133.9 195.4L132.9 195.8L130.2 195.8L132 193.8L132.4 194.3L133.1 193.6M107.8 233.4L108.2 234L106.8 234.1L108.2 232.6L107.6 234.1L108.2 233.8L107.6 232.8M107.6 232.8L111.9 228.3L118.9 221.5L118.1 217.1L123.6 207.1L125.5 203.5L132.7 196.9M118.1 257.8L127.7 254.4L134 250.3L142.7 242.9L151.1 239.2L159.3 234.7L167.5 229.5M66 -18.6L61.8 -9.2L62.5 -3.1L60.9 3.7L60.3 8.7L59.7 19L57.8 25.5M66 -18.6L54.6 -14.4L45.3 -5.8L36.4 2.3L28.5 10.2L16.2 16.5L6.6 23.3M57.8 25.5L46.3 25.7L41.1 28.2L35 30L28.1 30.2L19.5 32.3L11.3 33.9M6.6 23.3L7.4 25.5L7.8 27.1L8.9 29.9L9.6 30.8L13.9 33L11.3 33.9M98.7 -88.7L93.9 -75.7L86.5 -64.5L83.3 -53.1L78.1 -41L73 -31.2L66 -18.6M11.3 74.2L11.9 73.5L13 74.3L9.8 74.2L10.2 75.2L11.1 71.1L11.6 73.8M11.6 73.8L11 68.5L11.9 59.7L12.3 54.6L13.3 48.4L11.9 39.5L11.3 33.9M11.6 73.8L18.6 72.2L24.9 70.3L30 68.5L38.2 66.1L44.7 63.3L51.5 61.6M57.8 25.5L59.2 29.7L59.5 32.3L59.9 35.6L62 36.5L64.5 40.2L64 44.5M51.5 61.6L53.7 57.1L53.4 56.8L55.9 50.4L59.6 48.2L61.7 49.7L64 44.5M28.3 118.6L35.9 114.6L45.3 110L52.5 107.1L60.7 101.2L69.1 94.6L77.1 91.8M51.5 61.6L56.2 66.7L60.8 72.6L66.3 74.3L67.8 81.1L71.7 87.3L77.1 91.8M96.3 135.8L84.8 134.7L71.4 131.9L62 131.2L49.9 130.3L38.9 127.7L27.8 127.7M96.3 135.8L98.9 128.1L98 122.9L98.9 114.5L96.8 108.9L98.9 98.5L99 94.6M99 94.6L92 93.5L91.2 93.3L88.6 92L87.8 93.9L82.4 92.6L77.1 91.8M210.9 37.9L201.9 36.9L197.5 35.9L191.7 34.9L184.4 32.2L179.2 30.4L172.8 30.1M210.9 37.9L207.1 33.7L206.8 27.7L202.1 21.5L197.2 18.5L195.3 11.8L191.2 8.1M191.2 8.1L189.4 9.8L187.7 12.4L184.1 12.2L181.2 13.2L177.2 13.5L175.7 17.4M172.8 30.1L171.6 26.3L173.7 26L172.5 23.6L175.2 22.8L175.1 19.8L175.7 17.4M218.2 41.6L216.5 42.2L213.8 40.7L211.6 42L214.5 36.4L211.5 36.7L210.9 37.9M211.9 -15.3L206.2 -12L203.9 -6.2L200.9 -5L198 0.8L195.7 4.8L191.2 8.1M98.7 -88.7L97.6 -87.2L100.1 -84.6L102.1 -81.4L101.9 -78.8L102.8 -77.6L103.6 -73.1M103.6 -73.1L118.3 -58.7L126.7 -45.2L139.5 -29.6L152 -11.2L164.4 1.7L175.7 17.4M111.9 -19L120.5 -6.9L125.8 5.8L132.3 18.6L138.4 28.2L148.5 41.8L154 55.2M111.9 -19L110 -27.6L108.5 -38.6L107.5 -47.3L107 -55.6L104.6 -63.1L103.6 -73.1M154 55.2L155.2 49.1L161.2 48.4L163.5 41.7L168.1 39.1L171 31.9L172.8 30.1M20.3 149.5L18.2 156.2L15.1 166.3L15.5 173.1L12.3 183.5L11.5 189.7L8.8 197.9M20.3 149.5L30.7 154.7L38.2 158.9L49.9 165.4L57.8 168.7L68.3 172.9L78.8 179.9M39.7 214.9L37.3 214.9L33.8 211L27.3 215.6L22.7 210.4L21 214.2L17 211.7M39.7 214.9L47.2 212L53.7 212.1L60 210.4L67.3 209.8L74.7 208L79.6 205M17 211.7L15.4 207L14.9 205.2L15.8 203.3L9.1 200.1L10.6 200.6L8.8 197.9M79.6 205L80.3 201.1L78.3 197.6L78.3 190.5L80.2 188.9L77.8 183.7L78.8 179.9M19.2 144.9L20.7 146.8L18.2 147.8L16.4 147.3L20.4 147.8L20.3 146.6L20.3 149.5M98.6 140.4L98 140.2L96.6 139L97.2 135.2L96.2 138.1L94.7 136.6L96.3 135.8M99.9 151.2L96.8 154.4L92.5 161.9L90.3 164.3L87.1 170.8L82.5 177L78.8 179.9M50 246.1L49.2 241.3L47.8 236.5L46.5 230.3L40.8 227.3L42.5 220.8L39.7 214.9M107.6 232.8L103 228.1L98.4 222.3L94.6 219L87.7 214.6L83.8 209.6L79.6 205M100.3 33.6L109.8 41.8L116.6 43.6L127.6 48.4L137.5 52.1L143.9 57.4L153.2 62.2M100.3 33.6L96.7 37.5L95 39.3L96.3 40L92.6 43.3L93.2 46.4L89.2 48.6M89.2 48.6L89.9 56.3L96.6 58.6L94.8 70.9L101.4 71.1L105.7 82L107.4 86.5M107.4 86.5L110.9 86.8L121.4 83.8L126.2 83.1L132.6 81.5L139.9 79.4L146.8 78.7M146.8 78.7L148.6 78.5L150.2 76.4L152.4 72.8L151.5 73.2L154.1 68.6L153.7 70.1M153.7 70.1L153 68.4L153.8 70.4L153.7 66L153.9 66.1L153 65.6L153.2 62.2M111.9 -19L108.4 -8.6L108.9 -0.2L108.1 7L104.7 16.4L101.5 23.8L100.3 33.6M154 55.2L152.9 57.4L150.8 55.8L153.7 60.3L153.3 61.5L153.2 60.3L153.2 62.2M64 44.5L66.2 45.4L74.6 46L75.2 47.3L79 45.7L86.4 48.4L89.2 48.6M99 94.6L101.7 93.6L101.7 92.1L102.8 91.9L102.9 86.7L104.9 89L107.4 86.5M156.5 121.3L154.2 111.2L156.9 105.9L151.4 100.7L150.5 92.7L146.4 86.5L146.8 78.7M200.6 76.9L191.5 75.5L185.9 74.1L174.8 72.7L170.1 73.3L159.8 71.3L153.7 70.1" fill="none" stroke="#2aa038" stroke-width="1.5" opacity="0.9" filter="url(#bl0)"/><g fill="none" stroke="#28a036" stroke-width="1.4" opacity="0.85" filter="url(#bl0)"><ellipse cx="53" cy="86" rx="53" ry="45" transform="rotate(0 53 86)" fill="none"/><ellipse cx="126" cy="119" rx="23" ry="23" transform="rotate(0 126 119)" fill="none"/><ellipse cx="183" cy="106" rx="45" ry="40" transform="rotate(10 183 106)" fill="none"/><ellipse cx="192" cy="44" rx="49" ry="25" transform="rotate(-10 192 44)" fill="none"/><ellipse cx="46" cy="186" rx="47" ry="47" transform="rotate(0 46 186)" fill="none"/><ellipse cx="35" cy="18" rx="45" ry="25" transform="rotate(0 35 18)" fill="none"/><ellipse cx="152" cy="212" rx="41" ry="31" transform="rotate(0 152 212)" fill="none"/><ellipse cx="214" cy="186" rx="31" ry="29" transform="rotate(0 214 186)" fill="none"/><ellipse cx="112" cy="184" rx="25" ry="27" transform="rotate(0 112 184)" fill="none"/></g><g filter="url(#bl1)"><ellipse cx="28" cy="222" rx="11" ry="13" transform="rotate(0 28 222)" fill="#3cc860"/><ellipse cx="48" cy="214" rx="12" ry="11" transform="rotate(0 48 214)" fill="#5ae080"/><ellipse cx="62" cy="226" rx="11" ry="10" transform="rotate(0 62 226)" fill="#48d070"/><ellipse cx="20" cy="236" rx="10" ry="9" transform="rotate(0 20 236)" fill="#40c060"/><ellipse cx="72" cy="212" rx="8" ry="10" transform="rotate(0 72 212)" fill="#6af080"/><ellipse cx="45" cy="232" rx="10" ry="8" transform="rotate(0 45 232)" fill="#38c058"/></g><g filter="url(#bl1)" fill="#2e8c6a" opacity="0.55"><ellipse cx="110.1" cy="96.5" rx="8" ry="6" transform="rotate(30 110.1 96.5)" fill="#2e8c6a"/><ellipse cx="63.6" cy="120.2" rx="8" ry="6" transform="rotate(30 63.6 120.2)" fill="#2e8c6a"/><ellipse cx="84.5" cy="127.6" rx="8" ry="6" transform="rotate(30 84.5 127.6)" fill="#2e8c6a"/><ellipse cx="99.2" cy="153.2" rx="8" ry="6" transform="rotate(30 99.2 153.2)" fill="#2e8c6a"/><ellipse cx="137.6" cy="169.6" rx="8" ry="6" transform="rotate(30 137.6 169.6)" fill="#2e8c6a"/><ellipse cx="155" cy="169.6" rx="8" ry="6" transform="rotate(30 155 169.6)" fill="#2e8c6a"/><ellipse cx="225.4" cy="143.1" rx="8" ry="6" transform="rotate(30 225.4 143.1)" fill="#2e8c6a"/><ellipse cx="98.3" cy="172.2" rx="8" ry="6" transform="rotate(30 98.3 172.2)" fill="#2e8c6a"/><ellipse cx="178.7" cy="211.6" rx="8" ry="6" transform="rotate(30 178.7 211.6)" fill="#2e8c6a"/></g><g filter="url(#bl0)" stroke-width="1.1"><ellipse cx="72.9" cy="109.2" rx="6.63" ry="5.09" transform="rotate(3 72.9 109.2)" fill="#0c148f" stroke="#1620c7"/><ellipse cx="39.6" cy="119.5" rx="5.62" ry="4.73" transform="rotate(118 39.6 119.5)" fill="#0c1476" stroke="#1620a7"/><ellipse cx="28.4" cy="113.9" rx="6.78" ry="5.42" transform="rotate(151 28.4 113.9)" fill="#0c1487" stroke="#1620bc"/><ellipse cx="18.2" cy="109.1" rx="5.86" ry="4.23" transform="rotate(27 18.2 109.1)" fill="#0c1472" stroke="#1620a3"/><ellipse cx="15.7" cy="86.3" rx="6.19" ry="5.23" transform="rotate(56 15.7 86.3)" fill="#0c147b" stroke="#1620ad"/><ellipse cx="32.1" cy="63.6" rx="6.94" ry="5.77" transform="rotate(5 32.1 63.6)" fill="#0c1493" stroke="#1620cc"/><ellipse cx="46.1" cy="53.6" rx="6.51" ry="5.17" transform="rotate(39 46.1 53.6)" fill="#0c1471" stroke="#1620a1"/><ellipse cx="69.4" cy="59" rx="6.01" ry="3.99" transform="rotate(99 69.4 59)" fill="#0c147c" stroke="#1620b0"/><ellipse cx="80.8" cy="64.3" rx="6.08" ry="4.24" transform="rotate(76 80.8 64.3)" fill="#0c1484" stroke="#1620b9"/><ellipse cx="94.5" cy="98.3" rx="5.82" ry="4.26" transform="rotate(104 94.5 98.3)" fill="#0c1486" stroke="#1620bb"/><ellipse cx="73.7" cy="93.6" rx="6.17" ry="4.61" transform="rotate(47 73.7 93.6)" fill="#0c146e" stroke="#16209e"/><ellipse cx="42.3" cy="68.2" rx="6.44" ry="4.67" transform="rotate(5 42.3 68.2)" fill="#0c1470" stroke="#1620a0"/><ellipse cx="71.6" cy="82.1" rx="6.32" ry="5.69" transform="rotate(32 71.6 82.1)" fill="#0c1473" stroke="#1620a4"/><ellipse cx="53.4" cy="105.7" rx="5.24" ry="3.67" transform="rotate(75 53.4 105.7)" fill="#0c1462" stroke="#16208f"/><ellipse cx="55.6" cy="71.6" rx="6.26" ry="4.33" transform="rotate(141 55.6 71.6)" fill="#0c1462" stroke="#16208e"/><ellipse cx="56.2" cy="90.9" rx="5.51" ry="4.86" transform="rotate(140 56.2 90.9)" fill="#0c1483" stroke="#1620b8"/><ellipse cx="128.2" cy="131.4" rx="5.58" ry="4.04" transform="rotate(24 128.2 131.4)" fill="#0c1490" stroke="#1620c9"/><ellipse cx="116.1" cy="131.3" rx="5.97" ry="4.43" transform="rotate(40 116.1 131.3)" fill="#0c1485" stroke="#1620ba"/><ellipse cx="109.8" cy="123.2" rx="5.22" ry="4.58" transform="rotate(119 109.8 123.2)" fill="#0c148a" stroke="#1620c0"/><ellipse cx="120.4" cy="104" rx="6.73" ry="5.51" transform="rotate(61 120.4 104)" fill="#0c1485" stroke="#1620bb"/><ellipse cx="133.6" cy="108.3" rx="5.37" ry="3.72" transform="rotate(139 133.6 108.3)" fill="#0c1470" stroke="#1620a0"/><ellipse cx="141.2" cy="121.3" rx="5.78" ry="4.88" transform="rotate(91 141.2 121.3)" fill="#0c1481" stroke="#1620b6"/><ellipse cx="175" cy="83.7" rx="6.48" ry="4.61" transform="rotate(60 175 83.7)" fill="#0c1492" stroke="#1620cb"/><ellipse cx="189.1" cy="83" rx="6.58" ry="4.78" transform="rotate(177 189.1 83)" fill="#0c1473" stroke="#1620a4"/><ellipse cx="206.4" cy="89.9" rx="6.82" ry="5.02" transform="rotate(176 206.4 89.9)" fill="#0c1478" stroke="#1620ab"/><ellipse cx="217.3" cy="93.3" rx="5.38" ry="4.7" transform="rotate(173 217.3 93.3)" fill="#0c1486" stroke="#1620bc"/><ellipse cx="217.3" cy="106.7" rx="6.15" ry="4.19" transform="rotate(164 217.3 106.7)" fill="#0c1484" stroke="#1620b9"/><ellipse cx="207.4" cy="116.7" rx="5.34" ry="3.86" transform="rotate(146 207.4 116.7)" fill="#0c146f" stroke="#16209f"/><ellipse cx="191" cy="132.7" rx="6.32" ry="5.73" transform="rotate(163 191 132.7)" fill="#0c146c" stroke="#16209c"/><ellipse cx="180.8" cy="129.4" rx="5.98" ry="4.16" transform="rotate(87 180.8 129.4)" fill="#0c1476" stroke="#1620a8"/><ellipse cx="163.5" cy="128.1" rx="6.34" ry="5.47" transform="rotate(59 163.5 128.1)" fill="#0c1496" stroke="#1620cf"/><ellipse cx="153.3" cy="124.7" rx="6.6" ry="5.92" transform="rotate(97 153.3 124.7)" fill="#0c1487" stroke="#1620bd"/><ellipse cx="146.9" cy="108.2" rx="6.46" ry="4.76" transform="rotate(63 146.9 108.2)" fill="#0c148a" stroke="#1620c0"/><ellipse cx="154.9" cy="83.9" rx="5.21" ry="4.62" transform="rotate(177 154.9 83.9)" fill="#0c1479" stroke="#1620ac"/><ellipse cx="182.3" cy="93.4" rx="5.16" ry="3.86" transform="rotate(147 182.3 93.4)" fill="#0c1486" stroke="#1620bb"/><ellipse cx="186.3" cy="116.3" rx="5.96" ry="5.29" transform="rotate(54 186.3 116.3)" fill="#0c147b" stroke="#1620ae"/><ellipse cx="194.4" cy="102.8" rx="5.38" ry="4.52" transform="rotate(68 194.4 102.8)" fill="#0c1481" stroke="#1620b6"/><ellipse cx="167.2" cy="33.3" rx="6.89" ry="4.55" transform="rotate(68 167.2 33.3)" fill="#0c1480" stroke="#1620b4"/><ellipse cx="188.9" cy="29.3" rx="6.93" ry="5.76" transform="rotate(176 188.9 29.3)" fill="#0c146d" stroke="#16209c"/><ellipse cx="199.4" cy="27.7" rx="5.27" ry="4.73" transform="rotate(102 199.4 27.7)" fill="#0c1486" stroke="#1620bc"/><ellipse cx="207.9" cy="32.6" rx="6.18" ry="4.24" transform="rotate(98 207.9 32.6)" fill="#0c1470" stroke="#1620a0"/><ellipse cx="218.9" cy="37.4" rx="6.63" ry="5.75" transform="rotate(0 218.9 37.4)" fill="#0c1490" stroke="#1620c8"/><ellipse cx="222.5" cy="52.8" rx="5.61" ry="5.04" transform="rotate(100 222.5 52.8)" fill="#0c148f" stroke="#1620c7"/><ellipse cx="210.8" cy="58.7" rx="5.34" ry="3.86" transform="rotate(157 210.8 58.7)" fill="#0c1493" stroke="#1620cc"/><ellipse cx="197.7" cy="58.5" rx="5.31" ry="3.96" transform="rotate(32 197.7 58.5)" fill="#0c148f" stroke="#1620c7"/><ellipse cx="171.9" cy="56.6" rx="5.74" ry="4.66" transform="rotate(91 171.9 56.6)" fill="#0c1487" stroke="#1620bd"/><ellipse cx="160.6" cy="41.2" rx="5.31" ry="3.67" transform="rotate(7 160.6 41.2)" fill="#0c146d" stroke="#16209d"/><ellipse cx="196.1" cy="47" rx="6.4" ry="5.21" transform="rotate(138 196.1 47)" fill="#0c1475" stroke="#1620a6"/><ellipse cx="18.4" cy="174.4" rx="5.27" ry="3.51" transform="rotate(3 18.4 174.4)" fill="#0c147b" stroke="#1620ae"/><ellipse cx="24.4" cy="160.5" rx="5.49" ry="3.91" transform="rotate(77 24.4 160.5)" fill="#0c1491" stroke="#1620c9"/><ellipse cx="35.2" cy="152" rx="5.59" ry="4.39" transform="rotate(12 35.2 152)" fill="#0c148e" stroke="#1620c5"/><ellipse cx="49.4" cy="154.1" rx="6.9" ry="5.87" transform="rotate(14 49.4 154.1)" fill="#0c1495" stroke="#1620ce"/><ellipse cx="66.7" cy="165.3" rx="6.88" ry="4.92" transform="rotate(110 66.7 165.3)" fill="#0c1483" stroke="#1620b8"/><ellipse cx="77.5" cy="162.1" rx="6.2" ry="4.7" transform="rotate(10 77.5 162.1)" fill="#0c148e" stroke="#1620c5"/><ellipse cx="77.7" cy="179.8" rx="5.52" ry="4.26" transform="rotate(13 77.7 179.8)" fill="#0c1483" stroke="#1620b8"/><ellipse cx="74.4" cy="191.5" rx="5.25" ry="4.78" transform="rotate(21 74.4 191.5)" fill="#0c147e" stroke="#1620b2"/><ellipse cx="73.1" cy="213.6" rx="6.14" ry="4.62" transform="rotate(3 73.1 213.6)" fill="#0c1493" stroke="#1620cc"/><ellipse cx="49.4" cy="218.3" rx="6.35" ry="4.88" transform="rotate(73 49.4 218.3)" fill="#0c148d" stroke="#1620c5"/><ellipse cx="28.9" cy="211.3" rx="6.17" ry="5.43" transform="rotate(92 28.9 211.3)" fill="#0c1480" stroke="#1620b4"/><ellipse cx="13.1" cy="207.9" rx="5.88" ry="4.11" transform="rotate(44 13.1 207.9)" fill="#0c147d" stroke="#1620b0"/><ellipse cx="8.2" cy="197.6" rx="5.55" ry="4.31" transform="rotate(38 8.2 197.6)" fill="#0c1475" stroke="#1620a7"/><ellipse cx="51.8" cy="171.9" rx="5.08" ry="3.99" transform="rotate(165 51.8 171.9)" fill="#0c146e" stroke="#16209e"/><ellipse cx="31.1" cy="186" rx="5.58" ry="4.26" transform="rotate(0 31.1 186)" fill="#0c1479" stroke="#1620ab"/><ellipse cx="38.8" cy="166.8" rx="6.13" ry="5.33" transform="rotate(78 38.8 166.8)" fill="#0c146e" stroke="#16209e"/><ellipse cx="54.8" cy="181.7" rx="6.27" ry="4.64" transform="rotate(93 54.8 181.7)" fill="#0c1483" stroke="#1620b8"/><ellipse cx="39.8" cy="202.4" rx="5.22" ry="4.38" transform="rotate(160 39.8 202.4)" fill="#0c1481" stroke="#1620b5"/><ellipse cx="43.7" cy="34.1" rx="6.48" ry="5.38" transform="rotate(72 43.7 34.1)" fill="#0c1475" stroke="#1620a6"/><ellipse cx="30.8" cy="32.7" rx="5.45" ry="3.92" transform="rotate(105 30.8 32.7)" fill="#0c146e" stroke="#16209e"/><ellipse cx="20.8" cy="30.3" rx="6.79" ry="5.78" transform="rotate(96 20.8 30.3)" fill="#0c1488" stroke="#1620bf"/><ellipse cx="9.1" cy="27.7" rx="6.93" ry="5.4" transform="rotate(25 9.1 27.7)" fill="#0c147c" stroke="#1620af"/><ellipse cx="5.3" cy="12.7" rx="6.12" ry="4.55" transform="rotate(21 5.3 12.7)" fill="#0c1475" stroke="#1620a7"/><ellipse cx="17.8" cy="4.2" rx="5.6" ry="4.91" transform="rotate(4 17.8 4.2)" fill="#0c1485" stroke="#1620bb"/><ellipse cx="50.3" cy="4.6" rx="5.79" ry="4.42" transform="rotate(54 50.3 4.6)" fill="#0c1475" stroke="#1620a6"/><ellipse cx="69.4" cy="23.6" rx="5.6" ry="4.1" transform="rotate(141 69.4 23.6)" fill="#0c1470" stroke="#1620a1"/><ellipse cx="54.7" cy="32.7" rx="6.17" ry="4.12" transform="rotate(101 54.7 32.7)" fill="#0c146f" stroke="#16209f"/><ellipse cx="29.7" cy="16" rx="5.31" ry="4" transform="rotate(177 29.7 16)" fill="#0c1477" stroke="#1620a8"/><ellipse cx="18" cy="16.9" rx="5.01" ry="4.34" transform="rotate(55 18 16.9)" fill="#0c146c" stroke="#16209b"/><ellipse cx="45.7" cy="14.6" rx="6.18" ry="4.38" transform="rotate(89 45.7 14.6)" fill="#0c1461" stroke="#16208d"/><ellipse cx="173.4" cy="196.8" rx="5.53" ry="4.01" transform="rotate(88 173.4 196.8)" fill="#0c1494" stroke="#1620cd"/><ellipse cx="180.4" cy="207" rx="5.5" ry="4.1" transform="rotate(122 180.4 207)" fill="#0c147a" stroke="#1620ad"/><ellipse cx="171.3" cy="223.1" rx="5.78" ry="5.09" transform="rotate(97 171.3 223.1)" fill="#0c148e" stroke="#1620c6"/><ellipse cx="155.2" cy="230.1" rx="6.39" ry="5.63" transform="rotate(11 155.2 230.1)" fill="#0c147f" stroke="#1620b3"/><ellipse cx="141.7" cy="233.5" rx="6.33" ry="4.39" transform="rotate(107 141.7 233.5)" fill="#0c1480" stroke="#1620b5"/><ellipse cx="129.7" cy="221.2" rx="6.84" ry="5.48" transform="rotate(117 129.7 221.2)" fill="#0c147e" stroke="#1620b2"/><ellipse cx="122.7" cy="201.2" rx="5.81" ry="4.32" transform="rotate(63 122.7 201.2)" fill="#0c1489" stroke="#1620bf"/><ellipse cx="143.9" cy="193.4" rx="6.27" ry="5.52" transform="rotate(117 143.9 193.4)" fill="#0c1490" stroke="#1620c8"/><ellipse cx="158.8" cy="207.2" rx="6.5" ry="5.83" transform="rotate(130 158.8 207.2)" fill="#0c146d" stroke="#16209c"/><ellipse cx="196.3" cy="193.6" rx="5.68" ry="4.42" transform="rotate(25 196.3 193.6)" fill="#0c148e" stroke="#1620c6"/><ellipse cx="189.3" cy="182.5" rx="6.1" ry="4.95" transform="rotate(95 189.3 182.5)" fill="#0c148a" stroke="#1620c1"/><ellipse cx="199" cy="170.4" rx="5.73" ry="4.25" transform="rotate(2 199 170.4)" fill="#0c1471" stroke="#1620a2"/><ellipse cx="236.7" cy="180.8" rx="5.29" ry="4.3" transform="rotate(62 236.7 180.8)" fill="#0c1488" stroke="#1620be"/><ellipse cx="235.5" cy="193.3" rx="5.94" ry="5.32" transform="rotate(41 235.5 193.3)" fill="#0c147d" stroke="#1620b0"/><ellipse cx="214.2" cy="207.2" rx="6.7" ry="4.79" transform="rotate(57 214.2 207.2)" fill="#0c1497" stroke="#1620d0"/><ellipse cx="219.4" cy="191.7" rx="6.4" ry="5.23" transform="rotate(49 219.4 191.7)" fill="#0c146e" stroke="#16209d"/><ellipse cx="217.1" cy="179.8" rx="6.18" ry="4.76" transform="rotate(7 217.1 179.8)" fill="#0c1460" stroke="#16208c"/><ellipse cx="99.7" cy="196.9" rx="6.73" ry="5.47" transform="rotate(127 99.7 196.9)" fill="#0c1491" stroke="#1620c9"/><ellipse cx="99.9" cy="175.8" rx="6.87" ry="5.76" transform="rotate(43 99.9 175.8)" fill="#0c1479" stroke="#1620ab"/><ellipse cx="116.2" cy="164.8" rx="5.64" ry="4.03" transform="rotate(118 116.2 164.8)" fill="#0c147a" stroke="#1620ac"/><ellipse cx="124" cy="175.8" rx="6.94" ry="6" transform="rotate(143 124 175.8)" fill="#0c1494" stroke="#1620cd"/><ellipse cx="117.7" cy="219.1" rx="4.47" ry="3.02" transform="rotate(84 117.7 219.1)" fill="#0c1489" stroke="#1620bf"/><ellipse cx="7.5" cy="74.6" rx="4.43" ry="3.77" transform="rotate(126 7.5 74.6)" fill="#0c148c" stroke="#1620c3"/><ellipse cx="15.2" cy="229.2" rx="5.74" ry="3.85" transform="rotate(145 15.2 229.2)" fill="#0c1486" stroke="#1620bb"/><ellipse cx="88" cy="146.1" rx="4.84" ry="3.35" transform="rotate(97 88 146.1)" fill="#0c1486" stroke="#1620bb"/><ellipse cx="184.8" cy="54.2" rx="4.31" ry="3.43" transform="rotate(169 184.8 54.2)" fill="#0c1495" stroke="#1620ce"/><ellipse cx="99.5" cy="75.6" rx="4.62" ry="4.14" transform="rotate(84 99.5 75.6)" fill="#0c1483" stroke="#1620b8"/><ellipse cx="28.1" cy="128.5" rx="4.28" ry="3.38" transform="rotate(96 28.1 128.5)" fill="#0c147a" stroke="#1620ad"/><ellipse cx="70.5" cy="201.7" rx="5.25" ry="3.8" transform="rotate(155 70.5 201.7)" fill="#0c1487" stroke="#1620bc"/><ellipse cx="166" cy="76" rx="5.19" ry="4.39" transform="rotate(85 166 76)" fill="#0c148f" stroke="#1620c7"/><ellipse cx="182.1" cy="152.5" rx="5.68" ry="3.79" transform="rotate(104 182.1 152.5)" fill="#0c1480" stroke="#1620b4"/><ellipse cx="236.4" cy="127.3" rx="5.65" ry="4.64" transform="rotate(159 236.4 127.3)" fill="#0c147b" stroke="#1620ad"/><ellipse cx="209.4" cy="155" rx="5.21" ry="4.31" transform="rotate(71 209.4 155)" fill="#0c147b" stroke="#1620ae"/><ellipse cx="234.3" cy="49" rx="5.06" ry="3.86" transform="rotate(11 234.3 49)" fill="#0c148e" stroke="#1620c5"/><ellipse cx="165.5" cy="162.7" rx="4.62" ry="3.75" transform="rotate(21 165.5 162.7)" fill="#0c148e" stroke="#1620c5"/><ellipse cx="91.2" cy="47.5" rx="5.27" ry="4.61" transform="rotate(112 91.2 47.5)" fill="#0c1497" stroke="#1620d1"/><ellipse cx="119" cy="141.4" rx="5.63" ry="4.96" transform="rotate(52 119 141.4)" fill="#0c1479" stroke="#1620ac"/><ellipse cx="90.5" cy="82.2" rx="4.88" ry="4.42" transform="rotate(142 90.5 82.2)" fill="#0c1479" stroke="#1620ac"/><ellipse cx="44.9" cy="80.7" rx="5.47" ry="3.69" transform="rotate(95 44.9 80.7)" fill="#0c147f" stroke="#1620b3"/><ellipse cx="41.8" cy="143.4" rx="5.35" ry="4.57" transform="rotate(96 41.8 143.4)" fill="#0c148d" stroke="#1620c4"/><ellipse cx="231.5" cy="204.4" rx="4.97" ry="3.64" transform="rotate(140 231.5 204.4)" fill="#0c1493" stroke="#1620cc"/><ellipse cx="40.8" cy="95.7" rx="5.51" ry="5.02" transform="rotate(10 40.8 95.7)" fill="#0c1486" stroke="#1620bc"/><ellipse cx="40.1" cy="44.9" rx="5.14" ry="4.7" transform="rotate(77 40.1 44.9)" fill="#0c148c" stroke="#1620c3"/><ellipse cx="97.7" cy="232" rx="4.75" ry="4.23" transform="rotate(15 97.7 232)" fill="#0c148d" stroke="#1620c4"/><ellipse cx="27.4" cy="81.2" rx="4.38" ry="3.86" transform="rotate(168 27.4 81.2)" fill="#0c1484" stroke="#1620b9"/><ellipse cx="132.9" cy="191.7" rx="4.96" ry="4.16" transform="rotate(129 132.9 191.7)" fill="#0c147a" stroke="#1620ad"/><ellipse cx="120.6" cy="76.9" rx="4.36" ry="3.44" transform="rotate(0 120.6 76.9)" fill="#0c1484" stroke="#1620b9"/><ellipse cx="99.6" cy="155.3" rx="4.29" ry="3.47" transform="rotate(170 99.6 155.3)" fill="#0c1491" stroke="#1620c9"/><ellipse cx="228.9" cy="218" rx="4.5" ry="3.26" transform="rotate(48 228.9 218)" fill="#0c1483" stroke="#1620b8"/><ellipse cx="183.1" cy="68.2" rx="4.91" ry="3.86" transform="rotate(80 183.1 68.2)" fill="#0c1496" stroke="#1620d0"/><ellipse cx="219.6" cy="228.2" rx="4.95" ry="3.81" transform="rotate(19 219.6 228.2)" fill="#0c1491" stroke="#1620c9"/><ellipse cx="62.8" cy="188.6" rx="4.42" ry="3.14" transform="rotate(23 62.8 188.6)" fill="#0c1489" stroke="#1620bf"/><ellipse cx="128.2" cy="232.9" rx="5.02" ry="4.46" transform="rotate(103 128.2 232.9)" fill="#0c1487" stroke="#1620bd"/><ellipse cx="234.4" cy="232.1" rx="4.99" ry="3.3" transform="rotate(64 234.4 232.1)" fill="#0c1485" stroke="#1620ba"/><ellipse cx="12.4" cy="144.3" rx="5.16" ry="4.17" transform="rotate(99 12.4 144.3)" fill="#0c148f" stroke="#1620c7"/><ellipse cx="224.4" cy="67.8" rx="4.35" ry="3.72" transform="rotate(48 224.4 67.8)" fill="#0c148a" stroke="#1620c1"/><ellipse cx="239.1" cy="222.2" rx="5.3" ry="4.05" transform="rotate(131 239.1 222.2)" fill="#0c1492" stroke="#1620cb"/><ellipse cx="117.4" cy="92.3" rx="4.75" ry="3.34" transform="rotate(125 117.4 92.3)" fill="#0c1483" stroke="#1620b8"/><ellipse cx="158.3" cy="6.1" rx="5.06" ry="4.24" transform="rotate(0 158.3 6.1)" fill="#0c147c" stroke="#1620af"/><ellipse cx="133.5" cy="142" rx="4.7" ry="3.65" transform="rotate(119 133.5 142)" fill="#0c148e" stroke="#1620c6"/><ellipse cx="220.2" cy="139.9" rx="4.63" ry="3.43" transform="rotate(160 220.2 139.9)" fill="#0c148c" stroke="#1620c3"/><ellipse cx="144.6" cy="40.7" rx="4.26" ry="3.57" transform="rotate(50 144.6 40.7)" fill="#0c1480" stroke="#1620b4"/><ellipse cx="94.1" cy="126" rx="5.46" ry="4.12" transform="rotate(45 94.1 126)" fill="#0c1497" stroke="#1620d1"/><ellipse cx="114.8" cy="188.9" rx="4.6" ry="3.18" transform="rotate(164 114.8 188.9)" fill="#0c1487" stroke="#1620bd"/><ellipse cx="161" cy="52.3" rx="4.45" ry="3.2" transform="rotate(134 161 52.3)" fill="#0c1487" stroke="#1620bd"/><ellipse cx="63.1" cy="9.7" rx="5.23" ry="3.8" transform="rotate(133 63.1 9.7)" fill="#0c148d" stroke="#1620c4"/><ellipse cx="223.1" cy="153" rx="4.52" ry="3.95" transform="rotate(74 223.1 153)" fill="#0c1496" stroke="#1620cf"/><ellipse cx="50.2" cy="197.5" rx="4.49" ry="3.68" transform="rotate(85 50.2 197.5)" fill="#0c1493" stroke="#1620cb"/><ellipse cx="133.1" cy="211.3" rx="4.63" ry="4.19" transform="rotate(44 133.1 211.3)" fill="#0c1488" stroke="#1620bf"/><ellipse cx="139.8" cy="98.2" rx="5.23" ry="4.42" transform="rotate(145 139.8 98.2)" fill="#0c1482" stroke="#1620b6"/><ellipse cx="236.9" cy="102.7" rx="4.62" ry="3.28" transform="rotate(101 236.9 102.7)" fill="#0c1495" stroke="#1620cf"/><ellipse cx="4.3" cy="59.5" rx="4.95" ry="3.35" transform="rotate(41 4.3 59.5)" fill="#0c148d" stroke="#1620c4"/><ellipse cx="172.1" cy="105.2" rx="5.31" ry="3.51" transform="rotate(67 172.1 105.2)" fill="#0c1487" stroke="#1620bd"/><ellipse cx="91.2" cy="18.4" rx="5.62" ry="4.68" transform="rotate(139 91.2 18.4)" fill="#0c1491" stroke="#1620ca"/><ellipse cx="207.9" cy="132.8" rx="5.79" ry="4.24" transform="rotate(163 207.9 132.8)" fill="#0c1487" stroke="#1620bc"/><ellipse cx="90.5" cy="163.2" rx="5.47" ry="4.57" transform="rotate(111 90.5 163.2)" fill="#0c148b" stroke="#1620c2"/><ellipse cx="184.8" cy="40.6" rx="5.35" ry="3.61" transform="rotate(111 184.8 40.6)" fill="#0c147a" stroke="#1620ac"/><ellipse cx="150.9" cy="151" rx="5.78" ry="4.4" transform="rotate(127 150.9 151)" fill="#0c1491" stroke="#1620c9"/><ellipse cx="62.8" cy="134.7" rx="4.92" ry="4.51" transform="rotate(92 62.8 134.7)" fill="#0c1481" stroke="#1620b6"/><ellipse cx="159.5" cy="195.4" rx="4.76" ry="3.54" transform="rotate(133 159.5 195.4)" fill="#0c1486" stroke="#1620bb"/><ellipse cx="34.9" cy="235.4" rx="4.78" ry="3.78" transform="rotate(70 34.9 235.4)" fill="#0c1485" stroke="#1620bb"/></g><text x="34" y="212" font-size="15" text-anchor="middle" font-weight="bold" fill="#fff">*</text><line x1="126.1" y1="81.3" x2="120.1" y2="86.8" stroke="#fff" stroke-width="1.5"/><path d="M116.1 90.5L118.7 83.7L123 88.5Z" fill="#fff"/><line x1="47.5" y1="99.6" x2="54.5" y2="109.7" stroke="#fff" stroke-width="1.5"/><path d="M57.6 114.2L51.3 110.7L56.5 107.1Z" fill="#fff"/><line x1="96" y1="107.9" x2="92.5" y2="116.5" stroke="#fff" stroke-width="1.5"/><path d="M90.5 121.6L89.9 114.3L95.9 116.7Z" fill="#fff"/><line x1="83.2" y1="132.5" x2="90.1" y2="142.6" stroke="#fff" stroke-width="1.5"/><path d="M93.2 147.2L86.9 143.6L92.2 140Z" fill="#fff"/><line x1="121.6" y1="149" x2="128.5" y2="159.1" stroke="#fff" stroke-width="1.5"/><path d="M131.6 163.6L125.3 160.1L130.6 156.4Z" fill="#fff"/><line x1="138.9" y1="149" x2="145.9" y2="159.1" stroke="#fff" stroke-width="1.5"/><path d="M149 163.6L142.7 160.1L147.9 156.4Z" fill="#fff"/><line x1="209.3" y1="122.5" x2="216.2" y2="132.6" stroke="#fff" stroke-width="1.5"/><path d="M219.4 137.1L213 133.6L218.3 129.9Z" fill="#fff"/><line x1="83.2" y1="188.3" x2="88.6" y2="182.3" stroke="#fff" stroke-width="1.5"/><path d="M92.3 178.2L90.3 185.2L85.6 180.9Z" fill="#fff"/><line x1="162.7" y1="191" x2="169.6" y2="201.1" stroke="#fff" stroke-width="1.5"/><path d="M172.7 205.6L166.4 202.1L171.7 198.5Z" fill="#fff"/><rect x="188" y="235.5" width="42" height="3.2" fill="#fff"/></svg><rect x="1488.5" y="290.7" width="242" height="21.1" fill="#000"/><rect x="1488.5" y="319.8" width="242" height="241.1" fill="#000"/><svg x="1488.5" y="319.8" width="242" height="241.1" viewBox="0 0 242 241" preserveAspectRatio="none" overflow="hidden"><rect x="0" y="0" width="242" height="241" fill="#2a0202"/><g filter="url(#bl2)"><ellipse cx="53" cy="86" rx="50" ry="42" transform="rotate(0 53 86)" fill="#560808"/><ellipse cx="126" cy="119" rx="20" ry="20" transform="rotate(0 126 119)" fill="#560808"/><ellipse cx="183" cy="106" rx="42" ry="37" transform="rotate(10 183 106)" fill="#560808"/><ellipse cx="192" cy="44" rx="46" ry="22" transform="rotate(-10 192 44)" fill="#560808"/><ellipse cx="46" cy="186" rx="44" ry="44" transform="rotate(0 46 186)" fill="#560808"/><ellipse cx="35" cy="18" rx="42" ry="22" transform="rotate(0 35 18)" fill="#560808"/><ellipse cx="152" cy="212" rx="38" ry="28" transform="rotate(0 152 212)" fill="#560808"/><ellipse cx="214" cy="186" rx="28" ry="26" transform="rotate(0 214 186)" fill="#560808"/><ellipse cx="112" cy="184" rx="22" ry="24" transform="rotate(0 112 184)" fill="#560808"/></g><g filter="url(#spk)" opacity="0.75"><rect x="0" y="0" width="242" height="241" fill="#000"/></g><rect x="100" y="8" width="38" height="68" fill="#000" filter="url(#bl2)"/><g filter="url(#bl1)" stroke-width="1.1"><ellipse cx="72.9" cy="109.2" rx="6.63" ry="5.09" transform="rotate(3 72.9 109.2)" fill="#a70505" stroke="#c90808"/><ellipse cx="39.6" cy="119.5" rx="5.62" ry="4.73" transform="rotate(118 39.6 119.5)" fill="#7d0505" stroke="#9b0808"/><ellipse cx="28.4" cy="113.9" rx="6.78" ry="5.42" transform="rotate(151 28.4 113.9)" fill="#7c0505" stroke="#9a0808"/><ellipse cx="18.2" cy="109.1" rx="5.86" ry="4.23" transform="rotate(27 18.2 109.1)" fill="#c10505" stroke="#e70808"/><ellipse cx="15.7" cy="86.3" rx="6.19" ry="5.23" transform="rotate(56 15.7 86.3)" fill="#a40505" stroke="#c60808"/><ellipse cx="32.1" cy="63.6" rx="6.94" ry="5.77" transform="rotate(5 32.1 63.6)" fill="#bc0505" stroke="#e10808"/><ellipse cx="46.1" cy="53.6" rx="6.51" ry="5.17" transform="rotate(39 46.1 53.6)" fill="#a30505" stroke="#c60808"/><ellipse cx="69.4" cy="59" rx="6.01" ry="3.99" transform="rotate(99 69.4 59)" fill="#d10505" stroke="#f90808"/><ellipse cx="80.8" cy="64.3" rx="6.08" ry="4.24" transform="rotate(76 80.8 64.3)" fill="#bb0505" stroke="#e10808"/><ellipse cx="94.5" cy="98.3" rx="5.82" ry="4.26" transform="rotate(104 94.5 98.3)" fill="#940505" stroke="#b50808"/><ellipse cx="73.7" cy="93.6" rx="6.17" ry="4.61" transform="rotate(47 73.7 93.6)" fill="#b30505" stroke="#d70808"/><ellipse cx="42.3" cy="68.2" rx="6.44" ry="4.67" transform="rotate(5 42.3 68.2)" fill="#c90505" stroke="#f00808"/><ellipse cx="71.6" cy="82.1" rx="6.32" ry="5.69" transform="rotate(32 71.6 82.1)" fill="#9d0505" stroke="#be0808"/><ellipse cx="53.4" cy="105.7" rx="5.24" ry="3.67" transform="rotate(75 53.4 105.7)" fill="#bb0505" stroke="#e10808"/><ellipse cx="55.6" cy="71.6" rx="6.26" ry="4.33" transform="rotate(141 55.6 71.6)" fill="#940505" stroke="#b40808"/><ellipse cx="56.2" cy="90.9" rx="5.51" ry="4.86" transform="rotate(140 56.2 90.9)" fill="#c80505" stroke="#ef0808"/><ellipse cx="128.2" cy="131.4" rx="5.58" ry="4.04" transform="rotate(24 128.2 131.4)" fill="#bf0505" stroke="#e50808"/><ellipse cx="116.1" cy="131.3" rx="5.97" ry="4.43" transform="rotate(40 116.1 131.3)" fill="#c40505" stroke="#eb0808"/><ellipse cx="109.8" cy="123.2" rx="5.22" ry="4.58" transform="rotate(119 109.8 123.2)" fill="#cd0505" stroke="#f50808"/><ellipse cx="120.4" cy="104" rx="6.73" ry="5.51" transform="rotate(61 120.4 104)" fill="#900505" stroke="#b00808"/><ellipse cx="133.6" cy="108.3" rx="5.37" ry="3.72" transform="rotate(139 133.6 108.3)" fill="#7c0505" stroke="#990808"/><ellipse cx="141.2" cy="121.3" rx="5.78" ry="4.88" transform="rotate(91 141.2 121.3)" fill="#8d0505" stroke="#ac0808"/><ellipse cx="175" cy="83.7" rx="6.48" ry="4.61" transform="rotate(60 175 83.7)" fill="#be0505" stroke="#e30808"/><ellipse cx="189.1" cy="83" rx="6.58" ry="4.78" transform="rotate(177 189.1 83)" fill="#b80505" stroke="#dd0808"/><ellipse cx="206.4" cy="89.9" rx="6.82" ry="5.02" transform="rotate(176 206.4 89.9)" fill="#a60505" stroke="#c80808"/><ellipse cx="217.3" cy="93.3" rx="5.38" ry="4.7" transform="rotate(173 217.3 93.3)" fill="#a60505" stroke="#c90808"/><ellipse cx="217.3" cy="106.7" rx="6.15" ry="4.19" transform="rotate(164 217.3 106.7)" fill="#7f0505" stroke="#9d0808"/><ellipse cx="207.4" cy="116.7" rx="5.34" ry="3.86" transform="rotate(146 207.4 116.7)" fill="#c10505" stroke="#e70808"/><ellipse cx="191" cy="132.7" rx="6.32" ry="5.73" transform="rotate(163 191 132.7)" fill="#b20505" stroke="#d60808"/><ellipse cx="180.8" cy="129.4" rx="5.98" ry="4.16" transform="rotate(87 180.8 129.4)" fill="#b70505" stroke="#dc0808"/><ellipse cx="163.5" cy="128.1" rx="6.34" ry="5.47" transform="rotate(59 163.5 128.1)" fill="#810505" stroke="#9f0808"/><ellipse cx="153.3" cy="124.7" rx="6.6" ry="5.92" transform="rotate(97 153.3 124.7)" fill="#bc0505" stroke="#e20808"/><ellipse cx="146.9" cy="108.2" rx="6.46" ry="4.76" transform="rotate(63 146.9 108.2)" fill="#8f0505" stroke="#af0808"/><ellipse cx="154.9" cy="83.9" rx="5.21" ry="4.62" transform="rotate(177 154.9 83.9)" fill="#950505" stroke="#b50808"/><ellipse cx="182.3" cy="93.4" rx="5.16" ry="3.86" transform="rotate(147 182.3 93.4)" fill="#b40505" stroke="#d90808"/><ellipse cx="186.3" cy="116.3" rx="5.96" ry="5.29" transform="rotate(54 186.3 116.3)" fill="#940505" stroke="#b50808"/><ellipse cx="194.4" cy="102.8" rx="5.38" ry="4.52" transform="rotate(68 194.4 102.8)" fill="#8d0505" stroke="#ac0808"/><ellipse cx="167.2" cy="33.3" rx="6.89" ry="4.55" transform="rotate(68 167.2 33.3)" fill="#a00505" stroke="#c20808"/><ellipse cx="188.9" cy="29.3" rx="6.93" ry="5.76" transform="rotate(176 188.9 29.3)" fill="#c10505" stroke="#e70808"/><ellipse cx="199.4" cy="27.7" rx="5.27" ry="4.73" transform="rotate(102 199.4 27.7)" fill="#b70505" stroke="#dc0808"/><ellipse cx="207.9" cy="32.6" rx="6.18" ry="4.24" transform="rotate(98 207.9 32.6)" fill="#950505" stroke="#b50808"/><ellipse cx="218.9" cy="37.4" rx="6.63" ry="5.75" transform="rotate(0 218.9 37.4)" fill="#a80505" stroke="#cb0808"/><ellipse cx="222.5" cy="52.8" rx="5.61" ry="5.04" transform="rotate(100 222.5 52.8)" fill="#c40505" stroke="#ea0808"/><ellipse cx="210.8" cy="58.7" rx="5.34" ry="3.86" transform="rotate(157 210.8 58.7)" fill="#bb0505" stroke="#e00808"/><ellipse cx="197.7" cy="58.5" rx="5.31" ry="3.96" transform="rotate(32 197.7 58.5)" fill="#af0505" stroke="#d30808"/><ellipse cx="171.9" cy="56.6" rx="5.74" ry="4.66" transform="rotate(91 171.9 56.6)" fill="#c80505" stroke="#ef0808"/><ellipse cx="160.6" cy="41.2" rx="5.31" ry="3.67" transform="rotate(7 160.6 41.2)" fill="#a50505" stroke="#c80808"/><ellipse cx="196.1" cy="47" rx="6.4" ry="5.21" transform="rotate(138 196.1 47)" fill="#9f0505" stroke="#c10808"/><ellipse cx="18.4" cy="174.4" rx="5.27" ry="3.51" transform="rotate(3 18.4 174.4)" fill="#a80505" stroke="#cb0808"/><ellipse cx="24.4" cy="160.5" rx="5.49" ry="3.91" transform="rotate(77 24.4 160.5)" fill="#c00505" stroke="#e60808"/><ellipse cx="35.2" cy="152" rx="5.59" ry="4.39" transform="rotate(12 35.2 152)" fill="#c90505" stroke="#f00808"/><ellipse cx="49.4" cy="154.1" rx="6.9" ry="5.87" transform="rotate(14 49.4 154.1)" fill="#bf0505" stroke="#e50808"/><ellipse cx="66.7" cy="165.3" rx="6.88" ry="4.92" transform="rotate(110 66.7 165.3)" fill="#c70505" stroke="#ee0808"/><ellipse cx="77.5" cy="162.1" rx="6.2" ry="4.7" transform="rotate(10 77.5 162.1)" fill="#bb0505" stroke="#e00808"/><ellipse cx="77.7" cy="179.8" rx="5.52" ry="4.26" transform="rotate(13 77.7 179.8)" fill="#c10505" stroke="#e70808"/><ellipse cx="74.4" cy="191.5" rx="5.25" ry="4.78" transform="rotate(21 74.4 191.5)" fill="#ad0505" stroke="#d00808"/><ellipse cx="73.1" cy="213.6" rx="6.14" ry="4.62" transform="rotate(3 73.1 213.6)" fill="#a70505" stroke="#c90808"/><ellipse cx="49.4" cy="218.3" rx="6.35" ry="4.88" transform="rotate(73 49.4 218.3)" fill="#bc0505" stroke="#e10808"/><ellipse cx="28.9" cy="211.3" rx="6.17" ry="5.43" transform="rotate(92 28.9 211.3)" fill="#7d0505" stroke="#9a0808"/><ellipse cx="13.1" cy="207.9" rx="5.88" ry="4.11" transform="rotate(44 13.1 207.9)" fill="#7a0505" stroke="#970808"/><ellipse cx="8.2" cy="197.6" rx="5.55" ry="4.31" transform="rotate(38 8.2 197.6)" fill="#ba0505" stroke="#df0808"/><ellipse cx="51.8" cy="171.9" rx="5.08" ry="3.99" transform="rotate(165 51.8 171.9)" fill="#bd0505" stroke="#e20808"/><ellipse cx="31.1" cy="186" rx="5.58" ry="4.26" transform="rotate(0 31.1 186)" fill="#ad0505" stroke="#d00808"/><ellipse cx="38.8" cy="166.8" rx="6.13" ry="5.33" transform="rotate(78 38.8 166.8)" fill="#940505" stroke="#b40808"/><ellipse cx="54.8" cy="181.7" rx="6.27" ry="4.64" transform="rotate(93 54.8 181.7)" fill="#870505" stroke="#a60808"/><ellipse cx="39.8" cy="202.4" rx="5.22" ry="4.38" transform="rotate(160 39.8 202.4)" fill="#950505" stroke="#b50808"/><ellipse cx="43.7" cy="34.1" rx="6.48" ry="5.38" transform="rotate(72 43.7 34.1)" fill="#b60505" stroke="#da0808"/><ellipse cx="30.8" cy="32.7" rx="5.45" ry="3.92" transform="rotate(105 30.8 32.7)" fill="#b70505" stroke="#db0808"/><ellipse cx="20.8" cy="30.3" rx="6.79" ry="5.78" transform="rotate(96 20.8 30.3)" fill="#7b0505" stroke="#990808"/><ellipse cx="9.1" cy="27.7" rx="6.93" ry="5.4" transform="rotate(25 9.1 27.7)" fill="#b10505" stroke="#d50808"/><ellipse cx="5.3" cy="12.7" rx="6.12" ry="4.55" transform="rotate(21 5.3 12.7)" fill="#bf0505" stroke="#e50808"/><ellipse cx="17.8" cy="4.2" rx="5.6" ry="4.91" transform="rotate(4 17.8 4.2)" fill="#ad0505" stroke="#d00808"/><ellipse cx="50.3" cy="4.6" rx="5.79" ry="4.42" transform="rotate(54 50.3 4.6)" fill="#7e0505" stroke="#9b0808"/><ellipse cx="69.4" cy="23.6" rx="5.6" ry="4.1" transform="rotate(141 69.4 23.6)" fill="#a90505" stroke="#cb0808"/><ellipse cx="54.7" cy="32.7" rx="6.17" ry="4.12" transform="rotate(101 54.7 32.7)" fill="#8f0505" stroke="#af0808"/><ellipse cx="29.7" cy="16" rx="5.31" ry="4" transform="rotate(177 29.7 16)" fill="#bc0505" stroke="#e20808"/><ellipse cx="18" cy="16.9" rx="5.01" ry="4.34" transform="rotate(55 18 16.9)" fill="#980505" stroke="#b90808"/><ellipse cx="45.7" cy="14.6" rx="6.18" ry="4.38" transform="rotate(89 45.7 14.6)" fill="#a50505" stroke="#c80808"/><ellipse cx="173.4" cy="196.8" rx="5.53" ry="4.01" transform="rotate(88 173.4 196.8)" fill="#810505" stroke="#9e0808"/><ellipse cx="180.4" cy="207" rx="5.5" ry="4.1" transform="rotate(122 180.4 207)" fill="#b40505" stroke="#d80808"/><ellipse cx="171.3" cy="223.1" rx="5.78" ry="5.09" transform="rotate(97 171.3 223.1)" fill="#bc0505" stroke="#e10808"/><ellipse cx="155.2" cy="230.1" rx="6.39" ry="5.63" transform="rotate(11 155.2 230.1)" fill="#8e0505" stroke="#ad0808"/><ellipse cx="141.7" cy="233.5" rx="6.33" ry="4.39" transform="rotate(107 141.7 233.5)" fill="#aa0505" stroke="#ce0808"/><ellipse cx="129.7" cy="221.2" rx="6.84" ry="5.48" transform="rotate(117 129.7 221.2)" fill="#8b0505" stroke="#aa0808"/><ellipse cx="122.7" cy="201.2" rx="5.81" ry="4.32" transform="rotate(63 122.7 201.2)" fill="#8e0505" stroke="#ad0808"/><ellipse cx="143.9" cy="193.4" rx="6.27" ry="5.52" transform="rotate(117 143.9 193.4)" fill="#b60505" stroke="#db0808"/><ellipse cx="158.8" cy="207.2" rx="6.5" ry="5.83" transform="rotate(130 158.8 207.2)" fill="#9d0505" stroke="#be0808"/><ellipse cx="196.3" cy="193.6" rx="5.68" ry="4.42" transform="rotate(25 196.3 193.6)" fill="#af0505" stroke="#d30808"/><ellipse cx="189.3" cy="182.5" rx="6.1" ry="4.95" transform="rotate(95 189.3 182.5)" fill="#a70505" stroke="#c90808"/><ellipse cx="199" cy="170.4" rx="5.73" ry="4.25" transform="rotate(2 199 170.4)" fill="#9b0505" stroke="#bd0808"/><ellipse cx="236.7" cy="180.8" rx="5.29" ry="4.3" transform="rotate(62 236.7 180.8)" fill="#830505" stroke="#a20808"/><ellipse cx="235.5" cy="193.3" rx="5.94" ry="5.32" transform="rotate(41 235.5 193.3)" fill="#ba0505" stroke="#df0808"/><ellipse cx="214.2" cy="207.2" rx="6.7" ry="4.79" transform="rotate(57 214.2 207.2)" fill="#900505" stroke="#b00808"/><ellipse cx="219.4" cy="191.7" rx="6.4" ry="5.23" transform="rotate(49 219.4 191.7)" fill="#af0505" stroke="#d30808"/><ellipse cx="217.1" cy="179.8" rx="6.18" ry="4.76" transform="rotate(7 217.1 179.8)" fill="#9a0505" stroke="#bb0808"/><ellipse cx="99.7" cy="196.9" rx="6.73" ry="5.47" transform="rotate(127 99.7 196.9)" fill="#b00505" stroke="#d40808"/><ellipse cx="99.9" cy="175.8" rx="6.87" ry="5.76" transform="rotate(43 99.9 175.8)" fill="#900505" stroke="#b00808"/><ellipse cx="116.2" cy="164.8" rx="5.64" ry="4.03" transform="rotate(118 116.2 164.8)" fill="#940505" stroke="#b50808"/><ellipse cx="124" cy="175.8" rx="6.94" ry="6" transform="rotate(143 124 175.8)" fill="#a20505" stroke="#c40808"/><ellipse cx="117.7" cy="219.1" rx="4.47" ry="3.02" transform="rotate(84 117.7 219.1)" fill="#620505" stroke="#7c0808"/><ellipse cx="7.5" cy="74.6" rx="4.43" ry="3.77" transform="rotate(126 7.5 74.6)" fill="#870505" stroke="#a60808"/><ellipse cx="15.2" cy="229.2" rx="5.74" ry="3.85" transform="rotate(145 15.2 229.2)" fill="#830505" stroke="#a10808"/><ellipse cx="88" cy="146.1" rx="4.84" ry="3.35" transform="rotate(97 88 146.1)" fill="#8f0505" stroke="#af0808"/><ellipse cx="184.8" cy="54.2" rx="4.31" ry="3.43" transform="rotate(169 184.8 54.2)" fill="#650505" stroke="#7f0808"/><ellipse cx="99.5" cy="75.6" rx="4.62" ry="4.14" transform="rotate(84 99.5 75.6)" fill="#800505" stroke="#9e0808"/><ellipse cx="28.1" cy="128.5" rx="4.28" ry="3.38" transform="rotate(96 28.1 128.5)" fill="#680505" stroke="#830808"/><ellipse cx="70.5" cy="201.7" rx="5.25" ry="3.8" transform="rotate(155 70.5 201.7)" fill="#910505" stroke="#b10808"/><ellipse cx="166" cy="76" rx="5.19" ry="4.39" transform="rotate(85 166 76)" fill="#800505" stroke="#9e0808"/><ellipse cx="182.1" cy="152.5" rx="5.68" ry="3.79" transform="rotate(104 182.1 152.5)" fill="#8a0505" stroke="#a90808"/><ellipse cx="236.4" cy="127.3" rx="5.65" ry="4.64" transform="rotate(159 236.4 127.3)" fill="#8e0505" stroke="#ad0808"/><ellipse cx="209.4" cy="155" rx="5.21" ry="4.31" transform="rotate(71 209.4 155)" fill="#6f0505" stroke="#8a0808"/><ellipse cx="234.3" cy="49" rx="5.06" ry="3.86" transform="rotate(11 234.3 49)" fill="#7e0505" stroke="#9c0808"/><ellipse cx="165.5" cy="162.7" rx="4.62" ry="3.75" transform="rotate(21 165.5 162.7)" fill="#790505" stroke="#950808"/><ellipse cx="91.2" cy="47.5" rx="5.27" ry="4.61" transform="rotate(112 91.2 47.5)" fill="#9d0505" stroke="#be0808"/><ellipse cx="119" cy="141.4" rx="5.63" ry="4.96" transform="rotate(52 119 141.4)" fill="#740505" stroke="#900808"/><ellipse cx="90.5" cy="82.2" rx="4.88" ry="4.42" transform="rotate(142 90.5 82.2)" fill="#8a0505" stroke="#aa0808"/><ellipse cx="44.9" cy="80.7" rx="5.47" ry="3.69" transform="rotate(95 44.9 80.7)" fill="#910505" stroke="#b10808"/><ellipse cx="41.8" cy="143.4" rx="5.35" ry="4.57" transform="rotate(96 41.8 143.4)" fill="#600505" stroke="#790808"/><ellipse cx="231.5" cy="204.4" rx="4.97" ry="3.64" transform="rotate(140 231.5 204.4)" fill="#850505" stroke="#a30808"/><ellipse cx="40.8" cy="95.7" rx="5.51" ry="5.02" transform="rotate(10 40.8 95.7)" fill="#5d0505" stroke="#760808"/><ellipse cx="40.1" cy="44.9" rx="5.14" ry="4.7" transform="rotate(77 40.1 44.9)" fill="#7a0505" stroke="#970808"/><ellipse cx="97.7" cy="232" rx="4.75" ry="4.23" transform="rotate(15 97.7 232)" fill="#680505" stroke="#830808"/><ellipse cx="27.4" cy="81.2" rx="4.38" ry="3.86" transform="rotate(168 27.4 81.2)" fill="#890505" stroke="#a70808"/><ellipse cx="132.9" cy="191.7" rx="4.96" ry="4.16" transform="rotate(129 132.9 191.7)" fill="#8e0505" stroke="#ad0808"/><ellipse cx="120.6" cy="76.9" rx="4.36" ry="3.44" transform="rotate(0 120.6 76.9)" fill="#890505" stroke="#a80808"/><ellipse cx="99.6" cy="155.3" rx="4.29" ry="3.47" transform="rotate(170 99.6 155.3)" fill="#8c0505" stroke="#ac0808"/><ellipse cx="228.9" cy="218" rx="4.5" ry="3.26" transform="rotate(48 228.9 218)" fill="#920505" stroke="#b20808"/><ellipse cx="183.1" cy="68.2" rx="4.91" ry="3.86" transform="rotate(80 183.1 68.2)" fill="#600505" stroke="#7a0808"/><ellipse cx="219.6" cy="228.2" rx="4.95" ry="3.81" transform="rotate(19 219.6 228.2)" fill="#a00505" stroke="#c10808"/><ellipse cx="62.8" cy="188.6" rx="4.42" ry="3.14" transform="rotate(23 62.8 188.6)" fill="#9c0505" stroke="#be0808"/><ellipse cx="128.2" cy="232.9" rx="5.02" ry="4.46" transform="rotate(103 128.2 232.9)" fill="#9b0505" stroke="#bc0808"/><ellipse cx="234.4" cy="232.1" rx="4.99" ry="3.3" transform="rotate(64 234.4 232.1)" fill="#6a0505" stroke="#850808"/><ellipse cx="12.4" cy="144.3" rx="5.16" ry="4.17" transform="rotate(99 12.4 144.3)" fill="#820505" stroke="#a00808"/><ellipse cx="224.4" cy="67.8" rx="4.35" ry="3.72" transform="rotate(48 224.4 67.8)" fill="#6d0505" stroke="#880808"/><ellipse cx="239.1" cy="222.2" rx="5.3" ry="4.05" transform="rotate(131 239.1 222.2)" fill="#6b0505" stroke="#860808"/><ellipse cx="117.4" cy="92.3" rx="4.75" ry="3.34" transform="rotate(125 117.4 92.3)" fill="#7c0505" stroke="#990808"/><ellipse cx="158.3" cy="6.1" rx="5.06" ry="4.24" transform="rotate(0 158.3 6.1)" fill="#9f0505" stroke="#c10808"/><ellipse cx="133.5" cy="142" rx="4.7" ry="3.65" transform="rotate(119 133.5 142)" fill="#8d0505" stroke="#ac0808"/><ellipse cx="220.2" cy="139.9" rx="4.63" ry="3.43" transform="rotate(160 220.2 139.9)" fill="#5d0505" stroke="#770808"/><ellipse cx="144.6" cy="40.7" rx="4.26" ry="3.57" transform="rotate(50 144.6 40.7)" fill="#970505" stroke="#b70808"/><ellipse cx="94.1" cy="126" rx="5.46" ry="4.12" transform="rotate(45 94.1 126)" fill="#6c0505" stroke="#870808"/><ellipse cx="114.8" cy="188.9" rx="4.6" ry="3.18" transform="rotate(164 114.8 188.9)" fill="#870505" stroke="#a60808"/><ellipse cx="161" cy="52.3" rx="4.45" ry="3.2" transform="rotate(134 161 52.3)" fill="#880505" stroke="#a70808"/><ellipse cx="63.1" cy="9.7" rx="5.23" ry="3.8" transform="rotate(133 63.1 9.7)" fill="#6a0505" stroke="#850808"/><ellipse cx="223.1" cy="153" rx="4.52" ry="3.95" transform="rotate(74 223.1 153)" fill="#970505" stroke="#b80808"/><ellipse cx="50.2" cy="197.5" rx="4.49" ry="3.68" transform="rotate(85 50.2 197.5)" fill="#720505" stroke="#8e0808"/><ellipse cx="133.1" cy="211.3" rx="4.63" ry="4.19" transform="rotate(44 133.1 211.3)" fill="#870505" stroke="#a60808"/><ellipse cx="139.8" cy="98.2" rx="5.23" ry="4.42" transform="rotate(145 139.8 98.2)" fill="#650505" stroke="#7f0808"/><ellipse cx="236.9" cy="102.7" rx="4.62" ry="3.28" transform="rotate(101 236.9 102.7)" fill="#6e0505" stroke="#8a0808"/><ellipse cx="4.3" cy="59.5" rx="4.95" ry="3.35" transform="rotate(41 4.3 59.5)" fill="#5e0505" stroke="#780808"/><ellipse cx="172.1" cy="105.2" rx="5.31" ry="3.51" transform="rotate(67 172.1 105.2)" fill="#940505" stroke="#b40808"/><ellipse cx="91.2" cy="18.4" rx="5.62" ry="4.68" transform="rotate(139 91.2 18.4)" fill="#910505" stroke="#b10808"/><ellipse cx="207.9" cy="132.8" rx="5.79" ry="4.24" transform="rotate(163 207.9 132.8)" fill="#a00505" stroke="#c20808"/><ellipse cx="90.5" cy="163.2" rx="5.47" ry="4.57" transform="rotate(111 90.5 163.2)" fill="#5b0505" stroke="#740808"/><ellipse cx="184.8" cy="40.6" rx="5.35" ry="3.61" transform="rotate(111 184.8 40.6)" fill="#680505" stroke="#830808"/><ellipse cx="150.9" cy="151" rx="5.78" ry="4.4" transform="rotate(127 150.9 151)" fill="#600505" stroke="#7a0808"/><ellipse cx="62.8" cy="134.7" rx="4.92" ry="4.51" transform="rotate(92 62.8 134.7)" fill="#880505" stroke="#a70808"/><ellipse cx="159.5" cy="195.4" rx="4.76" ry="3.54" transform="rotate(133 159.5 195.4)" fill="#610505" stroke="#7b0808"/><ellipse cx="34.9" cy="235.4" rx="4.78" ry="3.78" transform="rotate(70 34.9 235.4)" fill="#6e0505" stroke="#8a0808"/></g><text x="34" y="212" font-size="15" text-anchor="middle" font-weight="bold" fill="#fff">*</text><line x1="126.1" y1="81.3" x2="120.1" y2="86.8" stroke="#fff" stroke-width="1.5"/><path d="M116.1 90.5L118.7 83.7L123 88.5Z" fill="#fff"/><line x1="47.5" y1="99.6" x2="54.5" y2="109.7" stroke="#fff" stroke-width="1.5"/><path d="M57.6 114.2L51.3 110.7L56.5 107.1Z" fill="#fff"/><line x1="96" y1="107.9" x2="92.5" y2="116.5" stroke="#fff" stroke-width="1.5"/><path d="M90.5 121.6L89.9 114.3L95.9 116.7Z" fill="#fff"/><line x1="83.2" y1="132.5" x2="90.1" y2="142.6" stroke="#fff" stroke-width="1.5"/><path d="M93.2 147.2L86.9 143.6L92.2 140Z" fill="#fff"/><line x1="121.6" y1="149" x2="128.5" y2="159.1" stroke="#fff" stroke-width="1.5"/><path d="M131.6 163.6L125.3 160.1L130.6 156.4Z" fill="#fff"/><line x1="138.9" y1="149" x2="145.9" y2="159.1" stroke="#fff" stroke-width="1.5"/><path d="M149 163.6L142.7 160.1L147.9 156.4Z" fill="#fff"/><line x1="209.3" y1="122.5" x2="216.2" y2="132.6" stroke="#fff" stroke-width="1.5"/><path d="M219.4 137.1L213 133.6L218.3 129.9Z" fill="#fff"/><line x1="83.2" y1="188.3" x2="88.6" y2="182.3" stroke="#fff" stroke-width="1.5"/><path d="M92.3 178.2L90.3 185.2L85.6 180.9Z" fill="#fff"/><line x1="162.7" y1="191" x2="169.6" y2="201.1" stroke="#fff" stroke-width="1.5"/><path d="M172.7 205.6L166.4 202.1L171.7 198.5Z" fill="#fff"/><rect x="188" y="235.5" width="42" height="3.2" fill="#fff"/></svg><rect x="1737.3" y="290.7" width="241.2" height="21.1" fill="#000"/><rect x="1737.3" y="319.8" width="241.2" height="241.1" fill="#000"/><svg x="1737.3" y="319.8" width="241.2" height="241.1" viewBox="0 0 242 241" preserveAspectRatio="none" overflow="hidden"><rect x="0" y="0" width="242" height="241" fill="#140306"/><g filter="url(#bl2)"><ellipse cx="53" cy="86" rx="50" ry="42" transform="rotate(0 53 86)" fill="#3a0814"/><ellipse cx="126" cy="119" rx="20" ry="20" transform="rotate(0 126 119)" fill="#3a0814"/><ellipse cx="183" cy="106" rx="42" ry="37" transform="rotate(10 183 106)" fill="#3a0814"/><ellipse cx="192" cy="44" rx="46" ry="22" transform="rotate(-10 192 44)" fill="#3a0814"/><ellipse cx="46" cy="186" rx="44" ry="44" transform="rotate(0 46 186)" fill="#3a0814"/><ellipse cx="35" cy="18" rx="42" ry="22" transform="rotate(0 35 18)" fill="#3a0814"/><ellipse cx="152" cy="212" rx="38" ry="28" transform="rotate(0 152 212)" fill="#3a0814"/><ellipse cx="214" cy="186" rx="28" ry="26" transform="rotate(0 214 186)" fill="#3a0814"/><ellipse cx="112" cy="184" rx="22" ry="24" transform="rotate(0 112 184)" fill="#3a0814"/></g><g filter="url(#spk)" opacity="0.75"><rect x="0" y="0" width="242" height="241" fill="#000"/></g><g filter="url(#bl3)" opacity="0.6"><ellipse cx="110" cy="150" rx="70" ry="26" transform="rotate(28 110 150)" fill="#1e7a30"/><ellipse cx="190" cy="165" rx="40" ry="28" transform="rotate(0 190 165)" fill="#1a6a28"/><ellipse cx="60" cy="120" rx="20" ry="30" transform="rotate(0 60 120)" fill="#145a20"/></g><path d="M268.4 109L259 113.4L252 123.1L239.3 131L231.6 136.7L223.2 146.6L212.6 150.5M212.6 150.5L218.7 160L226.3 164L228.2 173.7L232.1 179.7L241.5 188.8L245.3 194.9M268.4 109L258.7 102.2L250.6 101.1L238.1 96.7L224.5 89.8L214.7 89.9L205.9 83.1M205.9 83.1L201.1 94.2L198.1 106.7L195.3 117.8L189.3 124.8L187.4 140.7L183.4 151.8M212.6 150.5L209.3 150.6L202.1 151.5L196 149.8L191.8 151.8L191 152.6L183.4 151.8M50 246.1L61.1 244.3L69.6 241.3L78.5 236.6L86.9 236L99.2 236.4L107.8 233.4M107.8 233.4L111 239.5L110.8 242.9L115.5 245.6L116.1 249.5L114.3 253.9L118.1 257.8M245.3 194.9L240.7 198.8L237.7 203L232 209.1L233 209.8L226.6 214.1L224.3 217.9M294.4 40.3L283.7 40.4L271.8 36.8L258.2 40.7L248.4 36.5L235.3 36.1L224.9 37.6M294.4 40.3L279.8 30.9L267.6 19.8L254.8 5.4L240.5 -0.5L227 -15.9L214.8 -25.4M224.9 37.6L224.3 28.9L220.5 21.9L216 11.7L214.8 0.4L213 -5L211.9 -15.3M214.8 -25.4L214.1 -26.2L212.3 -20L214.7 -21.8L216.1 -19.2L210.8 -17.2L211.9 -15.3M205.9 83.1L206.2 84.2L205.5 80.4L202.5 78.1L202.3 78.2L201.8 76.2L200.6 76.9M200.6 76.9L202.8 69.8L204.9 63.6L208 57.7L213.1 53.5L213.5 48.2L218.2 41.6M218.2 41.6L219.7 42.9L220.2 40L220.6 39.8L223.3 39.2L223.4 39L224.9 37.6M133.1 193.6L128.8 187.5L123.1 180.9L118.6 173.1L115.8 170.5L112.6 161.2L106.9 154.7M133.1 193.6L137.5 188.8L144.2 183.1L146.7 175.6L151.2 168.9L155.1 162.9L160.9 157.1M160.9 157.1L149 155.1L143.4 155.1L134.6 154.2L124.4 156.1L114.5 154.2L106.9 154.7M156.5 121.3L163.2 125.1L162.3 130L166.6 135.4L171.2 141.3L172.8 144.4L176.6 149.6M156.5 121.3L145 122.5L136.2 128.6L127.7 131.9L119.1 133.8L111 136.5L98.6 140.4M176.6 149.6L173.2 150.3L172.9 152L167.8 154L167.6 154.5L163.2 157.3L160.9 157.1M98.6 140.4L100.1 143.5L98 144.4L99.7 143.4L101 147.8L99.2 152.4L99.9 151.2M99.9 151.2L101.2 150.9L102.1 153.2L104.4 152.9L103.4 152.7L104.6 152.8L106.9 154.7M11.3 74.2L-51.4 77.6L-114 81.2L-177.9 86.1L-239.9 91.8L-303.4 94.6L-364.9 98.3M11.3 74.2L14.1 79.9L18 89.2L17 97.2L23.9 102.7L27.7 111.4L28.3 118.6M28.3 118.6L26.7 120.8L27.7 119.8L25.2 123.5L27 125.5L28.4 125.5L27.8 127.7M27.8 127.7L25.7 132.9L27.2 134.4L23 135L21.6 141.3L21.2 141.6L19.2 144.9M19.2 144.9L-46.5 137.3L-110 129.4L-171.9 123L-236.7 113.4L-300.6 108.5L-364.9 98.3M206.3 214.9L204.3 220L203.3 229L203.4 234.9L196.2 242L194.3 248.5L191.3 256.1M206.3 214.9L200.9 210.8L199.2 211L195.2 212.8L193.5 209.8L188.4 207.1L185.6 205.1M185.6 205.1L185.3 204.8L186.5 205.9L185.9 205.3L183.6 204.1L186 204.6L185.5 205.1M185.5 205.1L181.5 209.7L178.3 212.4L177.6 216.8L175.4 222L171.5 226.9L167.5 229.5M167.5 229.5L168.6 233.8L173.7 237.7L179.3 244.4L183.3 249.4L186.7 251.6L191.3 256.1M224.3 217.9L221.4 218.7L218.2 216.1L214.8 214.6L213.9 216.9L209.8 215.8L206.3 214.9M183.4 151.8L182.6 151.3L184.5 150.8L182.4 153.9L185.4 152.2L184.1 152.1L183.3 151.9M183.3 151.9L185.6 160.2L184.2 170.2L186.4 178.1L185.1 186.7L184.3 195.4L185.6 205.1M183.3 151.9L182.3 152.7L180.2 150.3L179.5 151.2L179.8 148.7L178.2 148.7L176.6 149.6M132.7 196.9L142.5 197.1L148.9 198.7L159 199.7L168.2 202.6L176.8 204.1L185.5 205.1M132.7 196.9L133.9 195.4L132.9 195.8L130.2 195.8L132 193.8L132.4 194.3L133.1 193.6M107.8 233.4L108.2 234L106.8 234.1L108.2 232.6L107.6 234.1L108.2 233.8L107.6 232.8M107.6 232.8L111.9 228.3L118.9 221.5L118.1 217.1L123.6 207.1L125.5 203.5L132.7 196.9M118.1 257.8L127.7 254.4L134 250.3L142.7 242.9L151.1 239.2L159.3 234.7L167.5 229.5M66 -18.6L61.8 -9.2L62.5 -3.1L60.9 3.7L60.3 8.7L59.7 19L57.8 25.5M66 -18.6L54.6 -14.4L45.3 -5.8L36.4 2.3L28.5 10.2L16.2 16.5L6.6 23.3M57.8 25.5L46.3 25.7L41.1 28.2L35 30L28.1 30.2L19.5 32.3L11.3 33.9M6.6 23.3L7.4 25.5L7.8 27.1L8.9 29.9L9.6 30.8L13.9 33L11.3 33.9M98.7 -88.7L93.9 -75.7L86.5 -64.5L83.3 -53.1L78.1 -41L73 -31.2L66 -18.6M11.3 74.2L11.9 73.5L13 74.3L9.8 74.2L10.2 75.2L11.1 71.1L11.6 73.8M11.6 73.8L11 68.5L11.9 59.7L12.3 54.6L13.3 48.4L11.9 39.5L11.3 33.9M11.6 73.8L18.6 72.2L24.9 70.3L30 68.5L38.2 66.1L44.7 63.3L51.5 61.6M57.8 25.5L59.2 29.7L59.5 32.3L59.9 35.6L62 36.5L64.5 40.2L64 44.5M51.5 61.6L53.7 57.1L53.4 56.8L55.9 50.4L59.6 48.2L61.7 49.7L64 44.5M28.3 118.6L35.9 114.6L45.3 110L52.5 107.1L60.7 101.2L69.1 94.6L77.1 91.8M51.5 61.6L56.2 66.7L60.8 72.6L66.3 74.3L67.8 81.1L71.7 87.3L77.1 91.8M96.3 135.8L84.8 134.7L71.4 131.9L62 131.2L49.9 130.3L38.9 127.7L27.8 127.7M96.3 135.8L98.9 128.1L98 122.9L98.9 114.5L96.8 108.9L98.9 98.5L99 94.6M99 94.6L92 93.5L91.2 93.3L88.6 92L87.8 93.9L82.4 92.6L77.1 91.8M210.9 37.9L201.9 36.9L197.5 35.9L191.7 34.9L184.4 32.2L179.2 30.4L172.8 30.1M210.9 37.9L207.1 33.7L206.8 27.7L202.1 21.5L197.2 18.5L195.3 11.8L191.2 8.1M191.2 8.1L189.4 9.8L187.7 12.4L184.1 12.2L181.2 13.2L177.2 13.5L175.7 17.4M172.8 30.1L171.6 26.3L173.7 26L172.5 23.6L175.2 22.8L175.1 19.8L175.7 17.4M218.2 41.6L216.5 42.2L213.8 40.7L211.6 42L214.5 36.4L211.5 36.7L210.9 37.9M211.9 -15.3L206.2 -12L203.9 -6.2L200.9 -5L198 0.8L195.7 4.8L191.2 8.1M98.7 -88.7L97.6 -87.2L100.1 -84.6L102.1 -81.4L101.9 -78.8L102.8 -77.6L103.6 -73.1M103.6 -73.1L118.3 -58.7L126.7 -45.2L139.5 -29.6L152 -11.2L164.4 1.7L175.7 17.4M111.9 -19L120.5 -6.9L125.8 5.8L132.3 18.6L138.4 28.2L148.5 41.8L154 55.2M111.9 -19L110 -27.6L108.5 -38.6L107.5 -47.3L107 -55.6L104.6 -63.1L103.6 -73.1M154 55.2L155.2 49.1L161.2 48.4L163.5 41.7L168.1 39.1L171 31.9L172.8 30.1M20.3 149.5L18.2 156.2L15.1 166.3L15.5 173.1L12.3 183.5L11.5 189.7L8.8 197.9M20.3 149.5L30.7 154.7L38.2 158.9L49.9 165.4L57.8 168.7L68.3 172.9L78.8 179.9M39.7 214.9L37.3 214.9L33.8 211L27.3 215.6L22.7 210.4L21 214.2L17 211.7M39.7 214.9L47.2 212L53.7 212.1L60 210.4L67.3 209.8L74.7 208L79.6 205M17 211.7L15.4 207L14.9 205.2L15.8 203.3L9.1 200.1L10.6 200.6L8.8 197.9M79.6 205L80.3 201.1L78.3 197.6L78.3 190.5L80.2 188.9L77.8 183.7L78.8 179.9M19.2 144.9L20.7 146.8L18.2 147.8L16.4 147.3L20.4 147.8L20.3 146.6L20.3 149.5M98.6 140.4L98 140.2L96.6 139L97.2 135.2L96.2 138.1L94.7 136.6L96.3 135.8M99.9 151.2L96.8 154.4L92.5 161.9L90.3 164.3L87.1 170.8L82.5 177L78.8 179.9M50 246.1L49.2 241.3L47.8 236.5L46.5 230.3L40.8 227.3L42.5 220.8L39.7 214.9M107.6 232.8L103 228.1L98.4 222.3L94.6 219L87.7 214.6L83.8 209.6L79.6 205M100.3 33.6L109.8 41.8L116.6 43.6L127.6 48.4L137.5 52.1L143.9 57.4L153.2 62.2M100.3 33.6L96.7 37.5L95 39.3L96.3 40L92.6 43.3L93.2 46.4L89.2 48.6M89.2 48.6L89.9 56.3L96.6 58.6L94.8 70.9L101.4 71.1L105.7 82L107.4 86.5M107.4 86.5L110.9 86.8L121.4 83.8L126.2 83.1L132.6 81.5L139.9 79.4L146.8 78.7M146.8 78.7L148.6 78.5L150.2 76.4L152.4 72.8L151.5 73.2L154.1 68.6L153.7 70.1M153.7 70.1L153 68.4L153.8 70.4L153.7 66L153.9 66.1L153 65.6L153.2 62.2M111.9 -19L108.4 -8.6L108.9 -0.2L108.1 7L104.7 16.4L101.5 23.8L100.3 33.6M154 55.2L152.9 57.4L150.8 55.8L153.7 60.3L153.3 61.5L153.2 60.3L153.2 62.2M64 44.5L66.2 45.4L74.6 46L75.2 47.3L79 45.7L86.4 48.4L89.2 48.6M99 94.6L101.7 93.6L101.7 92.1L102.8 91.9L102.9 86.7L104.9 89L107.4 86.5M156.5 121.3L154.2 111.2L156.9 105.9L151.4 100.7L150.5 92.7L146.4 86.5L146.8 78.7M200.6 76.9L191.5 75.5L185.9 74.1L174.8 72.7L170.1 73.3L159.8 71.3L153.7 70.1" fill="none" stroke="#1e7a2c" stroke-width="4.5" opacity="0.45" filter="url(#bl2)"/><path d="M268.4 109L259 113.4L252 123.1L239.3 131L231.6 136.7L223.2 146.6L212.6 150.5M212.6 150.5L218.7 160L226.3 164L228.2 173.7L232.1 179.7L241.5 188.8L245.3 194.9M268.4 109L258.7 102.2L250.6 101.1L238.1 96.7L224.5 89.8L214.7 89.9L205.9 83.1M205.9 83.1L201.1 94.2L198.1 106.7L195.3 117.8L189.3 124.8L187.4 140.7L183.4 151.8M212.6 150.5L209.3 150.6L202.1 151.5L196 149.8L191.8 151.8L191 152.6L183.4 151.8M50 246.1L61.1 244.3L69.6 241.3L78.5 236.6L86.9 236L99.2 236.4L107.8 233.4M107.8 233.4L111 239.5L110.8 242.9L115.5 245.6L116.1 249.5L114.3 253.9L118.1 257.8M245.3 194.9L240.7 198.8L237.7 203L232 209.1L233 209.8L226.6 214.1L224.3 217.9M294.4 40.3L283.7 40.4L271.8 36.8L258.2 40.7L248.4 36.5L235.3 36.1L224.9 37.6M294.4 40.3L279.8 30.9L267.6 19.8L254.8 5.4L240.5 -0.5L227 -15.9L214.8 -25.4M224.9 37.6L224.3 28.9L220.5 21.9L216 11.7L214.8 0.4L213 -5L211.9 -15.3M214.8 -25.4L214.1 -26.2L212.3 -20L214.7 -21.8L216.1 -19.2L210.8 -17.2L211.9 -15.3M205.9 83.1L206.2 84.2L205.5 80.4L202.5 78.1L202.3 78.2L201.8 76.2L200.6 76.9M200.6 76.9L202.8 69.8L204.9 63.6L208 57.7L213.1 53.5L213.5 48.2L218.2 41.6M218.2 41.6L219.7 42.9L220.2 40L220.6 39.8L223.3 39.2L223.4 39L224.9 37.6M133.1 193.6L128.8 187.5L123.1 180.9L118.6 173.1L115.8 170.5L112.6 161.2L106.9 154.7M133.1 193.6L137.5 188.8L144.2 183.1L146.7 175.6L151.2 168.9L155.1 162.9L160.9 157.1M160.9 157.1L149 155.1L143.4 155.1L134.6 154.2L124.4 156.1L114.5 154.2L106.9 154.7M156.5 121.3L163.2 125.1L162.3 130L166.6 135.4L171.2 141.3L172.8 144.4L176.6 149.6M156.5 121.3L145 122.5L136.2 128.6L127.7 131.9L119.1 133.8L111 136.5L98.6 140.4M176.6 149.6L173.2 150.3L172.9 152L167.8 154L167.6 154.5L163.2 157.3L160.9 157.1M98.6 140.4L100.1 143.5L98 144.4L99.7 143.4L101 147.8L99.2 152.4L99.9 151.2M99.9 151.2L101.2 150.9L102.1 153.2L104.4 152.9L103.4 152.7L104.6 152.8L106.9 154.7M11.3 74.2L-51.4 77.6L-114 81.2L-177.9 86.1L-239.9 91.8L-303.4 94.6L-364.9 98.3M11.3 74.2L14.1 79.9L18 89.2L17 97.2L23.9 102.7L27.7 111.4L28.3 118.6M28.3 118.6L26.7 120.8L27.7 119.8L25.2 123.5L27 125.5L28.4 125.5L27.8 127.7M27.8 127.7L25.7 132.9L27.2 134.4L23 135L21.6 141.3L21.2 141.6L19.2 144.9M19.2 144.9L-46.5 137.3L-110 129.4L-171.9 123L-236.7 113.4L-300.6 108.5L-364.9 98.3M206.3 214.9L204.3 220L203.3 229L203.4 234.9L196.2 242L194.3 248.5L191.3 256.1M206.3 214.9L200.9 210.8L199.2 211L195.2 212.8L193.5 209.8L188.4 207.1L185.6 205.1M185.6 205.1L185.3 204.8L186.5 205.9L185.9 205.3L183.6 204.1L186 204.6L185.5 205.1M185.5 205.1L181.5 209.7L178.3 212.4L177.6 216.8L175.4 222L171.5 226.9L167.5 229.5M167.5 229.5L168.6 233.8L173.7 237.7L179.3 244.4L183.3 249.4L186.7 251.6L191.3 256.1M224.3 217.9L221.4 218.7L218.2 216.1L214.8 214.6L213.9 216.9L209.8 215.8L206.3 214.9M183.4 151.8L182.6 151.3L184.5 150.8L182.4 153.9L185.4 152.2L184.1 152.1L183.3 151.9M183.3 151.9L185.6 160.2L184.2 170.2L186.4 178.1L185.1 186.7L184.3 195.4L185.6 205.1M183.3 151.9L182.3 152.7L180.2 150.3L179.5 151.2L179.8 148.7L178.2 148.7L176.6 149.6M132.7 196.9L142.5 197.1L148.9 198.7L159 199.7L168.2 202.6L176.8 204.1L185.5 205.1M132.7 196.9L133.9 195.4L132.9 195.8L130.2 195.8L132 193.8L132.4 194.3L133.1 193.6M107.8 233.4L108.2 234L106.8 234.1L108.2 232.6L107.6 234.1L108.2 233.8L107.6 232.8M107.6 232.8L111.9 228.3L118.9 221.5L118.1 217.1L123.6 207.1L125.5 203.5L132.7 196.9M118.1 257.8L127.7 254.4L134 250.3L142.7 242.9L151.1 239.2L159.3 234.7L167.5 229.5M66 -18.6L61.8 -9.2L62.5 -3.1L60.9 3.7L60.3 8.7L59.7 19L57.8 25.5M66 -18.6L54.6 -14.4L45.3 -5.8L36.4 2.3L28.5 10.2L16.2 16.5L6.6 23.3M57.8 25.5L46.3 25.7L41.1 28.2L35 30L28.1 30.2L19.5 32.3L11.3 33.9M6.6 23.3L7.4 25.5L7.8 27.1L8.9 29.9L9.6 30.8L13.9 33L11.3 33.9M98.7 -88.7L93.9 -75.7L86.5 -64.5L83.3 -53.1L78.1 -41L73 -31.2L66 -18.6M11.3 74.2L11.9 73.5L13 74.3L9.8 74.2L10.2 75.2L11.1 71.1L11.6 73.8M11.6 73.8L11 68.5L11.9 59.7L12.3 54.6L13.3 48.4L11.9 39.5L11.3 33.9M11.6 73.8L18.6 72.2L24.9 70.3L30 68.5L38.2 66.1L44.7 63.3L51.5 61.6M57.8 25.5L59.2 29.7L59.5 32.3L59.9 35.6L62 36.5L64.5 40.2L64 44.5M51.5 61.6L53.7 57.1L53.4 56.8L55.9 50.4L59.6 48.2L61.7 49.7L64 44.5M28.3 118.6L35.9 114.6L45.3 110L52.5 107.1L60.7 101.2L69.1 94.6L77.1 91.8M51.5 61.6L56.2 66.7L60.8 72.6L66.3 74.3L67.8 81.1L71.7 87.3L77.1 91.8M96.3 135.8L84.8 134.7L71.4 131.9L62 131.2L49.9 130.3L38.9 127.7L27.8 127.7M96.3 135.8L98.9 128.1L98 122.9L98.9 114.5L96.8 108.9L98.9 98.5L99 94.6M99 94.6L92 93.5L91.2 93.3L88.6 92L87.8 93.9L82.4 92.6L77.1 91.8M210.9 37.9L201.9 36.9L197.5 35.9L191.7 34.9L184.4 32.2L179.2 30.4L172.8 30.1M210.9 37.9L207.1 33.7L206.8 27.7L202.1 21.5L197.2 18.5L195.3 11.8L191.2 8.1M191.2 8.1L189.4 9.8L187.7 12.4L184.1 12.2L181.2 13.2L177.2 13.5L175.7 17.4M172.8 30.1L171.6 26.3L173.7 26L172.5 23.6L175.2 22.8L175.1 19.8L175.7 17.4M218.2 41.6L216.5 42.2L213.8 40.7L211.6 42L214.5 36.4L211.5 36.7L210.9 37.9M211.9 -15.3L206.2 -12L203.9 -6.2L200.9 -5L198 0.8L195.7 4.8L191.2 8.1M98.7 -88.7L97.6 -87.2L100.1 -84.6L102.1 -81.4L101.9 -78.8L102.8 -77.6L103.6 -73.1M103.6 -73.1L118.3 -58.7L126.7 -45.2L139.5 -29.6L152 -11.2L164.4 1.7L175.7 17.4M111.9 -19L120.5 -6.9L125.8 5.8L132.3 18.6L138.4 28.2L148.5 41.8L154 55.2M111.9 -19L110 -27.6L108.5 -38.6L107.5 -47.3L107 -55.6L104.6 -63.1L103.6 -73.1M154 55.2L155.2 49.1L161.2 48.4L163.5 41.7L168.1 39.1L171 31.9L172.8 30.1M20.3 149.5L18.2 156.2L15.1 166.3L15.5 173.1L12.3 183.5L11.5 189.7L8.8 197.9M20.3 149.5L30.7 154.7L38.2 158.9L49.9 165.4L57.8 168.7L68.3 172.9L78.8 179.9M39.7 214.9L37.3 214.9L33.8 211L27.3 215.6L22.7 210.4L21 214.2L17 211.7M39.7 214.9L47.2 212L53.7 212.1L60 210.4L67.3 209.8L74.7 208L79.6 205M17 211.7L15.4 207L14.9 205.2L15.8 203.3L9.1 200.1L10.6 200.6L8.8 197.9M79.6 205L80.3 201.1L78.3 197.6L78.3 190.5L80.2 188.9L77.8 183.7L78.8 179.9M19.2 144.9L20.7 146.8L18.2 147.8L16.4 147.3L20.4 147.8L20.3 146.6L20.3 149.5M98.6 140.4L98 140.2L96.6 139L97.2 135.2L96.2 138.1L94.7 136.6L96.3 135.8M99.9 151.2L96.8 154.4L92.5 161.9L90.3 164.3L87.1 170.8L82.5 177L78.8 179.9M50 246.1L49.2 241.3L47.8 236.5L46.5 230.3L40.8 227.3L42.5 220.8L39.7 214.9M107.6 232.8L103 228.1L98.4 222.3L94.6 219L87.7 214.6L83.8 209.6L79.6 205M100.3 33.6L109.8 41.8L116.6 43.6L127.6 48.4L137.5 52.1L143.9 57.4L153.2 62.2M100.3 33.6L96.7 37.5L95 39.3L96.3 40L92.6 43.3L93.2 46.4L89.2 48.6M89.2 48.6L89.9 56.3L96.6 58.6L94.8 70.9L101.4 71.1L105.7 82L107.4 86.5M107.4 86.5L110.9 86.8L121.4 83.8L126.2 83.1L132.6 81.5L139.9 79.4L146.8 78.7M146.8 78.7L148.6 78.5L150.2 76.4L152.4 72.8L151.5 73.2L154.1 68.6L153.7 70.1M153.7 70.1L153 68.4L153.8 70.4L153.7 66L153.9 66.1L153 65.6L153.2 62.2M111.9 -19L108.4 -8.6L108.9 -0.2L108.1 7L104.7 16.4L101.5 23.8L100.3 33.6M154 55.2L152.9 57.4L150.8 55.8L153.7 60.3L153.3 61.5L153.2 60.3L153.2 62.2M64 44.5L66.2 45.4L74.6 46L75.2 47.3L79 45.7L86.4 48.4L89.2 48.6M99 94.6L101.7 93.6L101.7 92.1L102.8 91.9L102.9 86.7L104.9 89L107.4 86.5M156.5 121.3L154.2 111.2L156.9 105.9L151.4 100.7L150.5 92.7L146.4 86.5L146.8 78.7M200.6 76.9L191.5 75.5L185.9 74.1L174.8 72.7L170.1 73.3L159.8 71.3L153.7 70.1" fill="none" stroke="#2aa038" stroke-width="1.5" opacity="0.9" filter="url(#bl0)"/><g fill="none" stroke="#28a036" stroke-width="1.4" opacity="0.85" filter="url(#bl0)"><ellipse cx="53" cy="86" rx="53" ry="45" transform="rotate(0 53 86)" fill="none"/><ellipse cx="126" cy="119" rx="23" ry="23" transform="rotate(0 126 119)" fill="none"/><ellipse cx="183" cy="106" rx="45" ry="40" transform="rotate(10 183 106)" fill="none"/><ellipse cx="192" cy="44" rx="49" ry="25" transform="rotate(-10 192 44)" fill="none"/><ellipse cx="46" cy="186" rx="47" ry="47" transform="rotate(0 46 186)" fill="none"/><ellipse cx="35" cy="18" rx="45" ry="25" transform="rotate(0 35 18)" fill="none"/><ellipse cx="152" cy="212" rx="41" ry="31" transform="rotate(0 152 212)" fill="none"/><ellipse cx="214" cy="186" rx="31" ry="29" transform="rotate(0 214 186)" fill="none"/><ellipse cx="112" cy="184" rx="25" ry="27" transform="rotate(0 112 184)" fill="none"/></g><g filter="url(#bl1)"><ellipse cx="28" cy="222" rx="11" ry="13" transform="rotate(0 28 222)" fill="#3cc860"/><ellipse cx="48" cy="214" rx="12" ry="11" transform="rotate(0 48 214)" fill="#5ae080"/><ellipse cx="62" cy="226" rx="11" ry="10" transform="rotate(0 62 226)" fill="#48d070"/><ellipse cx="20" cy="236" rx="10" ry="9" transform="rotate(0 20 236)" fill="#40c060"/><ellipse cx="72" cy="212" rx="8" ry="10" transform="rotate(0 72 212)" fill="#6af080"/><ellipse cx="45" cy="232" rx="10" ry="8" transform="rotate(0 45 232)" fill="#38c058"/></g><g filter="url(#bl1)" fill="#2e8c6a" opacity="0.55"><ellipse cx="110.1" cy="96.5" rx="8" ry="6" transform="rotate(30 110.1 96.5)" fill="#2e8c6a"/><ellipse cx="63.6" cy="120.2" rx="8" ry="6" transform="rotate(30 63.6 120.2)" fill="#2e8c6a"/><ellipse cx="84.5" cy="127.6" rx="8" ry="6" transform="rotate(30 84.5 127.6)" fill="#2e8c6a"/><ellipse cx="99.2" cy="153.2" rx="8" ry="6" transform="rotate(30 99.2 153.2)" fill="#2e8c6a"/><ellipse cx="137.6" cy="169.6" rx="8" ry="6" transform="rotate(30 137.6 169.6)" fill="#2e8c6a"/><ellipse cx="155" cy="169.6" rx="8" ry="6" transform="rotate(30 155 169.6)" fill="#2e8c6a"/><ellipse cx="225.4" cy="143.1" rx="8" ry="6" transform="rotate(30 225.4 143.1)" fill="#2e8c6a"/><ellipse cx="98.3" cy="172.2" rx="8" ry="6" transform="rotate(30 98.3 172.2)" fill="#2e8c6a"/><ellipse cx="178.7" cy="211.6" rx="8" ry="6" transform="rotate(30 178.7 211.6)" fill="#2e8c6a"/></g><g filter="url(#bl1)" stroke-width="1.1"><ellipse cx="72.9" cy="109.2" rx="6.63" ry="5.09" transform="rotate(3 72.9 109.2)" fill="#950c51" stroke="#b5106d"/><ellipse cx="39.6" cy="119.5" rx="5.62" ry="4.73" transform="rotate(118 39.6 119.5)" fill="#690c54" stroke="#811072"/><ellipse cx="28.4" cy="113.9" rx="6.78" ry="5.42" transform="rotate(151 28.4 113.9)" fill="#680c63" stroke="#801086"/><ellipse cx="18.2" cy="109.1" rx="5.86" ry="4.23" transform="rotate(27 18.2 109.1)" fill="#b10c38" stroke="#d6104c"/><ellipse cx="15.7" cy="86.3" rx="6.19" ry="5.23" transform="rotate(56 15.7 86.3)" fill="#920c47" stroke="#b21060"/><ellipse cx="32.1" cy="63.6" rx="6.94" ry="5.77" transform="rotate(5 32.1 63.6)" fill="#ac0c45" stroke="#d0105d"/><ellipse cx="46.1" cy="53.6" rx="6.51" ry="5.17" transform="rotate(39 46.1 53.6)" fill="#920c43" stroke="#b1105a"/><ellipse cx="69.4" cy="59" rx="6.01" ry="3.99" transform="rotate(99 69.4 59)" fill="#c20c34" stroke="#ea1046"/><ellipse cx="80.8" cy="64.3" rx="6.08" ry="4.24" transform="rotate(76 80.8 64.3)" fill="#ab0c40" stroke="#cf1056"/><ellipse cx="94.5" cy="98.3" rx="5.82" ry="4.26" transform="rotate(104 94.5 98.3)" fill="#820c56" stroke="#9e1074"/><ellipse cx="73.7" cy="93.6" rx="6.17" ry="4.61" transform="rotate(47 73.7 93.6)" fill="#a20c3c" stroke="#c41051"/><ellipse cx="42.3" cy="68.2" rx="6.44" ry="4.67" transform="rotate(5 42.3 68.2)" fill="#b90c35" stroke="#e01047"/><ellipse cx="71.6" cy="82.1" rx="6.32" ry="5.69" transform="rotate(32 71.6 82.1)" fill="#8a0c46" stroke="#a8105f"/><ellipse cx="53.4" cy="105.7" rx="5.24" ry="3.67" transform="rotate(75 53.4 105.7)" fill="#ab0c35" stroke="#cf1047"/><ellipse cx="55.6" cy="71.6" rx="6.26" ry="4.33" transform="rotate(141 55.6 71.6)" fill="#810c3e" stroke="#9e1053"/><ellipse cx="56.2" cy="90.9" rx="5.51" ry="4.86" transform="rotate(140 56.2 90.9)" fill="#b90c39" stroke="#df104d"/><ellipse cx="128.2" cy="131.4" rx="5.58" ry="4.04" transform="rotate(24 128.2 131.4)" fill="#af0c42" stroke="#d41059"/><ellipse cx="116.1" cy="131.3" rx="5.97" ry="4.43" transform="rotate(40 116.1 131.3)" fill="#b40c3c" stroke="#da1051"/><ellipse cx="109.8" cy="123.2" rx="5.22" ry="4.58" transform="rotate(119 109.8 123.2)" fill="#be0c38" stroke="#e5104b"/><ellipse cx="120.4" cy="104" rx="6.73" ry="5.51" transform="rotate(61 120.4 104)" fill="#7d0c58" stroke="#991076"/><ellipse cx="133.6" cy="108.3" rx="5.37" ry="3.72" transform="rotate(139 133.6 108.3)" fill="#670c50" stroke="#7f106b"/><ellipse cx="141.2" cy="121.3" rx="5.78" ry="4.88" transform="rotate(91 141.2 121.3)" fill="#7a0c57" stroke="#951075"/><ellipse cx="175" cy="83.7" rx="6.48" ry="4.61" transform="rotate(60 175 83.7)" fill="#ad0c43" stroke="#d2105b"/><ellipse cx="189.1" cy="83" rx="6.58" ry="4.78" transform="rotate(177 189.1 83)" fill="#a80c3c" stroke="#cb1051"/><ellipse cx="206.4" cy="89.9" rx="6.82" ry="5.02" transform="rotate(176 206.4 89.9)" fill="#940c46" stroke="#b4105e"/><ellipse cx="217.3" cy="93.3" rx="5.38" ry="4.7" transform="rotate(173 217.3 93.3)" fill="#950c4c" stroke="#b41067"/><ellipse cx="217.3" cy="106.7" rx="6.15" ry="4.19" transform="rotate(164 217.3 106.7)" fill="#6b0c60" stroke="#841081"/><ellipse cx="207.4" cy="116.7" rx="5.34" ry="3.86" transform="rotate(146 207.4 116.7)" fill="#b10c37" stroke="#d6104a"/><ellipse cx="191" cy="132.7" rx="6.32" ry="5.73" transform="rotate(163 191 132.7)" fill="#a10c3b" stroke="#c31050"/><ellipse cx="180.8" cy="129.4" rx="5.98" ry="4.16" transform="rotate(87 180.8 129.4)" fill="#a70c3d" stroke="#ca1053"/><ellipse cx="163.5" cy="128.1" rx="6.34" ry="5.47" transform="rotate(59 163.5 128.1)" fill="#6d0c6d" stroke="#861094"/><ellipse cx="153.3" cy="124.7" rx="6.6" ry="5.92" transform="rotate(97 153.3 124.7)" fill="#ac0c41" stroke="#d01057"/><ellipse cx="146.9" cy="108.2" rx="6.46" ry="4.76" transform="rotate(63 146.9 108.2)" fill="#7c0c5b" stroke="#97107b"/><ellipse cx="154.9" cy="83.9" rx="5.21" ry="4.62" transform="rotate(177 154.9 83.9)" fill="#820c4d" stroke="#9f1068"/><ellipse cx="182.3" cy="93.4" rx="5.16" ry="3.86" transform="rotate(147 182.3 93.4)" fill="#a30c45" stroke="#c6105d"/><ellipse cx="186.3" cy="116.3" rx="5.96" ry="5.29" transform="rotate(54 186.3 116.3)" fill="#810c4f" stroke="#9e106a"/><ellipse cx="194.4" cy="102.8" rx="5.38" ry="4.52" transform="rotate(68 194.4 102.8)" fill="#790c57" stroke="#941075"/><ellipse cx="167.2" cy="33.3" rx="6.89" ry="4.55" transform="rotate(68 167.2 33.3)" fill="#8e0c4c" stroke="#ad1067"/><ellipse cx="188.9" cy="29.3" rx="6.93" ry="5.76" transform="rotate(176 188.9 29.3)" fill="#b10c37" stroke="#d6104a"/><ellipse cx="199.4" cy="27.7" rx="5.27" ry="4.73" transform="rotate(102 199.4 27.7)" fill="#a60c43" stroke="#ca105b"/><ellipse cx="207.9" cy="32.6" rx="6.18" ry="4.24" transform="rotate(98 207.9 32.6)" fill="#820c47" stroke="#9e1060"/><ellipse cx="218.9" cy="37.4" rx="6.63" ry="5.75" transform="rotate(0 218.9 37.4)" fill="#970c50" stroke="#b7106c"/><ellipse cx="222.5" cy="52.8" rx="5.61" ry="5.04" transform="rotate(100 222.5 52.8)" fill="#b40c3f" stroke="#d91054"/><ellipse cx="210.8" cy="58.7" rx="5.34" ry="3.86" transform="rotate(157 210.8 58.7)" fill="#ab0c45" stroke="#cf105d"/><ellipse cx="197.7" cy="58.5" rx="5.31" ry="3.96" transform="rotate(32 197.7 58.5)" fill="#9e0c4c" stroke="#bf1066"/><ellipse cx="171.9" cy="56.6" rx="5.74" ry="4.66" transform="rotate(91 171.9 56.6)" fill="#b80c3b" stroke="#de104f"/><ellipse cx="160.6" cy="41.2" rx="5.31" ry="3.67" transform="rotate(7 160.6 41.2)" fill="#930c40" stroke="#b31056"/><ellipse cx="196.1" cy="47" rx="6.4" ry="5.21" transform="rotate(138 196.1 47)" fill="#8d0c47" stroke="#ab105f"/><ellipse cx="18.4" cy="174.4" rx="5.27" ry="3.51" transform="rotate(3 18.4 174.4)" fill="#970c46" stroke="#b7105e"/><ellipse cx="24.4" cy="160.5" rx="5.49" ry="3.91" transform="rotate(77 24.4 160.5)" fill="#b00c41" stroke="#d51058"/><ellipse cx="35.2" cy="152" rx="5.59" ry="4.39" transform="rotate(12 35.2 152)" fill="#b90c3b" stroke="#e01050"/><ellipse cx="49.4" cy="154.1" rx="6.9" ry="5.87" transform="rotate(14 49.4 154.1)" fill="#af0c43" stroke="#d4105a"/><ellipse cx="66.7" cy="165.3" rx="6.88" ry="4.92" transform="rotate(110 66.7 165.3)" fill="#b70c3a" stroke="#dd104e"/><ellipse cx="77.5" cy="162.1" rx="6.2" ry="4.7" transform="rotate(10 77.5 162.1)" fill="#aa0c44" stroke="#ce105b"/><ellipse cx="77.7" cy="179.8" rx="5.52" ry="4.26" transform="rotate(13 77.7 179.8)" fill="#b10c3d" stroke="#d61052"/><ellipse cx="74.4" cy="191.5" rx="5.25" ry="4.78" transform="rotate(21 74.4 191.5)" fill="#9b0c45" stroke="#bc105d"/><ellipse cx="73.1" cy="213.6" rx="6.14" ry="4.62" transform="rotate(3 73.1 213.6)" fill="#950c53" stroke="#b5106f"/><ellipse cx="49.4" cy="218.3" rx="6.35" ry="4.88" transform="rotate(73 49.4 218.3)" fill="#ab0c43" stroke="#cf105b"/><ellipse cx="28.9" cy="211.3" rx="6.17" ry="5.43" transform="rotate(92 28.9 211.3)" fill="#680c5d" stroke="#80107e"/><ellipse cx="13.1" cy="207.9" rx="5.88" ry="4.11" transform="rotate(44 13.1 207.9)" fill="#650c5c" stroke="#7d107c"/><ellipse cx="8.2" cy="197.6" rx="5.55" ry="4.31" transform="rotate(38 8.2 197.6)" fill="#aa0c3c" stroke="#cd1051"/><ellipse cx="51.8" cy="171.9" rx="5.08" ry="3.99" transform="rotate(165 51.8 171.9)" fill="#ad0c39" stroke="#d1104c"/><ellipse cx="31.1" cy="186" rx="5.58" ry="4.26" transform="rotate(0 31.1 186)" fill="#9b0c43" stroke="#bc105a"/><ellipse cx="38.8" cy="166.8" rx="6.13" ry="5.33" transform="rotate(78 38.8 166.8)" fill="#810c47" stroke="#9d105f"/><ellipse cx="54.8" cy="181.7" rx="6.27" ry="4.64" transform="rotate(93 54.8 181.7)" fill="#730c5b" stroke="#8d107b"/><ellipse cx="39.8" cy="202.4" rx="5.22" ry="4.38" transform="rotate(160 39.8 202.4)" fill="#820c52" stroke="#9e106f"/><ellipse cx="43.7" cy="34.1" rx="6.48" ry="5.38" transform="rotate(72 43.7 34.1)" fill="#a50c3e" stroke="#c81053"/><ellipse cx="30.8" cy="32.7" rx="5.45" ry="3.92" transform="rotate(105 30.8 32.7)" fill="#a60c3b" stroke="#c9104f"/><ellipse cx="20.8" cy="30.3" rx="6.79" ry="5.78" transform="rotate(96 20.8 30.3)" fill="#670c65" stroke="#7f1089"/><ellipse cx="9.1" cy="27.7" rx="6.93" ry="5.4" transform="rotate(25 9.1 27.7)" fill="#a00c42" stroke="#c21059"/><ellipse cx="5.3" cy="12.7" rx="6.12" ry="4.55" transform="rotate(21 5.3 12.7)" fill="#af0c3a" stroke="#d3104e"/><ellipse cx="17.8" cy="4.2" rx="5.6" ry="4.91" transform="rotate(4 17.8 4.2)" fill="#9c0c48" stroke="#bd1062"/><ellipse cx="50.3" cy="4.6" rx="5.79" ry="4.42" transform="rotate(54 50.3 4.6)" fill="#690c53" stroke="#821071"/><ellipse cx="69.4" cy="23.6" rx="5.6" ry="4.1" transform="rotate(141 69.4 23.6)" fill="#970c41" stroke="#b71057"/><ellipse cx="54.7" cy="32.7" rx="6.17" ry="4.12" transform="rotate(101 54.7 32.7)" fill="#7c0c49" stroke="#971062"/><ellipse cx="29.7" cy="16" rx="5.31" ry="4" transform="rotate(177 29.7 16)" fill="#ac0c3c" stroke="#d01050"/><ellipse cx="18" cy="16.9" rx="5.01" ry="4.34" transform="rotate(55 18 16.9)" fill="#860c43" stroke="#a3105a"/><ellipse cx="45.7" cy="14.6" rx="6.18" ry="4.38" transform="rotate(89 45.7 14.6)" fill="#940c3a" stroke="#b3104d"/><ellipse cx="173.4" cy="196.8" rx="5.53" ry="4.01" transform="rotate(88 173.4 196.8)" fill="#6c0c6c" stroke="#851093"/><ellipse cx="180.4" cy="207" rx="5.5" ry="4.1" transform="rotate(122 180.4 207)" fill="#a30c40" stroke="#c61057"/><ellipse cx="171.3" cy="223.1" rx="5.78" ry="5.09" transform="rotate(97 171.3 223.1)" fill="#ab0c43" stroke="#cf105b"/><ellipse cx="155.2" cy="230.1" rx="6.39" ry="5.63" transform="rotate(11 155.2 230.1)" fill="#7b0c54" stroke="#961072"/><ellipse cx="141.7" cy="233.5" rx="6.33" ry="4.39" transform="rotate(107 141.7 233.5)" fill="#990c47" stroke="#ba1060"/><ellipse cx="129.7" cy="221.2" rx="6.84" ry="5.48" transform="rotate(117 129.7 221.2)" fill="#780c55" stroke="#931073"/><ellipse cx="122.7" cy="201.2" rx="5.81" ry="4.32" transform="rotate(63 122.7 201.2)" fill="#7b0c5c" stroke="#96107c"/><ellipse cx="143.9" cy="193.4" rx="6.27" ry="5.52" transform="rotate(117 143.9 193.4)" fill="#a60c47" stroke="#c91060"/><ellipse cx="158.8" cy="207.2" rx="6.5" ry="5.83" transform="rotate(130 158.8 207.2)" fill="#8b0c42" stroke="#a91059"/><ellipse cx="196.3" cy="193.6" rx="5.68" ry="4.42" transform="rotate(25 196.3 193.6)" fill="#9e0c4b" stroke="#c01065"/><ellipse cx="189.3" cy="182.5" rx="6.1" ry="4.95" transform="rotate(95 189.3 182.5)" fill="#950c4e" stroke="#b5106a"/><ellipse cx="199" cy="170.4" rx="5.73" ry="4.25" transform="rotate(2 199 170.4)" fill="#890c46" stroke="#a7105e"/><ellipse cx="236.7" cy="180.8" rx="5.29" ry="4.3" transform="rotate(62 236.7 180.8)" fill="#6f0c60" stroke="#891082"/><ellipse cx="235.5" cy="193.3" rx="5.94" ry="5.32" transform="rotate(41 235.5 193.3)" fill="#a90c3f" stroke="#cd1054"/><ellipse cx="214.2" cy="207.2" rx="6.7" ry="4.79" transform="rotate(57 214.2 207.2)" fill="#7d0c64" stroke="#991087"/><ellipse cx="219.4" cy="191.7" rx="6.4" ry="5.23" transform="rotate(49 219.4 191.7)" fill="#9e0c3d" stroke="#bf1052"/><ellipse cx="217.1" cy="179.8" rx="6.18" ry="4.76" transform="rotate(7 217.1 179.8)" fill="#880c3b" stroke="#a51050"/><ellipse cx="99.7" cy="196.9" rx="6.73" ry="5.47" transform="rotate(127 99.7 196.9)" fill="#9f0c4c" stroke="#c11066"/><ellipse cx="99.9" cy="175.8" rx="6.87" ry="5.76" transform="rotate(43 99.9 175.8)" fill="#7d0c4f" stroke="#98106b"/><ellipse cx="116.2" cy="164.8" rx="5.64" ry="4.03" transform="rotate(118 116.2 164.8)" fill="#810c4e" stroke="#9e1069"/><ellipse cx="124" cy="175.8" rx="6.94" ry="6" transform="rotate(143 124 175.8)" fill="#900c56" stroke="#af1074"/><ellipse cx="117.7" cy="219.1" rx="4.47" ry="3.02" transform="rotate(84 117.7 219.1)" fill="#2b0c87" stroke="#3810b7"/><ellipse cx="7.5" cy="74.6" rx="4.43" ry="3.77" transform="rotate(126 7.5 74.6)" fill="#380c85" stroke="#4810b4"/><ellipse cx="15.2" cy="229.2" rx="5.74" ry="3.85" transform="rotate(145 15.2 229.2)" fill="#370c7d" stroke="#4610aa"/><ellipse cx="88" cy="146.1" rx="4.84" ry="3.35" transform="rotate(97 88 146.1)" fill="#3b0c7b" stroke="#4c10a7"/><ellipse cx="184.8" cy="54.2" rx="4.31" ry="3.43" transform="rotate(169 184.8 54.2)" fill="#2c0c97" stroke="#3910cd"/><ellipse cx="99.5" cy="75.6" rx="4.62" ry="4.14" transform="rotate(84 99.5 75.6)" fill="#360c7a" stroke="#4510a5"/><ellipse cx="28.1" cy="128.5" rx="4.28" ry="3.38" transform="rotate(96 28.1 128.5)" fill="#2d0c72" stroke="#3a109a"/><ellipse cx="70.5" cy="201.7" rx="5.25" ry="3.8" transform="rotate(155 70.5 201.7)" fill="#3c0c7c" stroke="#4c10a9"/><ellipse cx="166" cy="76" rx="5.19" ry="4.39" transform="rotate(85 166 76)" fill="#360c8b" stroke="#4510bc"/><ellipse cx="182.1" cy="152.5" rx="5.68" ry="3.79" transform="rotate(104 182.1 152.5)" fill="#390c75" stroke="#49109e"/><ellipse cx="236.4" cy="127.3" rx="5.65" ry="4.64" transform="rotate(159 236.4 127.3)" fill="#3b0c6e" stroke="#4b1094"/><ellipse cx="209.4" cy="155" rx="5.21" ry="4.31" transform="rotate(71 209.4 155)" fill="#2f0c73" stroke="#3d109b"/><ellipse cx="234.3" cy="49" rx="5.06" ry="3.86" transform="rotate(11 234.3 49)" fill="#350c89" stroke="#4410ba"/><ellipse cx="165.5" cy="162.7" rx="4.62" ry="3.75" transform="rotate(21 165.5 162.7)" fill="#330c8a" stroke="#4210bb"/><ellipse cx="91.2" cy="47.5" rx="5.27" ry="4.61" transform="rotate(112 91.2 47.5)" fill="#400c8f" stroke="#5110c2"/><ellipse cx="119" cy="141.4" rx="5.63" ry="4.96" transform="rotate(52 119 141.4)" fill="#310c6f" stroke="#3f1097"/><ellipse cx="90.5" cy="82.2" rx="4.88" ry="4.42" transform="rotate(142 90.5 82.2)" fill="#3a0c6c" stroke="#491093"/><ellipse cx="44.9" cy="80.7" rx="5.47" ry="3.69" transform="rotate(95 44.9 80.7)" fill="#3c0c72" stroke="#4c109b"/><ellipse cx="41.8" cy="143.4" rx="5.35" ry="4.57" transform="rotate(96 41.8 143.4)" fill="#2a0c8d" stroke="#3710c0"/><ellipse cx="231.5" cy="204.4" rx="4.97" ry="3.64" transform="rotate(140 231.5 204.4)" fill="#370c8e" stroke="#4710c1"/><ellipse cx="40.8" cy="95.7" rx="5.51" ry="5.02" transform="rotate(10 40.8 95.7)" fill="#280c85" stroke="#3510b4"/><ellipse cx="40.1" cy="44.9" rx="5.14" ry="4.7" transform="rotate(77 40.1 44.9)" fill="#330c87" stroke="#4210b8"/><ellipse cx="97.7" cy="232" rx="4.75" ry="4.23" transform="rotate(15 97.7 232)" fill="#2d0c8c" stroke="#3a10bd"/><ellipse cx="27.4" cy="81.2" rx="4.38" ry="3.86" transform="rotate(168 27.4 81.2)" fill="#390c7a" stroke="#4910a5"/><ellipse cx="132.9" cy="191.7" rx="4.96" ry="4.16" transform="rotate(129 132.9 191.7)" fill="#3b0c6d" stroke="#4b1094"/><ellipse cx="120.6" cy="76.9" rx="4.36" ry="3.44" transform="rotate(0 120.6 76.9)" fill="#390c7b" stroke="#4910a6"/><ellipse cx="99.6" cy="155.3" rx="4.29" ry="3.47" transform="rotate(170 99.6 155.3)" fill="#3a0c8a" stroke="#4a10bb"/><ellipse cx="228.9" cy="218" rx="4.5" ry="3.26" transform="rotate(48 228.9 218)" fill="#3c0c78" stroke="#4d10a2"/><ellipse cx="183.1" cy="68.2" rx="4.91" ry="3.86" transform="rotate(80 183.1 68.2)" fill="#2a0c9a" stroke="#3710d1"/><ellipse cx="219.6" cy="228.2" rx="4.95" ry="3.81" transform="rotate(19 219.6 228.2)" fill="#410c87" stroke="#5310b6"/><ellipse cx="62.8" cy="188.6" rx="4.42" ry="3.14" transform="rotate(23 62.8 188.6)" fill="#400c7e" stroke="#5110aa"/><ellipse cx="128.2" cy="232.9" rx="5.02" ry="4.46" transform="rotate(103 128.2 232.9)" fill="#400c7c" stroke="#5010a7"/><ellipse cx="234.4" cy="232.1" rx="4.99" ry="3.3" transform="rotate(64 234.4 232.1)" fill="#2d0c80" stroke="#3b10ae"/><ellipse cx="12.4" cy="144.3" rx="5.16" ry="4.17" transform="rotate(99 12.4 144.3)" fill="#370c8a" stroke="#4610bb"/><ellipse cx="224.4" cy="67.8" rx="4.35" ry="3.72" transform="rotate(48 224.4 67.8)" fill="#2f0c87" stroke="#3c10b7"/><ellipse cx="239.1" cy="222.2" rx="5.3" ry="4.05" transform="rotate(131 239.1 222.2)" fill="#2e0c92" stroke="#3c10c6"/><ellipse cx="117.4" cy="92.3" rx="4.75" ry="3.34" transform="rotate(125 117.4 92.3)" fill="#340c7c" stroke="#4310a7"/><ellipse cx="158.3" cy="6.1" rx="5.06" ry="4.24" transform="rotate(0 158.3 6.1)" fill="#410c6d" stroke="#531093"/><ellipse cx="133.5" cy="142" rx="4.7" ry="3.65" transform="rotate(119 133.5 142)" fill="#3a0c87" stroke="#4a10b6"/><ellipse cx="220.2" cy="139.9" rx="4.63" ry="3.43" transform="rotate(160 220.2 139.9)" fill="#290c8c" stroke="#3610be"/><ellipse cx="144.6" cy="40.7" rx="4.26" ry="3.57" transform="rotate(50 144.6 40.7)" fill="#3e0c73" stroke="#4f109c"/><ellipse cx="94.1" cy="126" rx="5.46" ry="4.12" transform="rotate(45 94.1 126)" fill="#2e0c98" stroke="#3c10cf"/><ellipse cx="114.8" cy="188.9" rx="4.6" ry="3.18" transform="rotate(164 114.8 188.9)" fill="#380c7f" stroke="#4810ab"/><ellipse cx="161" cy="52.3" rx="4.45" ry="3.2" transform="rotate(134 161 52.3)" fill="#390c7e" stroke="#4810ab"/><ellipse cx="63.1" cy="9.7" rx="5.23" ry="3.8" transform="rotate(133 63.1 9.7)" fill="#2d0c8b" stroke="#3b10bc"/><ellipse cx="223.1" cy="153" rx="4.52" ry="3.95" transform="rotate(74 223.1 153)" fill="#3e0c8e" stroke="#4f10c1"/><ellipse cx="50.2" cy="197.5" rx="4.49" ry="3.68" transform="rotate(85 50.2 197.5)" fill="#310c92" stroke="#3f10c5"/><ellipse cx="133.1" cy="211.3" rx="4.63" ry="4.19" transform="rotate(44 133.1 211.3)" fill="#380c80" stroke="#4810ae"/><ellipse cx="139.8" cy="98.2" rx="5.23" ry="4.42" transform="rotate(145 139.8 98.2)" fill="#2c0c7d" stroke="#3910a9"/><ellipse cx="236.9" cy="102.7" rx="4.62" ry="3.28" transform="rotate(101 236.9 102.7)" fill="#2f0c96" stroke="#3d10cc"/><ellipse cx="4.3" cy="59.5" rx="4.95" ry="3.35" transform="rotate(41 4.3 59.5)" fill="#290c8e" stroke="#3610c0"/><ellipse cx="172.1" cy="105.2" rx="5.31" ry="3.51" transform="rotate(67 172.1 105.2)" fill="#3d0c7c" stroke="#4e10a8"/><ellipse cx="91.2" cy="18.4" rx="5.62" ry="4.68" transform="rotate(139 91.2 18.4)" fill="#3c0c8a" stroke="#4c10bb"/><ellipse cx="207.9" cy="132.8" rx="5.79" ry="4.24" transform="rotate(163 207.9 132.8)" fill="#420c7a" stroke="#5310a5"/><ellipse cx="90.5" cy="163.2" rx="5.47" ry="4.57" transform="rotate(111 90.5 163.2)" fill="#280c8b" stroke="#3510bc"/><ellipse cx="184.8" cy="40.6" rx="5.35" ry="3.61" transform="rotate(111 184.8 40.6)" fill="#2d0c71" stroke="#3b109a"/><ellipse cx="150.9" cy="151" rx="5.78" ry="4.4" transform="rotate(127 150.9 151)" fill="#2a0c92" stroke="#3710c6"/><ellipse cx="62.8" cy="134.7" rx="4.92" ry="4.51" transform="rotate(92 62.8 134.7)" fill="#390c77" stroke="#4810a1"/><ellipse cx="159.5" cy="195.4" rx="4.76" ry="3.54" transform="rotate(133 159.5 195.4)" fill="#2a0c83" stroke="#3710b1"/><ellipse cx="34.9" cy="235.4" rx="4.78" ry="3.78" transform="rotate(70 34.9 235.4)" fill="#2f0c80" stroke="#3d10ae"/></g><text x="34" y="212" font-size="15" text-anchor="middle" font-weight="bold" fill="#fff">*</text><line x1="126.1" y1="81.3" x2="120.1" y2="86.8" stroke="#fff" stroke-width="1.5"/><path d="M116.1 90.5L118.7 83.7L123 88.5Z" fill="#fff"/><line x1="47.5" y1="99.6" x2="54.5" y2="109.7" stroke="#fff" stroke-width="1.5"/><path d="M57.6 114.2L51.3 110.7L56.5 107.1Z" fill="#fff"/><line x1="96" y1="107.9" x2="92.5" y2="116.5" stroke="#fff" stroke-width="1.5"/><path d="M90.5 121.6L89.9 114.3L95.9 116.7Z" fill="#fff"/><line x1="83.2" y1="132.5" x2="90.1" y2="142.6" stroke="#fff" stroke-width="1.5"/><path d="M93.2 147.2L86.9 143.6L92.2 140Z" fill="#fff"/><line x1="121.6" y1="149" x2="128.5" y2="159.1" stroke="#fff" stroke-width="1.5"/><path d="M131.6 163.6L125.3 160.1L130.6 156.4Z" fill="#fff"/><line x1="138.9" y1="149" x2="145.9" y2="159.1" stroke="#fff" stroke-width="1.5"/><path d="M149 163.6L142.7 160.1L147.9 156.4Z" fill="#fff"/><line x1="209.3" y1="122.5" x2="216.2" y2="132.6" stroke="#fff" stroke-width="1.5"/><path d="M219.4 137.1L213 133.6L218.3 129.9Z" fill="#fff"/><line x1="83.2" y1="188.3" x2="88.6" y2="182.3" stroke="#fff" stroke-width="1.5"/><path d="M92.3 178.2L90.3 185.2L85.6 180.9Z" fill="#fff"/><line x1="162.7" y1="191" x2="169.6" y2="201.1" stroke="#fff" stroke-width="1.5"/><path d="M172.7 205.6L166.4 202.1L171.7 198.5Z" fill="#fff"/><rect x="188" y="235.5" width="42" height="3.2" fill="#fff"/></svg><text x="1276" y="306.4" font-size="14" fill="#2233ff" textLength="32" lengthAdjust="spacingAndGlyphs">DAPI</text><text x="1370.5" y="306.4" font-size="14" fill="#22ee22" textLength="56.5" lengthAdjust="spacingAndGlyphs">PDGFRβ</text><text x="1588.3" y="306.4" font-size="14" fill="#ee1111" textLength="39.7" lengthAdjust="spacingAndGlyphs">Runx1</text><text x="1859" y="306.4" font-size="14" text-anchor="middle" fill="#fff">merge</text><rect x="1215.7" y="321" width="21.3" height="240" fill="#000"/><text x="1231" y="446" font-size="13" text-anchor="middle" fill="#fff" transform="rotate(-90 1231 446)" textLength="144.3" lengthAdjust="spacingAndGlyphs">UUO (PDGFRß-eGFP)</text><rect x="137.5" y="1060.2" width="54.7" height="122.6" fill="#cdd5f7" stroke="#2a55e8" stroke-width="1.6"/><rect x="226.9" y="929.7" width="54.7" height="253.1" fill="#fbd1cd" stroke="#ee4a36" stroke-width="1.6"/><line x1="164.4" y1="1017" x2="164.4" y2="1099.5" stroke="#2a55e8" stroke-width="1.5"/><line x1="149.5" y1="1017" x2="178.8" y2="1017" stroke="#2a55e8" stroke-width="1.5"/><line x1="149.5" y1="1099.5" x2="178.8" y2="1099.5" stroke="#2a55e8" stroke-width="1.5"/><line x1="254.2" y1="902.5" x2="254.2" y2="952.1" stroke="#222" stroke-width="1.5"/><line x1="239.7" y1="902.5" x2="269.4" y2="902.5" stroke="#222" stroke-width="1.5"/><line x1="239.7" y1="952.1" x2="269.4" y2="952.1" stroke="#222" stroke-width="1.5"/><path d="M164.4 1007.1L169.6 1016.3L159.2 1016.3Z" fill="#000"/><path d="M164.4 1070.3L169.6 1079.5L159.2 1079.5Z" fill="#000"/><path d="M164.4 1083.6L169.6 1092.8L159.2 1092.8Z" fill="#000"/><circle cx="254.2" cy="900.5" r="4.6" fill="#000"/><circle cx="254.2" cy="935.5" r="4.6" fill="#000"/><circle cx="254.2" cy="947.6" r="4.6" fill="#000"/><line x1="104.6" y1="861.7" x2="104.6" y2="1183.5" stroke="#000" stroke-width="1.4"/><line x1="104" y1="1182.8" x2="313.9" y2="1182.8" stroke="#000" stroke-width="1.4"/><line x1="91.3" y1="1182.8" x2="104.6" y2="1182.8" stroke="#000" stroke-width="1.4"/><text x="88" y="1190.8" font-size="22.5" text-anchor="end">0</text><line x1="91.3" y1="1102.7" x2="104.6" y2="1102.7" stroke="#000" stroke-width="1.4"/><text x="88" y="1110.7" font-size="22.5" text-anchor="end">1</text><line x1="91.3" y1="1022.6" x2="104.6" y2="1022.6" stroke="#000" stroke-width="1.4"/><text x="88" y="1030.6" font-size="22.5" text-anchor="end">2</text><line x1="91.3" y1="942.5" x2="104.6" y2="942.5" stroke="#000" stroke-width="1.4"/><text x="88" y="950.5" font-size="22.5" text-anchor="end">3</text><line x1="91.3" y1="862.4" x2="104.6" y2="862.4" stroke="#000" stroke-width="1.4"/><text x="88" y="870.4" font-size="22.5" text-anchor="end">4</text><line x1="164.4" y1="1182.8" x2="164.4" y2="1195" stroke="#000" stroke-width="1.4"/><line x1="254.2" y1="1182.8" x2="254.2" y2="1195" stroke="#000" stroke-width="1.4"/><text x="161" y="1225.5" font-size="23" text-anchor="middle">Sham</text><text x="259" y="1225.5" font-size="23" text-anchor="middle">UUO</text><line x1="164.4" y1="886" x2="256" y2="886" stroke="#000" stroke-width="1.3"/><line x1="164.4" y1="882" x2="164.4" y2="890" stroke="#000" stroke-width="1.3"/><line x1="256" y1="882" x2="256" y2="890" stroke="#000" stroke-width="1.3"/><text x="202.4" y="871" font-size="22.3" text-anchor="middle">p=0.009</text><text x="174" y="800.4" font-size="21.5" text-anchor="middle">nuclear Runx1</text><text x="183.8" y="836.5" font-size="21.5" text-anchor="middle">fluorescent intensity</text><text x="21.5" y="1024.5" font-size="21.4" text-anchor="middle" transform="rotate(-90 21.5 1024.5)">pixel intensity/nuclear area</text><text x="54" y="1027" font-size="21.4" text-anchor="middle" transform="rotate(-90 54 1027)">in PDGFRbEGFP<tspan dy="-9" font-size="16">+</tspan><tspan dy="9">cells</tspan></text><rect x="462.4" y="788.7" width="33.3" height="384.6" fill="#e31a1c"/><rect x="499.8" y="796.5" width="33.7" height="376.8" fill="#33a02c"/><rect x="537.2" y="797.3" width="33.6" height="376" fill="#fdbf6f"/><rect x="574.9" y="804.3" width="33.7" height="369" fill="#1f78b4"/><rect x="612.3" y="867.5" width="33.6" height="305.8" fill="#ff7f00"/><line x1="456.7" y1="768.2" x2="456.7" y2="1193.6" stroke="#000" stroke-width="2"/><line x1="455.7" y1="1192.6" x2="652.5" y2="1192.6" stroke="#000" stroke-width="2"/><line x1="448.8" y1="865.5" x2="456.7" y2="865.5" stroke="#000" stroke-width="1.8"/><text x="442" y="873.5" font-size="23" text-anchor="end">0.15</text><line x1="448.8" y1="968.1" x2="456.7" y2="968.1" stroke="#000" stroke-width="1.8"/><text x="442" y="976.1" font-size="23" text-anchor="end">0.10</text><line x1="448.8" y1="1070.7" x2="456.7" y2="1070.7" stroke="#000" stroke-width="1.8"/><text x="442" y="1078.7" font-size="23" text-anchor="end">0.05</text><line x1="448.8" y1="1173.3" x2="456.7" y2="1173.3" stroke="#000" stroke-width="1.8"/><text x="442" y="1181.3" font-size="23" text-anchor="end">0.00</text><line x1="479" y1="1192.6" x2="479" y2="1200" stroke="#000" stroke-width="1.8"/><text x="488" y="1213" font-size="24" text-anchor="end" transform="rotate(-60 488 1213)">scOpen</text><line x1="516.6" y1="1192.6" x2="516.6" y2="1200" stroke="#000" stroke-width="1.8"/><text x="529.1" y="1213.5" font-size="24" text-anchor="end" transform="rotate(-60 529.1 1213.5)">cisTopic</text><line x1="554" y1="1192.6" x2="554" y2="1200" stroke="#000" stroke-width="1.8"/><text x="572" y="1216.5" font-size="24" text-anchor="end" transform="rotate(-60 572 1216.5)">SCALE</text><line x1="591.8" y1="1192.6" x2="591.8" y2="1200" stroke="#000" stroke-width="1.8"/><text x="610.8" y="1217.3" font-size="24" text-anchor="end" transform="rotate(-60 610.8 1217.3)">MAGIC</text><line x1="629.1" y1="1192.6" x2="629.1" y2="1200" stroke="#000" stroke-width="1.8"/><text x="641.6" y="1220" font-size="24" text-anchor="end" transform="rotate(-60 641.6 1220)">Raw</text><text x="351" y="990.7" font-size="23.4" text-anchor="middle" transform="rotate(-90 351 990.7)">AUPR</text><line x1="775.5" y1="771.8" x2="775.5" y2="893.2" stroke="#000" stroke-width="1.3"/><line x1="769" y1="892.6" x2="775.5" y2="892.6" stroke="#000" stroke-width="1.2"/><text x="764" y="897.2" font-size="12.8" text-anchor="end">0</text><line x1="769" y1="872.3" x2="775.5" y2="872.3" stroke="#000" stroke-width="1.2"/><text x="764" y="876.9" font-size="12.8" text-anchor="end">1</text><line x1="769" y1="852.1" x2="775.5" y2="852.1" stroke="#000" stroke-width="1.2"/><text x="764" y="856.7" font-size="12.8" text-anchor="end">2</text><line x1="769" y1="831.8" x2="775.5" y2="831.8" stroke="#000" stroke-width="1.2"/><text x="764" y="836.4" font-size="12.8" text-anchor="end">3</text><line x1="769" y1="811.6" x2="775.5" y2="811.6" stroke="#000" stroke-width="1.2"/><text x="764" y="816.2" font-size="12.8" text-anchor="end">4</text><line x1="769" y1="791.3" x2="775.5" y2="791.3" stroke="#000" stroke-width="1.2"/><text x="764" y="795.9" font-size="12.8" text-anchor="end">5</text><text x="712" y="846" font-size="22.7" text-anchor="middle" transform="rotate(-90 712 846)" dy="8">-Log10(P)</text><line x1="780.6" y1="832" x2="1552" y2="832" stroke="#333" stroke-width="1.5" stroke-dasharray="5 3.6"/><path d="M781.3 892.6Q917.9 733.8 1054.6 892.6M782.9 892.6Q918.8 752 1054.6 892.6M796.9 892.6Q925.8 766.2 1054.6 892.6M812 892.6Q933.3 771 1054.6 892.6M868.9 892.6Q961.8 686.4 1054.6 892.6M917.2 892.6Q985.9 725.7 1054.6 892.6M924.2 892.6Q989.4 739.8 1054.6 892.6M1054.6 892.6Q1118.3 705.4 1182 892.6M1054.6 892.6Q1127.2 675.8 1199.7 892.6M1054.6 892.6Q1185 675.8 1315.4 892.6M1054.6 892.6Q1185.4 677.8 1316.2 892.6M1054.6 892.6Q1185.8 679.9 1317 892.6M1054.6 892.6Q1243 718 1431.5 892.6M1054.6 892.6Q1243.5 719.6 1432.5 892.6M1054.6 892.6Q1244.3 720.4 1434 892.6M1054.6 892.6Q1288.8 713.9 1523 892.6M1054.6 892.6Q1289.3 767 1524 892.6M1055.5 892.6Q1062.7 671.8 1069.8 892.6M1058 892.6Q1072 698.1 1086 892.6M1054 892.6Q1056.2 722.4 1058.5 892.6M1055 892.6Q1057.5 734.6 1060 892.6" fill="none" stroke="#8282bb" stroke-width="1.25"/><path d="M781.3 899.6V913.5M782.9 899.6V913.5M796.9 899.6V913.5M812 899.6V913.5M868.4 899.6V913.5M871.2 899.6V913.5M900.7 899.6V913.5M917.2 899.6V913.5M924.2 899.6V913.5M976.9 899.6V913.5M1070.3 899.6V913.5M1086.5 899.6V913.5M1182 899.6V913.5M1200.2 899.6V913.5M1430.8 899.6V913.5M1433.8 899.6V913.5" stroke="#a66878" stroke-width="1.5"/><rect x="1054.3" y="899.6" width="3.6" height="13.9" fill="#bbbbbb"/><rect x="1314" y="899.6" width="5.6" height="13.9" fill="#bbbbbb"/><rect x="1523.5" y="899.6" width="3.5" height="13.9" fill="#c8a8b0"/><path d="M768.6 923.1H775V975.4H768.6" fill="none" stroke="#000" stroke-width="1.3"/><text x="764.5" y="929.6" font-size="13" text-anchor="end">4</text><text x="764.5" y="977.9" font-size="13" text-anchor="end">0</text><text x="1547" y="941.7" font-size="16" textLength="29" lengthAdjust="spacingAndGlyphs">0-20</text><path d="M781.5 975.4v-1.64M782.5 975.4v-5.77M783.5 975.4v-3.54M784.5 975.4v-4.35M785.5 975.4v-1.64M786.5 975.4v-3.35M787.5 975.4v-8.74M788.5 975.4v-2.76M789.5 975.4v-0.64M790.5 975.4v-1.25M791.5 975.4v-7.87M792.5 975.4v-3.44M793.5 975.4v-3.24M794.5 975.4v-1.31M795.5 975.4v-1.01M796.5 975.4v-1.42M797.5 975.4v-4.63M798.5 975.4v-3.02M799.5 975.4v-7.62M800.5 975.4v-2.29M801.5 975.4v-6.35M802.5 975.4v-3.48M803.5 975.4v-2.58M804.5 975.4v-4.14M805.5 975.4v-2.12M806.5 975.4v-1.23M807.5 975.4v-2.97M808.5 975.4v-2.74M809.5 975.4v-7.28M810.5 975.4v-2.06M811.5 975.4v-7.43M812.5 975.4v-6.27M813.5 975.4v-1.77M814.5 975.4v-0.53M815.5 975.4v-7.04M816.5 975.4v-2.71M817.5 975.4v-0.99M818.5 975.4v-2.14M819.5 975.4v-1.11M820.5 975.4v-5.32M821.5 975.4v-4.64M823.5 975.4v-0.69M824.5 975.4v-2.59M825.5 975.4v-1.4M826.5 975.4v-9.49M827.5 975.4v-5.05M828.5 975.4v-3.9M829.5 975.4v-2.52M830.5 975.4v-2.87M831.5 975.4v-5.44M832.5 975.4v-0.89M834.5 975.4v-1.01M835.5 975.4v-3.4M836.5 975.4v-1.94M837.5 975.4v-1.24M838.5 975.4v-0.7M839.5 975.4v-0.9M840.5 975.4v-0.75M841.5 975.4v-3.35M842.5 975.4v-3.53M843.5 975.4v-0.94M844.5 975.4v-1.56M845.5 975.4v-17.19M846.5 975.4v-0.98M847.5 975.4v-3.37M848.5 975.4v-19.65M850.5 975.4v-1.07M851.5 975.4v-5.12M852.5 975.4v-6.71M853.5 975.4v-2.42M854.5 975.4v-2.62M855.5 975.4v-3.51M856.5 975.4v-2.22M857.5 975.4v-2.88M858.5 975.4v-3.2M859.5 975.4v-2.64M860.5 975.4v-4.15M861.5 975.4v-1.37M862.5 975.4v-0.76M863.5 975.4v-3.03M864.5 975.4v-0.97M865.5 975.4v-5.17M866.5 975.4v-2.1M867.5 975.4v-3.1M868.5 975.4v-11.78M869.5 975.4v-27.02M870.5 975.4v-24.87M871.5 975.4v-16.27M872.5 975.4v-19.46M873.5 975.4v-9.78M874.5 975.4v-6.88M875.5 975.4v-13.87M876.5 975.4v-2.66M878.5 975.4v-1.97M879.5 975.4v-2.27M880.5 975.4v-1.72M881.5 975.4v-0.73M882.5 975.4v-3.25M883.5 975.4v-4.81M884.5 975.4v-1.89M885.5 975.4v-13.68M887.5 975.4v-0.84M888.5 975.4v-11.6M889.5 975.4v-3.16M890.5 975.4v-1.08M891.5 975.4v-3.17M892.5 975.4v-7.63M894.5 975.4v-2.75M895.5 975.4v-3.36M896.5 975.4v-0.67M897.5 975.4v-0.73M898.5 975.4v-2.4M899.5 975.4v-2.72M900.5 975.4v-3.27M901.5 975.4v-2.67M903.5 975.4v-3.51M904.5 975.4v-1.79M905.5 975.4v-1.37M906.5 975.4v-0.65M907.5 975.4v-0.78M908.5 975.4v-3.24M909.5 975.4v-7.88M910.5 975.4v-0.96M911.5 975.4v-1.44M912.5 975.4v-0.76M913.5 975.4v-0.61M914.5 975.4v-2.78M915.5 975.4v-14.78M916.5 975.4v-15.24M917.5 975.4v-2.91M918.5 975.4v-2.09M919.5 975.4v-1.43M920.5 975.4v-13.35M921.5 975.4v-5.05M922.5 975.4v-7.53M923.5 975.4v-13.61M924.5 975.4v-12.44M925.5 975.4v-8.74M926.5 975.4v-3.08M927.5 975.4v-12.87M928.5 975.4v-13.44M929.5 975.4v-17.37M930.5 975.4v-15.69M931.5 975.4v-2.7M932.5 975.4v-0.81M933.5 975.4v-5.13M934.5 975.4v-10.38M935.5 975.4v-2.77M936.5 975.4v-3.14M937.5 975.4v-7.43M938.5 975.4v-14.22M939.5 975.4v-13.25M940.5 975.4v-8.08M941.5 975.4v-3.48M942.5 975.4v-3.02M943.5 975.4v-6.11M944.5 975.4v-3.68M945.5 975.4v-1.52M946.5 975.4v-2.35M947.5 975.4v-3.23M948.5 975.4v-10.31M949.5 975.4v-12.85M950.5 975.4v-14.82M951.5 975.4v-13.29M952.5 975.4v-3.39M953.5 975.4v-1.7M954.5 975.4v-1.89M955.5 975.4v-2.56M956.5 975.4v-2.05M959.5 975.4v-1.37M961.5 975.4v-1.4M963.5 975.4v-2.15M964.5 975.4v-1.92M965.5 975.4v-5.7M966.5 975.4v-0.97M967.5 975.4v-10.97M968.5 975.4v-1.25M969.5 975.4v-3.97M970.5 975.4v-3.52M971.5 975.4v-1.01M972.5 975.4v-11.98M973.5 975.4v-1.88M974.5 975.4v-0.9M975.5 975.4v-0.92M977.5 975.4v-1.63M978.5 975.4v-1.88M979.5 975.4v-8.65M980.5 975.4v-4.72M981.5 975.4v-9.14M982.5 975.4v-5.69M983.5 975.4v-9.09M984.5 975.4v-12.88M985.5 975.4v-13.24M986.5 975.4v-5.08M987.5 975.4v-1.02M988.5 975.4v-0.56M989.5 975.4v-1.08M990.5 975.4v-0.81M991.5 975.4v-1.46M992.5 975.4v-1.2M993.5 975.4v-10M994.5 975.4v-5.33M995.5 975.4v-1.36M996.5 975.4v-0.78M997.5 975.4v-3.26M998.5 975.4v-1.11M999.5 975.4v-1.69M1000.5 975.4v-14.17M1001.5 975.4v-10.18M1002.5 975.4v-1.34M1005.5 975.4v-2.88M1006.5 975.4v-1.47M1007.5 975.4v-0.91M1008.5 975.4v-1.48M1009.5 975.4v-1.33M1010.5 975.4v-1.31M1011.5 975.4v-1.8M1012.5 975.4v-3.65M1013.5 975.4v-2.99M1015.5 975.4v-1.25M1018.5 975.4v-8.97M1019.5 975.4v-4.48M1020.5 975.4v-1.41M1021.5 975.4v-1.73M1024.5 975.4v-5.02M1025.5 975.4v-1.26M1026.5 975.4v-3.89M1028.5 975.4v-14.18M1029.5 975.4v-1.54M1030.5 975.4v-0.54M1031.5 975.4v-0.91M1033.5 975.4v-0.89M1034.5 975.4v-1.86M1035.5 975.4v-2.09M1036.5 975.4v-0.72M1037.5 975.4v-1.45M1038.5 975.4v-0.77M1039.5 975.4v-15.12M1040.5 975.4v-4.77M1041.5 975.4v-2.68M1042.5 975.4v-6.03M1043.5 975.4v-16.07M1044.5 975.4v-1.19M1045.5 975.4v-1.24M1046.5 975.4v-2.44M1047.5 975.4v-7.11M1048.5 975.4v-6.04M1049.5 975.4v-5.49M1050.5 975.4v-15.29M1051.5 975.4v-26.08M1052.5 975.4v-25.94M1053.5 975.4v-35.26M1054.5 975.4v-50.39M1055.5 975.4v-34.32M1056.5 975.4v-32.65M1057.5 975.4v-20.91M1058.5 975.4v-7.47M1059.5 975.4v-14.54M1060.5 975.4v-1.19M1061.5 975.4v-3.2M1062.5 975.4v-3.4M1063.5 975.4v-1.27M1064.5 975.4v-5.82M1065.5 975.4v-2.38M1066.5 975.4v-3.26M1067.5 975.4v-1M1068.5 975.4v-3.63M1069.5 975.4v-1.61M1070.5 975.4v-3.27M1071.5 975.4v-1.23M1072.5 975.4v-2.98M1073.5 975.4v-3.67M1074.5 975.4v-6.73M1075.5 975.4v-15.12M1076.5 975.4v-15.72M1077.5 975.4v-2.07M1078.5 975.4v-2.48M1079.5 975.4v-1.4M1080.5 975.4v-1.47M1081.5 975.4v-2.94M1082.5 975.4v-0.94M1083.5 975.4v-1.31M1084.5 975.4v-3.57M1085.5 975.4v-1.16M1086.5 975.4v-10.48M1087.5 975.4v-6.06M1088.5 975.4v-14.89M1089.5 975.4v-17.96M1090.5 975.4v-4.21M1091.5 975.4v-8.14M1092.5 975.4v-1.37M1093.5 975.4v-2.26M1094.5 975.4v-1.48M1095.5 975.4v-1.3M1096.5 975.4v-1.96M1097.5 975.4v-2.16M1098.5 975.4v-3.17M1099.5 975.4v-1.08M1100.5 975.4v-1.63M1101.5 975.4v-1.46M1102.5 975.4v-0.7M1103.5 975.4v-3.11M1104.5 975.4v-6.08M1105.5 975.4v-3.46M1107.5 975.4v-11.12M1108.5 975.4v-1.86M1109.5 975.4v-5.42M1110.5 975.4v-4.2M1111.5 975.4v-5.42M1112.5 975.4v-6.33M1113.5 975.4v-1.6M1114.5 975.4v-5.84M1115.5 975.4v-2.13M1116.5 975.4v-7.43M1117.5 975.4v-1.09M1118.5 975.4v-2.15M1119.5 975.4v-19.23M1120.5 975.4v-6.75M1121.5 975.4v-7.84M1122.5 975.4v-0.98M1123.5 975.4v-14.06M1124.5 975.4v-3.41M1125.5 975.4v-1.63M1126.5 975.4v-2.91M1127.5 975.4v-1.76M1128.5 975.4v-0.63M1129.5 975.4v-1.06M1130.5 975.4v-1.3M1132.5 975.4v-1.53M1134.5 975.4v-0.75M1135.5 975.4v-3.89M1136.5 975.4v-1.05M1137.5 975.4v-1.82M1139.5 975.4v-3.63M1140.5 975.4v-0.57M1142.5 975.4v-4.12M1143.5 975.4v-2.03M1145.5 975.4v-4.07M1147.5 975.4v-2.19M1148.5 975.4v-2.21M1149.5 975.4v-3.13M1150.5 975.4v-2.46M1151.5 975.4v-1.27M1152.5 975.4v-0.71M1153.5 975.4v-1.21M1154.5 975.4v-5.22M1155.5 975.4v-3.74M1156.5 975.4v-1.21M1157.5 975.4v-2.1M1158.5 975.4v-2.02M1159.5 975.4v-4.61M1161.5 975.4v-1.67M1163.5 975.4v-3.46M1164.5 975.4v-1.85M1165.5 975.4v-4.6M1166.5 975.4v-4.47M1167.5 975.4v-1.41M1169.5 975.4v-1.08M1170.5 975.4v-2.39M1171.5 975.4v-2.12M1172.5 975.4v-0.7M1173.5 975.4v-2.3M1174.5 975.4v-1.77M1175.5 975.4v-0.76M1176.5 975.4v-2.93M1177.5 975.4v-0.65M1178.5 975.4v-1.48M1179.5 975.4v-1.05M1180.5 975.4v-1.01M1185.5 975.4v-1.38M1186.5 975.4v-5.39M1187.5 975.4v-0.93M1188.5 975.4v-1.24M1189.5 975.4v-5.02M1190.5 975.4v-0.57M1191.5 975.4v-1.77M1192.5 975.4v-0.65M1193.5 975.4v-2.28M1194.5 975.4v-1.71M1195.5 975.4v-2.27M1196.5 975.4v-1.95M1197.5 975.4v-2.16M1198.5 975.4v-0.76M1199.5 975.4v-0.64M1200.5 975.4v-4.68M1201.5 975.4v-1.38M1202.5 975.4v-1.76M1203.5 975.4v-6.94M1204.5 975.4v-0.69M1205.5 975.4v-2.22M1206.5 975.4v-1.5M1207.5 975.4v-1.69M1208.5 975.4v-0.74M1209.5 975.4v-1.62M1210.5 975.4v-4.01M1211.5 975.4v-1.29M1212.5 975.4v-2.05M1214.5 975.4v-1.46M1215.5 975.4v-1.66M1216.5 975.4v-7.36M1217.5 975.4v-2.03M1219.5 975.4v-1.4M1220.5 975.4v-2.29M1221.5 975.4v-2.07M1222.5 975.4v-5.96M1223.5 975.4v-1.33M1224.5 975.4v-2.29M1225.5 975.4v-2.7M1226.5 975.4v-1.34M1227.5 975.4v-1.68M1228.5 975.4v-3.83M1229.5 975.4v-1.1M1230.5 975.4v-1.82M1231.5 975.4v-0.73M1232.5 975.4v-0.73M1233.5 975.4v-9.62M1234.5 975.4v-10.61M1236.5 975.4v-2.35M1237.5 975.4v-2.01M1238.5 975.4v-13.72M1239.5 975.4v-3.62M1240.5 975.4v-2.99M1241.5 975.4v-4.52M1242.5 975.4v-2.52M1243.5 975.4v-1.59M1244.5 975.4v-2.08M1245.5 975.4v-0.8M1246.5 975.4v-5.67M1248.5 975.4v-3.94M1249.5 975.4v-0.87M1251.5 975.4v-12.09M1252.5 975.4v-2.97M1253.5 975.4v-1.62M1254.5 975.4v-10.41M1255.5 975.4v-1.04M1256.5 975.4v-14.77M1257.5 975.4v-3.55M1258.5 975.4v-5.42M1259.5 975.4v-0.77M1260.5 975.4v-1.37M1261.5 975.4v-1.42M1262.5 975.4v-0.95M1263.5 975.4v-1.91M1266.5 975.4v-2.3M1267.5 975.4v-1.24M1268.5 975.4v-2.92M1269.5 975.4v-1.76M1270.5 975.4v-0.73M1271.5 975.4v-2.27M1272.5 975.4v-4.65M1273.5 975.4v-1.69M1274.5 975.4v-1.72M1278.5 975.4v-1M1280.5 975.4v-1.44M1281.5 975.4v-2.27M1282.5 975.4v-4.95M1283.5 975.4v-1.74M1284.5 975.4v-4.72M1285.5 975.4v-0.93M1286.5 975.4v-4.97M1287.5 975.4v-0.6M1288.5 975.4v-2.2M1289.5 975.4v-1.27M1290.5 975.4v-1.99M1291.5 975.4v-14.08M1292.5 975.4v-2.08M1293.5 975.4v-1.46M1294.5 975.4v-2.13M1295.5 975.4v-1.38M1296.5 975.4v-2.18M1297.5 975.4v-1.67M1298.5 975.4v-0.56M1299.5 975.4v-1.47M1300.5 975.4v-2.37M1301.5 975.4v-0.77M1302.5 975.4v-1.96M1303.5 975.4v-1.06M1304.5 975.4v-3.33M1305.5 975.4v-0.93M1307.5 975.4v-1.46M1309.5 975.4v-6.35M1310.5 975.4v-2.28M1311.5 975.4v-4.28M1313.5 975.4v-3.67M1314.5 975.4v-7.96M1315.5 975.4v-23.13M1316.5 975.4v-22.4M1317.5 975.4v-12.1M1318.5 975.4v-13.7M1319.5 975.4v-8.69M1320.5 975.4v-3.22M1321.5 975.4v-8.91M1322.5 975.4v-0.96M1323.5 975.4v-0.85M1324.5 975.4v-1.65M1325.5 975.4v-0.62M1326.5 975.4v-4.62M1327.5 975.4v-2.05M1328.5 975.4v-4.92M1331.5 975.4v-1.03M1334.5 975.4v-1.31M1335.5 975.4v-0.76M1337.5 975.4v-0.97M1338.5 975.4v-2.61M1339.5 975.4v-0.64M1340.5 975.4v-1.35M1341.5 975.4v-0.84M1342.5 975.4v-1.29M1343.5 975.4v-2.28M1344.5 975.4v-1.57M1345.5 975.4v-4.34M1346.5 975.4v-6.42M1347.5 975.4v-0.7M1348.5 975.4v-1.3M1350.5 975.4v-6.8M1351.5 975.4v-0.86M1352.5 975.4v-1.14M1353.5 975.4v-1.03M1354.5 975.4v-3.55M1358.5 975.4v-0.93M1359.5 975.4v-0.68M1360.5 975.4v-1.99M1361.5 975.4v-1.15M1362.5 975.4v-6.76M1363.5 975.4v-1.18M1364.5 975.4v-1.15M1365.5 975.4v-1.08M1367.5 975.4v-8.52M1368.5 975.4v-0.78M1370.5 975.4v-1.16M1371.5 975.4v-2.37M1372.5 975.4v-1.22M1373.5 975.4v-1.42M1374.5 975.4v-1.06M1375.5 975.4v-4.69M1377.5 975.4v-0.93M1378.5 975.4v-3.06M1381.5 975.4v-1.1M1382.5 975.4v-1.17M1383.5 975.4v-6.76M1384.5 975.4v-2.25M1385.5 975.4v-1.25M1386.5 975.4v-1.56M1387.5 975.4v-3.53M1388.5 975.4v-2.63M1389.5 975.4v-0.59M1390.5 975.4v-5.8M1391.5 975.4v-2.68M1393.5 975.4v-1.21M1394.5 975.4v-0.66M1395.5 975.4v-1.55M1399.5 975.4v-1.63M1400.5 975.4v-2.31M1401.5 975.4v-1.32M1402.5 975.4v-1.26M1405.5 975.4v-0.83M1407.5 975.4v-3.84M1408.5 975.4v-3.77M1410.5 975.4v-6.28M1411.5 975.4v-0.75M1412.5 975.4v-1.82M1413.5 975.4v-0.99M1416.5 975.4v-0.73M1417.5 975.4v-1.02M1418.5 975.4v-0.84M1419.5 975.4v-3.6M1420.5 975.4v-1.5M1421.5 975.4v-1.02M1422.5 975.4v-1.47M1423.5 975.4v-2.95M1424.5 975.4v-0.85M1425.5 975.4v-2.47M1426.5 975.4v-2.39M1427.5 975.4v-4.08M1428.5 975.4v-11.13M1429.5 975.4v-19.33M1430.5 975.4v-28.13M1431.5 975.4v-52.3M1432.5 975.4v-27.57M1433.5 975.4v-3.24M1434.5 975.4v-0.72M1436.5 975.4v-1.19M1437.5 975.4v-3.49M1438.5 975.4v-0.58M1439.5 975.4v-3.58M1440.5 975.4v-0.73M1442.5 975.4v-6.85M1443.5 975.4v-1.42M1444.5 975.4v-2.4M1445.5 975.4v-1.07M1446.5 975.4v-5.87M1447.5 975.4v-1.23M1448.5 975.4v-1.38M1449.5 975.4v-2.29M1450.5 975.4v-0.76M1451.5 975.4v-1.86M1453.5 975.4v-0.87M1455.5 975.4v-1.42M1456.5 975.4v-3.76M1457.5 975.4v-2.51M1458.5 975.4v-0.65M1459.5 975.4v-0.55M1460.5 975.4v-1.15M1461.5 975.4v-5.2M1462.5 975.4v-4.24M1463.5 975.4v-1.34M1464.5 975.4v-1.57M1465.5 975.4v-1.03M1466.5 975.4v-1.26M1469.5 975.4v-6.25M1470.5 975.4v-1.72M1471.5 975.4v-1.53M1472.5 975.4v-1.3M1473.5 975.4v-1.26M1474.5 975.4v-5.33M1475.5 975.4v-1.46M1476.5 975.4v-5.52M1480.5 975.4v-1.31M1482.5 975.4v-2.84M1483.5 975.4v-0.72M1484.5 975.4v-1.13M1485.5 975.4v-1.24M1486.5 975.4v-1.37M1487.5 975.4v-2.67M1488.5 975.4v-1.03M1489.5 975.4v-0.58M1490.5 975.4v-6.72M1493.5 975.4v-3.32M1494.5 975.4v-2.19M1495.5 975.4v-0.58M1496.5 975.4v-0.61M1497.5 975.4v-9.09M1499.5 975.4v-2.4M1500.5 975.4v-0.66M1501.5 975.4v-3.9M1502.5 975.4v-1.24M1503.5 975.4v-2.79M1505.5 975.4v-0.89M1506.5 975.4v-2.93M1507.5 975.4v-0.86M1508.5 975.4v-0.97M1509.5 975.4v-0.55M1510.5 975.4v-1.08M1511.5 975.4v-0.92M1513.5 975.4v-3.56M1514.5 975.4v-3.22M1515.5 975.4v-3.17M1516.5 975.4v-1.42M1517.5 975.4v-0.62M1518.5 975.4v-0.7M1519.5 975.4v-0.67M1520.5 975.4v-2.49M1521.5 975.4v-3.2M1523.5 975.4v-1.09M1525.5 975.4v-4.94M1527.5 975.4v-1.4M1528.5 975.4v-0.79M1530.5 975.4v-0.81M1531.5 975.4v-0.69M1532.5 975.4v-5.37M1533.5 975.4v-5.92M1534.5 975.4v-1.14M1535.5 975.4v-3.35M1536.5 975.4v-4.59M1537.5 975.4v-1.37M1538.5 975.4v-0.6M1539.5 975.4v-1.01M1540.5 975.4v-1.17M1541.5 975.4v-1.31M1543.5 975.4v-3.84M1544.5 975.4v-0.69M1546.5 975.4v-1.51M1547.5 975.4v-0.82M1548.5 975.4v-0.74M1549.5 975.4v-0.9M1550.5 975.4v-1.36M1551.5 975.4v-2.95M1552.5 975.4v-1.24M1555.5 975.4v-0.83" stroke="#f2ef00" stroke-width="1.05"/><path d="M768.6 980.3H775V1032.3H768.6" fill="none" stroke="#000" stroke-width="1.3"/><text x="764.5" y="986.8" font-size="13" text-anchor="end">4</text><text x="764.5" y="1034.8" font-size="13" text-anchor="end">0</text><text x="1547" y="1002" font-size="16" textLength="38" lengthAdjust="spacingAndGlyphs">20-40</text><path d="M781.5 1032.3v-0.7M782.5 1032.3v-15.39M783.5 1032.3v-2.37M784.5 1032.3v-0.79M785.5 1032.3v-2.48M786.5 1032.3v-3.47M787.5 1032.3v-0.69M788.5 1032.3v-2.75M789.5 1032.3v-1.69M790.5 1032.3v-2.28M791.5 1032.3v-0.74M792.5 1032.3v-1.09M793.5 1032.3v-2.94M794.5 1032.3v-5.4M795.5 1032.3v-9.36M796.5 1032.3v-1.51M797.5 1032.3v-2.39M798.5 1032.3v-1.66M799.5 1032.3v-1.24M800.5 1032.3v-2.52M801.5 1032.3v-2.02M804.5 1032.3v-2.45M805.5 1032.3v-2.95M806.5 1032.3v-3.86M807.5 1032.3v-3.13M808.5 1032.3v-3.11M809.5 1032.3v-5.55M811.5 1032.3v-1.24M812.5 1032.3v-14.84M813.5 1032.3v-0.97M814.5 1032.3v-6.29M815.5 1032.3v-6.44M816.5 1032.3v-0.64M817.5 1032.3v-6M818.5 1032.3v-9.95M819.5 1032.3v-6.46M820.5 1032.3v-14.94M822.5 1032.3v-2.46M824.5 1032.3v-2.95M825.5 1032.3v-3.35M826.5 1032.3v-0.73M827.5 1032.3v-3.51M828.5 1032.3v-8.51M829.5 1032.3v-2.34M830.5 1032.3v-5.01M831.5 1032.3v-6.96M832.5 1032.3v-2.04M833.5 1032.3v-1.94M834.5 1032.3v-2.36M835.5 1032.3v-1.91M836.5 1032.3v-3.35M837.5 1032.3v-2.43M838.5 1032.3v-9.43M839.5 1032.3v-0.79M840.5 1032.3v-0.53M841.5 1032.3v-1.22M842.5 1032.3v-1.6M843.5 1032.3v-5.5M844.5 1032.3v-2.96M845.5 1032.3v-4.47M846.5 1032.3v-1.95M847.5 1032.3v-2.42M848.5 1032.3v-1.96M849.5 1032.3v-1.63M851.5 1032.3v-3.55M852.5 1032.3v-3.56M853.5 1032.3v-2.19M854.5 1032.3v-7.73M855.5 1032.3v-3.78M856.5 1032.3v-24.86M857.5 1032.3v-1.47M858.5 1032.3v-0.98M860.5 1032.3v-6.97M861.5 1032.3v-2.47M862.5 1032.3v-2.28M863.5 1032.3v-7.94M864.5 1032.3v-2.75M865.5 1032.3v-1.19M866.5 1032.3v-3.39M867.5 1032.3v-2.85M868.5 1032.3v-11.76M869.5 1032.3v-26.91M870.5 1032.3v-28.52M871.5 1032.3v-19.28M872.5 1032.3v-17.89M873.5 1032.3v-9.58M874.5 1032.3v-4.35M875.5 1032.3v-3.55M877.5 1032.3v-3.53M878.5 1032.3v-2.59M879.5 1032.3v-2M880.5 1032.3v-3.05M881.5 1032.3v-13.46M882.5 1032.3v-8.66M883.5 1032.3v-1.09M884.5 1032.3v-10.21M885.5 1032.3v-0.54M886.5 1032.3v-1.57M887.5 1032.3v-14.93M888.5 1032.3v-6.14M889.5 1032.3v-2.78M890.5 1032.3v-1.88M891.5 1032.3v-3.19M892.5 1032.3v-2.12M893.5 1032.3v-5.23M894.5 1032.3v-3M895.5 1032.3v-7.63M896.5 1032.3v-3.5M898.5 1032.3v-0.74M899.5 1032.3v-3.02M901.5 1032.3v-5.37M903.5 1032.3v-3.53M904.5 1032.3v-7.45M905.5 1032.3v-2.46M906.5 1032.3v-5.91M907.5 1032.3v-3.47M908.5 1032.3v-5.56M909.5 1032.3v-1.42M910.5 1032.3v-4.2M911.5 1032.3v-9.66M912.5 1032.3v-1.9M913.5 1032.3v-2.8M914.5 1032.3v-7.35M915.5 1032.3v-12.12M916.5 1032.3v-12.02M917.5 1032.3v-8.07M918.5 1032.3v-10.04M919.5 1032.3v-1.34M920.5 1032.3v-7.04M921.5 1032.3v-4.14M922.5 1032.3v-6.2M923.5 1032.3v-5.49M924.5 1032.3v-4.75M925.5 1032.3v-0.91M926.5 1032.3v-4.3M927.5 1032.3v-1.03M928.5 1032.3v-3.14M929.5 1032.3v-19.45M930.5 1032.3v-0.71M931.5 1032.3v-2M932.5 1032.3v-0.97M933.5 1032.3v-1.79M935.5 1032.3v-1.52M936.5 1032.3v-1.39M937.5 1032.3v-0.61M938.5 1032.3v-2.39M939.5 1032.3v-0.55M940.5 1032.3v-6.69M941.5 1032.3v-7.67M942.5 1032.3v-6.79M943.5 1032.3v-11.47M944.5 1032.3v-10.49M945.5 1032.3v-7.37M946.5 1032.3v-3.28M947.5 1032.3v-0.54M948.5 1032.3v-14.81M949.5 1032.3v-3.31M950.5 1032.3v-1.48M951.5 1032.3v-7.09M952.5 1032.3v-5.01M954.5 1032.3v-1.45M955.5 1032.3v-11.87M956.5 1032.3v-2.46M957.5 1032.3v-3.2M958.5 1032.3v-14.23M959.5 1032.3v-1.4M960.5 1032.3v-0.84M961.5 1032.3v-1.04M962.5 1032.3v-9.36M963.5 1032.3v-2.52M964.5 1032.3v-1.85M965.5 1032.3v-1.13M966.5 1032.3v-3.3M967.5 1032.3v-2.01M968.5 1032.3v-0.96M969.5 1032.3v-1.6M970.5 1032.3v-1.46M971.5 1032.3v-1.83M972.5 1032.3v-1.31M973.5 1032.3v-3.54M974.5 1032.3v-2.44M975.5 1032.3v-0.63M976.5 1032.3v-1.93M977.5 1032.3v-2.2M978.5 1032.3v-0.65M979.5 1032.3v-3.02M980.5 1032.3v-4.17M982.5 1032.3v-0.95M983.5 1032.3v-0.65M984.5 1032.3v-2.97M985.5 1032.3v-24.29M986.5 1032.3v-23.45M987.5 1032.3v-2.74M988.5 1032.3v-9.5M991.5 1032.3v-2.75M992.5 1032.3v-1.33M993.5 1032.3v-0.78M994.5 1032.3v-1.89M995.5 1032.3v-1.64M996.5 1032.3v-0.95M997.5 1032.3v-0.59M998.5 1032.3v-1.77M1000.5 1032.3v-1.12M1001.5 1032.3v-1.19M1002.5 1032.3v-1.2M1003.5 1032.3v-1.71M1004.5 1032.3v-4.99M1005.5 1032.3v-2.04M1006.5 1032.3v-5.57M1007.5 1032.3v-16.25M1008.5 1032.3v-1.72M1009.5 1032.3v-3.21M1010.5 1032.3v-1.45M1011.5 1032.3v-3.75M1012.5 1032.3v-2.21M1015.5 1032.3v-3.76M1016.5 1032.3v-9.55M1018.5 1032.3v-0.89M1019.5 1032.3v-0.87M1020.5 1032.3v-3.19M1021.5 1032.3v-4.48M1022.5 1032.3v-2.67M1023.5 1032.3v-1.23M1024.5 1032.3v-1.53M1025.5 1032.3v-3.52M1026.5 1032.3v-1.29M1028.5 1032.3v-1.03M1029.5 1032.3v-8.24M1030.5 1032.3v-2.1M1031.5 1032.3v-3.14M1032.5 1032.3v-0.71M1033.5 1032.3v-1.1M1034.5 1032.3v-1.44M1035.5 1032.3v-1.47M1036.5 1032.3v-1.28M1037.5 1032.3v-1.89M1038.5 1032.3v-9.32M1039.5 1032.3v-1.26M1041.5 1032.3v-6.99M1042.5 1032.3v-11.71M1043.5 1032.3v-6.87M1045.5 1032.3v-15.92M1046.5 1032.3v-5.03M1047.5 1032.3v-2.32M1048.5 1032.3v-1.26M1049.5 1032.3v-5.32M1050.5 1032.3v-13.54M1051.5 1032.3v-23.22M1052.5 1032.3v-25.05M1053.5 1032.3v-32.18M1054.5 1032.3v-52M1055.5 1032.3v-33.91M1056.5 1032.3v-30.63M1057.5 1032.3v-20.4M1058.5 1032.3v-25.43M1059.5 1032.3v-1.81M1060.5 1032.3v-7.52M1061.5 1032.3v-2.04M1063.5 1032.3v-2.38M1064.5 1032.3v-2.89M1065.5 1032.3v-6.34M1066.5 1032.3v-5.63M1067.5 1032.3v-1.03M1068.5 1032.3v-1.97M1069.5 1032.3v-1.48M1070.5 1032.3v-0.88M1071.5 1032.3v-0.95M1072.5 1032.3v-2.46M1073.5 1032.3v-5.64M1074.5 1032.3v-2.24M1075.5 1032.3v-12.05M1076.5 1032.3v-12.85M1077.5 1032.3v-1.76M1078.5 1032.3v-3.43M1079.5 1032.3v-3.52M1080.5 1032.3v-10.66M1081.5 1032.3v-0.76M1082.5 1032.3v-1.71M1083.5 1032.3v-9.08M1084.5 1032.3v-19.86M1085.5 1032.3v-6.35M1086.5 1032.3v-3.28M1087.5 1032.3v-1.84M1088.5 1032.3v-13.78M1089.5 1032.3v-13.5M1090.5 1032.3v-15.86M1092.5 1032.3v-2.21M1093.5 1032.3v-13.41M1094.5 1032.3v-7.78M1095.5 1032.3v-2.61M1096.5 1032.3v-1.94M1097.5 1032.3v-18.17M1098.5 1032.3v-1.31M1099.5 1032.3v-2.44M1100.5 1032.3v-1.02M1101.5 1032.3v-1.83M1102.5 1032.3v-1.14M1103.5 1032.3v-2.69M1104.5 1032.3v-2.62M1105.5 1032.3v-3.31M1107.5 1032.3v-1.72M1108.5 1032.3v-0.71M1109.5 1032.3v-2.81M1110.5 1032.3v-2.26M1111.5 1032.3v-7.74M1112.5 1032.3v-3.16M1113.5 1032.3v-3.29M1114.5 1032.3v-2.05M1115.5 1032.3v-4.01M1116.5 1032.3v-7.97M1117.5 1032.3v-3.89M1118.5 1032.3v-7.08M1120.5 1032.3v-2.18M1121.5 1032.3v-0.57M1122.5 1032.3v-10.58M1123.5 1032.3v-23.62M1124.5 1032.3v-3.41M1126.5 1032.3v-1.14M1128.5 1032.3v-0.84M1129.5 1032.3v-5.29M1130.5 1032.3v-3.35M1131.5 1032.3v-5.15M1132.5 1032.3v-1.11M1133.5 1032.3v-1.38M1134.5 1032.3v-6.99M1136.5 1032.3v-2.32M1137.5 1032.3v-0.84M1138.5 1032.3v-3.26M1139.5 1032.3v-2.2M1140.5 1032.3v-7.53M1141.5 1032.3v-1.4M1143.5 1032.3v-4.7M1144.5 1032.3v-2.21M1145.5 1032.3v-1.44M1146.5 1032.3v-1.82M1147.5 1032.3v-6.77M1148.5 1032.3v-1.82M1149.5 1032.3v-3.42M1152.5 1032.3v-0.83M1154.5 1032.3v-4.63M1155.5 1032.3v-1.65M1157.5 1032.3v-3.93M1159.5 1032.3v-0.81M1160.5 1032.3v-1.19M1161.5 1032.3v-7.58M1162.5 1032.3v-1.91M1163.5 1032.3v-1.6M1164.5 1032.3v-1.71M1166.5 1032.3v-3.85M1169.5 1032.3v-1.85M1170.5 1032.3v-4.27M1171.5 1032.3v-1.67M1172.5 1032.3v-2.25M1173.5 1032.3v-4.02M1174.5 1032.3v-4.27M1175.5 1032.3v-4.84M1177.5 1032.3v-0.61M1178.5 1032.3v-2.16M1179.5 1032.3v-0.55M1180.5 1032.3v-1.64M1181.5 1032.3v-0.94M1182.5 1032.3v-1.94M1183.5 1032.3v-2.65M1184.5 1032.3v-1.64M1185.5 1032.3v-3.37M1186.5 1032.3v-7.73M1187.5 1032.3v-1.29M1188.5 1032.3v-2.24M1189.5 1032.3v-8.29M1190.5 1032.3v-0.65M1191.5 1032.3v-0.65M1192.5 1032.3v-0.65M1193.5 1032.3v-0.65M1194.5 1032.3v-0.65M1195.5 1032.3v-0.65M1196.5 1032.3v-1.34M1197.5 1032.3v-3.41M1198.5 1032.3v-2.45M1199.5 1032.3v-6.4M1200.5 1032.3v-6.01M1201.5 1032.3v-1.52M1202.5 1032.3v-3.9M1203.5 1032.3v-1.77M1204.5 1032.3v-1.81M1205.5 1032.3v-0.55M1206.5 1032.3v-0.6M1207.5 1032.3v-0.8M1208.5 1032.3v-1.98M1209.5 1032.3v-1.64M1210.5 1032.3v-1.34M1211.5 1032.3v-1.8M1212.5 1032.3v-2.88M1213.5 1032.3v-1.19M1214.5 1032.3v-2M1215.5 1032.3v-2.42M1216.5 1032.3v-16.11M1217.5 1032.3v-0.63M1218.5 1032.3v-0.9M1219.5 1032.3v-0.68M1220.5 1032.3v-2.03M1223.5 1032.3v-0.57M1224.5 1032.3v-0.96M1225.5 1032.3v-1.99M1226.5 1032.3v-2.04M1227.5 1032.3v-2.16M1228.5 1032.3v-3.58M1229.5 1032.3v-0.55M1230.5 1032.3v-9.17M1231.5 1032.3v-1.58M1232.5 1032.3v-4.24M1233.5 1032.3v-8.31M1235.5 1032.3v-1.83M1238.5 1032.3v-1.62M1239.5 1032.3v-1.24M1240.5 1032.3v-2.2M1241.5 1032.3v-6.84M1242.5 1032.3v-1.59M1244.5 1032.3v-1.01M1245.5 1032.3v-2.59M1246.5 1032.3v-2.76M1247.5 1032.3v-2.7M1248.5 1032.3v-1.85M1249.5 1032.3v-1.82M1250.5 1032.3v-4.12M1251.5 1032.3v-4.13M1252.5 1032.3v-1.52M1253.5 1032.3v-2.08M1254.5 1032.3v-1.99M1255.5 1032.3v-5.48M1257.5 1032.3v-3.68M1259.5 1032.3v-8.2M1260.5 1032.3v-3M1261.5 1032.3v-4.71M1262.5 1032.3v-0.62M1263.5 1032.3v-1.08M1264.5 1032.3v-1.46M1265.5 1032.3v-1.65M1267.5 1032.3v-1.02M1268.5 1032.3v-1.63M1269.5 1032.3v-2.14M1270.5 1032.3v-1.12M1271.5 1032.3v-4.74M1272.5 1032.3v-4.63M1274.5 1032.3v-1.37M1275.5 1032.3v-1.01M1277.5 1032.3v-2.25M1278.5 1032.3v-5.14M1279.5 1032.3v-0.56M1280.5 1032.3v-0.78M1281.5 1032.3v-1.18M1282.5 1032.3v-5.7M1283.5 1032.3v-0.74M1285.5 1032.3v-1.18M1286.5 1032.3v-2.86M1287.5 1032.3v-5.57M1288.5 1032.3v-0.8M1289.5 1032.3v-1.66M1290.5 1032.3v-5.01M1291.5 1032.3v-1.97M1292.5 1032.3v-4.67M1293.5 1032.3v-0.6M1294.5 1032.3v-3.51M1296.5 1032.3v-8.36M1297.5 1032.3v-1.07M1298.5 1032.3v-0.66M1299.5 1032.3v-3.79M1300.5 1032.3v-8.77M1301.5 1032.3v-1.74M1302.5 1032.3v-1.46M1303.5 1032.3v-0.96M1304.5 1032.3v-8.69M1305.5 1032.3v-1.23M1307.5 1032.3v-1.96M1308.5 1032.3v-0.61M1309.5 1032.3v-2.24M1312.5 1032.3v-3.74M1313.5 1032.3v-1.12M1314.5 1032.3v-6.68M1315.5 1032.3v-17.81M1316.5 1032.3v-16.32M1317.5 1032.3v-6.53M1318.5 1032.3v-1.29M1319.5 1032.3v-1.24M1320.5 1032.3v-5.34M1321.5 1032.3v-0.64M1322.5 1032.3v-2.35M1323.5 1032.3v-2.03M1324.5 1032.3v-4.96M1326.5 1032.3v-10.13M1327.5 1032.3v-2.02M1328.5 1032.3v-16.34M1329.5 1032.3v-6.43M1334.5 1032.3v-1.45M1335.5 1032.3v-9.41M1336.5 1032.3v-1.08M1337.5 1032.3v-1.53M1338.5 1032.3v-0.97M1339.5 1032.3v-0.66M1341.5 1032.3v-1.08M1342.5 1032.3v-0.57M1343.5 1032.3v-0.63M1345.5 1032.3v-0.9M1346.5 1032.3v-5.47M1347.5 1032.3v-1.18M1348.5 1032.3v-3.31M1349.5 1032.3v-0.92M1350.5 1032.3v-0.65M1351.5 1032.3v-0.65M1352.5 1032.3v-0.65M1353.5 1032.3v-0.65M1354.5 1032.3v-0.65M1355.5 1032.3v-0.65M1356.5 1032.3v-0.65M1357.5 1032.3v-0.65M1358.5 1032.3v-0.65M1359.5 1032.3v-0.65M1360.5 1032.3v-0.65M1361.5 1032.3v-0.65M1362.5 1032.3v-0.65M1363.5 1032.3v-0.65M1364.5 1032.3v-0.65M1365.5 1032.3v-0.74M1366.5 1032.3v-1.56M1367.5 1032.3v-0.68M1368.5 1032.3v-1.04M1371.5 1032.3v-0.7M1374.5 1032.3v-11.23M1375.5 1032.3v-1.09M1377.5 1032.3v-3.34M1379.5 1032.3v-0.54M1380.5 1032.3v-0.77M1383.5 1032.3v-1.23M1384.5 1032.3v-0.69M1385.5 1032.3v-1.52M1386.5 1032.3v-6.53M1387.5 1032.3v-1.54M1389.5 1032.3v-3.02M1390.5 1032.3v-0.98M1391.5 1032.3v-1.17M1392.5 1032.3v-1.16M1394.5 1032.3v-1.05M1396.5 1032.3v-0.93M1397.5 1032.3v-0.64M1398.5 1032.3v-0.86M1399.5 1032.3v-0.74M1400.5 1032.3v-4.17M1402.5 1032.3v-1.53M1403.5 1032.3v-1.9M1404.5 1032.3v-0.53M1405.5 1032.3v-7.06M1406.5 1032.3v-1.01M1407.5 1032.3v-2.6M1409.5 1032.3v-0.76M1411.5 1032.3v-3.93M1413.5 1032.3v-5.42M1414.5 1032.3v-3.3M1415.5 1032.3v-1.57M1416.5 1032.3v-1.01M1417.5 1032.3v-1.5M1418.5 1032.3v-1.27M1421.5 1032.3v-0.8M1423.5 1032.3v-1.36M1424.5 1032.3v-1.59M1425.5 1032.3v-0.67M1426.5 1032.3v-0.87M1427.5 1032.3v-3.82M1428.5 1032.3v-9.65M1429.5 1032.3v-16.05M1430.5 1032.3v-25.37M1431.5 1032.3v-47.2M1432.5 1032.3v-27.95M1433.5 1032.3v-3.33M1434.5 1032.3v-1.13M1435.5 1032.3v-1.37M1436.5 1032.3v-2.39M1438.5 1032.3v-1.8M1439.5 1032.3v-0.56M1440.5 1032.3v-2.77M1442.5 1032.3v-1.51M1443.5 1032.3v-4.96M1445.5 1032.3v-6.03M1446.5 1032.3v-3.41M1447.5 1032.3v-1.15M1449.5 1032.3v-4.45M1450.5 1032.3v-1.27M1452.5 1032.3v-2.45M1453.5 1032.3v-6.49M1454.5 1032.3v-0.59M1455.5 1032.3v-1.26M1456.5 1032.3v-1.54M1457.5 1032.3v-3.56M1458.5 1032.3v-1.76M1459.5 1032.3v-1.95M1460.5 1032.3v-0.79M1461.5 1032.3v-0.97M1462.5 1032.3v-1.51M1463.5 1032.3v-2.04M1464.5 1032.3v-14.33M1465.5 1032.3v-12.46M1466.5 1032.3v-2.75M1467.5 1032.3v-0.59M1468.5 1032.3v-1.22M1470.5 1032.3v-1.02M1471.5 1032.3v-0.94M1472.5 1032.3v-0.92M1473.5 1032.3v-1.34M1475.5 1032.3v-6.61M1476.5 1032.3v-1.05M1478.5 1032.3v-0.59M1479.5 1032.3v-0.62M1482.5 1032.3v-0.71M1483.5 1032.3v-0.57M1484.5 1032.3v-1.11M1485.5 1032.3v-2.77M1486.5 1032.3v-4.28M1488.5 1032.3v-1.35M1491.5 1032.3v-2.61M1492.5 1032.3v-5.48M1493.5 1032.3v-4.63M1494.5 1032.3v-1.28M1495.5 1032.3v-0.89M1498.5 1032.3v-1.36M1499.5 1032.3v-1.17M1500.5 1032.3v-2.73M1501.5 1032.3v-1.19M1502.5 1032.3v-2.81M1504.5 1032.3v-0.67M1505.5 1032.3v-1.54M1506.5 1032.3v-1.41M1507.5 1032.3v-0.66M1508.5 1032.3v-1.01M1509.5 1032.3v-2.55M1510.5 1032.3v-0.53M1514.5 1032.3v-2.41M1515.5 1032.3v-2.99M1517.5 1032.3v-7.04M1518.5 1032.3v-3.32M1519.5 1032.3v-1.25M1522.5 1032.3v-5.78M1523.5 1032.3v-1.35M1524.5 1032.3v-3.51M1525.5 1032.3v-1.22M1526.5 1032.3v-1.51M1527.5 1032.3v-8.94M1528.5 1032.3v-8.81M1529.5 1032.3v-4.89M1530.5 1032.3v-3.27M1533.5 1032.3v-1.12M1534.5 1032.3v-1.22M1535.5 1032.3v-1.09M1536.5 1032.3v-6.46M1537.5 1032.3v-1.1M1538.5 1032.3v-0.73M1539.5 1032.3v-1.43M1540.5 1032.3v-3.1M1541.5 1032.3v-0.52M1543.5 1032.3v-1.11M1544.5 1032.3v-1.44M1545.5 1032.3v-2.46M1546.5 1032.3v-1.36M1547.5 1032.3v-1.43M1548.5 1032.3v-1.4M1550.5 1032.3v-1.34M1551.5 1032.3v-1.69M1552.5 1032.3v-0.72M1553.5 1032.3v-1.06M1555.5 1032.3v-0.64" stroke="#f5b445" stroke-width="1.05"/><path d="M768.6 1037.4H775V1089.4H768.6" fill="none" stroke="#000" stroke-width="1.3"/><text x="764.5" y="1043.9" font-size="13" text-anchor="end">4</text><text x="764.5" y="1091.9" font-size="13" text-anchor="end">0</text><text x="1547" y="1065.3" font-size="16" textLength="38" lengthAdjust="spacingAndGlyphs">40-60</text><path d="M781.5 1089.4v-2.2M782.5 1089.4v-2.55M783.5 1089.4v-1.37M784.5 1089.4v-2.02M785.5 1089.4v-1.9M786.5 1089.4v-1.86M787.5 1089.4v-13.24M788.5 1089.4v-0.81M789.5 1089.4v-2.9M790.5 1089.4v-4.95M791.5 1089.4v-1.79M792.5 1089.4v-1.9M793.5 1089.4v-2.22M794.5 1089.4v-5.45M796.5 1089.4v-2.46M797.5 1089.4v-2.67M798.5 1089.4v-1.42M799.5 1089.4v-6.77M800.5 1089.4v-2.1M801.5 1089.4v-3.52M802.5 1089.4v-1.58M803.5 1089.4v-7.22M804.5 1089.4v-5.19M805.5 1089.4v-3.39M806.5 1089.4v-2.24M807.5 1089.4v-12.65M808.5 1089.4v-2.66M809.5 1089.4v-3.27M810.5 1089.4v-4.34M811.5 1089.4v-10.88M812.5 1089.4v-3.35M813.5 1089.4v-6.83M814.5 1089.4v-3.07M815.5 1089.4v-9.25M816.5 1089.4v-2.45M817.5 1089.4v-7.3M818.5 1089.4v-2.37M819.5 1089.4v-1.48M820.5 1089.4v-1.71M822.5 1089.4v-0.54M823.5 1089.4v-0.54M824.5 1089.4v-1.14M825.5 1089.4v-3.37M826.5 1089.4v-0.67M827.5 1089.4v-2.66M828.5 1089.4v-1.66M829.5 1089.4v-6.74M830.5 1089.4v-3.01M831.5 1089.4v-1.84M832.5 1089.4v-0.61M833.5 1089.4v-3.17M834.5 1089.4v-7.86M835.5 1089.4v-10.21M836.5 1089.4v-0.99M837.5 1089.4v-2.32M838.5 1089.4v-7.49M839.5 1089.4v-7.8M840.5 1089.4v-3.86M841.5 1089.4v-2.78M842.5 1089.4v-9.33M843.5 1089.4v-9.91M844.5 1089.4v-1.72M845.5 1089.4v-8.76M846.5 1089.4v-10.03M848.5 1089.4v-2.08M849.5 1089.4v-1.99M850.5 1089.4v-10.38M851.5 1089.4v-5.63M852.5 1089.4v-6.13M853.5 1089.4v-5.23M854.5 1089.4v-1.99M855.5 1089.4v-1.68M856.5 1089.4v-3.23M857.5 1089.4v-12.85M858.5 1089.4v-11.17M859.5 1089.4v-2.48M860.5 1089.4v-2.68M861.5 1089.4v-1.68M863.5 1089.4v-3.5M864.5 1089.4v-3.16M865.5 1089.4v-1.21M866.5 1089.4v-1.28M867.5 1089.4v-1.73M868.5 1089.4v-11.67M869.5 1089.4v-30.21M870.5 1089.4v-29.24M871.5 1089.4v-17.48M872.5 1089.4v-17.39M873.5 1089.4v-10.03M874.5 1089.4v-4.14M875.5 1089.4v-5.54M876.5 1089.4v-5.15M877.5 1089.4v-3.07M878.5 1089.4v-7.89M879.5 1089.4v-7.56M881.5 1089.4v-0.78M882.5 1089.4v-6.67M883.5 1089.4v-5.6M884.5 1089.4v-25.59M885.5 1089.4v-3.29M886.5 1089.4v-1.99M887.5 1089.4v-0.61M888.5 1089.4v-2.91M889.5 1089.4v-1.92M890.5 1089.4v-1.01M891.5 1089.4v-1.87M893.5 1089.4v-2.43M894.5 1089.4v-2.81M895.5 1089.4v-1.68M896.5 1089.4v-3.07M897.5 1089.4v-13.26M898.5 1089.4v-1.16M899.5 1089.4v-4.14M900.5 1089.4v-5.88M901.5 1089.4v-1.38M902.5 1089.4v-8.65M903.5 1089.4v-1.26M904.5 1089.4v-1.8M905.5 1089.4v-2.13M906.5 1089.4v-1.79M907.5 1089.4v-14.48M908.5 1089.4v-3.27M909.5 1089.4v-8.26M910.5 1089.4v-13.47M911.5 1089.4v-13.86M912.5 1089.4v-8.95M913.5 1089.4v-3.01M914.5 1089.4v-7.96M915.5 1089.4v-3.47M916.5 1089.4v-0.55M917.5 1089.4v-3.14M918.5 1089.4v-0.64M919.5 1089.4v-24.55M920.5 1089.4v-4.89M921.5 1089.4v-7.7M922.5 1089.4v-0.86M923.5 1089.4v-3.39M924.5 1089.4v-23.57M925.5 1089.4v-0.57M926.5 1089.4v-2.15M927.5 1089.4v-2.78M928.5 1089.4v-3.19M929.5 1089.4v-0.57M930.5 1089.4v-1.37M931.5 1089.4v-15.42M932.5 1089.4v-0.72M933.5 1089.4v-3.71M934.5 1089.4v-2.73M935.5 1089.4v-3.14M936.5 1089.4v-3.77M937.5 1089.4v-9.72M938.5 1089.4v-16.32M939.5 1089.4v-18.53M940.5 1089.4v-11.04M941.5 1089.4v-4.22M942.5 1089.4v-1.25M943.5 1089.4v-7.02M944.5 1089.4v-15.42M945.5 1089.4v-14.97M946.5 1089.4v-15.81M947.5 1089.4v-2.7M948.5 1089.4v-2.8M949.5 1089.4v-25.15M950.5 1089.4v-3.18M951.5 1089.4v-3.03M952.5 1089.4v-16.86M953.5 1089.4v-2.68M954.5 1089.4v-15.16M955.5 1089.4v-1.61M956.5 1089.4v-3.04M958.5 1089.4v-3.33M959.5 1089.4v-2.83M960.5 1089.4v-1.1M961.5 1089.4v-4.01M962.5 1089.4v-1.1M963.5 1089.4v-4.75M964.5 1089.4v-1.34M965.5 1089.4v-7.63M966.5 1089.4v-1.55M968.5 1089.4v-2.93M969.5 1089.4v-2.15M972.5 1089.4v-0.71M973.5 1089.4v-1.69M974.5 1089.4v-1.51M975.5 1089.4v-3.73M976.5 1089.4v-0.97M977.5 1089.4v-1.98M978.5 1089.4v-2.54M979.5 1089.4v-4.39M981.5 1089.4v-1.99M982.5 1089.4v-1.32M983.5 1089.4v-1.51M984.5 1089.4v-3.64M985.5 1089.4v-28.8M986.5 1089.4v-29.54M987.5 1089.4v-9.64M989.5 1089.4v-1.54M990.5 1089.4v-0.97M991.5 1089.4v-2.21M993.5 1089.4v-3M994.5 1089.4v-2.15M995.5 1089.4v-2.33M996.5 1089.4v-4.87M997.5 1089.4v-5.77M998.5 1089.4v-1.15M999.5 1089.4v-2.27M1000.5 1089.4v-0.65M1001.5 1089.4v-0.65M1002.5 1089.4v-0.65M1003.5 1089.4v-0.65M1004.5 1089.4v-0.65M1005.5 1089.4v-0.65M1006.5 1089.4v-0.65M1007.5 1089.4v-0.65M1008.5 1089.4v-0.65M1009.5 1089.4v-0.65M1010.5 1089.4v-0.65M1011.5 1089.4v-0.65M1013.5 1089.4v-2.73M1014.5 1089.4v-0.57M1016.5 1089.4v-9.89M1017.5 1089.4v-1.51M1018.5 1089.4v-9.97M1019.5 1089.4v-1.34M1020.5 1089.4v-1.05M1021.5 1089.4v-2.28M1022.5 1089.4v-0.65M1023.5 1089.4v-0.65M1024.5 1089.4v-0.65M1025.5 1089.4v-0.65M1026.5 1089.4v-0.65M1027.5 1089.4v-0.65M1028.5 1089.4v-0.65M1029.5 1089.4v-0.65M1030.5 1089.4v-1.77M1031.5 1089.4v-0.89M1032.5 1089.4v-1.31M1033.5 1089.4v-1.38M1034.5 1089.4v-5.61M1035.5 1089.4v-5.16M1036.5 1089.4v-4.39M1037.5 1089.4v-1.02M1038.5 1089.4v-1.8M1040.5 1089.4v-7.5M1041.5 1089.4v-9.83M1042.5 1089.4v-14.02M1043.5 1089.4v-2.87M1045.5 1089.4v-5.28M1046.5 1089.4v-2.89M1047.5 1089.4v-1.39M1048.5 1089.4v-1.07M1049.5 1089.4v-5.01M1050.5 1089.4v-15.89M1051.5 1089.4v-26.25M1052.5 1089.4v-25.57M1053.5 1089.4v-37.21M1054.5 1089.4v-52M1055.5 1089.4v-35.31M1056.5 1089.4v-32.33M1057.5 1089.4v-21.15M1058.5 1089.4v-8.24M1059.5 1089.4v-2.67M1060.5 1089.4v-4.9M1061.5 1089.4v-0.97M1062.5 1089.4v-2.16M1063.5 1089.4v-1.35M1064.5 1089.4v-6.65M1065.5 1089.4v-1.83M1066.5 1089.4v-1.02M1067.5 1089.4v-11.26M1069.5 1089.4v-1.68M1070.5 1089.4v-2.45M1072.5 1089.4v-1.11M1073.5 1089.4v-4.6M1074.5 1089.4v-1.71M1075.5 1089.4v-10.8M1076.5 1089.4v-11.78M1077.5 1089.4v-5.45M1078.5 1089.4v-3.59M1079.5 1089.4v-15.63M1080.5 1089.4v-13.87M1081.5 1089.4v-15.61M1082.5 1089.4v-3.41M1083.5 1089.4v-7.92M1084.5 1089.4v-1.55M1086.5 1089.4v-0.67M1087.5 1089.4v-1.98M1088.5 1089.4v-11.95M1089.5 1089.4v-11.43M1090.5 1089.4v-13.58M1091.5 1089.4v-0.84M1092.5 1089.4v-7.5M1093.5 1089.4v-0.62M1094.5 1089.4v-1.51M1095.5 1089.4v-0.97M1096.5 1089.4v-7.61M1097.5 1089.4v-5.75M1098.5 1089.4v-1.6M1099.5 1089.4v-6.19M1100.5 1089.4v-1.01M1102.5 1089.4v-6.74M1103.5 1089.4v-1.36M1104.5 1089.4v-3.14M1105.5 1089.4v-1M1106.5 1089.4v-0.56M1107.5 1089.4v-25.07M1108.5 1089.4v-1.43M1109.5 1089.4v-3.35M1110.5 1089.4v-0.79M1111.5 1089.4v-2.54M1113.5 1089.4v-3.33M1114.5 1089.4v-4.84M1115.5 1089.4v-1.43M1116.5 1089.4v-7.83M1118.5 1089.4v-3.27M1119.5 1089.4v-0.98M1120.5 1089.4v-4.3M1121.5 1089.4v-19.42M1122.5 1089.4v-1.28M1123.5 1089.4v-2.8M1124.5 1089.4v-3.57M1125.5 1089.4v-1.4M1126.5 1089.4v-1.11M1129.5 1089.4v-1.38M1130.5 1089.4v-7.79M1131.5 1089.4v-3.28M1132.5 1089.4v-3.84M1133.5 1089.4v-4.99M1135.5 1089.4v-9.59M1136.5 1089.4v-1.06M1137.5 1089.4v-7.43M1139.5 1089.4v-0.81M1140.5 1089.4v-1.88M1141.5 1089.4v-1.34M1143.5 1089.4v-1.79M1144.5 1089.4v-0.56M1145.5 1089.4v-3.76M1146.5 1089.4v-1.54M1147.5 1089.4v-2.26M1148.5 1089.4v-1.41M1149.5 1089.4v-1.1M1151.5 1089.4v-1.96M1152.5 1089.4v-9.22M1153.5 1089.4v-1.03M1154.5 1089.4v-1.86M1155.5 1089.4v-1.71M1156.5 1089.4v-9.58M1157.5 1089.4v-4.16M1158.5 1089.4v-0.54M1159.5 1089.4v-6.87M1160.5 1089.4v-1.49M1161.5 1089.4v-4.6M1162.5 1089.4v-0.69M1163.5 1089.4v-1.92M1164.5 1089.4v-8.24M1165.5 1089.4v-0.95M1166.5 1089.4v-7.89M1167.5 1089.4v-1.32M1168.5 1089.4v-1.97M1169.5 1089.4v-1.29M1170.5 1089.4v-2.67M1171.5 1089.4v-0.8M1172.5 1089.4v-0.98M1173.5 1089.4v-14.44M1174.5 1089.4v-8.64M1175.5 1089.4v-4.07M1176.5 1089.4v-1.87M1177.5 1089.4v-2.07M1178.5 1089.4v-4.6M1179.5 1089.4v-1.99M1180.5 1089.4v-2.25M1181.5 1089.4v-0.53M1182.5 1089.4v-1.52M1183.5 1089.4v-2.24M1184.5 1089.4v-3.01M1185.5 1089.4v-0.65M1186.5 1089.4v-0.65M1187.5 1089.4v-0.65M1188.5 1089.4v-0.65M1189.5 1089.4v-0.65M1190.5 1089.4v-0.57M1191.5 1089.4v-1.55M1192.5 1089.4v-1.97M1194.5 1089.4v-9.55M1195.5 1089.4v-1.82M1196.5 1089.4v-0.53M1197.5 1089.4v-0.73M1198.5 1089.4v-1.15M1201.5 1089.4v-2.28M1203.5 1089.4v-0.87M1204.5 1089.4v-1.97M1205.5 1089.4v-4.29M1206.5 1089.4v-2.65M1208.5 1089.4v-2.19M1209.5 1089.4v-5.15M1211.5 1089.4v-4.69M1212.5 1089.4v-8.15M1213.5 1089.4v-3.87M1214.5 1089.4v-5.03M1215.5 1089.4v-1.36M1216.5 1089.4v-4.13M1217.5 1089.4v-3.47M1218.5 1089.4v-1.23M1219.5 1089.4v-3.89M1220.5 1089.4v-4.52M1221.5 1089.4v-0.77M1222.5 1089.4v-0.6M1224.5 1089.4v-4.26M1225.5 1089.4v-3.87M1227.5 1089.4v-15.83M1228.5 1089.4v-0.54M1229.5 1089.4v-1.4M1230.5 1089.4v-1.41M1231.5 1089.4v-1.13M1232.5 1089.4v-0.88M1233.5 1089.4v-1M1234.5 1089.4v-0.76M1235.5 1089.4v-8.01M1237.5 1089.4v-1.64M1238.5 1089.4v-1.74M1239.5 1089.4v-2.59M1240.5 1089.4v-2.61M1241.5 1089.4v-2.26M1242.5 1089.4v-1.99M1243.5 1089.4v-1.06M1244.5 1089.4v-2M1245.5 1089.4v-8.32M1246.5 1089.4v-1.56M1247.5 1089.4v-1.28M1249.5 1089.4v-9.19M1250.5 1089.4v-1.21M1251.5 1089.4v-1.91M1252.5 1089.4v-6.52M1253.5 1089.4v-0.54M1254.5 1089.4v-2.12M1255.5 1089.4v-1.69M1257.5 1089.4v-2.91M1258.5 1089.4v-1.63M1259.5 1089.4v-1.99M1260.5 1089.4v-1.77M1261.5 1089.4v-0.96M1263.5 1089.4v-7.41M1264.5 1089.4v-7.76M1265.5 1089.4v-2.98M1266.5 1089.4v-1.95M1267.5 1089.4v-1.42M1269.5 1089.4v-7.5M1270.5 1089.4v-5.17M1271.5 1089.4v-5.08M1272.5 1089.4v-1.65M1273.5 1089.4v-1.16M1275.5 1089.4v-0.89M1276.5 1089.4v-0.75M1278.5 1089.4v-8.09M1279.5 1089.4v-2.22M1280.5 1089.4v-1.09M1282.5 1089.4v-1.38M1283.5 1089.4v-5.05M1284.5 1089.4v-3.93M1285.5 1089.4v-1.58M1287.5 1089.4v-3.65M1288.5 1089.4v-1.69M1289.5 1089.4v-1.49M1290.5 1089.4v-1.75M1291.5 1089.4v-1.64M1292.5 1089.4v-10.27M1293.5 1089.4v-14.87M1294.5 1089.4v-5.92M1295.5 1089.4v-1.79M1296.5 1089.4v-0.59M1297.5 1089.4v-0.92M1298.5 1089.4v-4.14M1299.5 1089.4v-2.03M1300.5 1089.4v-1.65M1301.5 1089.4v-2.17M1302.5 1089.4v-1.16M1303.5 1089.4v-1.63M1304.5 1089.4v-8.13M1305.5 1089.4v-9.27M1306.5 1089.4v-0.58M1307.5 1089.4v-0.86M1308.5 1089.4v-1.37M1309.5 1089.4v-6.94M1310.5 1089.4v-1.92M1311.5 1089.4v-1.54M1312.5 1089.4v-3.36M1313.5 1089.4v-1.68M1314.5 1089.4v-4.67M1315.5 1089.4v-9.73M1316.5 1089.4v-11.07M1317.5 1089.4v-4.28M1318.5 1089.4v-3.3M1319.5 1089.4v-0.99M1321.5 1089.4v-4.53M1322.5 1089.4v-2.21M1323.5 1089.4v-1.02M1324.5 1089.4v-1.83M1325.5 1089.4v-4.72M1326.5 1089.4v-4.55M1327.5 1089.4v-9.72M1328.5 1089.4v-1.5M1329.5 1089.4v-0.8M1330.5 1089.4v-0.65M1331.5 1089.4v-0.65M1332.5 1089.4v-0.65M1333.5 1089.4v-0.65M1334.5 1089.4v-0.65M1335.5 1089.4v-0.65M1336.5 1089.4v-0.65M1337.5 1089.4v-0.65M1338.5 1089.4v-0.65M1339.5 1089.4v-0.65M1340.5 1089.4v-2.33M1341.5 1089.4v-1.74M1342.5 1089.4v-0.75M1343.5 1089.4v-1.2M1344.5 1089.4v-8.33M1345.5 1089.4v-1.34M1346.5 1089.4v-2.34M1347.5 1089.4v-2.05M1348.5 1089.4v-2.67M1350.5 1089.4v-3.57M1351.5 1089.4v-2.03M1352.5 1089.4v-0.79M1355.5 1089.4v-0.76M1356.5 1089.4v-2.21M1357.5 1089.4v-6.72M1358.5 1089.4v-0.65M1359.5 1089.4v-0.93M1360.5 1089.4v-1.04M1361.5 1089.4v-1.24M1363.5 1089.4v-7.8M1364.5 1089.4v-0.89M1365.5 1089.4v-1.53M1367.5 1089.4v-0.53M1368.5 1089.4v-0.76M1369.5 1089.4v-0.55M1370.5 1089.4v-1.09M1371.5 1089.4v-2.58M1372.5 1089.4v-0.94M1373.5 1089.4v-0.7M1375.5 1089.4v-1.84M1376.5 1089.4v-2.66M1378.5 1089.4v-0.79M1379.5 1089.4v-1.1M1381.5 1089.4v-0.55M1383.5 1089.4v-2.79M1384.5 1089.4v-1.2M1385.5 1089.4v-0.78M1386.5 1089.4v-6.81M1387.5 1089.4v-7.07M1388.5 1089.4v-0.56M1389.5 1089.4v-1.29M1390.5 1089.4v-0.62M1391.5 1089.4v-0.91M1392.5 1089.4v-1.43M1393.5 1089.4v-1.45M1395.5 1089.4v-0.76M1397.5 1089.4v-6.98M1398.5 1089.4v-1.3M1399.5 1089.4v-5.27M1402.5 1089.4v-5.39M1403.5 1089.4v-3.29M1405.5 1089.4v-0.83M1406.5 1089.4v-1.45M1407.5 1089.4v-7.29M1408.5 1089.4v-0.77M1410.5 1089.4v-0.69M1411.5 1089.4v-1.47M1414.5 1089.4v-0.91M1415.5 1089.4v-1.47M1416.5 1089.4v-0.72M1417.5 1089.4v-1.16M1419.5 1089.4v-0.81M1420.5 1089.4v-2.5M1421.5 1089.4v-1.02M1422.5 1089.4v-1.36M1423.5 1089.4v-1.47M1424.5 1089.4v-1.01M1426.5 1089.4v-8M1427.5 1089.4v-3.96M1428.5 1089.4v-9.95M1429.5 1089.4v-17.93M1430.5 1089.4v-25.13M1431.5 1089.4v-52M1432.5 1089.4v-24.35M1433.5 1089.4v-3.29M1434.5 1089.4v-1.28M1435.5 1089.4v-3.45M1437.5 1089.4v-1.94M1438.5 1089.4v-6.63M1440.5 1089.4v-1.38M1441.5 1089.4v-2.67M1442.5 1089.4v-1.49M1443.5 1089.4v-1.12M1444.5 1089.4v-2.5M1445.5 1089.4v-0.74M1448.5 1089.4v-2.67M1449.5 1089.4v-3.57M1450.5 1089.4v-2.4M1452.5 1089.4v-1.17M1454.5 1089.4v-0.75M1455.5 1089.4v-8.15M1457.5 1089.4v-4.73M1458.5 1089.4v-1.37M1460.5 1089.4v-6.63M1462.5 1089.4v-1M1464.5 1089.4v-3.35M1465.5 1089.4v-1.33M1466.5 1089.4v-2.34M1468.5 1089.4v-0.89M1469.5 1089.4v-1.78M1470.5 1089.4v-0.95M1471.5 1089.4v-6.48M1472.5 1089.4v-1.42M1475.5 1089.4v-0.63M1476.5 1089.4v-1.32M1477.5 1089.4v-2.91M1478.5 1089.4v-1.11M1479.5 1089.4v-2.58M1480.5 1089.4v-0.61M1481.5 1089.4v-4.33M1482.5 1089.4v-0.91M1483.5 1089.4v-1.04M1484.5 1089.4v-1.32M1486.5 1089.4v-0.76M1487.5 1089.4v-0.88M1488.5 1089.4v-1.1M1492.5 1089.4v-1.55M1493.5 1089.4v-1.54M1494.5 1089.4v-2.67M1496.5 1089.4v-1.19M1498.5 1089.4v-5.95M1500.5 1089.4v-0.94M1501.5 1089.4v-3.27M1502.5 1089.4v-2.56M1503.5 1089.4v-0.93M1504.5 1089.4v-0.87M1506.5 1089.4v-3.13M1508.5 1089.4v-6.1M1510.5 1089.4v-3.22M1512.5 1089.4v-1.56M1513.5 1089.4v-4.38M1514.5 1089.4v-1.54M1516.5 1089.4v-1.37M1517.5 1089.4v-3.12M1519.5 1089.4v-0.55M1520.5 1089.4v-1.54M1521.5 1089.4v-1.11M1522.5 1089.4v-9.91M1523.5 1089.4v-9.09M1524.5 1089.4v-5.43M1526.5 1089.4v-0.94M1527.5 1089.4v-1.14M1528.5 1089.4v-1.36M1529.5 1089.4v-4.51M1530.5 1089.4v-0.88M1531.5 1089.4v-0.96M1534.5 1089.4v-0.57M1535.5 1089.4v-0.59M1536.5 1089.4v-4.65M1537.5 1089.4v-3.51M1538.5 1089.4v-2.26M1539.5 1089.4v-0.83M1540.5 1089.4v-1.14M1541.5 1089.4v-3.71M1542.5 1089.4v-1.46M1544.5 1089.4v-0.95M1545.5 1089.4v-5.28M1546.5 1089.4v-1.42M1547.5 1089.4v-3.31M1548.5 1089.4v-1.03M1549.5 1089.4v-0.54M1551.5 1089.4v-2.67" stroke="#2db59c" stroke-width="1.05"/><path d="M768.6 1094.2H775V1146.5H768.6" fill="none" stroke="#000" stroke-width="1.3"/><text x="764.5" y="1100.7" font-size="13" text-anchor="end">4</text><text x="764.5" y="1149" font-size="13" text-anchor="end">0</text><text x="1547" y="1122.5" font-size="16" textLength="38" lengthAdjust="spacingAndGlyphs">60-80</text><path d="M781.5 1146.5v-18.15M782.5 1146.5v-6.01M785.5 1146.5v-3.2M786.5 1146.5v-6.26M787.5 1146.5v-0.8M790.5 1146.5v-1.88M791.5 1146.5v-1.47M792.5 1146.5v-5.91M793.5 1146.5v-2.83M794.5 1146.5v-2.97M795.5 1146.5v-1.33M796.5 1146.5v-3.4M797.5 1146.5v-1.71M798.5 1146.5v-1.01M799.5 1146.5v-3.55M800.5 1146.5v-15.14M801.5 1146.5v-2.55M802.5 1146.5v-1.73M803.5 1146.5v-1.51M805.5 1146.5v-6.01M806.5 1146.5v-5.72M807.5 1146.5v-1.74M808.5 1146.5v-25.96M809.5 1146.5v-2.78M810.5 1146.5v-2.38M811.5 1146.5v-2.15M812.5 1146.5v-2.94M813.5 1146.5v-2.69M814.5 1146.5v-1.6M815.5 1146.5v-2.33M816.5 1146.5v-11.12M817.5 1146.5v-2.24M818.5 1146.5v-1.39M819.5 1146.5v-2.32M820.5 1146.5v-1.72M821.5 1146.5v-1.99M822.5 1146.5v-2.68M823.5 1146.5v-6.94M824.5 1146.5v-3.53M825.5 1146.5v-3.31M826.5 1146.5v-1.31M828.5 1146.5v-3.13M829.5 1146.5v-12.71M830.5 1146.5v-1.19M831.5 1146.5v-0.55M832.5 1146.5v-3.17M833.5 1146.5v-1.33M834.5 1146.5v-1.04M835.5 1146.5v-8.18M836.5 1146.5v-6.08M837.5 1146.5v-0.91M838.5 1146.5v-1.44M839.5 1146.5v-1.18M840.5 1146.5v-3.43M841.5 1146.5v-2.78M842.5 1146.5v-12.7M843.5 1146.5v-3.13M844.5 1146.5v-5.01M846.5 1146.5v-0.87M847.5 1146.5v-2.44M848.5 1146.5v-7.89M849.5 1146.5v-3.59M850.5 1146.5v-4.5M852.5 1146.5v-10.96M853.5 1146.5v-13.87M854.5 1146.5v-6.58M855.5 1146.5v-0.88M856.5 1146.5v-2.76M857.5 1146.5v-6.19M858.5 1146.5v-1.71M859.5 1146.5v-2.4M860.5 1146.5v-4.2M861.5 1146.5v-8M862.5 1146.5v-6.13M863.5 1146.5v-2.2M864.5 1146.5v-2.32M865.5 1146.5v-10.18M867.5 1146.5v-3.43M868.5 1146.5v-10.27M869.5 1146.5v-26M870.5 1146.5v-24.94M871.5 1146.5v-17.62M872.5 1146.5v-18.24M873.5 1146.5v-11.86M874.5 1146.5v-6.09M875.5 1146.5v-7.66M877.5 1146.5v-12.43M878.5 1146.5v-1.66M879.5 1146.5v-1.3M880.5 1146.5v-0.94M881.5 1146.5v-13.2M882.5 1146.5v-2.2M883.5 1146.5v-1.61M884.5 1146.5v-3.44M885.5 1146.5v-1.05M886.5 1146.5v-3.12M887.5 1146.5v-4.83M888.5 1146.5v-3.79M889.5 1146.5v-13.79M890.5 1146.5v-0.85M891.5 1146.5v-1.6M892.5 1146.5v-5.33M893.5 1146.5v-4.93M894.5 1146.5v-2.67M895.5 1146.5v-20.81M896.5 1146.5v-1.91M897.5 1146.5v-1.61M898.5 1146.5v-2.61M899.5 1146.5v-1.96M901.5 1146.5v-1.15M903.5 1146.5v-1.21M904.5 1146.5v-7.64M905.5 1146.5v-22.29M906.5 1146.5v-0.86M907.5 1146.5v-21.68M908.5 1146.5v-1.63M910.5 1146.5v-1.32M912.5 1146.5v-1.39M913.5 1146.5v-12.37M915.5 1146.5v-1.33M916.5 1146.5v-2.88M917.5 1146.5v-8.44M918.5 1146.5v-8.76M919.5 1146.5v-3.46M920.5 1146.5v-3.56M921.5 1146.5v-1.82M922.5 1146.5v-2.08M923.5 1146.5v-1.35M924.5 1146.5v-2.5M925.5 1146.5v-6.1M926.5 1146.5v-6.67M927.5 1146.5v-13.06M928.5 1146.5v-3.28M929.5 1146.5v-0.64M930.5 1146.5v-3.59M931.5 1146.5v-3.21M932.5 1146.5v-5.17M933.5 1146.5v-13.27M934.5 1146.5v-9.9M935.5 1146.5v-16.23M936.5 1146.5v-16.9M937.5 1146.5v-10.51M938.5 1146.5v-23.32M939.5 1146.5v-24.97M940.5 1146.5v-3.47M941.5 1146.5v-3.19M942.5 1146.5v-10.38M943.5 1146.5v-14.4M944.5 1146.5v-14.64M945.5 1146.5v-10.72M946.5 1146.5v-6.8M947.5 1146.5v-11.74M950.5 1146.5v-6.2M951.5 1146.5v-13.81M952.5 1146.5v-2.16M953.5 1146.5v-6.39M954.5 1146.5v-1.96M955.5 1146.5v-3.15M956.5 1146.5v-2.78M957.5 1146.5v-3.9M958.5 1146.5v-4.49M959.5 1146.5v-10.68M960.5 1146.5v-1.76M961.5 1146.5v-1.32M962.5 1146.5v-8.44M963.5 1146.5v-1.93M964.5 1146.5v-6.54M965.5 1146.5v-1.07M967.5 1146.5v-3.36M968.5 1146.5v-1.87M969.5 1146.5v-2.05M970.5 1146.5v-2.48M971.5 1146.5v-1.03M972.5 1146.5v-1.26M973.5 1146.5v-1.2M974.5 1146.5v-0.74M975.5 1146.5v-1.23M976.5 1146.5v-6.41M977.5 1146.5v-1.67M978.5 1146.5v-1.24M979.5 1146.5v-1.14M980.5 1146.5v-2.09M981.5 1146.5v-5.37M982.5 1146.5v-1.95M983.5 1146.5v-1.37M984.5 1146.5v-2.18M985.5 1146.5v-3.37M986.5 1146.5v-15.69M987.5 1146.5v-1.52M990.5 1146.5v-1.17M991.5 1146.5v-2.13M992.5 1146.5v-1.08M993.5 1146.5v-0.92M994.5 1146.5v-1.93M996.5 1146.5v-2.22M997.5 1146.5v-1.43M998.5 1146.5v-0.52M999.5 1146.5v-0.93M1002.5 1146.5v-1.51M1003.5 1146.5v-2.23M1004.5 1146.5v-0.75M1005.5 1146.5v-1.4M1006.5 1146.5v-3.64M1007.5 1146.5v-1.96M1008.5 1146.5v-0.65M1009.5 1146.5v-0.65M1010.5 1146.5v-0.65M1011.5 1146.5v-0.65M1012.5 1146.5v-6.91M1013.5 1146.5v-0.98M1014.5 1146.5v-8.43M1015.5 1146.5v-1.47M1016.5 1146.5v-7.67M1017.5 1146.5v-2.05M1019.5 1146.5v-0.88M1020.5 1146.5v-1.9M1021.5 1146.5v-2.02M1022.5 1146.5v-15.54M1023.5 1146.5v-2.96M1024.5 1146.5v-0.65M1025.5 1146.5v-0.65M1026.5 1146.5v-0.65M1027.5 1146.5v-0.65M1028.5 1146.5v-0.65M1029.5 1146.5v-0.65M1030.5 1146.5v-1.6M1031.5 1146.5v-1.78M1032.5 1146.5v-2.03M1033.5 1146.5v-2.1M1034.5 1146.5v-3.91M1035.5 1146.5v-2.93M1036.5 1146.5v-1.57M1037.5 1146.5v-0.57M1038.5 1146.5v-4.42M1039.5 1146.5v-1.8M1040.5 1146.5v-0.76M1041.5 1146.5v-11.5M1042.5 1146.5v-3.3M1043.5 1146.5v-2.54M1044.5 1146.5v-6.03M1045.5 1146.5v-1.08M1046.5 1146.5v-2.73M1047.5 1146.5v-5.96M1048.5 1146.5v-13.04M1049.5 1146.5v-12.28M1050.5 1146.5v-13.36M1051.5 1146.5v-21.65M1052.5 1146.5v-22.8M1053.5 1146.5v-30.85M1054.5 1146.5v-52.3M1055.5 1146.5v-35.62M1056.5 1146.5v-33.45M1057.5 1146.5v-18.76M1058.5 1146.5v-7.15M1059.5 1146.5v-11.59M1060.5 1146.5v-14.59M1061.5 1146.5v-1.5M1063.5 1146.5v-2.97M1064.5 1146.5v-6.42M1065.5 1146.5v-9.43M1066.5 1146.5v-2.7M1067.5 1146.5v-6.49M1068.5 1146.5v-2.65M1069.5 1146.5v-15.81M1070.5 1146.5v-3.03M1071.5 1146.5v-3.19M1072.5 1146.5v-2.38M1073.5 1146.5v-2.12M1076.5 1146.5v-2.35M1077.5 1146.5v-3.57M1078.5 1146.5v-1.91M1079.5 1146.5v-2.89M1080.5 1146.5v-15.94M1081.5 1146.5v-2.63M1083.5 1146.5v-2.61M1084.5 1146.5v-3.73M1085.5 1146.5v-1.37M1086.5 1146.5v-1.26M1087.5 1146.5v-11.96M1089.5 1146.5v-2.78M1092.5 1146.5v-1.17M1093.5 1146.5v-6.38M1094.5 1146.5v-3.29M1095.5 1146.5v-15.64M1096.5 1146.5v-15.14M1097.5 1146.5v-10.17M1098.5 1146.5v-15.42M1100.5 1146.5v-21.45M1101.5 1146.5v-3.46M1102.5 1146.5v-3.27M1103.5 1146.5v-3.46M1104.5 1146.5v-6.35M1105.5 1146.5v-0.63M1107.5 1146.5v-2.33M1108.5 1146.5v-6.81M1109.5 1146.5v-7.6M1110.5 1146.5v-3.5M1111.5 1146.5v-2.73M1112.5 1146.5v-2.76M1113.5 1146.5v-1.27M1115.5 1146.5v-13.39M1116.5 1146.5v-1.17M1118.5 1146.5v-2.53M1119.5 1146.5v-1.55M1120.5 1146.5v-12.89M1121.5 1146.5v-0.81M1122.5 1146.5v-12.19M1123.5 1146.5v-1.69M1124.5 1146.5v-2.19M1125.5 1146.5v-5.21M1126.5 1146.5v-0.71M1127.5 1146.5v-0.78M1128.5 1146.5v-4.33M1129.5 1146.5v-2.15M1131.5 1146.5v-2.04M1132.5 1146.5v-2.45M1133.5 1146.5v-6.48M1134.5 1146.5v-12.17M1135.5 1146.5v-1.95M1136.5 1146.5v-1.66M1138.5 1146.5v-2.21M1139.5 1146.5v-2.27M1140.5 1146.5v-1.96M1141.5 1146.5v-1.75M1142.5 1146.5v-3.22M1144.5 1146.5v-1.68M1146.5 1146.5v-0.54M1147.5 1146.5v-2.54M1148.5 1146.5v-1.18M1149.5 1146.5v-3.2M1150.5 1146.5v-2.76M1151.5 1146.5v-3.26M1152.5 1146.5v-1.67M1153.5 1146.5v-2.55M1155.5 1146.5v-12.98M1156.5 1146.5v-3.88M1157.5 1146.5v-4.23M1158.5 1146.5v-0.9M1159.5 1146.5v-0.56M1160.5 1146.5v-2.67M1161.5 1146.5v-2.26M1162.5 1146.5v-2.59M1163.5 1146.5v-0.83M1164.5 1146.5v-1.06M1165.5 1146.5v-2.51M1166.5 1146.5v-2.32M1167.5 1146.5v-1.38M1168.5 1146.5v-1.06M1169.5 1146.5v-2.81M1170.5 1146.5v-1.37M1172.5 1146.5v-1.89M1173.5 1146.5v-8.39M1175.5 1146.5v-2.01M1176.5 1146.5v-0.94M1178.5 1146.5v-2.29M1179.5 1146.5v-0.69M1180.5 1146.5v-1.41M1181.5 1146.5v-1.87M1182.5 1146.5v-1.85M1183.5 1146.5v-1.62M1184.5 1146.5v-1.95M1186.5 1146.5v-1.83M1187.5 1146.5v-8.91M1188.5 1146.5v-1.46M1189.5 1146.5v-6.93M1190.5 1146.5v-1.02M1191.5 1146.5v-0.58M1192.5 1146.5v-2.02M1193.5 1146.5v-9.18M1194.5 1146.5v-0.67M1195.5 1146.5v-1.93M1196.5 1146.5v-1.6M1197.5 1146.5v-1.46M1198.5 1146.5v-0.8M1199.5 1146.5v-3.35M1200.5 1146.5v-1.83M1201.5 1146.5v-2.38M1202.5 1146.5v-0.95M1203.5 1146.5v-2.24M1204.5 1146.5v-1.57M1205.5 1146.5v-7.61M1207.5 1146.5v-8.97M1208.5 1146.5v-2.65M1209.5 1146.5v-0.83M1210.5 1146.5v-1.39M1211.5 1146.5v-8.59M1212.5 1146.5v-8.76M1213.5 1146.5v-10.05M1214.5 1146.5v-1.88M1216.5 1146.5v-1.22M1217.5 1146.5v-1.26M1218.5 1146.5v-12.68M1219.5 1146.5v-11.6M1220.5 1146.5v-1.69M1221.5 1146.5v-2.82M1222.5 1146.5v-10.94M1223.5 1146.5v-9.09M1224.5 1146.5v-5.37M1226.5 1146.5v-5.61M1227.5 1146.5v-2.29M1228.5 1146.5v-1.38M1229.5 1146.5v-2.47M1231.5 1146.5v-0.65M1232.5 1146.5v-0.6M1233.5 1146.5v-7.81M1234.5 1146.5v-0.9M1235.5 1146.5v-1.44M1236.5 1146.5v-5.08M1237.5 1146.5v-2.36M1238.5 1146.5v-2.37M1239.5 1146.5v-0.93M1240.5 1146.5v-1.12M1241.5 1146.5v-0.74M1242.5 1146.5v-3.6M1243.5 1146.5v-4.44M1244.5 1146.5v-0.75M1245.5 1146.5v-1.88M1246.5 1146.5v-5.88M1248.5 1146.5v-10.15M1249.5 1146.5v-8.37M1250.5 1146.5v-1.47M1251.5 1146.5v-1.07M1252.5 1146.5v-3.5M1253.5 1146.5v-0.95M1254.5 1146.5v-3.97M1255.5 1146.5v-5.15M1256.5 1146.5v-0.9M1257.5 1146.5v-2.45M1258.5 1146.5v-2.09M1260.5 1146.5v-1.13M1262.5 1146.5v-1.97M1263.5 1146.5v-3.97M1264.5 1146.5v-2.62M1265.5 1146.5v-5.17M1266.5 1146.5v-4.67M1267.5 1146.5v-6.35M1268.5 1146.5v-1M1269.5 1146.5v-0.59M1270.5 1146.5v-1.43M1271.5 1146.5v-2.37M1272.5 1146.5v-2.05M1273.5 1146.5v-2.5M1274.5 1146.5v-11.85M1275.5 1146.5v-0.83M1276.5 1146.5v-2.4M1277.5 1146.5v-4.4M1278.5 1146.5v-3.34M1279.5 1146.5v-4.63M1280.5 1146.5v-3.52M1282.5 1146.5v-2.02M1283.5 1146.5v-1.5M1285.5 1146.5v-2.8M1286.5 1146.5v-2.65M1287.5 1146.5v-2.63M1288.5 1146.5v-1.62M1289.5 1146.5v-1.72M1290.5 1146.5v-5.1M1291.5 1146.5v-8.99M1292.5 1146.5v-0.62M1293.5 1146.5v-0.62M1294.5 1146.5v-2.66M1295.5 1146.5v-6.48M1296.5 1146.5v-1.54M1297.5 1146.5v-2.38M1298.5 1146.5v-0.77M1299.5 1146.5v-2.22M1302.5 1146.5v-9.16M1304.5 1146.5v-2.98M1305.5 1146.5v-4.89M1306.5 1146.5v-4.23M1307.5 1146.5v-4.28M1308.5 1146.5v-1.36M1310.5 1146.5v-4.28M1311.5 1146.5v-0.55M1312.5 1146.5v-2.12M1313.5 1146.5v-1.36M1314.5 1146.5v-9.29M1315.5 1146.5v-19.99M1316.5 1146.5v-22.36M1317.5 1146.5v-8.51M1318.5 1146.5v-1.49M1319.5 1146.5v-3.12M1320.5 1146.5v-4.82M1321.5 1146.5v-0.89M1322.5 1146.5v-2.23M1325.5 1146.5v-9.25M1326.5 1146.5v-4.81M1327.5 1146.5v-0.57M1328.5 1146.5v-1.24M1329.5 1146.5v-1.46M1334.5 1146.5v-0.73M1336.5 1146.5v-1.04M1337.5 1146.5v-4.22M1338.5 1146.5v-0.59M1340.5 1146.5v-1.79M1342.5 1146.5v-7.27M1343.5 1146.5v-2.22M1344.5 1146.5v-1.42M1345.5 1146.5v-1.97M1346.5 1146.5v-1.24M1347.5 1146.5v-6.03M1348.5 1146.5v-1.17M1349.5 1146.5v-12.48M1350.5 1146.5v-1.06M1351.5 1146.5v-1.62M1352.5 1146.5v-1.65M1353.5 1146.5v-1.96M1354.5 1146.5v-0.71M1355.5 1146.5v-0.88M1356.5 1146.5v-1.08M1357.5 1146.5v-1.59M1361.5 1146.5v-6.73M1362.5 1146.5v-0.96M1365.5 1146.5v-0.92M1366.5 1146.5v-1.96M1367.5 1146.5v-4.15M1368.5 1146.5v-1.16M1369.5 1146.5v-1.56M1370.5 1146.5v-1.73M1371.5 1146.5v-0.59M1372.5 1146.5v-4.48M1373.5 1146.5v-1.32M1375.5 1146.5v-7.42M1376.5 1146.5v-1.96M1377.5 1146.5v-0.82M1379.5 1146.5v-4.28M1382.5 1146.5v-1.95M1384.5 1146.5v-0.94M1385.5 1146.5v-1.7M1387.5 1146.5v-11.29M1388.5 1146.5v-1.92M1389.5 1146.5v-0.79M1390.5 1146.5v-0.65M1391.5 1146.5v-0.65M1392.5 1146.5v-0.65M1393.5 1146.5v-0.65M1394.5 1146.5v-0.65M1395.5 1146.5v-0.65M1396.5 1146.5v-0.65M1397.5 1146.5v-0.65M1398.5 1146.5v-1.86M1399.5 1146.5v-4.11M1400.5 1146.5v-0.94M1401.5 1146.5v-1.49M1402.5 1146.5v-1.49M1403.5 1146.5v-1.9M1404.5 1146.5v-7.59M1405.5 1146.5v-12.31M1406.5 1146.5v-4.11M1407.5 1146.5v-9.21M1408.5 1146.5v-1.32M1409.5 1146.5v-0.73M1410.5 1146.5v-9.04M1411.5 1146.5v-1.94M1412.5 1146.5v-8.82M1414.5 1146.5v-2.39M1415.5 1146.5v-1.63M1416.5 1146.5v-1.5M1417.5 1146.5v-1M1418.5 1146.5v-1.29M1419.5 1146.5v-5.6M1420.5 1146.5v-6.86M1421.5 1146.5v-1.89M1423.5 1146.5v-1.7M1424.5 1146.5v-1.93M1425.5 1146.5v-1.97M1426.5 1146.5v-0.95M1427.5 1146.5v-3.58M1428.5 1146.5v-9.97M1429.5 1146.5v-18.57M1430.5 1146.5v-27.5M1431.5 1146.5v-51.93M1432.5 1146.5v-27.62M1433.5 1146.5v-4.02M1434.5 1146.5v-1.62M1436.5 1146.5v-0.92M1439.5 1146.5v-0.57M1440.5 1146.5v-1M1442.5 1146.5v-1.89M1443.5 1146.5v-1.04M1444.5 1146.5v-0.75M1445.5 1146.5v-1.13M1446.5 1146.5v-8.35M1447.5 1146.5v-0.99M1448.5 1146.5v-1.11M1449.5 1146.5v-2.59M1450.5 1146.5v-0.66M1451.5 1146.5v-0.77M1453.5 1146.5v-2.52M1454.5 1146.5v-0.66M1455.5 1146.5v-1.13M1456.5 1146.5v-0.81M1457.5 1146.5v-1.14M1458.5 1146.5v-1.47M1459.5 1146.5v-1.86M1460.5 1146.5v-9.15M1461.5 1146.5v-1.08M1462.5 1146.5v-0.73M1463.5 1146.5v-1.76M1464.5 1146.5v-1.59M1465.5 1146.5v-4.91M1466.5 1146.5v-0.69M1468.5 1146.5v-2.4M1470.5 1146.5v-6.61M1471.5 1146.5v-1.74M1472.5 1146.5v-8.01M1473.5 1146.5v-3.03M1474.5 1146.5v-8.41M1475.5 1146.5v-3.57M1476.5 1146.5v-1.18M1477.5 1146.5v-1.19M1478.5 1146.5v-1.9M1479.5 1146.5v-0.69M1480.5 1146.5v-1.56M1481.5 1146.5v-1.02M1482.5 1146.5v-8.36M1483.5 1146.5v-1.94M1484.5 1146.5v-2.62M1486.5 1146.5v-2M1488.5 1146.5v-1.81M1489.5 1146.5v-1.48M1490.5 1146.5v-1.61M1491.5 1146.5v-1.3M1492.5 1146.5v-0.53M1493.5 1146.5v-1.9M1494.5 1146.5v-0.7M1495.5 1146.5v-2.78M1498.5 1146.5v-1.9M1499.5 1146.5v-0.66M1501.5 1146.5v-1.54M1503.5 1146.5v-1.77M1504.5 1146.5v-1.03M1506.5 1146.5v-3.65M1508.5 1146.5v-2.93M1512.5 1146.5v-0.62M1513.5 1146.5v-1.78M1514.5 1146.5v-6.18M1515.5 1146.5v-1.05M1516.5 1146.5v-1.33M1517.5 1146.5v-0.83M1518.5 1146.5v-1.65M1519.5 1146.5v-1.39M1520.5 1146.5v-2.1M1521.5 1146.5v-15.62M1522.5 1146.5v-14.08M1523.5 1146.5v-14.41M1524.5 1146.5v-0.65M1525.5 1146.5v-7.7M1526.5 1146.5v-0.82M1527.5 1146.5v-7.45M1528.5 1146.5v-0.94M1529.5 1146.5v-0.67M1530.5 1146.5v-1.44M1531.5 1146.5v-2.1M1532.5 1146.5v-1.85M1534.5 1146.5v-0.67M1535.5 1146.5v-1.9M1536.5 1146.5v-4.16M1537.5 1146.5v-0.62M1538.5 1146.5v-1.81M1539.5 1146.5v-0.67M1540.5 1146.5v-1.02M1541.5 1146.5v-2.71M1542.5 1146.5v-4.42M1543.5 1146.5v-4.19M1545.5 1146.5v-3.85M1546.5 1146.5v-3.68M1547.5 1146.5v-1.19M1548.5 1146.5v-1.35M1549.5 1146.5v-1.51M1550.5 1146.5v-1.2M1551.5 1146.5v-2.81M1552.5 1146.5v-9.3M1553.5 1146.5v-0.84M1554.5 1146.5v-0.93M1555.5 1146.5v-1.31" stroke="#1466e8" stroke-width="1.05"/><path d="M768.6 1151.3H775V1203.3H768.6" fill="none" stroke="#000" stroke-width="1.3"/><text x="764.5" y="1157.8" font-size="13" text-anchor="end">4</text><text x="764.5" y="1205.8" font-size="13" text-anchor="end">0</text><text x="1547" y="1182.5" font-size="16" textLength="47" lengthAdjust="spacingAndGlyphs">80-100</text><path d="M781.5 1203.3v-14.79M782.5 1203.3v-1.85M783.5 1203.3v-2.55M785.5 1203.3v-3.2M786.5 1203.3v-2.34M787.5 1203.3v-2.31M788.5 1203.3v-11.49M789.5 1203.3v-1.15M790.5 1203.3v-5.11M791.5 1203.3v-1.67M792.5 1203.3v-0.92M793.5 1203.3v-2.03M794.5 1203.3v-2.14M795.5 1203.3v-6.73M796.5 1203.3v-1.48M797.5 1203.3v-8.86M798.5 1203.3v-14.3M800.5 1203.3v-6.55M801.5 1203.3v-2.26M802.5 1203.3v-16.21M803.5 1203.3v-1.87M804.5 1203.3v-1.35M805.5 1203.3v-0.57M806.5 1203.3v-0.69M808.5 1203.3v-1.98M809.5 1203.3v-2.22M810.5 1203.3v-5.12M811.5 1203.3v-1.91M812.5 1203.3v-2.52M813.5 1203.3v-5.64M814.5 1203.3v-7.24M815.5 1203.3v-4.22M816.5 1203.3v-2.62M818.5 1203.3v-7.14M819.5 1203.3v-1.62M820.5 1203.3v-2.07M821.5 1203.3v-2.91M822.5 1203.3v-1.1M823.5 1203.3v-3.43M824.5 1203.3v-6.86M825.5 1203.3v-2.47M826.5 1203.3v-0.58M827.5 1203.3v-0.64M828.5 1203.3v-0.75M829.5 1203.3v-0.89M830.5 1203.3v-0.68M832.5 1203.3v-0.82M833.5 1203.3v-0.85M834.5 1203.3v-1.74M835.5 1203.3v-3.16M836.5 1203.3v-1.41M837.5 1203.3v-3.39M838.5 1203.3v-1.41M839.5 1203.3v-1.36M840.5 1203.3v-4.98M841.5 1203.3v-3.21M842.5 1203.3v-1.27M843.5 1203.3v-7.44M845.5 1203.3v-1.53M846.5 1203.3v-1.25M847.5 1203.3v-5.3M848.5 1203.3v-0.6M849.5 1203.3v-2.5M850.5 1203.3v-5.49M851.5 1203.3v-1.57M852.5 1203.3v-2.86M853.5 1203.3v-1.32M854.5 1203.3v-6.68M856.5 1203.3v-1.12M857.5 1203.3v-1.53M858.5 1203.3v-12.51M859.5 1203.3v-11.91M860.5 1203.3v-2.03M861.5 1203.3v-2.09M862.5 1203.3v-3.33M863.5 1203.3v-3.2M864.5 1203.3v-0.74M865.5 1203.3v-2.94M866.5 1203.3v-6.05M867.5 1203.3v-2.07M868.5 1203.3v-11.45M869.5 1203.3v-33.34M870.5 1203.3v-28.36M871.5 1203.3v-18.88M872.5 1203.3v-17.65M873.5 1203.3v-11.59M874.5 1203.3v-3.88M875.5 1203.3v-2.34M876.5 1203.3v-1.13M877.5 1203.3v-6.37M878.5 1203.3v-14.52M879.5 1203.3v-4.42M880.5 1203.3v-1.07M882.5 1203.3v-1.82M883.5 1203.3v-11.42M884.5 1203.3v-6.13M885.5 1203.3v-8.02M886.5 1203.3v-3.31M887.5 1203.3v-2.5M888.5 1203.3v-0.55M889.5 1203.3v-1.29M890.5 1203.3v-3.15M891.5 1203.3v-0.86M893.5 1203.3v-3.66M894.5 1203.3v-1.42M895.5 1203.3v-11.95M896.5 1203.3v-0.64M897.5 1203.3v-0.71M898.5 1203.3v-2.96M899.5 1203.3v-6.26M901.5 1203.3v-0.66M902.5 1203.3v-1.97M903.5 1203.3v-1.9M904.5 1203.3v-3.52M905.5 1203.3v-0.84M906.5 1203.3v-3.45M907.5 1203.3v-4.01M909.5 1203.3v-2.5M910.5 1203.3v-1.84M911.5 1203.3v-6.96M912.5 1203.3v-2.73M913.5 1203.3v-6.71M914.5 1203.3v-11.44M915.5 1203.3v-1.82M916.5 1203.3v-7.13M917.5 1203.3v-0.71M918.5 1203.3v-5.98M919.5 1203.3v-2.18M920.5 1203.3v-3.43M921.5 1203.3v-5.74M922.5 1203.3v-3.29M923.5 1203.3v-21.39M924.5 1203.3v-24.88M925.5 1203.3v-2.98M926.5 1203.3v-2.53M927.5 1203.3v-3.48M928.5 1203.3v-3.94M929.5 1203.3v-9.57M930.5 1203.3v-14.96M931.5 1203.3v-16.73M932.5 1203.3v-9.52M933.5 1203.3v-3.29M934.5 1203.3v-10.93M936.5 1203.3v-0.57M937.5 1203.3v-15.5M938.5 1203.3v-21.58M939.5 1203.3v-18.67M940.5 1203.3v-16.05M941.5 1203.3v-2.15M942.5 1203.3v-1.94M944.5 1203.3v-11.13M945.5 1203.3v-20.8M946.5 1203.3v-20.9M947.5 1203.3v-6.64M948.5 1203.3v-2.42M949.5 1203.3v-2.81M950.5 1203.3v-1.36M951.5 1203.3v-3.28M954.5 1203.3v-7.47M955.5 1203.3v-1.25M956.5 1203.3v-7.18M957.5 1203.3v-7.27M958.5 1203.3v-1.67M959.5 1203.3v-6.03M960.5 1203.3v-0.81M961.5 1203.3v-3.47M962.5 1203.3v-0.58M965.5 1203.3v-1.43M966.5 1203.3v-1.94M967.5 1203.3v-0.78M968.5 1203.3v-1.9M972.5 1203.3v-1.98M973.5 1203.3v-1.77M975.5 1203.3v-1.79M976.5 1203.3v-1.31M977.5 1203.3v-7.23M978.5 1203.3v-1.25M979.5 1203.3v-3.09M981.5 1203.3v-8.41M982.5 1203.3v-8.86M983.5 1203.3v-1.83M984.5 1203.3v-14.85M985.5 1203.3v-14.06M986.5 1203.3v-1.87M987.5 1203.3v-2.22M988.5 1203.3v-3.31M989.5 1203.3v-0.84M990.5 1203.3v-7.59M991.5 1203.3v-0.98M992.5 1203.3v-4.78M993.5 1203.3v-8.21M994.5 1203.3v-5.16M995.5 1203.3v-1.22M996.5 1203.3v-1.54M997.5 1203.3v-3.98M998.5 1203.3v-1.85M999.5 1203.3v-1.48M1000.5 1203.3v-0.73M1002.5 1203.3v-3.45M1003.5 1203.3v-2.49M1004.5 1203.3v-3.87M1005.5 1203.3v-0.65M1006.5 1203.3v-0.65M1007.5 1203.3v-0.65M1008.5 1203.3v-0.65M1009.5 1203.3v-0.65M1010.5 1203.3v-0.65M1011.5 1203.3v-0.65M1012.5 1203.3v-0.65M1013.5 1203.3v-0.65M1014.5 1203.3v-0.65M1015.5 1203.3v-0.65M1016.5 1203.3v-0.93M1017.5 1203.3v-1.38M1018.5 1203.3v-5.58M1019.5 1203.3v-0.64M1020.5 1203.3v-1.39M1022.5 1203.3v-2.11M1023.5 1203.3v-0.67M1024.5 1203.3v-1.72M1025.5 1203.3v-1.51M1026.5 1203.3v-10.66M1028.5 1203.3v-2.49M1029.5 1203.3v-0.71M1030.5 1203.3v-3.12M1031.5 1203.3v-8.71M1035.5 1203.3v-0.53M1036.5 1203.3v-2.44M1037.5 1203.3v-2.4M1038.5 1203.3v-0.91M1039.5 1203.3v-8.73M1040.5 1203.3v-3.34M1041.5 1203.3v-1.22M1042.5 1203.3v-1.29M1043.5 1203.3v-2.91M1044.5 1203.3v-1.01M1045.5 1203.3v-1.06M1046.5 1203.3v-9.91M1047.5 1203.3v-0.99M1048.5 1203.3v-3.33M1049.5 1203.3v-5.35M1050.5 1203.3v-14.04M1051.5 1203.3v-26.42M1052.5 1203.3v-23.43M1053.5 1203.3v-36.6M1054.5 1203.3v-51.94M1055.5 1203.3v-34.65M1056.5 1203.3v-32.74M1057.5 1203.3v-18.34M1058.5 1203.3v-15.61M1059.5 1203.3v-15.08M1060.5 1203.3v-8.17M1061.5 1203.3v-3.56M1062.5 1203.3v-2.73M1063.5 1203.3v-5.76M1064.5 1203.3v-1.89M1065.5 1203.3v-6.02M1066.5 1203.3v-13.58M1067.5 1203.3v-5.77M1068.5 1203.3v-6.76M1069.5 1203.3v-2.37M1071.5 1203.3v-1.05M1073.5 1203.3v-2.6M1074.5 1203.3v-0.68M1075.5 1203.3v-2.7M1076.5 1203.3v-6.15M1077.5 1203.3v-7.87M1078.5 1203.3v-0.52M1079.5 1203.3v-3.38M1080.5 1203.3v-2.24M1081.5 1203.3v-6.05M1082.5 1203.3v-0.84M1083.5 1203.3v-1.23M1084.5 1203.3v-1.39M1085.5 1203.3v-25.16M1086.5 1203.3v-7.25M1087.5 1203.3v-1.31M1088.5 1203.3v-1.22M1090.5 1203.3v-3.52M1091.5 1203.3v-0.71M1092.5 1203.3v-3.93M1094.5 1203.3v-1.3M1095.5 1203.3v-1.8M1096.5 1203.3v-2.84M1097.5 1203.3v-3.91M1098.5 1203.3v-0.55M1099.5 1203.3v-1.48M1100.5 1203.3v-14.54M1101.5 1203.3v-6.09M1102.5 1203.3v-2.84M1103.5 1203.3v-3.49M1104.5 1203.3v-1.28M1105.5 1203.3v-0.85M1106.5 1203.3v-1.93M1107.5 1203.3v-3.53M1109.5 1203.3v-5.3M1110.5 1203.3v-1.16M1111.5 1203.3v-1.84M1112.5 1203.3v-1.75M1113.5 1203.3v-2.28M1115.5 1203.3v-3.24M1117.5 1203.3v-1.11M1118.5 1203.3v-5.02M1119.5 1203.3v-8M1120.5 1203.3v-1.62M1122.5 1203.3v-3.53M1123.5 1203.3v-1.82M1125.5 1203.3v-2.69M1126.5 1203.3v-0.74M1127.5 1203.3v-8.59M1129.5 1203.3v-0.68M1130.5 1203.3v-1.29M1131.5 1203.3v-1.69M1133.5 1203.3v-2.82M1134.5 1203.3v-2.28M1135.5 1203.3v-1.69M1136.5 1203.3v-2.16M1137.5 1203.3v-2.28M1138.5 1203.3v-6.25M1139.5 1203.3v-6.42M1141.5 1203.3v-0.83M1142.5 1203.3v-2.86M1143.5 1203.3v-0.66M1144.5 1203.3v-0.67M1145.5 1203.3v-0.8M1146.5 1203.3v-1.99M1147.5 1203.3v-7.68M1148.5 1203.3v-2.5M1149.5 1203.3v-6.25M1151.5 1203.3v-2.47M1153.5 1203.3v-1.44M1154.5 1203.3v-2.62M1155.5 1203.3v-1.67M1156.5 1203.3v-1.29M1157.5 1203.3v-4.39M1158.5 1203.3v-1.01M1160.5 1203.3v-1.31M1161.5 1203.3v-2.18M1162.5 1203.3v-0.93M1163.5 1203.3v-2.65M1165.5 1203.3v-5.88M1166.5 1203.3v-3.87M1167.5 1203.3v-3.82M1168.5 1203.3v-0.61M1169.5 1203.3v-0.7M1170.5 1203.3v-1.18M1174.5 1203.3v-2.54M1175.5 1203.3v-0.53M1176.5 1203.3v-2.62M1177.5 1203.3v-4.81M1178.5 1203.3v-0.83M1179.5 1203.3v-1.33M1180.5 1203.3v-0.65M1181.5 1203.3v-0.65M1182.5 1203.3v-0.65M1183.5 1203.3v-0.65M1184.5 1203.3v-0.65M1185.5 1203.3v-0.65M1186.5 1203.3v-1.6M1187.5 1203.3v-1.69M1188.5 1203.3v-1.89M1189.5 1203.3v-10.71M1190.5 1203.3v-1.88M1191.5 1203.3v-1.77M1192.5 1203.3v-2.65M1193.5 1203.3v-2.68M1194.5 1203.3v-2.76M1195.5 1203.3v-6.34M1196.5 1203.3v-0.71M1197.5 1203.3v-1.5M1198.5 1203.3v-0.76M1199.5 1203.3v-4.17M1200.5 1203.3v-0.96M1201.5 1203.3v-1.57M1203.5 1203.3v-2.42M1204.5 1203.3v-10.2M1205.5 1203.3v-5.23M1206.5 1203.3v-2.29M1207.5 1203.3v-2.34M1209.5 1203.3v-5.54M1210.5 1203.3v-4.85M1211.5 1203.3v-3.28M1212.5 1203.3v-2.27M1213.5 1203.3v-2.35M1214.5 1203.3v-1.46M1215.5 1203.3v-1.5M1216.5 1203.3v-3.7M1218.5 1203.3v-0.7M1219.5 1203.3v-0.65M1221.5 1203.3v-1.19M1222.5 1203.3v-2.71M1224.5 1203.3v-1.45M1225.5 1203.3v-4.68M1226.5 1203.3v-2.67M1228.5 1203.3v-0.59M1229.5 1203.3v-10.82M1230.5 1203.3v-3.98M1231.5 1203.3v-0.61M1232.5 1203.3v-1.09M1233.5 1203.3v-1.79M1234.5 1203.3v-0.55M1236.5 1203.3v-1.51M1237.5 1203.3v-4.03M1238.5 1203.3v-2.19M1239.5 1203.3v-2.21M1240.5 1203.3v-1.43M1241.5 1203.3v-5.38M1242.5 1203.3v-1.23M1243.5 1203.3v-6.07M1244.5 1203.3v-1.21M1245.5 1203.3v-1.7M1246.5 1203.3v-5.59M1247.5 1203.3v-1.21M1248.5 1203.3v-0.73M1249.5 1203.3v-6.64M1250.5 1203.3v-2.03M1251.5 1203.3v-13.57M1252.5 1203.3v-5.76M1253.5 1203.3v-1.72M1254.5 1203.3v-1.63M1255.5 1203.3v-0.62M1256.5 1203.3v-1.56M1257.5 1203.3v-2.03M1258.5 1203.3v-0.61M1259.5 1203.3v-1.91M1260.5 1203.3v-18.34M1261.5 1203.3v-1.77M1262.5 1203.3v-9.12M1263.5 1203.3v-3.13M1264.5 1203.3v-2.46M1265.5 1203.3v-2.82M1266.5 1203.3v-1.19M1267.5 1203.3v-1.18M1268.5 1203.3v-2.59M1269.5 1203.3v-0.7M1270.5 1203.3v-4.58M1271.5 1203.3v-2.49M1272.5 1203.3v-4.48M1273.5 1203.3v-1.33M1274.5 1203.3v-1.28M1276.5 1203.3v-4.16M1277.5 1203.3v-1.95M1278.5 1203.3v-5.94M1279.5 1203.3v-1.2M1280.5 1203.3v-12.84M1281.5 1203.3v-1.13M1282.5 1203.3v-0.94M1284.5 1203.3v-1.56M1285.5 1203.3v-2.85M1286.5 1203.3v-2.34M1287.5 1203.3v-2.31M1288.5 1203.3v-2.24M1289.5 1203.3v-2.58M1290.5 1203.3v-2.33M1291.5 1203.3v-2.07M1292.5 1203.3v-13.54M1293.5 1203.3v-2.02M1294.5 1203.3v-0.86M1295.5 1203.3v-2.47M1296.5 1203.3v-1.71M1297.5 1203.3v-4.95M1298.5 1203.3v-7.11M1299.5 1203.3v-3.1M1300.5 1203.3v-2.18M1301.5 1203.3v-2.04M1302.5 1203.3v-2.66M1303.5 1203.3v-4.6M1304.5 1203.3v-1.41M1305.5 1203.3v-2.96M1307.5 1203.3v-0.53M1308.5 1203.3v-1.24M1309.5 1203.3v-1.22M1310.5 1203.3v-1.47M1311.5 1203.3v-2.22M1313.5 1203.3v-7.15M1314.5 1203.3v-11.32M1315.5 1203.3v-24.97M1316.5 1203.3v-25.9M1317.5 1203.3v-9.22M1318.5 1203.3v-1.79M1319.5 1203.3v-1.95M1320.5 1203.3v-1.16M1322.5 1203.3v-0.88M1323.5 1203.3v-2.22M1325.5 1203.3v-1.53M1326.5 1203.3v-2.27M1327.5 1203.3v-4.9M1328.5 1203.3v-1.46M1331.5 1203.3v-2.4M1332.5 1203.3v-0.9M1333.5 1203.3v-3.93M1335.5 1203.3v-6.9M1336.5 1203.3v-2.87M1337.5 1203.3v-1.65M1338.5 1203.3v-0.6M1339.5 1203.3v-14.3M1341.5 1203.3v-1.82M1343.5 1203.3v-1.67M1345.5 1203.3v-1.96M1346.5 1203.3v-1.29M1347.5 1203.3v-0.82M1348.5 1203.3v-1.76M1350.5 1203.3v-3.48M1351.5 1203.3v-4.29M1352.5 1203.3v-7.27M1353.5 1203.3v-1.16M1354.5 1203.3v-1.18M1355.5 1203.3v-3.47M1356.5 1203.3v-1.1M1357.5 1203.3v-5.29M1358.5 1203.3v-2.08M1359.5 1203.3v-1.85M1361.5 1203.3v-1.21M1363.5 1203.3v-0.63M1364.5 1203.3v-1.69M1365.5 1203.3v-2.32M1366.5 1203.3v-1.63M1368.5 1203.3v-1.14M1369.5 1203.3v-1.11M1370.5 1203.3v-0.88M1372.5 1203.3v-1.34M1373.5 1203.3v-1.86M1374.5 1203.3v-1.89M1375.5 1203.3v-3.25M1378.5 1203.3v-1.88M1379.5 1203.3v-2.14M1380.5 1203.3v-7.14M1381.5 1203.3v-1.34M1382.5 1203.3v-0.97M1383.5 1203.3v-1.62M1384.5 1203.3v-1.53M1385.5 1203.3v-1.38M1386.5 1203.3v-1.04M1387.5 1203.3v-0.64M1388.5 1203.3v-2.47M1389.5 1203.3v-3.03M1390.5 1203.3v-3.18M1391.5 1203.3v-1.49M1392.5 1203.3v-5.11M1393.5 1203.3v-0.72M1394.5 1203.3v-1.77M1395.5 1203.3v-1.13M1396.5 1203.3v-1.98M1397.5 1203.3v-1.76M1399.5 1203.3v-0.69M1400.5 1203.3v-3.82M1401.5 1203.3v-7.67M1402.5 1203.3v-0.6M1403.5 1203.3v-1.44M1404.5 1203.3v-1.14M1405.5 1203.3v-7.27M1406.5 1203.3v-1.06M1407.5 1203.3v-8.98M1409.5 1203.3v-2.57M1410.5 1203.3v-1.24M1411.5 1203.3v-6.3M1414.5 1203.3v-1.64M1415.5 1203.3v-1.76M1417.5 1203.3v-0.84M1418.5 1203.3v-2.09M1419.5 1203.3v-1.77M1421.5 1203.3v-2.31M1422.5 1203.3v-0.9M1423.5 1203.3v-1.21M1424.5 1203.3v-1.18M1425.5 1203.3v-0.63M1426.5 1203.3v-0.88M1427.5 1203.3v-4.15M1428.5 1203.3v-9.67M1429.5 1203.3v-17.3M1430.5 1203.3v-24.2M1431.5 1203.3v-47.49M1432.5 1203.3v-25.6M1433.5 1203.3v-3.55M1434.5 1203.3v-1.65M1435.5 1203.3v-3.92M1436.5 1203.3v-0.9M1437.5 1203.3v-0.58M1438.5 1203.3v-0.66M1439.5 1203.3v-0.7M1440.5 1203.3v-8.39M1441.5 1203.3v-1.55M1442.5 1203.3v-1.89M1443.5 1203.3v-1.25M1444.5 1203.3v-6.13M1445.5 1203.3v-1.37M1446.5 1203.3v-0.68M1448.5 1203.3v-1.55M1449.5 1203.3v-0.99M1450.5 1203.3v-1.97M1451.5 1203.3v-3.59M1452.5 1203.3v-13.64M1453.5 1203.3v-0.61M1454.5 1203.3v-1.32M1455.5 1203.3v-1.8M1456.5 1203.3v-1.56M1457.5 1203.3v-1.69M1459.5 1203.3v-6.35M1460.5 1203.3v-1.64M1461.5 1203.3v-1.99M1462.5 1203.3v-1.69M1463.5 1203.3v-1.12M1465.5 1203.3v-6.96M1466.5 1203.3v-1.16M1467.5 1203.3v-0.71M1468.5 1203.3v-7.41M1469.5 1203.3v-1.54M1470.5 1203.3v-5.44M1471.5 1203.3v-4.19M1472.5 1203.3v-1.22M1473.5 1203.3v-1.82M1474.5 1203.3v-0.69M1475.5 1203.3v-3.3M1476.5 1203.3v-3.63M1478.5 1203.3v-1.58M1479.5 1203.3v-1.12M1480.5 1203.3v-1.71M1481.5 1203.3v-8.22M1482.5 1203.3v-3.87M1483.5 1203.3v-4.48M1485.5 1203.3v-3.51M1486.5 1203.3v-6.35M1487.5 1203.3v-5.02M1488.5 1203.3v-0.8M1489.5 1203.3v-1.45M1490.5 1203.3v-3.25M1493.5 1203.3v-1.06M1494.5 1203.3v-1.92M1495.5 1203.3v-1.98M1496.5 1203.3v-11.79M1497.5 1203.3v-7.83M1498.5 1203.3v-1.21M1499.5 1203.3v-1.77M1500.5 1203.3v-4.01M1501.5 1203.3v-1.76M1502.5 1203.3v-1.32M1503.5 1203.3v-3.96M1504.5 1203.3v-5.24M1506.5 1203.3v-1.89M1507.5 1203.3v-0.89M1508.5 1203.3v-1.11M1509.5 1203.3v-1.63M1510.5 1203.3v-6.59M1511.5 1203.3v-0.89M1513.5 1203.3v-1.3M1514.5 1203.3v-3.45M1515.5 1203.3v-1.43M1516.5 1203.3v-0.77M1517.5 1203.3v-0.69M1519.5 1203.3v-1.11M1520.5 1203.3v-8.54M1521.5 1203.3v-4.41M1522.5 1203.3v-20.76M1523.5 1203.3v-22.36M1524.5 1203.3v-2.72M1526.5 1203.3v-7.1M1528.5 1203.3v-0.9M1529.5 1203.3v-6.63M1531.5 1203.3v-0.66M1532.5 1203.3v-3.82M1533.5 1203.3v-1.15M1535.5 1203.3v-4.31M1537.5 1203.3v-0.9M1538.5 1203.3v-1M1539.5 1203.3v-6.97M1540.5 1203.3v-6.99M1541.5 1203.3v-1M1542.5 1203.3v-6.71M1543.5 1203.3v-0.86M1544.5 1203.3v-5.38M1545.5 1203.3v-1.32M1547.5 1203.3v-1.81M1548.5 1203.3v-4.67M1550.5 1203.3v-1.72M1551.5 1203.3v-1.69M1552.5 1203.3v-0.69M1553.5 1203.3v-1.24M1554.5 1203.3v-1.72" stroke="#322c84" stroke-width="1.05"/><text x="713" y="1054" font-size="22.3" text-anchor="middle" transform="rotate(-90 713 1054)" dy="8">ATAC-seq</text><line x1="792.7" y1="1219.7" x2="931.4" y2="1219.7" stroke="#aaaaaa" stroke-width="1.3"/><rect x="792.7" y="1208.8" width="2.8" height="21.8" fill="#7fd3c2"/><rect x="797" y="1208.8" width="3.7" height="21.8" fill="#7fd3c2"/><rect x="824.8" y="1208.8" width="6.4" height="21.8" fill="#7fd3c2"/><rect x="834.5" y="1208.8" width="2.5" height="21.8" fill="#7fd3c2"/><rect x="839.5" y="1208.8" width="2.5" height="21.8" fill="#7fd3c2"/><rect x="847" y="1208.8" width="3" height="21.8" fill="#7fd3c2"/><rect x="855" y="1208.8" width="3.5" height="21.8" fill="#7fd3c2"/><rect x="865" y="1208.8" width="5.5" height="21.8" fill="#7fd3c2"/><rect x="877" y="1208.8" width="3" height="21.8" fill="#7fd3c2"/><rect x="884.8" y="1208.8" width="8.1" height="21.8" fill="#7fd3c2"/><rect x="900" y="1208.8" width="2.8" height="21.8" fill="#7fd3c2"/><rect x="909.5" y="1208.8" width="5.5" height="21.8" fill="#7fd3c2"/><rect x="921.8" y="1208.8" width="3.7" height="21.8" fill="#7fd3c2"/><rect x="927.5" y="1208.8" width="3.9" height="21.8" fill="#7fd3c2"/><text x="784.7" y="1225.5" font-size="16.5" text-anchor="end">Col15a1</text><line x1="1058" y1="1219.7" x2="1247" y2="1219.7" stroke="#aaaaaa" stroke-width="1.3"/><path d="M1063 1216.5L1068 1219.7L1063 1222.9" fill="none" stroke="#999" stroke-width="1.3"/><path d="M1090 1216.5L1095 1219.7L1090 1222.9" fill="none" stroke="#999" stroke-width="1.3"/><path d="M1118 1216.5L1123 1219.7L1118 1222.9" fill="none" stroke="#999" stroke-width="1.3"/><rect x="1054.3" y="1208.8" width="3.7" height="21.8" fill="#7fd3c2"/><rect x="1149" y="1208.8" width="2.6" height="21.8" fill="#7fd3c2"/><rect x="1177.9" y="1208.8" width="2.5" height="21.8" fill="#7fd3c2"/><rect x="1188" y="1208.8" width="2.7" height="21.8" fill="#7fd3c2"/><rect x="1207.4" y="1208.8" width="3.9" height="21.8" fill="#7fd3c2"/><rect x="1215.5" y="1208.8" width="2.3" height="21.8" fill="#7fd3c2"/><rect x="1220.2" y="1208.8" width="2.5" height="21.8" fill="#7fd3c2"/><rect x="1232.4" y="1208.8" width="14.5" height="21.8" fill="#7fd3c2"/><text x="1047" y="1225.5" font-size="16.5" text-anchor="end" font-weight="bold" textLength="45.6" lengthAdjust="spacingAndGlyphs">Tgfbr1</text><rect x="1416.7" y="1208.8" width="9" height="21.8" fill="#7fd3c2"/><rect x="1428.3" y="1208.8" width="3.7" height="21.8" fill="#7fd3c2"/><line x1="1425.7" y1="1219.7" x2="1428.3" y2="1219.7" stroke="#aaaaaa" stroke-width="1.2"/><text x="1409" y="1225.5" font-size="16.5" text-anchor="end">Alg2</text><line x1="1430.5" y1="1249" x2="1459.4" y2="1249" stroke="#aaaaaa" stroke-width="1.3"/><rect x="1430.5" y="1237.5" width="3.2" height="22" fill="#7fd3c2"/><rect x="1447.5" y="1237.5" width="3.2" height="22" fill="#7fd3c2"/><rect x="1456.2" y="1237.5" width="3.2" height="22" fill="#7fd3c2"/><text x="1424.7" y="1255" font-size="16.5" text-anchor="end">Sec61b</text><rect x="810.5" y="1266" width="3" height="20.8" fill="#3a3af0"/><rect x="1055.5" y="1266" width="4" height="20.8" fill="#3a3af0"/><rect x="1314.5" y="1266" width="3" height="20.8" fill="#3a3af0"/><rect x="1523.1" y="1266" width="3" height="20.8" fill="#3a3af0"/><text x="782" y="1285.5" font-size="16.5" text-anchor="end">Runx1</text><rect x="808.9" y="778.3" width="6.5" height="512.7" fill="#ffb0b0" fill-opacity="0.18" stroke="#f7a8a8" stroke-width="1"/><rect x="1054.2" y="778.3" width="6.3" height="512.7" fill="#ffb0b0" fill-opacity="0.18" stroke="#f7a8a8" stroke-width="1"/><rect x="1313.4" y="778.3" width="6.3" height="512.7" fill="#ffb0b0" fill-opacity="0.18" stroke="#f7a8a8" stroke-width="1"/><rect x="1521.2" y="778.3" width="6.3" height="512.7" fill="#ffb0b0" fill-opacity="0.18" stroke="#f7a8a8" stroke-width="1"/><text x="810.8" y="758.4" font-size="16.8" text-anchor="middle">B1</text><text x="1056.3" y="758.4" font-size="16.8" text-anchor="middle">B2</text><text x="1314.6" y="758.4" font-size="16.8" text-anchor="middle">B3</text><text x="1522.2" y="758.4" font-size="16.8" text-anchor="middle">B4</text><text x="1811.9" y="660.3" font-size="23" text-anchor="middle">B4</text><text x="1761.9" y="700.6" font-size="16" text-anchor="middle">Raw</text><text x="1669.2" y="745.4" font-size="14" font-weight="bold" textLength="183.2" lengthAdjust="spacingAndGlyphs">Cor: −0.132729595538522</text><line x1="1669.2" y1="755.6" x2="1669.2" y2="963.1" stroke="#222" stroke-width="1.2"/><line x1="1668.6" y1="962.5" x2="1881.4" y2="962.5" stroke="#222" stroke-width="1.2"/><line x1="1666.2" y1="941.5" x2="1669.2" y2="941.5" stroke="#222" stroke-width="1"/><text x="1664.2" y="945.5" font-size="11.5" text-anchor="end">0</text><line x1="1666.2" y1="907.3" x2="1669.2" y2="907.3" stroke="#222" stroke-width="1"/><text x="1664.2" y="911.3" font-size="11.5" text-anchor="end">1</text><line x1="1666.2" y1="873.1" x2="1669.2" y2="873.1" stroke="#222" stroke-width="1"/><text x="1664.2" y="877.1" font-size="11.5" text-anchor="end">2</text><line x1="1666.2" y1="838.9" x2="1669.2" y2="838.9" stroke="#222" stroke-width="1"/><text x="1664.2" y="842.9" font-size="11.5" text-anchor="end">3</text><line x1="1666.2" y1="804.7" x2="1669.2" y2="804.7" stroke="#222" stroke-width="1"/><text x="1664.2" y="808.7" font-size="11.5" text-anchor="end">4</text><line x1="1666.2" y1="770.5" x2="1669.2" y2="770.5" stroke="#222" stroke-width="1"/><text x="1664.2" y="774.5" font-size="11.5" text-anchor="end">5</text><line x1="1703.6" y1="962.5" x2="1703.6" y2="965.5" stroke="#222" stroke-width="1"/><text x="1703.6" y="977" font-size="11.5" text-anchor="middle">−2</text><line x1="1761.4" y1="962.5" x2="1761.4" y2="965.5" stroke="#222" stroke-width="1"/><text x="1761.4" y="977" font-size="11.5" text-anchor="middle">0</text><line x1="1819.2" y1="962.5" x2="1819.2" y2="965.5" stroke="#222" stroke-width="1"/><text x="1819.2" y="977" font-size="11.5" text-anchor="middle">2</text><line x1="1877" y1="962.5" x2="1877" y2="965.5" stroke="#222" stroke-width="1"/><text x="1877" y="977" font-size="11.5" text-anchor="middle">4</text><circle cx="1721.6" cy="775.8" r="2.3" fill="#1f4fbe"/><circle cx="1756" cy="786" r="2.3" fill="#1a5acf"/><circle cx="1829.6" cy="765" r="2.3" fill="#1a5acf"/><circle cx="1771" cy="868.7" r="2.3" fill="#29389d"/><circle cx="1781.5" cy="871.9" r="2.3" fill="#2db39a"/><circle cx="1775.6" cy="880" r="2.3" fill="#29389d"/><circle cx="1780.7" cy="880.5" r="2.3" fill="#dab348"/><circle cx="1758.4" cy="903.4" r="2.3" fill="#186ed8"/><circle cx="1731.3" cy="912.2" r="2.3" fill="#1a75d2"/><circle cx="1774" cy="915.5" r="2.3" fill="#29389d"/><circle cx="1783.4" cy="915.2" r="2.3" fill="#29389d"/><circle cx="1797.4" cy="916.5" r="2.3" fill="#1a75d2"/><circle cx="1773.7" cy="925.1" r="2.3" fill="#29389d"/><circle cx="1812.9" cy="927.5" r="2.3" fill="#29389d"/><circle cx="1817.2" cy="925.9" r="2.3" fill="#29389d"/><circle cx="1678.6" cy="953.1" r="2.3" fill="#2248b4"/><circle cx="1697.7" cy="953.1" r="2.3" fill="#186ed8"/><circle cx="1710.9" cy="953.1" r="2.3" fill="#1a75d2"/><circle cx="1714.9" cy="953.1" r="2.3" fill="#f3c731"/><circle cx="1718.9" cy="953.1" r="2.3" fill="#186ed8"/><circle cx="1722.2" cy="953.1" r="2.3" fill="#2db39a"/><circle cx="1725.6" cy="953.1" r="2.3" fill="#f4ce2d"/><circle cx="1733.7" cy="953.1" r="2.3" fill="#29389d"/><circle cx="1735.3" cy="953.1" r="2.3" fill="#2443ae"/><circle cx="1737.7" cy="953.1" r="2.3" fill="#186ed8"/><circle cx="1743.1" cy="953.1" r="2.3" fill="#2db39a"/><circle cx="1748.5" cy="953.1" r="2.3" fill="#f4ce2d"/><circle cx="1751.2" cy="953.1" r="2.3" fill="#2443ae"/><circle cx="1753.8" cy="953.1" r="2.3" fill="#29389d"/><circle cx="1757.9" cy="953.1" r="2.3" fill="#29389d"/><circle cx="1761.9" cy="953.1" r="2.3" fill="#28a3a8"/><circle cx="1765.1" cy="953.1" r="2.3" fill="#1f84c4"/><circle cx="1767.8" cy="953.1" r="2.3" fill="#2bada0"/><circle cx="1770.5" cy="953.1" r="2.3" fill="#2394b6"/><circle cx="1774" cy="953.1" r="2.3" fill="#29389d"/><circle cx="1775.9" cy="953.1" r="2.3" fill="#29389d"/><circle cx="1777.2" cy="953.1" r="2.3" fill="#263fa7"/><circle cx="1782" cy="953.1" r="2.3" fill="#29389d"/><circle cx="1784.7" cy="953.1" r="2.3" fill="#186ed8"/><circle cx="1787.4" cy="953.1" r="2.3" fill="#f4d22a"/><circle cx="1794.1" cy="953.1" r="2.3" fill="#186ed8"/><circle cx="1796.8" cy="953.1" r="2.3" fill="#186ed8"/><circle cx="1808.1" cy="953.1" r="2.3" fill="#f2b33d"/><circle cx="1811.6" cy="953.1" r="2.3" fill="#29389d"/><circle cx="1815.1" cy="953.1" r="2.3" fill="#2394b6"/><circle cx="1818.8" cy="953.1" r="2.3" fill="#29389d"/><circle cx="1871.5" cy="953.1" r="2.3" fill="#29389d"/><text x="1775.3" y="992.1" font-size="11.5" text-anchor="middle">RNA</text><text x="1650.5" y="859" font-size="11.5" text-anchor="middle" transform="rotate(-90 1650.5 859)">ATAC</text><text x="1895.4" y="824.1" font-size="11.5">PseudoTime</text><rect x="1895.4" y="832.2" width="14.2" height="2.21" fill="#2e2d8c"/><rect x="1895.4" y="834.01" width="14.2" height="2.21" fill="#2b3395"/><rect x="1895.4" y="835.83" width="14.2" height="2.21" fill="#29389d"/><rect x="1895.4" y="837.64" width="14.2" height="2.21" fill="#263ea6"/><rect x="1895.4" y="839.45" width="14.2" height="2.21" fill="#2444ae"/><rect x="1895.4" y="841.26" width="14.2" height="2.21" fill="#214ab7"/><rect x="1895.4" y="843.08" width="14.2" height="2.21" fill="#1f4fc0"/><rect x="1895.4" y="844.89" width="14.2" height="2.21" fill="#1c55c8"/><rect x="1895.4" y="846.7" width="14.2" height="2.21" fill="#195bd1"/><rect x="1895.4" y="848.51" width="14.2" height="2.21" fill="#1761da"/><rect x="1895.4" y="850.33" width="14.2" height="2.21" fill="#1667de"/><rect x="1895.4" y="852.14" width="14.2" height="2.21" fill="#186fd7"/><rect x="1895.4" y="853.95" width="14.2" height="2.21" fill="#1b77d0"/><rect x="1895.4" y="855.76" width="14.2" height="2.21" fill="#1d7fc9"/><rect x="1895.4" y="857.58" width="14.2" height="2.21" fill="#1f87c1"/><rect x="1895.4" y="859.39" width="14.2" height="2.21" fill="#228fba"/><rect x="1895.4" y="861.2" width="14.2" height="2.21" fill="#2497b3"/><rect x="1895.4" y="863.01" width="14.2" height="2.21" fill="#279fac"/><rect x="1895.4" y="864.83" width="14.2" height="2.21" fill="#29a7a5"/><rect x="1895.4" y="866.64" width="14.2" height="2.21" fill="#2caf9e"/><rect x="1895.4" y="868.45" width="14.2" height="2.21" fill="#37b395"/><rect x="1895.4" y="870.26" width="14.2" height="2.21" fill="#4bb38c"/><rect x="1895.4" y="872.08" width="14.2" height="2.21" fill="#60b382"/><rect x="1895.4" y="873.89" width="14.2" height="2.21" fill="#74b379"/><rect x="1895.4" y="875.7" width="14.2" height="2.21" fill="#88b36f"/><rect x="1895.4" y="877.51" width="14.2" height="2.21" fill="#9cb366"/><rect x="1895.4" y="879.33" width="14.2" height="2.21" fill="#b0b35c"/><rect x="1895.4" y="881.14" width="14.2" height="2.21" fill="#c5b352"/><rect x="1895.4" y="882.95" width="14.2" height="2.21" fill="#d9b349"/><rect x="1895.4" y="884.76" width="14.2" height="2.21" fill="#edb33f"/><rect x="1895.4" y="886.58" width="14.2" height="2.21" fill="#f2b73b"/><rect x="1895.4" y="888.39" width="14.2" height="2.21" fill="#f3bc37"/><rect x="1895.4" y="890.2" width="14.2" height="2.21" fill="#f3c134"/><rect x="1895.4" y="892.01" width="14.2" height="2.21" fill="#f3c731"/><rect x="1895.4" y="893.83" width="14.2" height="2.21" fill="#f3cc2e"/><rect x="1895.4" y="895.64" width="14.2" height="2.21" fill="#f4d12b"/><rect x="1895.4" y="897.45" width="14.2" height="2.21" fill="#f4d628"/><rect x="1895.4" y="899.26" width="14.2" height="2.21" fill="#f4dc24"/><rect x="1895.4" y="901.08" width="14.2" height="2.21" fill="#f5e121"/><rect x="1895.4" y="902.89" width="14.2" height="2.21" fill="#f5e61e"/><text x="1916" y="841" font-size="11.5">100</text><text x="1916" y="859.5" font-size="11.5">75</text><text x="1916" y="877.8" font-size="11.5">50</text><text x="1916" y="896.2" font-size="11.5">25</text><text x="1786" y="1055.2" font-size="23.5" text-anchor="middle">scOpen</text><text x="1682.7" y="1092.3" font-size="14" font-weight="bold" textLength="174" lengthAdjust="spacingAndGlyphs">Cor: 0.408261263112973</text><line x1="1682.7" y1="1102.2" x2="1682.7" y2="1309.6" stroke="#222" stroke-width="1.2"/><line x1="1682.1" y1="1309" x2="1888.1" y2="1309" stroke="#222" stroke-width="1.2"/><line x1="1679.7" y1="1296.3" x2="1682.7" y2="1296.3" stroke="#222" stroke-width="1"/><text x="1677.7" y="1300.3" font-size="11.5" text-anchor="end">−1</text><line x1="1679.7" y1="1249.4" x2="1682.7" y2="1249.4" stroke="#222" stroke-width="1"/><text x="1677.7" y="1253.4" font-size="11.5" text-anchor="end">0</text><line x1="1679.7" y1="1202.5" x2="1682.7" y2="1202.5" stroke="#222" stroke-width="1"/><text x="1677.7" y="1206.5" font-size="11.5" text-anchor="end">1</text><line x1="1679.7" y1="1155.6" x2="1682.7" y2="1155.6" stroke="#222" stroke-width="1"/><text x="1677.7" y="1159.6" font-size="11.5" text-anchor="end">2</text><line x1="1679.7" y1="1108.7" x2="1682.7" y2="1108.7" stroke="#222" stroke-width="1"/><text x="1677.7" y="1112.7" font-size="11.5" text-anchor="end">3</text><line x1="1716" y1="1309" x2="1716" y2="1312" stroke="#222" stroke-width="1"/><text x="1716" y="1323.5" font-size="11.5" text-anchor="middle">−2</text><line x1="1771.8" y1="1309" x2="1771.8" y2="1312" stroke="#222" stroke-width="1"/><text x="1771.8" y="1323.5" font-size="11.5" text-anchor="middle">0</text><line x1="1827.6" y1="1309" x2="1827.6" y2="1312" stroke="#222" stroke-width="1"/><text x="1827.6" y="1323.5" font-size="11.5" text-anchor="middle">2</text><line x1="1883.4" y1="1309" x2="1883.4" y2="1312" stroke="#222" stroke-width="1"/><text x="1883.4" y="1323.5" font-size="11.5" text-anchor="middle">4</text><circle cx="1786.1" cy="1112.2" r="2.3" fill="#2c3193"/><circle cx="1820.5" cy="1119.1" r="2.3" fill="#2c3193"/><circle cx="1793.6" cy="1129.1" r="2.3" fill="#29389d"/><circle cx="1878.7" cy="1146" r="2.3" fill="#29389d"/><circle cx="1781.5" cy="1149.8" r="2.3" fill="#29389d"/><circle cx="1768.1" cy="1154.1" r="2.3" fill="#29389d"/><circle cx="1786.6" cy="1157.3" r="2.3" fill="#29389d"/><circle cx="1827.4" cy="1157.8" r="2.3" fill="#29389d"/><circle cx="1822.1" cy="1163.2" r="2.3" fill="#29389d"/><circle cx="1745.3" cy="1174.2" r="2.3" fill="#2443ae"/><circle cx="1766.7" cy="1175.3" r="2.3" fill="#2443ae"/><circle cx="1825.8" cy="1174.2" r="2.3" fill="#263fa7"/><circle cx="1837.6" cy="1172.6" r="2.3" fill="#185ed6"/><circle cx="1784.2" cy="1178.8" r="2.3" fill="#29389d"/><circle cx="1784.2" cy="1184.1" r="2.3" fill="#29389d"/><circle cx="1733.4" cy="1202.1" r="2.3" fill="#1f4fbe"/><circle cx="1761.4" cy="1202.9" r="2.3" fill="#1a5acf"/><circle cx="1765.1" cy="1217.7" r="2.3" fill="#1565e0"/><circle cx="1691.5" cy="1225" r="2.3" fill="#2443ae"/><circle cx="1764.9" cy="1225.2" r="2.3" fill="#186ed8"/><circle cx="1823.7" cy="1225.5" r="2.3" fill="#186ed8"/><circle cx="1776.1" cy="1227.4" r="2.3" fill="#1a75d2"/><circle cx="1787.2" cy="1231.7" r="2.3" fill="#1565e0"/><circle cx="1804.1" cy="1233.3" r="2.3" fill="#186ed8"/><circle cx="1755.5" cy="1234.6" r="2.3" fill="#1565e0"/><circle cx="1790.9" cy="1234.6" r="2.3" fill="#2248b4"/><circle cx="1794.7" cy="1234.6" r="2.3" fill="#2443ae"/><circle cx="1778.6" cy="1234.1" r="2.3" fill="#2394b6"/><circle cx="1768.6" cy="1240" r="2.3" fill="#186ed8"/><circle cx="1723.2" cy="1245.1" r="2.3" fill="#186ed8"/><circle cx="1784.5" cy="1241.3" r="2.3" fill="#186ed8"/><circle cx="1806.8" cy="1242.2" r="2.3" fill="#218ebc"/><circle cx="1710.6" cy="1249.9" r="2.3" fill="#1565e0"/><circle cx="1759.8" cy="1245.6" r="2.3" fill="#2394b6"/><circle cx="1772.6" cy="1243.8" r="2.3" fill="#218ebc"/><circle cx="1782" cy="1244.6" r="2.3" fill="#218ebc"/><circle cx="1794.1" cy="1243.2" r="2.3" fill="#2394b6"/><circle cx="1805.7" cy="1245.4" r="2.3" fill="#218ebc"/><circle cx="1791.5" cy="1248.6" r="2.3" fill="#28a3a8"/><circle cx="1730.5" cy="1252.1" r="2.3" fill="#186ed8"/><circle cx="1777.8" cy="1252.1" r="2.3" fill="#186ed8"/><circle cx="1768.6" cy="1255.3" r="2.3" fill="#1565e0"/><circle cx="1770.8" cy="1259.3" r="2.3" fill="#28a3a8"/><circle cx="1787.7" cy="1261.5" r="2.3" fill="#f2b33d"/><circle cx="1753" cy="1264.2" r="2.3" fill="#2db39a"/><circle cx="1734.2" cy="1267.7" r="2.3" fill="#2db39a"/><circle cx="1790.6" cy="1266.3" r="2.3" fill="#cbb350"/><circle cx="1748.5" cy="1266.9" r="2.3" fill="#186ed8"/><circle cx="1780.2" cy="1268.2" r="2.3" fill="#2db39a"/><circle cx="1744.4" cy="1268.7" r="2.3" fill="#f2b33d"/><circle cx="1756.5" cy="1270.1" r="2.3" fill="#f3bd37"/><circle cx="1728.6" cy="1273.8" r="2.3" fill="#54b387"/><circle cx="1742.3" cy="1274.9" r="2.3" fill="#1f84c4"/><circle cx="1745.3" cy="1272.8" r="2.3" fill="#2db39a"/><circle cx="1758.7" cy="1275.5" r="2.3" fill="#7cb375"/><circle cx="1765.4" cy="1276.3" r="2.3" fill="#f2b33d"/><circle cx="1771.6" cy="1277.3" r="2.3" fill="#2db39a"/><circle cx="1779.4" cy="1277.3" r="2.3" fill="#a3b362"/><circle cx="1785.5" cy="1277.6" r="2.3" fill="#f2b33d"/><circle cx="1818" cy="1276" r="2.3" fill="#f2b33d"/><circle cx="1746.6" cy="1279.5" r="2.3" fill="#2db39a"/><circle cx="1754.9" cy="1277.6" r="2.3" fill="#54b387"/><circle cx="1759.8" cy="1282.4" r="2.3" fill="#2db39a"/><circle cx="1746.3" cy="1283.5" r="2.3" fill="#cbb350"/><circle cx="1734.5" cy="1285.4" r="2.3" fill="#7cb375"/><circle cx="1753.8" cy="1284.9" r="2.3" fill="#54b387"/><circle cx="1771" cy="1283.5" r="2.3" fill="#cbb350"/><circle cx="1778.6" cy="1284.1" r="2.3" fill="#7cb375"/><circle cx="1782.9" cy="1280.3" r="2.3" fill="#f2b33d"/><circle cx="1796.8" cy="1281.9" r="2.3" fill="#f2b33d"/><circle cx="1750.4" cy="1287.5" r="2.3" fill="#a3b362"/><circle cx="1778" cy="1288.9" r="2.3" fill="#54b387"/><circle cx="1736.4" cy="1291" r="2.3" fill="#54b387"/><circle cx="1752.8" cy="1291.6" r="2.3" fill="#7cb375"/><circle cx="1790.1" cy="1291" r="2.3" fill="#f3bd37"/><circle cx="1793.3" cy="1291" r="2.3" fill="#7cb375"/><circle cx="1725.9" cy="1290.8" r="2.3" fill="#f2b33d"/><circle cx="1745.8" cy="1295.9" r="2.3" fill="#f4ce2d"/><circle cx="1757.3" cy="1297.5" r="2.3" fill="#f4d22a"/><circle cx="1760.8" cy="1296.9" r="2.3" fill="#f4ce2d"/><circle cx="1764.6" cy="1297.8" r="2.3" fill="#f4ce2d"/><circle cx="1771.8" cy="1294.8" r="2.3" fill="#f3c731"/><circle cx="1770.5" cy="1288.4" r="2.3" fill="#f3bd37"/><circle cx="1774.8" cy="1288.4" r="2.3" fill="#f3bd37"/><circle cx="1745.3" cy="1296.9" r="2.3" fill="#f3c731"/><circle cx="1788.2" cy="1298.6" r="2.3" fill="#f4d628"/><circle cx="1786.9" cy="1300.2" r="2.3" fill="#f4d22a"/><circle cx="1757.3" cy="1299.6" r="2.3" fill="#f4ce2d"/><text x="1785.3" y="1336" font-size="11.5" text-anchor="middle">RNA</text><text x="1657.2" y="1205.6" font-size="11.5" text-anchor="middle" transform="rotate(-90 1657.2 1205.6)">ATAC</text><text x="1902.1" y="1170.7" font-size="11.5">PseudoTime</text><rect x="1902.1" y="1180.1" width="14.8" height="2.19" fill="#2e2d8c"/><rect x="1902.1" y="1181.89" width="14.8" height="2.19" fill="#2b3395"/><rect x="1902.1" y="1183.68" width="14.8" height="2.19" fill="#29389d"/><rect x="1902.1" y="1185.48" width="14.8" height="2.19" fill="#263ea6"/><rect x="1902.1" y="1187.27" width="14.8" height="2.19" fill="#2444ae"/><rect x="1902.1" y="1189.06" width="14.8" height="2.19" fill="#214ab7"/><rect x="1902.1" y="1190.86" width="14.8" height="2.19" fill="#1f4fc0"/><rect x="1902.1" y="1192.65" width="14.8" height="2.19" fill="#1c55c8"/><rect x="1902.1" y="1194.44" width="14.8" height="2.19" fill="#195bd1"/><rect x="1902.1" y="1196.23" width="14.8" height="2.19" fill="#1761da"/><rect x="1902.1" y="1198.02" width="14.8" height="2.19" fill="#1667de"/><rect x="1902.1" y="1199.82" width="14.8" height="2.19" fill="#186fd7"/><rect x="1902.1" y="1201.61" width="14.8" height="2.19" fill="#1b77d0"/><rect x="1902.1" y="1203.4" width="14.8" height="2.19" fill="#1d7fc9"/><rect x="1902.1" y="1205.19" width="14.8" height="2.19" fill="#1f87c1"/><rect x="1902.1" y="1206.99" width="14.8" height="2.19" fill="#228fba"/><rect x="1902.1" y="1208.78" width="14.8" height="2.19" fill="#2497b3"/><rect x="1902.1" y="1210.57" width="14.8" height="2.19" fill="#279fac"/><rect x="1902.1" y="1212.37" width="14.8" height="2.19" fill="#29a7a5"/><rect x="1902.1" y="1214.16" width="14.8" height="2.19" fill="#2caf9e"/><rect x="1902.1" y="1215.95" width="14.8" height="2.19" fill="#37b395"/><rect x="1902.1" y="1217.74" width="14.8" height="2.19" fill="#4bb38c"/><rect x="1902.1" y="1219.53" width="14.8" height="2.19" fill="#60b382"/><rect x="1902.1" y="1221.33" width="14.8" height="2.19" fill="#74b379"/><rect x="1902.1" y="1223.12" width="14.8" height="2.19" fill="#88b36f"/><rect x="1902.1" y="1224.91" width="14.8" height="2.19" fill="#9cb366"/><rect x="1902.1" y="1226.7" width="14.8" height="2.19" fill="#b0b35c"/><rect x="1902.1" y="1228.5" width="14.8" height="2.19" fill="#c5b352"/><rect x="1902.1" y="1230.29" width="14.8" height="2.19" fill="#d9b349"/><rect x="1902.1" y="1232.08" width="14.8" height="2.19" fill="#edb33f"/><rect x="1902.1" y="1233.88" width="14.8" height="2.19" fill="#f2b73b"/><rect x="1902.1" y="1235.67" width="14.8" height="2.19" fill="#f3bc37"/><rect x="1902.1" y="1237.46" width="14.8" height="2.19" fill="#f3c134"/><rect x="1902.1" y="1239.25" width="14.8" height="2.19" fill="#f3c731"/><rect x="1902.1" y="1241.04" width="14.8" height="2.19" fill="#f3cc2e"/><rect x="1902.1" y="1242.84" width="14.8" height="2.19" fill="#f4d12b"/><rect x="1902.1" y="1244.63" width="14.8" height="2.19" fill="#f4d628"/><rect x="1902.1" y="1246.42" width="14.8" height="2.19" fill="#f4dc24"/><rect x="1902.1" y="1248.21" width="14.8" height="2.19" fill="#f5e121"/><rect x="1902.1" y="1250.01" width="14.8" height="2.19" fill="#f5e61e"/><text x="1923" y="1186.5" font-size="11.5">100</text><text x="1923" y="1202.6" font-size="11.5">75</text><text x="1923" y="1220.6" font-size="11.5">50</text><text x="1923" y="1238.9" font-size="11.5">25</text>
<text x="3" y="27" font-size="22" font-weight="bold">a</text><text x="2" y="442.4" font-size="22" font-weight="bold">b</text><text x="417.8" y="25.4" font-size="22" font-weight="bold">c</text><text x="816.9" y="25.8" font-size="22" font-weight="bold">d</text><text x="1219" y="12" font-size="22" font-weight="bold">e</text><text x="1221" y="306.4" font-size="22" font-weight="bold">f</text><text x="2" y="756.6" font-size="22" font-weight="bold">g</text><text x="363" y="754.6" font-size="22" font-weight="bold">h</text><text x="711.5" y="755" font-size="22" font-weight="bold">i</text><text x="1613" y="753" font-size="22" font-weight="bold">j</text>
</svg>
</body></html>
